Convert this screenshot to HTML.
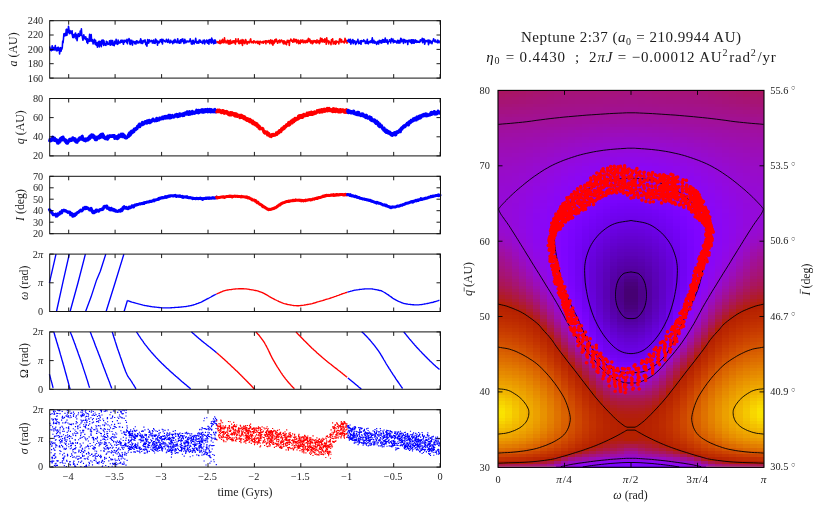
<!DOCTYPE html>
<html><head><meta charset="utf-8"><title>Neptune 2:37</title>
<style>
html,body{margin:0;padding:0;background:#fff;}
svg{display:block;}
text{font-family:"Liberation Serif",serif;fill:#1c1c1c;}

</style></head><body>
<svg width="830" height="508" viewBox="0 0 830 508">
<defs><filter id="idf" filterUnits="userSpaceOnUse" x="0" y="0" width="830" height="508" color-interpolation-filters="sRGB"><feOffset dx="0" dy="0"/></filter></defs>
<rect width="830" height="508" fill="#fff"/>
<g id="left">
<path d="M49.4 47.4 49.8 47.1 50.2 48.6 50.6 50.2 51 49.4 51.4 50.7 51.8 48.4 52.2 45.7 52.6 49.8 52.9 50.1 53.3 47.5 53.7 47.6 54.1 47.9 54.5 49.9 54.9 47.6 55.3 45.6 55.7 49.9 56.1 47.7 56.5 50.8 56.8 49.4 57.2 50.8 57.6 47.6 58 50.2 58.4 47.2 58.8 47.7 59.2 48.7 59.6 53.9 60 49.5 60.4 48.3 60.7 47.7 61.1 51.1 61.5 48.5 61.9 49.1 62.3 47.3 62.7 41 63.1 42.8 63.5 38.5 63.9 33.8 64.3 36 64.6 34.3 65 33.4 65.4 33.2 65.8 35.7 66.2 29.6 66.6 29.2 67 35.3 67.4 29.5 67.8 30.9 68.2 32.3 68.5 26.3 68.9 29.1 69.3 33.7 69.7 31.3 70.1 30.7 70.5 32.9 70.9 31.5 71.3 33.6 71.7 32.2 72.1 30.8 72.4 35.7 72.8 37.5 73.2 35.6 73.6 34.5 74 37.6 74.4 36.4 74.8 35.7 75.2 33.4 75.6 33 76 38.7 76.3 37.7 76.7 34.7 77.1 40.7 77.5 37.5 77.9 36.7 78.3 33.6 78.7 34.6 79.1 36.5 79.5 36.1 79.9 35.4 80.2 31.1 80.6 35.3 81 35.1 81.4 28.8 81.8 35.3 82.2 36 82.6 38.5 83 40.2 83.4 38 83.8 34.8 84.1 36.3 84.5 38.1 84.9 36.9 85.3 39.5 85.7 36.7 86.1 39.3 86.5 38.2 86.9 42.5 87.3 38.9 87.7 43.5 88 39.2 88.4 40.3 88.8 41.5 89.2 39.1 89.6 34.4 90 41.2 90.4 40.8 90.8 39.2 91.2 34.6 91.6 40.8 91.9 41.3 92.3 39.6 92.7 40.3 93.1 43.9 93.5 41.9 93.9 41.8 94.3 39.4 94.7 41.6 95.1 44.2 95.5 40.2 95.8 42 96.2 45.2 96.6 43.9 97 42.9 97.4 47.2 97.8 45.4 98.2 42.1 98.6 43.4 99 41.2 99.3 47 99.7 41.5 100.1 45.1 100.5 41.5 100.9 43 101.3 46.7 101.7 40.5 102.1 40.1 102.5 43.4 102.9 43.9 103.2 40.1 103.6 45.5 104 40.9 104.4 44.5 104.8 43.4 105.2 45.1 105.6 44.7 106 45.4 106.4 41.2 106.8 43.5 107.1 41.7 107.5 43.2 107.9 44.4 108.3 43.8 108.7 44.1 109.1 43.1 109.5 40.9 109.9 43.6 110.3 45.3 110.7 44.3 111 40.2 111.4 44 111.8 44.6 112.2 42.3 112.6 40.5 113 45.2 113.4 43.1 113.8 43.7 114.2 45.6 114.6 41.4 114.9 42.6 115.3 42.4 115.7 43.8 116.1 39.2 116.5 43.4 116.9 42.7 117.3 44.2 117.7 44.4 118.1 40.1 118.5 43.1 118.8 41.8 119.2 42.3 119.6 42.9 120 43 120.4 41.1 120.8 40.4 121.2 42.3 121.6 42 122 40.1 122.4 40.8 122.7 41.3 123.1 42.9 123.5 44.2 123.9 40.3 124.3 40.3 124.7 42.1 125.1 40.9 125.5 40.5 125.9 40.4 126.3 40.3 126.6 42.5 127 39.3 127.4 43.8 127.8 40.3 128.2 40.9 128.6 40.3 129 38.6 129.4 39.3 129.8 43.6 130.2 44.5 130.5 40.3 130.9 43.3 131.3 41.7 131.7 40.3 132.1 44.4 132.5 45.1 132.9 41.2 133.3 41.5 133.7 42 134.1 41.5 134.4 42.8 134.8 43.7 135.2 41.8 135.6 42.9 136 43.9 136.4 40.9 136.8 41.6 137.2 41 137.6 42.9 138 42.5 138.3 42.9 138.7 42.8 139.1 41.3 139.5 42.6 139.9 41 140.3 41 140.7 38.7 141.1 43.5 141.5 40.3 141.9 41.6 142.2 41.5 142.6 43.5 143 42.2 143.4 40.5 143.8 41.6 144.2 41.4 144.6 41.9 145 39.9 145.4 41.5 145.8 44.6 146.1 42.5 146.5 44.3 146.9 46.1 147.3 42.2 147.7 39.6 148.1 41.4 148.5 43.1 148.9 42.8 149.3 39.9 149.7 41.3 150 41.4 150.4 41.6 150.8 41.5 151.2 40.4 151.6 40.7 152 41.2 152.4 43 152.8 40.8 153.2 42.5 153.6 40 153.9 43.3 154.3 41.7 154.7 41.5 155.1 43.4 155.5 39.1 155.9 39.5 156.3 42.2 156.7 40.4 157.1 41 157.5 45.2 157.8 41.2 158.2 41.6 158.6 41.4 159 43 159.4 41.9 159.8 41.8 160.2 39.8 160.6 41 161 41.5 161.4 39.4 161.7 42.3 162.1 42.1 162.5 44 162.9 39.3 163.3 40.2 163.7 40.2 164.1 40.6 164.5 41.4 164.9 41.2 165.3 41.9 165.6 41.8 166 41.4 166.4 39.4 166.8 40.7 167.2 41.6 167.6 42.3 168 42.4 168.4 39.3 168.8 40.8 169.2 41.4 169.5 42 169.9 43.1 170.3 41.6 170.7 40.3 171.1 42.1 171.5 41.8 171.9 41.8 172.3 41.4 172.7 43.7 173.1 41.8 173.4 42.7 173.8 40.3 174.2 42.6 174.6 40.7 175 39.4 175.4 41.9 175.8 42.3 176.2 41.2 176.6 41.5 177 42.9 177.3 40.9 177.7 38.7 178.1 41.9 178.5 41.8 178.9 43 179.3 41.1 179.7 43.3 180.1 43.1 180.5 39.7 180.9 42.8 181.2 40 181.6 39.4 182 41.1 182.4 40.7 182.8 38.8 183.2 41.8 183.6 42.3 184 43.4 184.4 41.4 184.8 39.4 185.1 40.2 185.5 42.8 185.9 42.7 186.3 42.2 186.7 41.1 187.1 41.8 187.5 41.2 187.9 41.1 188.3 41.9 188.7 41.6 189 41.2 189.4 41.6 189.8 40.8 190.2 38.9 190.6 40.7 191 41.4 191.4 43.9 191.8 41 192.2 44.2 192.6 43.5 192.9 40.3 193.3 40.5 193.7 41.7 194.1 43.9 194.5 42 194.9 42.5 195.3 40.6 195.7 38.3 196.1 41.2 196.5 42.6 196.8 43.1 197.2 41.6 197.6 41.8 198 43.1 198.4 41.3 198.8 43.1 199.2 40 199.6 40 200 40 200.4 42.2 200.7 40.8 201.1 41.7 201.5 42.1 201.9 42 202.3 43.3 202.7 43.5 203.1 40.4 203.5 41.8 203.9 41.2 204.3 40.1 204.6 43.9 205 42.6 205.4 41.3 205.8 41 206.2 42 206.6 40.1 207 41.2 207.4 43.2 207.8 42.8 208.2 40.4 208.5 40.9 208.9 44.2 209.3 39.6 209.7 40.7 210.1 39.6 210.5 42 210.9 41.9 211.3 43.1 211.7 38 212.1 41.8 212.4 39.3 212.8 42.4 213.2 41.3 213.6 43.8 214 42 214.4 40.1 214.8 43.3 215.2 40 215.6 41 216 43 216.3 42.2 216.7 42.1" fill="none" stroke="#0000ff" stroke-width="1.6" stroke-linejoin="round" />
<path d="M216.7 42.1 217.1 41.6 217.5 42.3 217.9 42.7 218.3 41.9 218.7 42.9 219.1 43.3 219.5 41.6 219.9 40.3 220.2 43.6 220.6 41.5 221 42.4 221.4 42.9 221.8 40.3 222.2 42.2 222.6 39.4 223 42.6 223.4 41 223.8 41.8 224.1 42.6 224.5 37.8 224.9 41.7 225.3 40.7 225.7 41.6 226.1 43 226.5 41.7 226.9 41.4 227.3 40.2 227.6 42.8 228 41.6 228.4 43.9 228.8 40.6 229.2 43 229.6 44 230 41.6 230.4 40 230.8 43.6 231.2 43 231.5 42.5 231.9 43.1 232.3 41 232.7 42.6 233.1 42.5 233.5 40.7 233.9 42.6 234.3 40.9 234.7 42.9 235.1 43.2 235.4 44.1 235.8 38.9 236.2 42 236.6 41.2 237 41.6 237.4 41.3 237.8 41.4 238.2 38.8 238.6 43 239 43.7 239.3 42.9 239.7 43.4 240.1 40.5 240.5 40.4 240.9 42.9 241.3 43.5 241.7 42 242.1 39.6 242.5 45.5 242.9 40.8 243.2 43 243.6 40.1 244 43 244.4 41.9 244.8 43.6 245.2 42.9 245.6 39.6 246 40.4 246.4 42.1 246.8 42.7 247.1 44.2 247.5 42.1 247.9 41.6 248.3 41.6 248.7 41.6 249.1 43.1 249.5 41.6 249.9 41.6 250.3 39.7 250.7 38.9 251 41.7 251.4 42.6 251.8 41.6 252.2 42.4 252.6 42.5 253 41.6 253.4 43 253.8 40.7 254.2 41.7 254.6 41.2 254.9 41.8 255.3 42.5 255.7 42.8 256.1 41.8 256.5 42.3 256.9 41.2 257.3 41.5 257.7 43.4 258.1 41.4 258.5 43.4 258.8 42.4 259.2 41.9 259.6 44.4 260 41.4 260.4 41.3 260.8 41.7 261.2 42.1 261.6 42 262 42.9 262.4 41.9 262.7 42.3 263.1 41.4 263.5 43.2 263.9 41.2 264.3 41.3 264.7 41.7 265.1 42.1 265.5 40.7 265.9 43.8 266.3 40.9 266.6 41.2 267 41.1 267.4 41 267.8 42.4 268.2 41.9 268.6 40.6 269 40.9 269.4 41.2 269.8 43.6 270.2 40.8 270.5 39.9 270.9 40.1 271.3 41.2 271.7 43.7 272.1 40.2 272.5 41.7 272.9 45.1 273.3 41 273.7 43.6 274.1 43.3 274.4 42.4 274.8 39.7 275.2 42 275.6 41.1 276 39.1 276.4 39.3 276.8 41.7 277.2 41.8 277.6 43.3 278 42.5 278.3 40.9 278.7 41 279.1 41.4 279.5 40.1 279.9 42.6 280.3 41.6 280.7 40.5 281.1 40.7 281.5 40 281.9 41 282.2 41.9 282.6 41 283 42.9 283.4 43.8 283.8 40.7 284.2 41.6 284.6 41.1 285 43.9 285.4 42 285.8 42.3 286.1 42.7 286.5 44.7 286.9 42 287.3 40.3 287.7 41 288.1 42.3 288.5 41.5 288.9 40.4 289.3 45.4 289.7 41.7 290 40.7 290.4 40.6 290.8 39.1 291.2 39.9 291.6 41.1 292 41.1 292.4 40.4 292.8 42.3 293.2 41.6 293.6 40.2 293.9 38.8 294.3 41.7 294.7 41.6 295.1 41.2 295.5 39.6 295.9 41.5 296.3 39.5 296.7 42.9 297.1 41.8 297.5 41.8 297.8 40.4 298.2 40 298.6 43.6 299 42.8 299.4 41 299.8 42.4 300.2 43.6 300.6 40.1 301 40.8 301.4 40.8 301.7 42.2 302.1 40.1 302.5 41.8 302.9 40 303.3 42.8 303.7 42.7 304.1 41.2 304.5 42.5 304.9 40.6 305.3 41.1 305.6 42.8 306 41.4 306.4 42 306.8 40.2 307.2 42.4 307.6 42.1 308 39.8 308.4 38.4 308.8 38.7 309.2 41.4 309.5 41.2 309.9 39.4 310.3 41.7 310.7 42.9 311.1 41.3 311.5 40.9 311.9 42.7 312.3 43.8 312.7 43.5 313.1 40.6 313.4 42.6 313.8 41.7 314.2 41.2 314.6 40.6 315 42 315.4 40.8 315.8 42.8 316.2 42 316.6 42.9 317 39.9 317.3 41.5 317.7 42.5 318.1 42 318.5 41.8 318.9 40.5 319.3 43.7 319.7 43 320.1 42 320.5 38 320.9 40.2 321.2 41.7 321.6 40.5 322 38.6 322.4 41.8 322.8 42 323.2 39.8 323.6 40.8 324 40.6 324.4 42.2 324.8 38.8 325.1 39.1 325.5 40.7 325.9 40.6 326.3 44.3 326.7 37.7 327.1 41.8 327.5 40.9 327.9 40.6 328.3 42 328.7 43.9 329 41 329.4 42.5 329.8 42 330.2 42.4 330.6 42 331 44.7 331.4 39.8 331.8 41.2 332.2 40 332.6 38.7 332.9 41.5 333.3 44 333.7 42.8 334.1 43.2 334.5 42.2 334.9 41.4 335.3 44.3 335.7 41 336.1 43.6 336.5 41.1 336.8 41.7 337.2 41.9 337.6 41.6 338 42.3 338.4 42.4 338.8 43.9 339.2 41.5 339.6 38.9 340 38.7 340.4 39.7 340.7 40.5 341.1 42.5 341.5 39.5 341.9 41.6 342.3 41.6 342.7 41.9 343.1 41.4 343.5 42.1 343.9 41.6 344.3 43 344.6 42 345 38.3 345.4 39.5 345.8 41.8 346.2 40.8 346.6 40.5 347 43.1 347.4 41.8" fill="none" stroke="#ff0000" stroke-width="1.6" stroke-linejoin="round" />
<path d="M347.4 41.8 347.8 40.2 348.2 41.1 348.5 41.3 348.9 39.3 349.3 42.5 349.7 41.4 350.1 42.2 350.5 39.4 350.9 44.2 351.3 42.4 351.7 42.2 352.1 40.6 352.4 40.7 352.8 39.6 353.2 43.7 353.6 40.5 354 41.9 354.4 42.4 354.8 40.8 355.2 42.8 355.6 44.4 356 42 356.3 43.6 356.7 42.4 357.1 41 357.5 41.1 357.9 39.3 358.3 41.8 358.7 43.7 359.1 42.6 359.5 42.8 359.8 43.2 360.2 40.9 360.6 42.4 361 44.3 361.4 40.5 361.8 41.7 362.2 41 362.6 41.4 363 40.6 363.4 41.5 363.7 39.8 364.1 40.9 364.5 41 364.9 40.9 365.3 43.5 365.7 41.7 366.1 41.9 366.5 41.2 366.9 43.4 367.3 39.2 367.6 41.4 368 43.2 368.4 43.9 368.8 41.9 369.2 41.6 369.6 42.5 370 41.4 370.4 42.4 370.8 40.7 371.2 42.5 371.5 41.6 371.9 40.1 372.3 37.9 372.7 42.9 373.1 42.2 373.5 42.7 373.9 40.4 374.3 43.1 374.7 42.2 375.1 41.5 375.4 42.9 375.8 42.8 376.2 42.2 376.6 44.4 377 43.5 377.4 42.1 377.8 41.3 378.2 41.8 378.6 44 379 42.2 379.3 40.4 379.7 40.7 380.1 41.6 380.5 42.7 380.9 40.6 381.3 42.3 381.7 43.1 382.1 42.6 382.5 39.5 382.9 41.2 383.2 39.9 383.6 42.2 384 40.2 384.4 42.3 384.8 41.7 385.2 38 385.6 40.4 386 42.2 386.4 41.6 386.8 41.1 387.1 39.8 387.5 42.2 387.9 43.9 388.3 41.9 388.7 41.5 389.1 41.4 389.5 39.7 389.9 41.1 390.3 40.4 390.7 43 391 40.3 391.4 38.6 391.8 40.4 392.2 41.2 392.6 41.3 393 39 393.4 42.8 393.8 41.7 394.2 40.9 394.6 40.5 394.9 42.1 395.3 41.1 395.7 41.9 396.1 41.3 396.5 41.7 396.9 43.1 397.3 41.5 397.7 40.3 398.1 42.9 398.5 41.8 398.8 40.6 399.2 43 399.6 41.3 400 43 400.4 39.9 400.8 38.3 401.2 38.7 401.6 41.8 402 40.5 402.4 41.3 402.7 41.4 403.1 39.3 403.5 43.4 403.9 40 404.3 41.6 404.7 39.5 405.1 41.2 405.5 42.4 405.9 41.1 406.3 40.5 406.6 41.5 407 40.8 407.4 42.2 407.8 44.5 408.2 40.2 408.6 40.5 409 41.3 409.4 41.4 409.8 40.1 410.2 42.1 410.5 42.5 410.9 41.8 411.3 39.8 411.7 43.4 412.1 39.8 412.5 42.4 412.9 43 413.3 39.7 413.7 41.6 414.1 43.3 414.4 42 414.8 40.2 415.2 39.8 415.6 42.1 416 40.9 416.4 40.5 416.8 42.4 417.2 41 417.6 41.6 418 42.3 418.3 42.2 418.7 41.4 419.1 41.5 419.5 42.3 419.9 42.1 420.3 39.9 420.7 41.2 421.1 40.3 421.5 39.8 421.9 40.7 422.2 38.3 422.6 42.7 423 40.4 423.4 42 423.8 38.9 424.2 39.1 424.6 44.2 425 42.9 425.4 40.6 425.8 40.4 426.1 40.5 426.5 41.6 426.9 40.9 427.3 40.6 427.7 41.6 428.1 40.1 428.5 44.7 428.9 40.6 429.3 43 429.7 40.2 430 41.8 430.4 42.8 430.8 41 431.2 42.8 431.6 42.8 432 43.7 432.4 41.5 432.8 40.8 433.2 40.1 433.6 38.8 433.9 40 434.3 41.5 434.7 41.6 435.1 40.7 435.5 40 435.9 42 436.3 41.8 436.7 41.7 437.1 41.4 437.5 42.8 437.8 40.1 438.2 42.1 438.6 40.9 439 42.7 439.4 41 439.8 41" fill="none" stroke="#0000ff" stroke-width="1.6" stroke-linejoin="round" />
<path d="M68.7 78.1v-4M68.7 20.7v4M115.1 78.1v-4M115.1 20.7v4M161.6 78.1v-4M161.6 20.7v4M208.0 78.1v-4M208.0 20.7v4M254.4 78.1v-4M254.4 20.7v4M300.8 78.1v-4M300.8 20.7v4M347.2 78.1v-4M347.2 20.7v4M393.7 78.1v-4M393.7 20.7v4M440.1 78.1v-4M440.1 20.7v4M49.7 78.1h4M440.5 78.1h-4M49.7 63.7h4M440.5 63.7h-4M49.7 49.4h4M440.5 49.4h-4M49.7 35.0h4M440.5 35.0h-4M49.7 20.7h4M440.5 20.7h-4" stroke="#000" stroke-width="0.9" fill="none"/>
<rect x="49.7" y="20.7" width="390.8" height="57.4" fill="none" stroke="#111" stroke-width="1.0"/>
<path d="M49.4 141.8 49.8 140.2 50.1 139.2 50.4 141.1 50.7 139.5 51.1 139.3 51.4 140.6 51.7 139 52 139.5 52.4 139.7 52.7 137.1 53 140.1 53.3 139.4 53.7 138.6 54 139.3 54.3 140.5 54.6 138.1 55 140.5 55.3 140.3 55.6 139.2 55.9 139.4 56.3 139.4 56.6 141.4 56.9 140.8 57.2 141 57.6 143.1 57.9 140.6 58.2 143.3 58.5 141.4 58.9 142.2 59.2 142.3 59.5 142.3 59.8 139.6 60.2 141.5 60.5 138.5 60.8 140.5 61.1 139.8 61.5 139.9 61.8 137.5 62.1 140.1 62.4 137.4 62.8 138.9 63.1 137.1 63.4 138.1 63.7 139.7 64.1 138.9 64.4 140.3 64.7 139.8 65 141.2 65.4 139.7 65.7 140.5 66 141.7 66.3 142.9 66.7 140.4 67 143.3 67.3 142.5 67.6 143.3 68 142 68.3 141.5 68.6 141 68.9 141.4 69.3 141.3 69.6 139.3 69.9 140.6 70.2 140.3 70.6 139.8 70.9 140.4 71.2 138.9 71.5 140.6 71.9 139.6 72.2 139.3 72.5 139.7 72.8 137.8 73.2 139.4 73.5 139.4 73.8 139.4 74.1 138.5 74.5 140.4 74.8 138.8 75.1 138.8 75.4 141.2 75.8 141.8 76.1 140 76.4 141.6 76.7 141.9 77.1 142.4 77.4 140.8 77.7 140 78 139.7 78.4 140.2 78.7 140.4 79 138.4 79.3 139.1 79.7 137.7 80 138.3 80.3 138 80.6 137.6 81 139.3 81.3 138.8 81.6 139.1 81.9 136.5 82.3 136.2 82.6 138 82.9 139.4 83.2 139.8 83.6 138.9 83.9 139.1 84.2 139.9 84.5 140.5 84.9 139.1 85.2 138.8 85.5 140.9 85.8 140.4 86.2 140.4 86.5 139.7 86.8 139.6 87.1 140.1 87.5 138.6 87.8 139.9 88.1 139.9 88.4 138.1 88.8 137.5 89.1 136.9 89.4 139 89.7 138.7 90.1 137.5 90.4 135.7 90.7 136.5 91 136.1 91.4 136.8 91.7 134.7 92 137.2 92.3 135.7 92.7 135.3 93 135.1 93.3 135.3 93.6 136.9 94 137.8 94.3 136 94.6 137.6 94.9 138.6 95.3 139.7 95.6 138.1 95.9 138.2 96.2 139.3 96.6 139.7 96.9 138.5 97.2 137.1 97.5 138.1 97.9 137.3 98.2 136.8 98.5 137.1 98.8 137.7 99.2 138.2 99.5 136.2 99.8 135.6 100.1 135.2 100.5 137.5 100.8 137.3 101.1 135.2 101.4 134.3 101.8 136.6 102.1 135.1 102.4 136.2 102.7 134 103.1 136.1 103.4 137.4 103.7 135.5 104 137.5 104.4 137.2 104.7 138.3 105 137.7 105.3 138.8 105.7 138.6 106 137.8 106.3 138.6 106.6 137.5 107 136.8 107.3 137.6 107.6 139.2 107.9 136.1 108.3 138.2 108.6 137.8 108.9 136.9 109.2 136.4 109.6 136.9 109.9 136.2 110.2 135.7 110.5 136.1 110.9 136.5 111.2 136.1 111.5 136.1 111.8 136.4 112.2 135.5 112.5 135.9 112.8 136.5 113.1 135.6 113.5 135.6 113.8 136.3 114.1 137.3 114.4 135.6 114.8 138.6 115.1 136.7 115.4 138.1 115.7 138.2 116.1 137 116.4 137.6 116.7 136.5 117 136.5 117.4 138.8 117.7 137.3 118 136.1 118.3 138.2 118.7 136.5 119 134.9 119.3 136.7 119.6 136.9 120 136.5 120.3 136.1 120.6 136.2 120.9 135.7 121.3 134.1 121.6 135.3 121.9 135.1 122.2 136.7 122.6 136.8 122.9 134.1 123.2 136.2 123.5 134.5 123.9 136.5 124.2 135.6 124.5 135.5 124.8 137.5 125.2 137.8 125.5 137 125.8 138 126.1 137.5 126.5 138 126.8 137.8 127.1 137.4 127.4 136.6 127.8 136.3 128.1 135.6 128.4 134.9 128.7 136.6 129.1 133.4 129.4 134.8 129.7 132.8 130 135.3 130.4 134.8 130.7 134.4 131 131.6 131.3 132.7 131.7 131.1 132 131.3 132.3 132.9 132.6 131.9 133 131.8 133.3 131.1 133.6 130 133.9 131.8 134.3 128.9 134.6 130.1 134.9 130.1 135.2 128.8 135.6 129.8 135.9 128.2 136.2 128.8 136.5 128.3 136.9 128.8 137.2 128.5 137.5 126.2 137.8 126.8 138.2 126.9 138.5 125.5 138.8 124.8 139.1 126.8 139.5 124 139.8 126.8 140.1 124.7 140.4 125.6 140.8 125.4 141.1 124.4 141.4 123.9 141.7 124.3 142.1 123.2 142.4 122.4 142.7 124.7 143 124.3 143.4 123.1 143.7 123.6 144 123.8 144.3 123.2 144.7 122.4 145 121.6 145.3 121.5 145.6 121.6 146 123 146.3 121.2 146.6 121.6 146.9 123.2 147.3 120.7 147.6 122.8 147.9 121.4 148.2 121.3 148.6 120.6 148.9 121.1 149.2 120.2 149.5 122.8 149.9 122.7 150.2 122 150.5 120.7 150.8 121.1 151.2 121.9 151.5 121.4 151.8 120.3 152.1 120.6 152.5 119.5 152.8 120.4 153.1 119 153.4 119.3 153.8 120.1 154.1 120.4 154.4 120.9 154.7 120.6 155.1 120.4 155.4 120.3 155.7 120.7 156 119.8 156.4 120.8 156.7 118.3 157 119.2 157.3 120.5 157.7 119.7 158 119.8 158.3 120 158.6 118.9 159 119.8 159.3 119.9 159.6 118.1 159.9 119 160.3 118.1 160.6 118.6 160.9 118.5 161.2 119 161.5 118.5 161.9 118.3 162.2 118.6 162.5 117 162.8 118.7 163.2 118.8 163.5 118.4 163.8 116.9 164.1 116.7 164.5 117.5 164.8 117.9 165.1 117.1 165.4 116.4 165.8 118.1 166.1 116.7 166.4 116.4 166.7 117.3 167.1 117.9 167.4 116.4 167.7 117.7 168 117.1 168.4 116.6 168.7 115.3 169 117.9 169.3 118 169.7 116.5 170 115.3 170.3 117.9 170.6 115.9 171 117.8 171.3 116.1 171.6 117.3 171.9 115.5 172.3 116.4 172.6 115.4 172.9 116.7 173.2 117.2 173.6 116.9 173.9 116.6 174.2 116.9 174.5 116.7 174.9 115.7 175.2 116 175.5 114.7 175.8 115.7 176.2 115.5 176.5 114.9 176.8 114.3 177.1 115.2 177.5 116.8 177.8 115.3 178.1 116.5 178.4 114.8 178.8 116.4 179.1 114.8 179.4 115.9 179.7 113.7 180.1 116 180.4 114.1 180.7 114 181 115.2 181.4 114.2 181.7 114.9 182 115.1 182.3 115.1 182.7 115.8 183 113.7 183.3 115.6 183.6 115.1 184 115.5 184.3 113.2 184.6 113.9 184.9 114 185.3 113.5 185.6 112.8 185.9 113.4 186.2 113.7 186.6 114.2 186.9 113.4 187.2 111.8 187.5 113.1 187.9 113.3 188.2 112.1 188.5 114.6 188.8 114.3 189.2 112 189.5 111.5 189.8 114.2 190.1 114.2 190.5 114.1 190.8 112.3 191.1 113.6 191.4 112.3 191.8 111.9 192.1 113.8 192.4 111.2 192.7 113 193.1 112.1 193.4 112.7 193.7 112.7 194 112.4 194.4 113.4 194.7 112.1 195 112.6 195.3 112.3 195.7 112.8 196 112.3 196.3 111.1 196.6 110.1 197 112.5 197.3 110.5 197.6 111.2 197.9 112.7 198.3 112.9 198.6 110.3 198.9 112.2 199.2 112.6 199.6 111.1 199.9 110.8 200.2 110.2 200.5 111.4 200.9 111.8 201.2 111.7 201.5 111.9 201.8 110.6 202.2 109.6 202.5 112.2 202.8 111.3 203.1 111.4 203.5 112.3 203.8 110.8 204.1 109.7 204.4 111.9 204.8 110.5 205.1 109.9 205.4 111.7 205.7 109.6 206.1 110 206.4 110.3 206.7 111.6 207 111.4 207.4 111.8 207.7 109.2 208 109.5 208.3 111.8 208.7 110.4 209 111.5 209.3 109.9 209.6 110.5 210 109.3 210.3 110.1 210.6 112 210.9 111.2 211.3 110.5 211.6 109.6 211.9 111.2 212.2 111.7 212.6 111.5 212.9 111.5 213.2 111.8 213.5 111.2 213.9 111.5 214.2 110.7 214.5 109.6 214.8 109.4 215.2 111.9 215.5 110.6 215.8 110.4 216.1 111.9 216.5 110.9 216.8 111.9" fill="none" stroke="#0000ff" stroke-width="3.0" stroke-linejoin="round" />
<path d="M216.5 110.9 216.8 111.9 217.1 111.4 217.4 111.5 217.8 110 218.1 111.8 218.4 110.9 218.7 110.7 219.1 111.6 219.4 109.9 219.7 111.8 220 111.9 220.4 110.9 220.7 111.5 221 110.9 221.3 112.7 221.7 112.8 222 111 222.3 112 222.6 110.5 223 112.5 223.3 112.6 223.6 110.8 223.9 112.4 224.3 113.4 224.6 113.1 224.9 111.5 225.2 113.1 225.6 112.3 225.9 111.5 226.2 112.3 226.5 112 226.9 111.4 227.2 113.6 227.5 111.9 227.8 113 228.2 114.2 228.5 114.6 228.8 114.1 229.1 114.7 229.5 112.8 229.8 113.5 230.1 115.1 230.4 112.6 230.8 113.6 231.1 114 231.4 115 231.7 114 232.1 112.6 232.4 113.6 232.7 114.1 233 113.7 233.4 113.9 233.7 113.7 234 115.2 234.3 115.4 234.7 116 235 113.6 235.3 116.2 235.6 115.6 236 114.8 236.3 115.1 236.6 113.9 236.9 116 237.3 116.5 237.6 116.4 237.9 115.5 238.2 116.2 238.6 115.8 238.9 115.1 239.2 116.4 239.5 115.5 239.9 117.7 240.2 116.1 240.5 115.2 240.8 115.2 241.2 116.5 241.5 115.2 241.8 117.6 242.1 117.5 242.5 117.1 242.8 117 243.1 116.2 243.4 117.5 243.8 118.8 244.1 116.8 244.4 118.5 244.7 116.8 245.1 119 245.4 118.9 245.7 119.6 246 119.2 246.4 118.4 246.7 119.6 247 120.5 247.3 119 247.7 118.6 248 120.6 248.3 119.7 248.6 120.9 249 121.3 249.3 120.4 249.6 120.8 249.9 119.3 250.3 122.1 250.6 120.4 250.9 120.2 251.2 121.5 251.6 121.6 251.9 122.6 252.2 122.7 252.5 123.5 252.9 121.1 253.2 123.9 253.5 123.7 253.8 122.1 254.2 123.1 254.5 123.1 254.8 124.1 255.1 124.7 255.5 123 255.8 125.2 256.1 125 256.4 123.8 256.8 125.5 257.1 123.8 257.4 126.5 257.7 125.5 258.1 125.7 258.4 126.1 258.7 125.7 259 128.2 259.4 127 259.7 126.5 260 129 260.3 127.7 260.7 128.4 261 128.7 261.3 128.5 261.6 128.5 262 128.5 262.3 128.3 262.6 129.3 262.9 128.7 263.3 129.9 263.6 131.4 263.9 132.1 264.2 132.7 264.6 132.4 264.9 133.1 265.2 131.6 265.5 131.8 265.9 132.1 266.2 133.1 266.5 133 266.8 133.9 267.2 132 267.5 135 267.8 134.3 268.1 133.7 268.5 135.2 268.8 133.4 269.1 134.7 269.4 135.2 269.8 136.3 270.1 135.7 270.4 134.9 270.7 135.9 271.1 136.6 271.4 135.2 271.7 136.1 272 134.5 272.4 135 272.7 134.7 273 134.2 273.3 134.2 273.7 135.5 274 134.6 274.3 135.3 274.6 135.3 275 135.1 275.3 135.1 275.6 134.7 275.9 134.4 276.3 132.9 276.6 134.1 276.9 134.5 277.2 133.2 277.6 133.7 277.9 131.9 278.2 133.2 278.5 132 278.9 132.9 279.2 131.8 279.5 130.4 279.8 131.8 280.2 130.9 280.5 130.8 280.8 131.8 281.1 131.6 281.5 128.8 281.8 130 282.1 128.6 282.4 129.2 282.8 127.7 283.1 129.3 283.4 128.1 283.7 127.5 284.1 126.5 284.4 128.5 284.7 127.3 285 126.6 285.4 126 285.7 127 286 125.5 286.3 124.8 286.7 124.6 287 125.9 287.3 125 287.6 125.2 288 124.7 288.3 124.5 288.6 122.6 288.9 125.3 289.3 122.2 289.6 124.7 289.9 124.5 290.2 123.9 290.6 123.4 290.9 121.5 291.2 121.3 291.5 120.7 291.9 122.2 292.2 123 292.5 121.1 292.8 119.9 293.2 122.1 293.5 119.6 293.8 121.8 294.1 119.4 294.5 119.8 294.8 118.3 295.1 118.2 295.4 120.4 295.8 118.7 296.1 119.4 296.4 118.6 296.7 119.6 297.1 118.5 297.4 118.1 297.7 119.3 298 117.7 298.4 116.2 298.7 118.6 299 115.8 299.3 117 299.7 117.8 300 115.4 300.3 116.9 300.6 116.9 301 116.9 301.3 115.4 301.6 117.6 301.9 117.1 302.3 116.8 302.6 117.4 302.9 114.8 303.2 115.7 303.6 115.3 303.9 114.3 304.2 115.4 304.5 116 304.9 115.2 305.2 115.3 305.5 115.6 305.8 115.7 306.2 115.3 306.5 114 306.8 115.6 307.1 112.9 307.5 115.2 307.8 114.9 308.1 115.3 308.4 114.5 308.8 114.5 309.1 113.4 309.4 112.6 309.7 114.5 310.1 112.8 310.4 114.1 310.7 113.8 311 114.5 311.4 112.1 311.7 113.6 312 112.5 312.3 114.6 312.7 112.5 313 113.9 313.3 113.2 313.6 112.5 314 113.9 314.3 112.8 314.6 111.7 314.9 113.6 315.3 112.5 315.6 113.3 315.9 113.3 316.2 112 316.6 112.1 316.9 111.5 317.2 110.6 317.5 111 317.9 112.2 318.2 111.6 318.5 111 318.8 110.4 319.2 110.9 319.5 111.3 319.8 112.4 320.1 110.1 320.5 111.9 320.8 111.3 321.1 109.8 321.4 111.9 321.8 109.6 322.1 111.6 322.4 111.9 322.7 110.5 323.1 109.6 323.4 110.6 323.7 109.3 324 110.6 324.4 109.1 324.7 111.4 325 110.7 325.3 111.2 325.7 109.3 326 110.2 326.3 109.5 326.6 110.7 327 109.1 327.3 108.3 327.6 111 327.9 110.2 328.3 108.5 328.6 108.4 328.9 108.3 329.2 110.4 329.6 109.3 329.9 110.8 330.2 109.8 330.5 109.4 330.9 110.5 331.2 110 331.5 110.3 331.8 111.2 332.2 111.4 332.5 109.2 332.8 111.7 333.1 108.7 333.5 109 333.8 108.6 334.1 109.3 334.4 111.6 334.8 111.2 335.1 110.5 335.4 111 335.7 111.6 336.1 109 336.4 109.1 336.7 109.6 337 111.2 337.4 109.5 337.7 109.7 338 111.2 338.3 111.9 338.7 111.8 339 111 339.3 109.7 339.6 112.1 340 111 340.3 111.3 340.6 109.6 340.9 111.9 341.3 110.2 341.6 111.2 341.9 110.2 342.2 109.8 342.6 109.8 342.9 109.7 343.2 111.4 343.5 111.5 343.9 112 344.2 111.7 344.5 112.2 344.8 110.2 345.2 112.4 345.5 111.8 345.8 110 346.1 110.2 346.5 109.7 346.8 111.5 347.1 112.5 347.4 110.2" fill="none" stroke="#ff0000" stroke-width="3.0" stroke-linejoin="round" />
<path d="M347.4 110.2 347.8 111.8 348.1 110.3 348.4 112.8 348.7 112.8 349.1 111.1 349.4 110.8 349.7 111.1 350 111.3 350.4 111.2 350.7 112.6 351 112.9 351.3 112.2 351.7 111.6 352 112.7 352.3 113 352.6 112.4 353 112.5 353.3 112.9 353.6 111 353.9 111.1 354.3 113.8 354.6 112.5 354.9 113.3 355.2 113.2 355.6 114.2 355.9 114.2 356.2 114.5 356.5 114.4 356.9 112.9 357.2 114.7 357.5 112.3 357.8 112.7 358.2 114.4 358.5 113.2 358.8 112.4 359.1 115 359.5 113.8 359.8 114.2 360.1 114.8 360.4 115.1 360.8 115.7 361.1 114.2 361.4 115.6 361.7 115.1 362.1 113.7 362.4 115.6 362.7 115.8 363 114 363.4 115.2 363.7 115.3 364 116.4 364.3 115.3 364.7 116.3 365 115.9 365.3 116.5 365.6 117.6 366 115.3 366.3 116 366.6 115.3 366.9 117.4 367.3 117.6 367.6 118.2 367.9 117.8 368.2 117.8 368.6 118.3 368.9 118.3 369.2 118.3 369.5 116.7 369.9 118.2 370.2 117.3 370.5 119.8 370.8 119.7 371.2 117.5 371.5 120.5 371.8 120.6 372.1 119.3 372.5 120.2 372.8 120.8 373.1 119.7 373.4 119.8 373.8 121.3 374.1 120.4 374.4 120.9 374.7 119.9 375.1 122.6 375.4 122.4 375.7 121.6 376 123.5 376.4 121.2 376.7 121.1 377 123.3 377.3 122.1 377.7 124.1 378 122.3 378.3 124.8 378.6 125.8 379 125.9 379.3 125 379.6 126.7 379.9 124.1 380.3 125.5 380.6 125.9 380.9 126 381.2 126.9 381.6 125.7 381.9 126.6 382.2 127.8 382.5 128.5 382.9 129.2 383.2 129 383.5 129.1 383.8 130.3 384.2 128.1 384.5 130.4 384.8 129.8 385.1 131.6 385.5 130.4 385.8 130.4 386.1 132.4 386.4 129.9 386.8 132.6 387.1 132.6 387.4 131.3 387.7 132.7 388.1 131.1 388.4 133.3 388.7 133.3 389 132.3 389.4 132 389.7 132 390 134 390.3 133.4 390.7 134 391 133.5 391.3 135 391.6 133.3 392 133.7 392.3 135.5 392.6 135.2 392.9 135 393.3 133.2 393.6 134.6 393.9 133.9 394.2 132.7 394.6 134.3 394.9 132.5 395.2 134.4 395.5 135 395.9 134.7 396.2 132.6 396.5 133.4 396.8 131.8 397.2 132.6 397.5 131.9 397.8 132.7 398.1 131.7 398.5 131.2 398.8 132 399.1 131.6 399.4 130.2 399.8 129.8 400.1 131.2 400.4 131.8 400.7 129.1 401.1 130.1 401.4 128.1 401.7 128.4 402 129.2 402.4 127.3 402.7 127.9 403 127.1 403.3 126.4 403.7 127.1 404 125.7 404.3 127.1 404.6 126.8 405 125.9 405.3 126.4 405.6 125.1 405.9 125.5 406.3 124.5 406.6 124 406.9 124.5 407.2 123.2 407.6 123.3 407.9 122.7 408.2 125.1 408.5 125 408.9 122.8 409.2 123.4 409.5 121.5 409.8 122.8 410.2 121.4 410.5 122.7 410.8 121.4 411.1 120.3 411.5 120.2 411.8 121.5 412.1 120.9 412.4 120.5 412.8 120.9 413.1 120.3 413.4 118.7 413.7 118.8 414.1 120.4 414.4 119.1 414.7 118.2 415 119.9 415.4 118.2 415.7 118.2 416 117.8 416.3 120 416.7 117.2 417 116.9 417.3 118.9 417.6 117.5 418 119 418.3 117.2 418.6 116.8 418.9 116.5 419.3 116 419.6 117.7 419.9 118.1 420.2 115.8 420.6 118 420.9 117.3 421.2 117.2 421.5 115.4 421.9 116.2 422.2 115 422.5 115.3 422.8 114.7 423.2 114.7 423.5 114.4 423.8 116 424.1 115.7 424.5 114.7 424.8 114.8 425.1 114.1 425.4 113.9 425.8 115.4 426.1 115.9 426.4 114 426.7 114 427.1 115.1 427.4 115.7 427.7 115.7 428 114.9 428.4 114.7 428.7 114.8 429 115.2 429.3 114.7 429.7 114.1 430 115 430.3 114.5 430.6 113.8 431 112.4 431.3 112.3 431.6 113.6 431.9 114.4 432.3 113.8 432.6 112.6 432.9 113.2 433.2 112.7 433.6 112.1 433.9 112.3 434.2 111.5 434.5 114 434.9 113.3 435.2 114.1 435.5 112.5 435.8 112.3 436.2 113.3 436.5 114 436.8 112.6 437.1 113.6 437.5 113.3 437.8 112.8 438.1 111 438.4 112.8 438.8 111.6 439.1 112.5 439.4 112.3 439.7 113.2 440.1 112.9" fill="none" stroke="#0000ff" stroke-width="3.0" stroke-linejoin="round" />
<path d="M68.7 155.9v-4M68.7 98.5v4M115.1 155.9v-4M115.1 98.5v4M161.6 155.9v-4M161.6 98.5v4M208.0 155.9v-4M208.0 98.5v4M254.4 155.9v-4M254.4 98.5v4M300.8 155.9v-4M300.8 98.5v4M347.2 155.9v-4M347.2 98.5v4M393.7 155.9v-4M393.7 98.5v4M440.1 155.9v-4M440.1 98.5v4M49.7 155.9h4M440.5 155.9h-4M49.7 136.8h4M440.5 136.8h-4M49.7 117.6h4M440.5 117.6h-4M49.7 98.5h4M440.5 98.5h-4" stroke="#000" stroke-width="0.9" fill="none"/>
<rect x="49.7" y="98.5" width="390.8" height="57.4" fill="none" stroke="#111" stroke-width="1.0"/>
<path d="M49.4 209.6 50 210.4 50.5 211.8 51.1 211.1 51.7 212.8 52.2 213 52.8 214.1 53.3 214.8 53.9 214.4 54.4 214.4 55 214.6 55.6 214 56.1 216.2 56.7 215.4 57.2 215.9 57.8 213.9 58.3 214.9 58.9 214.4 59.5 214.2 60 212.4 60.6 212.7 61.1 211.8 61.7 213 62.2 210.6 62.8 210.8 63.4 210.5 63.9 210 64.5 210.9 65 211 65.6 210.6 66.1 211 66.7 211.6 67.3 211.7 67.8 212.4 68.4 211.9 68.9 212 69.5 212.9 70 212.2 70.6 214.8 71.2 214.4 71.7 213.6 72.3 215.3 72.8 216.3 73.4 214.4 73.9 214.9 74.5 215.7 75.1 214 75.6 214.7 76.2 214.3 76.7 213 77.3 212.7 77.8 212.7 78.4 211.9 79 212 79.5 211.1 80.1 210.8 80.6 210.1 81.2 210.6 81.7 210.9 82.3 210.6 82.9 209.6 83.4 208.1 84 208 84.5 208.6 85.1 207.3 85.6 208.6 86.2 207.3 86.8 208.3 87.3 207.8 87.9 208.1 88.4 208.9 89 208.8 89.5 210 90.1 209.8 90.7 209.6 91.2 208.3 91.8 211 92.3 211.7 92.9 212.6 93.4 211.2 94 212.8 94.6 212 95.1 211.1 95.7 211.8 96.2 209.9 96.8 210 97.3 210.9 97.9 210.8 98.5 211.2 99 211.1 99.6 209.8 100.1 209.5 100.7 209.5 101.2 209.4 101.8 209.7 102.4 208.7 102.9 209.4 103.5 208 104 206.6 104.6 206.3 105.1 207.2 105.7 207 106.3 205.9 106.8 205.9 107.4 208.4 107.9 208.1 108.5 208.2 109 208 109.6 209.8 110.2 209.1 110.7 209.8 111.3 208.2 111.8 209.5 112.4 210 112.9 210.2 113.5 209.3 114.1 209.6 114.6 210.8 115.2 210 115.7 211.1 116.3 210.8 116.8 211.3 117.4 211.4 118 211.1 118.5 211.3 119.1 210.4 119.6 210.2 120.2 210.8 120.7 211.1 121.3 209.4 121.9 210.6 122.4 209.9 123 207.6 123.5 207.2 124.1 206.7 124.6 207.5 125.2 208.2 125.8 207.9 126.3 207.4 126.9 208.4 127.4 208.3 128 208.7 128.5 208.4 129.1 207 129.7 207 130.2 207.8 130.8 207.5 131.3 206.9 131.9 205.9 132.4 206.8 133 205.9 133.6 207 134.1 205.7 134.7 205.2 135.2 204.9 135.8 205.3 136.3 205 136.9 204.5 137.5 204.7 138 204.6 138.6 204.2 139.1 204.1 139.7 203.8 140.2 203.7 140.8 203.9 141.4 203.7 141.9 203.5 142.5 203.7 143 203.5 143.6 202.9 144.1 203.4 144.7 202.6 145.3 202.6 145.8 202.6 146.4 202.3 146.9 202.2 147.5 201.9 148 202.1 148.6 202 149.2 201.8 149.7 201.2 150.3 201.3 150.8 201.6 151.4 201.3 151.9 201.2 152.5 200.9 153.1 200.7 153.6 200 154.2 200.8 154.7 200 155.3 199.9 155.8 200 156.4 199.7 157 199.6 157.5 199.3 158.1 198.9 158.6 199.3 159.2 198.4 159.7 198.7 160.3 198.1 160.9 198.2 161.4 197.8 162 197.9 162.5 197.6 163.1 197.7 163.6 197.8 164.2 197.3 164.8 197.1 165.3 196.6 165.9 197.5 166.4 196.9 167 196.5 167.5 196.9 168.1 196.5 168.7 195.9 169.2 195.9 169.8 196.4 170.3 195.7 170.9 195.7 171.4 195.7 172 195.8 172.6 195.8 173.1 196 173.7 195.9 174.2 195.6 174.8 195.8 175.3 195.4 175.9 196 176.5 196.5 177 196.1 177.6 196 178.1 196 178.7 196.1 179.2 196.4 179.8 195.9 180.4 196.5 180.9 196.3 181.5 196.6 182 196.9 182.6 196.3 183.1 197.4 183.7 197 184.3 196.8 184.8 197 185.4 196.8 185.9 197.1 186.5 197.3 187 196.7 187.6 197.4 188.2 197.5 188.7 197.8 189.3 197.8 189.8 197.5 190.4 197.7 190.9 197.9 191.5 198.1 192.1 197.9 192.6 198.6 193.2 198.3 193.7 198.4 194.3 198.6 194.8 198.4 195.4 198.7 196 198.7 196.5 198.2 197.1 198.4 197.6 198.4 198.2 198.7 198.7 198.4 199.3 198.5 199.9 198.4 200.4 198.1 201 198.7 201.5 198.6 202.1 198.6 202.6 199.4 203.2 198.9 203.8 198.5 204.3 198.4 204.9 198.6 205.4 198.2 206 198.1 206.5 198.5 207.1 198 207.7 197.9 208.2 198.2 208.8 198.5 209.3 197.9 209.9 198.3 210.4 198.3 211 198.1 211.5 198.3 212.1 197.8 212.7 197.9 213.2 197.7 213.8 197.9 214.3 198.2 214.9 198 215.4 197.7 216 197.9 216.6 197.1" fill="none" stroke="#0000ff" stroke-width="3.0" stroke-linejoin="round" stroke-linecap="round"/>
<path d="M216.6 197.1 217.1 197.8 217.7 197.9 218.2 197.4 218.8 197.4 219.3 197.5 219.9 197.5 220.5 197.2 221 197.1 221.6 197 222.1 197.2 222.7 196.9 223.2 196.7 223.8 196.7 224.4 197.5 224.9 196.9 225.5 196.9 226 196.7 226.6 196.6 227.1 196.4 227.7 196.4 228.3 196.6 228.8 196.5 229.4 196.1 229.9 196.6 230.5 196.4 231 196.1 231.6 196.3 232.2 196.9 232.7 196.3 233.3 196.5 233.8 196.4 234.4 196.1 234.9 196.3 235.5 196.4 236.1 196.2 236.6 196.3 237.2 196.4 237.7 196.3 238.3 196.4 238.8 196.5 239.4 196.6 240 196.5 240.5 196.8 241.1 196.9 241.6 196.3 242.2 196.7 242.7 196.7 243.3 196.8 243.9 196.8 244.4 196.9 245 196.9 245.5 197.2 246.1 196.9 246.6 197.4 247.2 197.1 247.8 198 248.3 197.9 248.9 197.6 249.4 198.1 250 198.5 250.5 198.5 251.1 199.1 251.7 199.1 252.2 199.9 252.8 199.7 253.3 200 253.9 200 254.4 200.2 255 200.9 255.6 200.6 256.1 201.5 256.7 202.2 257.2 202.7 257.8 202.1 258.3 202.9 258.9 203.5 259.5 203.9 260 204.4 260.6 204.3 261.1 205 261.7 205 262.2 205.8 262.8 206.7 263.4 206.3 263.9 206.9 264.5 207.3 265 207.2 265.6 208 266.1 208.1 266.7 208.7 267.3 209.2 267.8 209.1 268.4 209.6 268.9 209.3 269.5 209.3 270 209.5 270.6 209.3 271.2 209.1 271.7 209.2 272.3 208.7 272.8 208.7 273.4 208.3 273.9 208.4 274.5 208 275.1 207.7 275.6 207.7 276.2 207.3 276.7 207 277.3 206.3 277.8 206.2 278.4 205.6 279 204.9 279.5 204.8 280.1 204.9 280.6 204.1 281.2 203.5 281.7 203.6 282.3 203 282.9 202.9 283.4 202.7 284 202.6 284.5 202.5 285.1 202.2 285.6 202 286.2 201.7 286.8 201.5 287.3 201.6 287.9 201.3 288.4 201.1 289 201.5 289.5 201.2 290.1 201.1 290.7 200.8 291.2 200.8 291.8 200.7 292.3 200.7 292.9 200.3 293.4 200.3 294 200.7 294.6 200.2 295.1 200.5 295.7 199.8 296.2 200.3 296.8 200.3 297.3 200.2 297.9 200.3 298.5 200.3 299 200 299.6 200.4 300.1 200.3 300.7 200.3 301.2 200.9 301.8 200.3 302.4 200.6 302.9 200.5 303.5 200.9 304 200.5 304.6 200.5 305.1 200.7 305.7 200 306.3 200.3 306.8 200.4 307.4 200.2 307.9 200 308.5 199.8 309 199.8 309.6 199.6 310.2 199.4 310.7 200 311.3 199.7 311.8 199.7 312.4 199.3 312.9 198.9 313.5 198.9 314.1 199.2 314.6 198.9 315.2 198.4 315.7 198.6 316.3 198.4 316.8 198.1 317.4 198.5 318 197.7 318.5 197.7 319.1 197.5 319.6 197.7 320.2 197.5 320.7 197.3 321.3 197 321.9 196.8 322.4 196.7 323 196.1 323.5 196.1 324.1 196.4 324.6 196.3 325.2 195.5 325.8 195.9 326.3 195.4 326.9 195.2 327.4 195.6 328 195.5 328.5 195.3 329.1 195.5 329.7 195.5 330.2 195.3 330.8 194.9 331.3 195.2 331.9 195.1 332.4 195.1 333 195.3 333.6 194.6 334.1 195.5 334.7 195 335.2 194.7 335.8 195.2 336.3 194.7 336.9 194.5 337.5 195 338 194.7 338.6 195 339.1 194.6 339.7 194.7 340.2 194.7 340.8 194.4 341.4 194.6 341.9 194.4 342.5 194.5 343 195 343.6 194.6 344.1 194.5 344.7 195 345.3 194.3 345.8 194.6 346.4 194.6 346.9 194.9 347.5 194.6" fill="none" stroke="#ff0000" stroke-width="3.0" stroke-linejoin="round" stroke-linecap="round"/>
<path d="M347.5 194.6 348 194.6 348.6 194.8 349.2 194.8 349.7 195.4 350.3 194.7 350.8 195.4 351.4 195.9 351.9 195.7 352.5 195.9 353.1 195.7 353.6 196.3 354.2 196.2 354.7 196.6 355.3 196 355.8 196.6 356.4 196.4 357 197.3 357.5 197 358.1 197.6 358.6 197.4 359.2 197.5 359.7 198.2 360.3 198.2 360.9 198.4 361.4 198.6 362 198.6 362.5 198.8 363.1 199.1 363.6 198.9 364.2 198.9 364.8 199.5 365.3 199.5 365.9 199.5 366.4 199.7 367 200 367.5 199.8 368.1 200 368.7 200.2 369.2 200.5 369.8 200.2 370.3 200.4 370.9 201.1 371.4 201.2 372 201 372.6 201.6 373.1 201.5 373.7 201.8 374.2 202.1 374.8 202.2 375.3 202.6 375.9 202.6 376.5 203.1 377 202.2 377.6 202.6 378.1 202.8 378.7 203.2 379.2 203.2 379.8 203.3 380.4 203.5 380.9 203.7 381.5 204.3 382 204.2 382.6 204.6 383.1 204.9 383.7 205 384.3 204.8 384.8 204.9 385.4 205.6 385.9 205.1 386.5 205.4 387 206.1 387.6 206.3 388.2 206.4 388.7 206.4 389.3 206.9 389.8 207.3 390.4 207 390.9 207.7 391.5 207.2 392.1 207 392.6 207.2 393.2 207 393.7 207 394.3 206.9 394.8 206.9 395.4 207 395.9 206.7 396.5 206.6 397.1 206.1 397.6 205.9 398.2 206.1 398.7 206.2 399.3 206.1 399.8 205.8 400.4 205.3 401 205.3 401.5 205.3 402.1 205.3 402.6 204.7 403.2 204.6 403.7 204.5 404.3 204.3 404.9 203.7 405.4 203.9 406 203.3 406.5 203.2 407.1 203.3 407.6 202.9 408.2 202.9 408.8 202.9 409.3 202.5 409.9 202.5 410.4 202 411 201.9 411.5 201.6 412.1 201.4 412.7 202.2 413.2 201.2 413.8 201.5 414.3 200.9 414.9 201 415.4 200.7 416 200.2 416.6 200.8 417.1 200.2 417.7 200.1 418.2 200.4 418.8 199.7 419.3 199.7 419.9 199.7 420.5 199.6 421 198.5 421.6 199.3 422.1 199.5 422.7 199.2 423.2 198.9 423.8 198.8 424.4 198.6 424.9 198.7 425.5 198.1 426 198.2 426.6 198.3 427.1 198 427.7 197.8 428.3 197.3 428.8 197.3 429.4 197.3 429.9 197.1 430.5 196.9 431 196.3 431.6 196.7 432.2 196.3 432.7 196.1 433.3 196.4 433.8 196 434.4 195.9 434.9 196 435.5 195.7 436.1 195.5 436.6 195.4 437.2 195.6 437.7 195.5 438.3 194.9 438.8 195.7 439.4 195.3 440 195.1" fill="none" stroke="#0000ff" stroke-width="3.0" stroke-linejoin="round" stroke-linecap="round"/>
<path d="M68.7 233.7v-4M68.7 176.3v4M115.1 233.7v-4M115.1 176.3v4M161.6 233.7v-4M161.6 176.3v4M208.0 233.7v-4M208.0 176.3v4M254.4 233.7v-4M254.4 176.3v4M300.8 233.7v-4M300.8 176.3v4M347.2 233.7v-4M347.2 176.3v4M393.7 233.7v-4M393.7 176.3v4M440.1 233.7v-4M440.1 176.3v4M49.7 233.7h4M440.5 233.7h-4M49.7 222.2h4M440.5 222.2h-4M49.7 210.7h4M440.5 210.7h-4M49.7 199.2h4M440.5 199.2h-4M49.7 187.8h4M440.5 187.8h-4M49.7 176.3h4M440.5 176.3h-4" stroke="#000" stroke-width="0.9" fill="none"/>
<rect x="49.7" y="176.3" width="390.8" height="57.4" fill="none" stroke="#111" stroke-width="1.0"/>
<path d="M49.4 282.8 56 254.1" fill="none" stroke="#0000ff" stroke-width="1.35" stroke-linejoin="round" />
<path d="M56.5 311.5 63.1 281.3 69.3 254.1" fill="none" stroke="#0000ff" stroke-width="1.35" stroke-linejoin="round" />
<path d="M70.1 311.5 78 282.8 85.4 254.1" fill="none" stroke="#0000ff" stroke-width="1.35" stroke-linejoin="round" />
<path d="M85.6 311.5 91 297.1 96.6 279.9 100.3 271.3 105.8 254.1" fill="none" stroke="#0000ff" stroke-width="1.35" stroke-linejoin="round" />
<path d="M106.1 311.5 115.1 282.8 123.9 254.1" fill="none" stroke="#0000ff" stroke-width="1.35" stroke-linejoin="round" />
<path d="M124.1 311.5 127.4 300.5" fill="none" stroke="#0000ff" stroke-width="1.35" stroke-linejoin="round" />
<path d="M127.4 300.5 128.3 300.8 129.2 301.1 130.2 301.5 131.1 301.8 132 302.1 133 302.3 133.9 302.6 134.8 302.9 135.7 303.2 136.7 303.4 137.6 303.7 138.5 303.9 139.5 304.2 140.4 304.4 141.3 304.6 142.2 304.8 143.2 305.1 144.1 305.3 145 305.5 146 305.6 146.9 305.8 147.8 306 148.7 306.2 149.7 306.4 150.6 306.5 151.5 306.6 152.5 306.8 153.4 306.9 154.3 307 155.2 307.1 156.2 307.2 157.1 307.3 158 307.4 159 307.5 159.9 307.6 160.8 307.7 161.7 307.8 162.7 307.8 163.6 307.9 164.5 307.9 165.4 307.9 166.4 307.9 167.3 307.9 168.2 307.9 169.2 307.8 170.1 307.8 171 307.7 171.9 307.7 172.9 307.6 173.8 307.6 174.7 307.5 175.7 307.4 176.6 307.4 177.5 307.3 178.4 307.2 179.4 307.2 180.3 307.1 181.2 307 182.2 306.9 183.1 306.8 184 306.7 184.9 306.6 185.9 306.5 186.8 306.3 187.7 306.2 188.7 306 189.6 305.9 190.5 305.7 191.4 305.5 192.4 305.2 193.3 305 194.2 304.7 195.2 304.4 196.1 304 197 303.7 197.9 303.4 198.9 303 199.8 302.6 200.7 302.3 201.7 301.9 202.6 301.4 203.5 300.9 204.4 300.4 205.4 299.9 206.3 299.4 207.2 298.9 208.2 298.5 209.1 298 210 297.5 210.9 297 211.9 296.4 212.8 295.9 213.7 295.4 214.7 294.9 215.6 294.5 216.5 294" fill="none" stroke="#0000ff" stroke-width="1.35" stroke-linejoin="round" />
<path d="M216.5 294 217.4 293.6 218.4 293.2 219.3 292.8 220.2 292.4 221.2 292 222.1 291.6 223 291.2 223.9 290.9 224.9 290.6 225.8 290.4 226.7 290.2 227.7 290 228.6 289.9 229.5 289.7 230.4 289.6 231.4 289.5 232.3 289.3 233.2 289.2 234.2 289.1 235.1 289 236 288.9 236.9 288.8 237.9 288.8 238.8 288.7 239.7 288.7 240.7 288.7 241.6 288.7 242.5 288.7 243.4 288.7 244.4 288.8 245.3 288.8 246.2 288.9 247.2 289.1 248.1 289.2 249 289.3 249.9 289.5 250.9 289.6 251.8 289.8 252.7 289.9 253.7 290.1 254.6 290.3 255.5 290.5 256.4 290.7 257.4 290.9 258.3 291.2 259.2 291.5 260.2 291.8 261.1 292.1 262 292.5 262.9 292.8 263.9 293.3 264.8 293.8 265.7 294.3 266.7 294.9 267.6 295.4 268.5 296 269.4 296.6 270.4 297.1 271.3 297.7 272.2 298.2 273.2 298.6 274.1 299.1 275 299.6 275.9 300 276.9 300.5 277.8 300.9 278.7 301.4 279.7 301.8 280.6 302.2 281.5 302.6 282.4 302.9 283.4 303.3 284.3 303.6 285.2 303.8 286.2 304 287.1 304.3 288 304.5 288.9 304.6 289.9 304.8 290.8 305 291.7 305.2 292.7 305.3 293.6 305.5 294.5 305.6 295.4 305.6 296.4 305.7 297.3 305.7 298.2 305.7 299.2 305.7 300.1 305.6 301 305.5 301.9 305.4 302.9 305.3 303.8 305.2 304.7 305 305.7 304.9 306.6 304.7 307.5 304.5 308.4 304.3 309.4 304.1 310.3 304 311.2 303.8 312.2 303.6 313.1 303.3 314 303 314.9 302.8 315.9 302.5 316.8 302.2 317.7 301.9 318.7 301.7 319.6 301.4 320.5 301.1 321.4 300.8 322.4 300.6 323.3 300.3 324.2 300 325.2 299.7 326.1 299.4 327 299.1 327.9 298.9 328.9 298.6 329.8 298.3 330.7 298 331.7 297.7 332.6 297.4 333.5 297.1 334.4 296.7 335.4 296.4 336.3 296.1 337.2 295.7 338.2 295.4 339.1 295.1 340 294.7 340.9 294.4 341.9 294 342.8 293.7 343.7 293.4 344.7 293.1 345.6 292.7 346.5 292.5 347.4 292.2" fill="none" stroke="#ff0000" stroke-width="1.35" stroke-linejoin="round" />
<path d="M347.4 292.2 348.4 291.9 349.3 291.6 350.2 291.4 351.1 291.1 352.1 290.9 353 290.6 353.9 290.4 354.9 290.2 355.8 290.1 356.7 289.9 357.6 289.8 358.6 289.7 359.5 289.5 360.4 289.4 361.4 289.3 362.3 289.2 363.2 289.1 364.1 289 365.1 288.9 366 288.9 366.9 288.8 367.9 288.8 368.8 288.8 369.7 288.8 370.6 288.9 371.6 288.9 372.5 289 373.4 289.2 374.4 289.3 375.3 289.5 376.2 289.6 377.1 289.8 378.1 290 379 290.3 379.9 290.5 380.9 290.7 381.8 291 382.7 291.5 383.6 292 384.6 292.5 385.5 293.1 386.4 293.7 387.4 294.4 388.3 294.9 389.2 295.6 390.1 296.2 391.1 296.9 392 297.6 392.9 298.3 393.9 298.9 394.8 299.4 395.7 299.9 396.6 300.4 397.6 300.8 398.5 301.3 399.4 301.7 400.4 302.1 401.3 302.5 402.2 302.8 403.1 303.2 404.1 303.5 405 303.7 405.9 303.9 406.9 304 407.8 304.2 408.7 304.3 409.6 304.4 410.6 304.5 411.5 304.6 412.4 304.7 413.4 304.7 414.3 304.8 415.2 304.8 416.1 304.9 417.1 304.9 418 304.8 418.9 304.8 419.9 304.7 420.8 304.6 421.7 304.5 422.6 304.3 423.6 304.2 424.5 304 425.4 303.8 426.4 303.7 427.3 303.5 428.2 303.3 429.1 303.1 430.1 302.9 431 302.7 431.9 302.5 432.9 302.3 433.8 302 434.7 301.7 435.6 301.5 436.6 301.2 437.5 300.9 438.4 300.6 439.4 300.2" fill="none" stroke="#0000ff" stroke-width="1.35" stroke-linejoin="round" />
<path d="M68.7 311.5v-4M68.7 254.1v4M115.1 311.5v-4M115.1 254.1v4M161.6 311.5v-4M161.6 254.1v4M208.0 311.5v-4M208.0 254.1v4M254.4 311.5v-4M254.4 254.1v4M300.8 311.5v-4M300.8 254.1v4M347.2 311.5v-4M347.2 254.1v4M393.7 311.5v-4M393.7 254.1v4M440.1 311.5v-4M440.1 254.1v4M49.7 311.5h4M440.5 311.5h-4M49.7 282.8h4M440.5 282.8h-4M49.7 254.1h4M440.5 254.1h-4" stroke="#000" stroke-width="0.9" fill="none"/>
<rect x="49.7" y="254.1" width="390.8" height="57.4" fill="none" stroke="#111" stroke-width="1.0"/>
<path d="M49.4 374.3 50.2 377 50.9 379.7 51.7 382.4 52.4 385.1 53.1 387.8" fill="none" stroke="#0000ff" stroke-width="1.35" stroke-linejoin="round" />
<path d="M53.8 331.9 54.5 334.3 55.2 336.8 56 339.2 56.7 341.7 57.5 344.2 58.2 346.7 59 349.3 59.7 351.8 60.4 354.4 61.2 357 61.9 359.6 62.7 362.2 63.4 364.8 64.2 367.5 64.9 370.1 65.6 372.8 66.4 375.5 67.1 378.2 67.9 381 68.6 383.7 69.3 386.5 70.1 389.3" fill="none" stroke="#0000ff" stroke-width="1.35" stroke-linejoin="round" />
<path d="M70.3 331.9 71 333.8 71.8 335.7 72.5 337.6 73.2 339.6 74 341.6 74.7 343.6 75.5 345.6 76.2 347.7 77 349.7 77.7 351.8 78.4 353.9 79.2 356 79.9 358.1 80.7 360.3 81.4 362.5 82.2 364.6 82.9 366.9 83.6 369.1 84.4 371.4 85.1 373.6 85.9 375.9 86.6 378.3 87.4 380.6 88.1 383 88.8 385.4 89.6 387.8" fill="none" stroke="#0000ff" stroke-width="1.35" stroke-linejoin="round" />
<path d="M90.2 331.9 91 333.8 91.7 335.7 92.5 337.7 93.2 339.6 94 341.6 94.7 343.5 95.4 345.4 96.2 347.4 96.9 349.3 97.7 351.3 98.4 353.2 99.2 355.2 99.9 357.1 100.6 359.1 101.4 361 102.1 363 102.9 365 103.6 366.9 104.4 368.9 105.1 370.8 105.8 372.8 106.6 374.8 107.3 376.7 108.1 378.7 108.8 380.6 109.6 382.6 110.3 384.6 111 386.6 111.8 388.5" fill="none" stroke="#0000ff" stroke-width="1.35" stroke-linejoin="round" />
<path d="M112.2 331.9 113 334.3 113.7 336.7 114.5 339 115.2 341.4 116 343.7 116.7 346 117.4 348.2 118.2 350.4 118.9 352.6 119.7 354.8 120.4 356.9 121.2 359 121.9 361.2 122.6 363.3 123.4 365.5 124.1 367.6 124.9 369.6 125.6 371.5 126.4 373.2 127.1 374.7 127.8 376.1 128.6 377.3 129.3 378.3 130.1 379.4 130.8 380.5 131.6 381.7 132.3 382.8 133 384 133.8 385.2 134.5 386.4 135.3 387.6 136 388.8" fill="none" stroke="#0000ff" stroke-width="1.35" stroke-linejoin="round" />
<path d="M136.5 331.9 137.2 333 138 334.2 138.7 335.3 139.5 336.4 140.2 337.5 140.9 338.6 141.7 339.7 142.4 340.7 143.2 341.7 143.9 342.8 144.7 343.8 145.4 344.8 146.1 345.7 146.9 346.7 147.6 347.6 148.4 348.6 149.1 349.5 149.9 350.4 150.6 351.2 151.3 352.1 152.1 353 152.8 353.8 153.6 354.6 154.3 355.5 155.1 356.3 155.8 357.1 156.5 357.9 157.3 358.6 158 359.4 158.8 360.2 159.5 360.9 160.3 361.7 161 362.4 161.7 363.2 162.5 363.9 163.2 364.6 164 365.4 164.7 366.1 165.4 366.8 166.2 367.5 166.9 368.2 167.7 368.8 168.4 369.5 169.2 370.2 169.9 370.9 170.6 371.6 171.4 372.2 172.1 372.9 172.9 373.5 173.6 374.2 174.4 374.9 175.1 375.5 175.8 376.2 176.6 376.8 177.3 377.5 178.1 378.1 178.8 378.8 179.6 379.4 180.3 380.1 181 380.7 181.8 381.4 182.5 382 183.3 382.6 184 383.3 184.8 383.9 185.5 384.5 186.2 385.1 187 385.8 187.7 386.4 188.5 387 189.2 387.6 190 388.2 190.7 388.8" fill="none" stroke="#0000ff" stroke-width="1.35" stroke-linejoin="round" />
<path d="M191.4 331.9 192.2 332.5 192.9 333.2 193.7 333.8 194.4 334.5 195.2 335.2 195.9 335.8 196.6 336.5 197.4 337.1 198.1 337.7 198.9 338.4 199.6 339 200.4 339.6 201.1 340.3 201.8 340.9 202.6 341.5 203.3 342.1 204.1 342.7 204.8 343.3 205.6 343.8 206.3 344.4 207 345 207.8 345.6 208.5 346.2 209.3 346.8 210 347.3 210.8 347.9 211.5 348.5 212.2 349.1 213 349.7 213.7 350.3 214.5 350.9 215.2 351.5 216 352.2 216.7 352.8" fill="none" stroke="#0000ff" stroke-width="1.35" stroke-linejoin="round" />
<path d="M216.7 352.8 217.4 353.4 218.2 354.1 218.9 354.7 219.7 355.3 220.4 356 221.2 356.7 221.9 357.3 222.6 358 223.4 358.6 224.1 359.3 224.9 360 225.6 360.7 226.4 361.3 227.1 362 227.8 362.7 228.6 363.4 229.3 364.1 230.1 364.8 230.8 365.5 231.6 366.2 232.3 366.9 233 367.6 233.8 368.3 234.5 369 235.3 369.7 236 370.4 236.8 371.1 237.5 371.8 238.2 372.5 239 373.3 239.7 374 240.5 374.7 241.2 375.5 242 376.2 242.7 376.9 243.4 377.7 244.2 378.4 244.9 379.2 245.7 379.9 246.4 380.7 247.2 381.5 247.9 382.2 248.6 383 249.4 383.8 250.1 384.5 250.9 385.3 251.6 386.1 252.4 386.9 253.1 387.7 253.8 388.5 254.6 389.3" fill="none" stroke="#ff0000" stroke-width="1.35" stroke-linejoin="round" />
<path d="M255.8 331.9 256.5 332.6 257.3 333.4 258 334.2 258.8 335 259.5 335.9 260.2 336.8 261 337.8 261.7 338.8 262.5 339.9 263.2 340.9 264 342 264.7 343.2 265.4 344.5 266.2 345.9 266.9 347.3 267.7 348.8 268.4 350.3 269.2 351.9 269.9 353.4 270.6 354.9 271.4 356.5 272.1 357.9 272.9 359.3 273.6 360.7 274.4 361.9 275.1 363.2 275.8 364.4 276.6 365.6 277.3 366.8 278.1 368 278.8 369.2 279.6 370.4 280.3 371.5 281 372.6 281.8 373.7 282.5 374.8 283.3 375.8 284 376.9 284.8 377.8 285.5 378.8 286.2 379.7 287 380.7 287.7 381.6 288.5 382.4 289.2 383.3 290 384.1 290.7 384.9 291.4 385.7 292.2 386.5 292.9 387.3 293.7 388 294.4 388.7" fill="none" stroke="#ff0000" stroke-width="1.35" stroke-linejoin="round" />
<path d="M295.9 331.9 296.6 332.6 297.4 333.4 298.1 334.2 298.9 335 299.6 335.8 300.4 336.5 301.1 337.3 301.8 338.1 302.6 338.8 303.3 339.6 304.1 340.4 304.8 341.1 305.6 341.8 306.3 342.6 307 343.3 307.8 344.1 308.5 344.8 309.3 345.5 310 346.2 310.8 347 311.5 347.7 312.2 348.4 313 349.1 313.7 349.8 314.5 350.5 315.2 351.1 316 351.8 316.7 352.5 317.4 353.2 318.2 353.8 318.9 354.5 319.7 355.1 320.4 355.8 321.2 356.4 321.9 357.1 322.6 357.7 323.4 358.3 324.1 358.9 324.9 359.6 325.6 360.2 326.4 360.8 327.1 361.4 327.8 362 328.6 362.6 329.3 363.2 330.1 363.8 330.8 364.3 331.6 364.9 332.3 365.5 333 366.1 333.8 366.7 334.5 367.3 335.3 367.9 336 368.4 336.8 369 337.5 369.6 338.2 370.2 339 370.8 339.7 371.3 340.5 371.9 341.2 372.5 342 373.1 342.7 373.7 343.4 374.3 344.2 374.9 344.9 375.5 345.7 376.1 346.4 376.7 347.2 377.3" fill="none" stroke="#ff0000" stroke-width="1.35" stroke-linejoin="round" />
<path d="M347.9 377.9 348.6 378.5 349.4 379.2 350.1 379.8 350.9 380.4 351.6 381 352.4 381.6 353.1 382.2 353.8 382.8 354.6 383.5 355.3 384.1 356.1 384.7 356.8 385.3 357.6 385.9 358.3 386.6 359 387.2 359.8 387.8 360.5 388.4 361.3 389" fill="none" stroke="#0000ff" stroke-width="1.35" stroke-linejoin="round" />
<path d="M361.7 331.9 362.5 332.5 363.2 333.1 364 333.8 364.7 334.5 365.4 335.3 366.2 336 366.9 336.8 367.7 337.6 368.4 338.4 369.2 339.2 369.9 340 370.6 340.9 371.4 341.8 372.1 342.7 372.9 343.6 373.6 344.5 374.4 345.4 375.1 346.4 375.8 347.4 376.6 348.3 377.3 349.3 378.1 350.4 378.8 351.4 379.6 352.6 380.3 353.7 381 354.9 381.8 356.2 382.5 357.4 383.3 358.7 384 360 384.8 361.2 385.5 362.5 386.2 363.8 387 365 387.7 366.2 388.5 367.4 389.2 368.6 390 369.7 390.7 370.9 391.4 372 392.2 373.2 392.9 374.3 393.7 375.4 394.4 376.5 395.2 377.6 395.9 378.8 396.6 379.9 397.4 381 398.1 382 398.9 383.1 399.6 384.2 400.4 385.3 401.1 386.4 401.8 387.4 402.6 388.5" fill="none" stroke="#0000ff" stroke-width="1.35" stroke-linejoin="round" />
<path d="M403.8 331.9 404.5 332.8 405.3 333.7 406 334.6 406.8 335.6 407.5 336.5 408.3 337.4 409 338.3 409.7 339.2 410.5 340 411.2 340.9 412 341.8 412.7 342.7 413.5 343.5 414.2 344.4 414.9 345.2 415.7 346 416.4 346.9 417.2 347.7 417.9 348.5 418.7 349.3 419.4 350.1 420.1 350.9 420.9 351.6 421.6 352.4 422.4 353.2 423.1 354 423.9 354.7 424.6 355.5 425.3 356.2 426.1 357 426.8 357.7 427.6 358.5 428.3 359.2 429.1 359.9 429.8 360.7 430.5 361.4 431.3 362.1 432 362.8 432.8 363.5 433.5 364.2 434.3 364.9 435 365.5 435.7 366.2 436.5 366.9 437.2 367.5 438 368.2 438.7 368.8 439.5 369.5" fill="none" stroke="#0000ff" stroke-width="1.35" stroke-linejoin="round" />
<path d="M68.7 389.3v-4M68.7 331.9v4M115.1 389.3v-4M115.1 331.9v4M161.6 389.3v-4M161.6 331.9v4M208.0 389.3v-4M208.0 331.9v4M254.4 389.3v-4M254.4 331.9v4M300.8 389.3v-4M300.8 331.9v4M347.2 389.3v-4M347.2 331.9v4M393.7 389.3v-4M393.7 331.9v4M440.1 389.3v-4M440.1 331.9v4M49.7 389.3h4M440.5 389.3h-4M49.7 360.6h4M440.5 360.6h-4M49.7 331.9h4M440.5 331.9h-4" stroke="#000" stroke-width="0.9" fill="none"/>
<rect x="49.7" y="331.9" width="390.8" height="57.4" fill="none" stroke="#111" stroke-width="1.0"/>
<path d="M49.9 441.9h0M49.9 423.4h0M50.3 461.6h0M50.7 444.3h0M50.7 414.4h0M50.8 425.4h0M50.8 429.7h0M50.9 443.9h0M51.1 452.7h0M51.6 461.7h0M51.6 449.6h0M51.6 446.2h0M51.8 441.9h0M51.9 418.8h0M51.9 442.3h0M51.9 430h0M51.9 457.5h0M52 445.9h0M52.1 413.6h0M52.1 457h0M52.1 460.7h0M52.1 462.8h0M52.1 466.5h0M52.2 458.6h0M52.3 462h0M52.4 457.4h0M52.6 443.6h0M52.6 426.8h0M52.9 420.2h0M52.9 434.2h0M53.2 461.2h0M53.2 419.9h0M53.3 429h0M53.4 419.4h0M53.4 423.7h0M53.4 455.4h0M53.5 411.6h0M53.6 422.1h0M53.7 448.4h0M53.7 422.8h0M53.7 442.8h0M53.7 461.1h0M53.8 430.8h0M53.9 410.2h0M54 428.9h0M54.1 414.4h0M54.1 455.7h0M54.2 438.1h0M54.2 449.7h0M54.3 412.9h0M54.3 458.4h0M54.4 465.5h0M54.5 436.4h0M54.7 443.2h0M54.7 454.8h0M54.7 414h0M54.9 450.4h0M55 453.5h0M55.1 428.2h0M55.1 411.3h0M55.1 443h0M55.2 423.5h0M55.2 463.8h0M55.2 418.6h0M55.3 436.1h0M55.4 429.8h0M55.4 440.2h0M55.5 466.1h0M55.5 444.8h0M55.7 457.7h0M55.7 456.7h0M55.7 419.3h0M55.7 447.1h0M55.7 419.7h0M55.8 423.1h0M55.8 427.1h0M56 439.6h0M56.1 463.2h0M56.3 420.1h0M56.3 465.4h0M56.4 445.1h0M56.5 416.2h0M56.5 423.7h0M56.5 433.6h0M56.8 430.9h0M56.8 413.4h0M56.9 422.7h0M56.9 435.9h0M57 445.7h0M57 460.6h0M57.1 419.3h0M57.1 421.5h0M57.2 429.9h0M57.2 415.8h0M57.4 465.3h0M57.4 461.1h0M57.4 432.6h0M57.6 410.2h0M57.9 413.5h0M58 430.2h0M58.2 460.8h0M58.3 435.5h0M58.3 431.6h0M58.7 422.3h0M58.9 410.6h0M59.1 422.5h0M59.1 437.5h0M59.1 423.9h0M59.2 446.7h0M59.4 440.3h0M59.4 436.4h0M59.5 445.9h0M59.7 410.7h0M59.9 450.6h0M59.9 430h0M59.9 453.7h0M59.9 410.2h0M60 447.1h0M60 432.3h0M60 413.6h0M60.1 427.8h0M60.1 433.7h0M60.2 462.6h0M60.3 442.8h0M60.3 441.5h0M60.4 427.2h0M60.5 439.2h0M60.9 451.5h0M61.1 436.6h0M61.5 445.3h0M61.6 420.1h0M61.6 440.2h0M61.7 440.9h0M61.9 426.2h0M61.9 436.2h0M61.9 442.1h0M62.1 462.3h0M62.1 440.6h0M62.2 417.4h0M62.2 411.3h0M62.4 418.1h0M62.4 460.9h0M62.5 416.3h0M62.5 438.6h0M62.6 427.2h0M62.6 431.2h0M62.6 438.6h0M62.6 454.9h0M62.6 446.4h0M62.7 446.8h0M62.8 422.9h0M62.8 458.4h0M63 463.2h0M63 418.2h0M63.4 429.1h0M63.5 434.7h0M63.6 458.5h0M63.6 459.8h0M63.7 428.7h0M63.7 458.3h0M63.8 418h0M64 457.3h0M64.1 431.3h0M64.1 453.4h0M64.2 449.1h0M64.2 448.4h0M64.3 465.6h0M64.4 443h0M64.5 417.4h0M64.7 438.4h0M64.8 456.1h0M64.9 437.3h0M65 413.4h0M65 440.3h0M65.1 439.3h0M65.1 422.8h0M65.1 463.2h0M65.6 449h0M65.6 444.4h0M65.7 449.4h0M65.8 435.6h0M65.8 422.3h0M65.9 443.6h0M66 422h0M66 441.7h0M66.1 415.7h0M66.3 448.3h0M66.3 441.6h0M66.4 427.7h0M66.4 466.5h0M66.4 416.2h0M66.4 441.6h0M66.6 445.7h0M66.7 460.4h0M67 461.4h0M67 439.9h0M67 420.1h0M67.2 432.3h0M67.2 414.7h0M67.3 410.6h0M67.3 437.5h0M67.5 455.9h0M67.5 412.9h0M67.5 454.4h0M67.6 434.8h0M67.7 455.4h0M67.8 416.4h0M67.9 423h0M67.9 436.9h0M68.2 417.1h0M68.3 427.8h0M68.4 430.9h0M68.5 428.3h0M68.6 415.9h0M68.7 444.1h0M68.7 426.9h0M68.8 446.7h0M68.8 428.8h0M69.2 436.5h0M69.2 424h0M69.5 435.5h0M69.5 438.6h0M69.6 461.8h0M69.8 464.2h0M69.9 417.7h0M70 441.1h0M70 411h0M70.1 441.3h0M70.2 461.6h0M70.3 424.3h0M70.3 448.7h0M70.4 431.3h0M70.5 464.8h0M70.5 415.7h0M70.6 456.5h0M70.6 445.8h0M70.7 443.1h0M70.8 436.6h0M70.8 413.4h0M71.3 417.2h0M71.3 445.4h0M71.4 445.6h0M71.4 424.6h0M71.5 448h0M71.6 453.8h0M71.6 413.1h0M71.8 424h0M72.1 443.6h0M72.1 455.4h0M72.2 438.4h0M72.6 442.8h0M72.7 449.9h0M72.8 433.8h0M72.8 457.3h0M73.1 451.9h0M73.2 435.2h0M73.2 443.6h0M73.3 443.4h0M73.3 428.7h0M73.4 462.8h0M73.4 423.8h0M73.5 412.1h0M73.5 414.9h0M73.5 416.3h0M73.5 464.4h0M73.6 449.3h0M73.9 461.4h0M73.9 461h0M74.2 456.9h0M74.2 463.9h0M74.3 413.7h0M74.5 433h0M74.6 448.6h0M74.8 452.9h0M74.8 466.5h0M74.9 465.3h0M75 430h0M75.2 439.6h0M75.3 448.8h0M75.3 440.2h0M75.4 445.6h0M75.5 426.6h0M75.6 435.3h0M75.6 442.9h0M75.7 466.5h0M75.7 435.6h0M75.8 417.2h0M75.8 452.7h0M75.9 447.6h0M76 423.7h0M76 457.8h0M76 433.5h0M76 431.5h0M76.3 421.6h0M76.4 415.8h0M76.8 418.8h0M77 456.4h0M77.1 422.6h0M77.2 432.7h0M77.3 443.5h0M77.4 464.4h0M77.5 433.1h0M77.5 442.5h0M77.6 426.9h0M77.7 433.2h0M77.7 459h0M77.8 426.6h0M77.8 459.2h0M77.9 459.4h0M77.9 428.6h0M78 414.7h0M78 425.9h0M78.5 412.9h0M78.6 458.7h0M78.6 461.8h0M78.6 439.7h0M78.7 452h0M79 451.2h0M79 456.3h0M79 450.1h0M79.8 424.7h0M80.1 443.8h0M80.1 438.4h0M80.1 458.2h0M80.2 430.7h0M80.2 427.3h0M80.2 447.1h0M80.6 435.6h0M80.6 452.5h0M80.7 462.3h0M80.8 457.6h0M80.9 466.5h0M80.9 415.3h0M80.9 412.1h0M80.9 457.8h0M81 420h0M81 433.9h0M81 423.1h0M81.1 432.5h0M81.1 437.7h0M81.2 446h0M81.2 445.2h0M81.3 416.6h0M81.3 450.2h0M81.3 458h0M81.6 410.2h0M81.6 450.7h0M81.7 461.1h0M81.9 451.5h0M82 420.8h0M82 421.9h0M82.2 416h0M82.2 415.4h0M82.2 410.2h0M82.3 448.2h0M82.3 454h0M82.3 412.7h0M82.4 414.4h0M82.5 437.2h0M82.6 449.1h0M82.6 455.6h0M82.7 410.8h0M82.7 430.4h0M82.7 432h0M82.7 456.4h0M82.8 456.5h0M83.2 443h0M83.2 415.6h0M83.3 420.4h0M83.4 451.9h0M83.5 463.3h0M83.5 432h0M83.6 424.7h0M83.7 413.8h0M83.7 430.4h0M83.7 452.5h0M83.8 436.5h0M84 426.5h0M84.2 455.8h0M84.3 414.9h0M84.3 458.7h0M84.6 466.5h0M84.7 450.3h0M84.8 422.7h0M84.8 434.4h0M84.9 450.9h0M85 448h0M85 437.9h0M85.1 420.5h0M85.3 411.2h0M85.3 427.4h0M85.3 458.9h0M85.4 417h0M85.4 420.3h0M85.4 426.3h0M85.5 420.1h0M85.6 466.1h0M85.8 428h0M85.8 439h0M85.8 410.2h0M85.9 412.6h0M86 440h0M86 419h0M86.1 425.2h0M86.1 424.4h0M86.2 446.8h0M86.3 425.1h0M86.4 465.1h0M86.4 465.2h0M86.5 453.9h0M86.6 453.6h0M86.6 466.3h0M86.6 416.4h0M86.7 421.8h0M86.9 422.5h0M87 420.4h0M87 413.7h0M87.2 458.4h0M87.5 438.7h0M87.7 445.7h0M87.8 445.2h0M87.9 429h0M87.9 446.3h0M88 413.5h0M88 459.3h0M88.2 456.9h0M88.2 416.5h0M88.4 452.4h0M88.4 446.6h0M88.4 441h0M88.5 425.4h0M88.6 414.9h0M88.6 428.9h0M88.8 453.9h0M88.8 418.2h0M88.9 448.7h0M89 462.3h0M89 465.1h0M89 419.2h0M89.1 436.9h0M89.2 453.2h0M89.5 463.3h0M89.5 411.3h0M89.7 421.5h0M89.7 423.8h0M90.1 443.5h0M90.1 455.5h0M90.3 446.2h0M90.4 429.2h0M90.4 431.1h0M90.8 460.8h0M90.9 417.7h0M91 433.2h0M91 434.5h0M91.1 430.1h0M91.1 435.5h0M91.3 412.1h0M91.5 454.3h0M91.5 427.2h0M91.6 431.6h0M91.7 410.7h0M92 428.2h0M92 454.1h0M92.1 445.5h0M92.2 415.4h0M92.2 462h0M92.3 422.9h0M92.3 437.6h0M92.5 464.9h0M92.5 419.6h0M92.8 456.2h0M92.8 448.3h0M92.9 437.4h0M93.1 448.6h0M93.3 418.5h0M93.3 411.5h0M93.4 414h0M93.4 438.9h0M93.5 422.1h0M93.5 448.7h0M93.5 439.9h0M93.6 437.7h0M93.6 442.2h0M93.7 455.9h0M93.8 415.2h0M93.9 429.6h0M93.9 446.8h0M94 449.4h0M94.1 460.4h0M94.1 440h0M94.4 447.9h0M94.6 415.5h0M94.7 460.4h0M94.9 455.2h0M95 429.7h0M95 451h0M95.1 447.5h0M95.1 413h0M95.3 453.9h0M95.3 457.9h0M95.4 448h0M95.4 444.9h0M95.5 438.6h0M95.9 425.7h0M95.9 458.8h0M95.9 456.3h0M96 414.6h0M96.1 428h0M96.2 461.2h0M96.5 433.4h0M96.5 419.1h0M96.6 453.2h0M96.6 439h0M96.6 421.6h0M96.6 451.2h0M96.6 426.2h0M96.7 443.5h0M96.8 433.3h0M96.9 431.3h0M97 463h0M97.1 429.1h0M97.2 421.5h0M97.3 456.3h0M97.4 462.6h0M97.4 437h0M97.4 437.9h0M97.5 441.1h0M97.5 416.5h0M97.5 463.5h0M97.7 430.8h0M98.3 418.5h0M98.4 420.9h0M98.4 425.6h0M98.5 455.4h0M98.5 455h0M98.6 442.9h0M98.7 422.2h0M98.8 462.3h0M98.8 463.7h0M98.9 415.5h0M99.1 445.8h0M99.1 432.2h0M99.2 413.6h0M99.3 461.7h0M99.6 444.1h0M99.7 419h0M99.7 456.5h0M99.8 415.8h0M100 425.9h0M100 444.7h0M100.1 420.5h0M100.2 442.4h0M100.3 417.4h0M100.4 410.2h0M100.5 433.3h0M100.6 428.4h0M100.7 455.3h0M100.7 457.6h0M100.8 444h0M100.9 450.7h0M100.9 440.4h0M101 456.8h0M101.2 428.7h0M101.3 436h0M101.3 456.6h0M101.4 462.4h0M101.4 433.6h0M101.4 410.6h0M101.4 411.9h0M101.6 410.2h0M101.9 442.9h0M102 415h0M102.1 461.3h0M102.2 466.5h0M102.3 460.5h0M102.6 466h0M102.6 460.3h0M102.8 439.2h0M102.9 419h0M102.9 424.8h0M103 436.6h0M103.1 463.4h0M103.1 430h0M103.6 430.9h0M103.6 420.6h0M103.7 435.7h0M103.9 447.8h0M103.9 450.6h0M103.9 438.9h0M104.1 451.4h0M104.2 411.2h0M104.2 461.6h0M104.3 428.6h0M104.3 444.3h0M104.3 443.7h0M104.5 436.6h0M104.5 448.8h0M104.5 425.6h0M104.5 432h0M104.5 439.4h0M104.5 442h0M104.5 434.4h0M104.6 425.1h0M104.6 457.3h0M104.6 459.2h0M104.7 458h0M105 444.5h0M105.1 437.3h0M105.1 442.4h0M105.1 422.7h0M105.2 429.5h0M105.2 429.2h0M105.2 436.9h0M105.4 411.2h0M105.7 465.5h0M105.7 440h0M105.7 446.5h0M105.8 410.2h0M105.9 449.1h0M105.9 443.3h0M106.1 423.9h0M106.2 442.8h0M106.2 458.4h0M106.2 454.4h0M106.4 437.5h0M106.4 445.4h0M106.8 433.9h0M106.8 453.2h0M107 410.9h0M107.1 447.9h0M107.1 445.4h0M107.1 431.6h0M107.3 418.6h0M107.4 417.5h0M107.5 435.6h0M107.5 417.9h0M107.6 429.2h0M107.6 447.4h0M107.6 439.2h0M107.6 448.2h0M107.6 421.7h0M107.7 433.5h0M107.9 436.9h0M107.9 447.7h0M108 424.8h0M108 451.9h0M108.4 449.2h0M108.6 466.5h0M108.8 460.8h0M108.9 448.3h0M108.9 448.4h0M109.1 442.6h0M109.2 429.6h0M109.3 451.7h0M109.4 457.3h0M109.7 431.2h0M109.7 426h0M110 414.7h0M110.3 438.3h0M110.3 463.7h0M110.3 447.6h0M110.5 427.9h0M110.7 444.1h0M110.8 458.9h0M110.9 412.3h0M111 418.4h0M111 452.2h0M111.2 459.8h0M111.4 439.6h0M111.4 452.9h0M111.4 437.9h0M111.6 424.7h0M111.6 450.7h0M111.7 445.6h0M112 431.5h0M112.2 436.6h0M112.2 466.2h0M112.3 448.2h0M112.3 459.4h0M112.4 417.7h0M112.5 440.4h0M112.5 421.6h0M112.5 451.8h0M112.5 463.7h0M112.6 416h0M112.6 416.4h0M112.7 434.1h0M112.7 459.6h0M112.8 463.2h0M112.8 428.7h0M112.9 436.7h0M113 447.4h0M113 434.1h0M113.2 464h0M113.3 455.1h0M113.4 411h0M113.6 441.4h0M113.6 441.9h0M113.7 410.7h0M113.8 441.3h0M113.8 464.4h0M113.9 428.5h0M114 437.8h0M114 452.4h0M114.2 437.1h0M114.2 450.4h0M114.2 426.4h0M114.3 411h0M114.5 463.2h0M114.6 424.3h0M114.7 417.5h0M114.7 426.7h0M114.7 434.9h0M114.8 450.7h0M114.8 444.8h0M115 459.1h0M115.1 463.6h0M115.3 426.8h0M115.4 460.7h0M115.5 464.2h0M115.6 452.9h0M115.7 466.4h0M115.7 432.7h0M115.7 437h0M115.8 441.9h0M116 462.6h0M116.1 437.5h0M116.2 427.5h0M116.2 447.6h0M116.2 451.5h0M116.4 442.9h0M116.4 451h0M116.6 445.3h0M116.7 434h0M116.7 464.6h0M116.9 450.5h0M117 460.3h0M117.1 453.9h0M117.3 420.6h0M117.3 444.7h0M117.4 441.1h0M117.6 449.7h0M117.7 412.4h0M117.9 417.2h0M118 463.7h0M118.3 452.4h0M118.3 442.5h0M118.3 423.4h0M118.4 448.8h0M118.5 456.6h0M118.6 458.9h0M118.7 418.5h0M118.8 444.5h0M118.9 448h0M118.9 442.2h0M119.1 410.2h0M119.3 426.8h0M119.3 453.7h0M119.3 456h0M119.4 460.3h0M119.5 415h0M119.5 441.1h0M119.8 426.9h0M119.9 416.7h0M119.9 463.4h0M120 454.9h0M120.1 443.4h0M120.1 423.2h0M120.2 441.9h0M120.2 449.6h0M120.3 462.9h0M120.5 443h0M120.6 456.1h0M120.6 411.8h0M120.7 417h0M120.7 443.7h0M120.7 462.2h0M120.8 445.2h0M120.8 411.1h0M120.9 430.7h0M120.9 439h0M120.9 444.4h0M120.9 455.7h0M121.2 458.8h0M121.4 442.8h0M121.5 411.2h0M121.5 412.8h0M121.6 417.7h0M121.9 447.3h0M121.9 433.2h0M122 456.6h0M122.1 452.6h0M122.2 456.9h0M122.2 445.6h0M122.2 463.9h0M122.3 417.8h0M122.3 413.8h0M122.4 455.7h0M122.5 448.1h0M122.5 454.4h0M122.5 427.3h0M123 410.4h0M123 413.7h0M123 464.3h0M123.2 413.6h0M123.2 440.5h0M123.2 458.2h0M123.2 449.5h0M123.4 437.2h0M123.6 445.6h0M123.8 432.6h0M123.9 462.1h0M123.9 431.6h0M124 447.6h0M124.1 418.4h0M124.2 432.3h0M124.2 463.9h0M124.4 410.7h0M124.5 454.9h0M124.5 434.5h0M124.6 444.6h0M124.7 434.1h0M124.8 459.1h0M125 452.3h0M125 453.8h0M125.2 443.1h0M125.2 445.8h0M125.3 444.3h0M125.5 444.4h0M125.6 445.4h0M125.7 420.5h0M125.8 440.4h0M125.8 432.2h0M125.9 434.6h0M125.9 435.3h0M126 416h0M126 412.6h0M126 465.1h0M126.1 443.8h0M126.1 410.3h0M126.2 455.1h0M126.2 438.1h0M126.3 445.8h0M126.3 432.2h0M126.5 422.4h0M126.6 429.9h0M126.7 453.5h0M126.9 430.6h0M127 425.8h0M127.1 460.4h0M127.1 431.5h0M127.3 427.9h0M127.4 446.3h0M127.5 430.9h0M128.2 445.9h0M128.2 452.1h0M128.2 442.8h0M128.3 448.1h0M128.5 448.4h0M128.5 442.4h0M128.5 433.1h0M128.6 439.7h0M128.6 431.8h0M128.6 440.3h0M128.8 442.7h0M128.8 450.4h0M128.9 448h0M129 432.3h0M129.1 435.4h0M129.1 442.2h0M129.3 431.5h0M129.4 437h0M129.4 446.6h0M129.5 433.4h0M129.5 441.7h0M129.5 449.4h0M129.5 434.6h0M129.6 448.3h0M129.6 432.4h0M129.9 435.2h0M129.9 431.6h0M130.1 449.4h0M130.2 434.8h0M130.2 444.5h0M130.3 433.8h0M130.3 447.9h0M130.3 431.2h0M130.3 435.5h0M130.4 440.4h0M130.5 441h0M130.6 440.7h0M130.7 429.8h0M130.7 447.5h0M130.8 435.5h0M130.9 446.3h0M130.9 441.1h0M131 434.3h0M131.1 449.4h0M131.1 452.4h0M131.1 437.3h0M131.2 433.7h0M131.2 447.5h0M131.2 437h0M131.3 440.3h0M131.4 449h0M131.7 442.9h0M131.7 446.7h0M131.7 439.4h0M131.8 445.2h0M131.8 445h0M131.8 435.6h0M131.8 438.7h0M131.9 447h0M132 431.7h0M132.2 439.5h0M132.3 433.5h0M132.4 447.6h0M132.5 434.1h0M132.5 444.6h0M132.6 431.1h0M132.7 448.5h0M132.7 432h0M132.9 443.5h0M133 435.5h0M133 436.6h0M133.2 436.8h0M133.5 446.5h0M133.6 428.7h0M133.6 439.9h0M133.6 449h0M133.8 437.3h0M133.8 451.8h0M134 436.7h0M134.1 437.2h0M134.1 449.1h0M134.1 447.4h0M134.3 451.9h0M134.4 438.8h0M134.4 434.2h0M134.4 430.3h0M134.5 445.4h0M134.5 449.2h0M134.6 437.2h0M134.9 434.1h0M134.9 437.8h0M134.9 440.3h0M135 445.5h0M135 436h0M135 431.3h0M135.1 446.2h0M135.1 437.5h0M135.2 435h0M135.3 426.7h0M135.3 445.1h0M135.4 443.8h0M135.4 452.1h0M135.5 447.4h0M135.5 438.5h0M135.7 444.9h0M135.9 430.9h0M135.9 446.4h0M136 436.6h0M136 447h0M136 435.6h0M136 444.6h0M136.4 448.3h0M136.6 448h0M136.7 446.9h0M136.7 447.3h0M136.8 430.2h0M136.9 436.6h0M137.1 436.6h0M137.1 450.9h0M137.2 435.3h0M137.4 436.1h0M137.6 433.6h0M137.6 435.6h0M137.7 444.8h0M137.8 445.9h0M137.9 443.1h0M138 448.4h0M138.1 451.3h0M138.2 434.1h0M139.1 447h0M139.1 439.7h0M139.2 447.3h0M139.4 432.2h0M139.5 439.7h0M139.6 451.1h0M139.6 448.6h0M139.7 435.6h0M139.9 452.6h0M140.1 449.2h0M140.1 449.5h0M140.1 447.4h0M140.2 433.8h0M140.3 439.3h0M140.7 440.2h0M140.7 442.2h0M140.7 435.3h0M140.8 436.4h0M140.9 449.4h0M141.2 448.7h0M141.3 436.6h0M141.3 437.8h0M141.4 440.8h0M141.5 437.7h0M141.5 448.8h0M141.6 437.8h0M141.7 451.5h0M141.7 431.5h0M141.7 435h0M141.8 440.1h0M142.2 430.8h0M142.5 435.1h0M142.5 440.9h0M142.8 436.6h0M142.8 436.4h0M142.9 431.2h0M143 437.9h0M143 445.6h0M143.1 449.8h0M143.2 431.1h0M143.2 436.5h0M143.3 440.1h0M143.3 440.8h0M143.4 431.2h0M143.4 449.4h0M143.5 444.6h0M143.8 446.3h0M143.9 427.1h0M143.9 443.3h0M144.1 437.4h0M144.2 446.2h0M144.3 444.4h0M144.3 453.1h0M144.4 446.6h0M144.6 450.1h0M144.8 443.4h0M144.9 442.5h0M144.9 429.9h0M144.9 434.2h0M145 435.5h0M145 448.9h0M145.1 442h0M145.1 453.1h0M145.3 440h0M145.3 443.6h0M145.4 434.7h0M145.5 444.3h0M145.5 438.5h0M145.5 443.2h0M145.6 439.4h0M145.7 446.3h0M145.8 434.7h0M145.8 447.5h0M145.9 449.3h0M146.2 449h0M146.3 443.3h0M146.3 435.9h0M146.3 439.6h0M146.5 434.6h0M146.6 438h0M146.6 441.6h0M146.7 440.3h0M146.8 449.8h0M147.1 440.7h0M147.1 450.8h0M147.2 452.6h0M147.5 451.5h0M147.7 447.2h0M147.8 439.3h0M147.8 446.5h0M147.9 444.8h0M148.2 441.9h0M148.2 429.4h0M148.2 447.7h0M148.3 444.5h0M148.3 445.2h0M148.4 447.2h0M148.5 445.4h0M148.7 436.6h0M148.8 432.2h0M148.9 442.9h0M148.9 437.4h0M149.2 451.3h0M149.2 443.5h0M149.3 434.8h0M149.3 451.4h0M149.4 430.7h0M149.6 445.3h0M149.8 442.6h0M149.8 431.3h0M149.9 432.4h0M150.1 447.2h0M150.2 442.6h0M150.7 434.9h0M150.7 439.7h0M150.8 433.4h0M150.8 449.2h0M151.3 434h0M151.3 435.8h0M151.5 441.1h0M151.7 440.6h0M151.7 445.9h0M151.9 440.7h0M152.1 449.8h0M152.4 435.7h0M152.4 448h0M152.4 450.3h0M152.4 430.6h0M152.4 444.5h0M152.5 433.1h0M152.5 442.7h0M152.7 438.1h0M152.8 436.1h0M152.8 443.7h0M152.9 435h0M153 431.5h0M153.1 435.3h0M153.1 438.7h0M153.1 450.7h0M153.2 445.8h0M153.3 447.6h0M153.6 441.5h0M153.6 428.6h0M153.8 442.5h0M153.8 443.7h0M153.9 451.3h0M153.9 445.8h0M153.9 448.9h0M154 444.5h0M154.1 443.3h0M154.2 429.9h0M154.5 447.3h0M154.5 436.5h0M154.6 453h0M154.6 445.8h0M154.6 435.3h0M154.7 441.5h0M154.7 449.4h0M155 444.3h0M155.2 436h0M155.2 434.8h0M155.3 449.4h0M155.5 450.2h0M155.5 436.2h0M155.5 440h0M155.6 446.5h0M155.6 446.6h0M155.7 445.9h0M155.8 439.9h0M155.8 435.4h0M155.9 448h0M155.9 430.9h0M155.9 442.6h0M156 438.4h0M156 447.8h0M156 450.1h0M156.2 448.4h0M156.3 446.9h0M156.3 443.6h0M156.3 442.3h0M156.6 438.8h0M156.7 445.3h0M156.7 435.1h0M156.8 450.7h0M157.3 443h0M157.3 449.4h0M157.4 431.5h0M157.4 445.1h0M157.6 438.2h0M157.7 437.2h0M157.7 439.6h0M157.7 448.1h0M157.8 436.5h0M157.8 440.5h0M157.9 449h0M158 451.1h0M158.2 442.3h0M158.3 440h0M158.5 446.9h0M158.6 447.8h0M158.7 435.7h0M158.8 441.2h0M158.9 445.8h0M158.9 433.3h0M159 448h0M159.1 435.3h0M159.1 434.9h0M159.2 448.5h0M159.2 430.4h0M159.3 437.5h0M159.4 447.8h0M159.5 440.8h0M159.5 442.9h0M159.7 450.5h0M159.7 444.6h0M159.9 446.9h0M159.9 438.6h0M160.1 437.8h0M160.2 432.6h0M160.3 447.4h0M160.3 442.8h0M160.4 445.3h0M160.8 444.3h0M160.8 438.7h0M160.8 436.5h0M160.9 438.5h0M161.1 447.9h0M161.3 446h0M161.3 437.6h0M161.4 436.5h0M161.4 437.2h0M161.6 447.1h0M161.6 446.2h0M161.6 449h0M161.6 440.9h0M161.6 447h0M161.7 443.5h0M161.8 439.4h0M161.8 449h0M161.9 450.1h0M162 439.4h0M162.1 439.8h0M162.2 429.2h0M162.3 443.9h0M162.4 450.9h0M162.5 448.1h0M162.6 436.2h0M162.6 436h0M162.7 448.8h0M162.8 444h0M162.8 447.8h0M162.9 438.9h0M163 441.8h0M163.1 429.8h0M163.2 439.5h0M163.2 442.3h0M163.2 431.7h0M163.5 444h0M163.6 436.5h0M163.8 446.5h0M163.9 443.6h0M164 439.1h0M164 443.9h0M164.2 435.5h0M164.4 442.7h0M164.4 433.4h0M164.5 439.4h0M164.5 439.6h0M164.6 438.3h0M164.8 446.8h0M165 445.1h0M165 430.3h0M165 438h0M165 436.1h0M165.4 443h0M165.4 448.9h0M165.7 438.4h0M165.9 443.7h0M166 437.3h0M166.3 452.7h0M166.3 445.1h0M166.4 439.7h0M166.6 434.8h0M166.9 451.9h0M167.2 432.9h0M167.2 435.4h0M167.2 446.7h0M167.3 450.1h0M167.3 433.7h0M167.4 436.7h0M167.7 439.2h0M167.7 445h0M167.8 449.7h0M168 445.6h0M168 439.4h0M168 446.3h0M168.2 429.8h0M168.2 438.2h0M168.4 451.3h0M168.6 447.9h0M168.7 435.4h0M168.9 442.7h0M168.9 438.2h0M168.9 446.5h0M169 433.7h0M169.1 438.9h0M169.1 439.6h0M169.1 437.7h0M169.1 450h0M169.4 434.8h0M169.4 451.1h0M169.4 444h0M169.7 439.8h0M169.8 443.3h0M169.8 432.8h0M169.8 437.4h0M169.8 438.7h0M170.1 449.3h0M170.2 443.5h0M170.2 450.2h0M170.3 447.1h0M170.4 449h0M170.6 446.6h0M170.7 438.5h0M170.7 441.4h0M170.8 441.8h0M170.9 445h0M170.9 447h0M170.9 452h0M171 450.4h0M171 442.1h0M171 434.2h0M171.1 440.1h0M171.1 443.8h0M171.1 440h0M171.2 450.2h0M171.4 452.1h0M171.4 457.1h0M171.6 442.4h0M171.6 440.2h0M171.7 448.3h0M171.7 439.7h0M171.7 454.5h0M171.7 442.1h0M171.8 441.6h0M171.8 452.5h0M171.8 448.2h0M171.9 440.8h0M171.9 442.6h0M171.9 440h0M171.9 437.5h0M171.9 450.8h0M172.1 453.2h0M172.1 434.4h0M172.2 449.2h0M172.2 447.1h0M172.4 434.4h0M172.4 450.5h0M172.4 435.6h0M172.5 437.7h0M172.6 447.2h0M172.7 446.4h0M172.7 442.6h0M172.8 437.9h0M172.8 449.8h0M173.1 445.5h0M173.1 443.8h0M173.1 437.1h0M173.1 445.6h0M173.2 446h0M173.2 431.4h0M173.2 437.6h0M173.3 434.3h0M173.3 438.2h0M173.4 440.2h0M173.4 444.7h0M173.7 440.5h0M173.8 438.3h0M173.8 447.1h0M174 448h0M174 450h0M174.4 437.7h0M174.8 445.9h0M174.9 444.9h0M174.9 442.4h0M175 433.2h0M175 450.2h0M175 451.6h0M175.1 434.7h0M175.2 445h0M175.2 446.3h0M175.3 430.6h0M175.3 449.5h0M175.3 453.3h0M175.6 433.6h0M175.7 436.4h0M175.7 439.9h0M175.7 448.5h0M175.9 436.2h0M176.1 450.1h0M176.2 444.3h0M176.4 449.8h0M176.5 445.9h0M176.6 452.6h0M177 441.8h0M177 445h0M177.3 433.9h0M177.3 444.6h0M177.3 443.7h0M177.7 448.3h0M177.9 445.9h0M177.9 452.9h0M178 434.6h0M178 452.5h0M178.3 438.4h0M178.3 434.4h0M178.3 436.3h0M178.4 440.1h0M178.4 449.5h0M178.5 435.1h0M178.5 441.2h0M178.8 440.5h0M179.3 433.9h0M179.4 450.6h0M179.6 436.7h0M179.6 437.8h0M179.7 440.4h0M180 450.6h0M180.1 433h0M180.2 446.5h0M180.2 444.6h0M180.2 436.9h0M180.6 435.3h0M180.7 447.3h0M180.8 441h0M180.9 435.2h0M181 441.8h0M181.1 450.2h0M181.2 444.8h0M181.2 439.3h0M181.2 440.4h0M181.3 443.5h0M181.4 451.1h0M181.5 435.6h0M181.5 447.4h0M181.5 447.9h0M181.5 448.9h0M181.5 449.6h0M181.6 449.1h0M181.6 445.7h0M181.7 450h0M181.7 438.3h0M182.1 449.7h0M182.2 445.6h0M182.2 433.5h0M182.3 440.6h0M182.3 435.5h0M182.4 447.8h0M182.4 436.5h0M182.4 454.2h0M182.7 437.7h0M182.7 433.5h0M182.7 437.5h0M183.3 448.7h0M183.4 438.9h0M183.5 438.2h0M183.5 438.4h0M183.5 438.1h0M183.7 451.2h0M183.7 436.1h0M183.8 448.2h0M183.9 442.3h0M183.9 443.2h0M184.1 446.4h0M184.1 446.9h0M184.2 435.7h0M184.2 456.1h0M184.2 442.7h0M184.3 443.8h0M184.5 448.4h0M184.6 449.1h0M184.7 443.5h0M184.9 443.4h0M184.9 448.2h0M185 448.2h0M185.1 450.3h0M185.1 441h0M185.2 433.1h0M185.2 445h0M185.3 446.6h0M185.6 437.6h0M185.7 442.5h0M185.7 453.3h0M185.8 440.7h0M185.8 446.1h0M185.8 451.3h0M185.9 442.8h0M185.9 433.1h0M185.9 452.3h0M186.1 436.9h0M186.2 441h0M186.2 436.5h0M186.4 441.5h0M186.5 440.7h0M186.6 432.4h0M186.6 451.2h0M186.9 449.8h0M187 441.3h0M187 445.7h0M187 442.6h0M187.1 446h0M187.2 433.8h0M187.3 439.5h0M187.3 441.9h0M187.4 447.8h0M187.6 445.5h0M187.6 449.4h0M187.7 438.1h0M187.7 448.1h0M187.8 442.6h0M187.8 438.4h0M187.9 442.6h0M188 440.7h0M188 449.6h0M188 445h0M188.1 445.6h0M188.1 443.3h0M188.1 439.1h0M188.2 448.7h0M188.2 433.4h0M188.2 443.8h0M188.4 450.7h0M188.4 442.1h0M188.6 443.6h0M188.7 437.4h0M188.8 439.4h0M188.8 451.2h0M188.9 442.7h0M189.4 447.4h0M189.4 452.1h0M189.8 433.8h0M189.9 433.9h0M189.9 438.3h0M189.9 449.3h0M190 446h0M190 435.7h0M190 435.7h0M190.2 456.7h0M190.2 445.2h0M190.3 438h0M190.4 451.4h0M190.5 450h0M190.8 446.4h0M190.8 440.4h0M190.8 435.7h0M190.8 441.1h0M191.1 440.5h0M191.1 443.2h0M191.3 438.1h0M191.4 439.2h0M191.4 442.6h0M191.4 437.3h0M191.7 433.8h0M191.9 450.9h0M192.3 452.3h0M192.3 441.4h0M192.3 440.9h0M192.4 436.3h0M192.4 448.2h0M192.6 440.8h0M192.7 439.4h0M192.8 448.5h0M192.8 455.7h0M192.9 444.2h0M192.9 451.7h0M193 450.1h0M193.1 444.5h0M193.3 450.2h0M193.4 439.1h0M193.4 437.6h0M193.5 441.7h0M193.5 438.8h0M193.6 449.9h0M193.6 438.9h0M193.7 436.1h0M193.8 435.7h0M193.8 450.5h0M193.8 449.4h0M193.9 440h0M193.9 441.6h0M194 444.7h0M194.1 436.7h0M194.1 436.9h0M194.3 444.2h0M194.3 448.2h0M194.3 436.1h0M194.4 445.9h0M194.5 446.5h0M194.7 450.4h0M195 435.8h0M195 442.8h0M195.1 451.3h0M195.1 448h0M195.1 435.3h0M195.2 452.5h0M195.4 444.2h0M195.4 439.9h0M195.5 445.3h0M195.7 437.8h0M196 447.7h0M196.1 440.8h0M196.1 435.7h0M196.2 445.2h0M196.3 437h0M196.5 444h0M196.6 449.4h0M196.6 448.2h0M196.6 439.1h0M196.8 438.8h0M196.8 454.9h0M197 435.6h0M197.2 443.9h0M197.3 448.2h0M197.3 449.7h0M197.3 435.6h0M197.3 441.6h0M197.5 449.9h0M197.5 450.5h0M197.7 433.9h0M197.8 450.5h0M197.8 439.2h0M198.1 439.2h0M198.3 433h0M198.5 438.5h0M198.6 455.4h0M198.6 441.3h0M198.8 436.3h0M198.9 449h0M198.9 447.1h0M198.9 455.6h0M198.9 435.3h0M199 432.7h0M199 443.6h0M199 447.4h0M199 446.5h0M199.1 445.9h0M199.3 448.9h0M199.3 445.9h0M199.4 438.9h0M199.4 450.8h0M199.4 433.9h0M199.5 442.1h0M199.6 441.9h0M199.7 429.6h0M199.7 452.2h0M199.7 443.3h0M199.8 445.4h0M199.8 441.1h0M199.9 429.4h0M199.9 452.3h0M200 447.7h0M200.1 446.1h0M200.2 437.5h0M200.6 434.2h0M200.6 436.8h0M200.6 444.1h0M200.9 451.3h0M201 441.9h0M201 445.5h0M201 446.4h0M201 433h0M201 436.5h0M201.1 437.9h0M201.1 450.2h0M201.1 440.1h0M201.1 447.4h0M201.2 441h0M201.3 450.8h0M201.3 440.2h0M201.4 438.8h0M201.4 433.3h0M201.4 444.5h0M201.5 438.9h0M201.6 450.9h0M201.6 442h0M201.6 447.1h0M201.7 429.7h0M201.8 434.5h0M201.9 448.6h0M202 442.7h0M202 455.1h0M202.1 435.4h0M202.1 427.6h0M202.2 452.7h0M202.2 432.7h0M202.3 438.9h0M202.3 428.2h0M202.4 441.5h0M202.4 435.1h0M202.7 440.6h0M202.7 437.2h0M202.8 432.3h0M202.8 442.1h0M202.9 447.8h0M203 439.1h0M203 436.5h0M203.7 454.7h0M203.7 434.4h0M203.8 446.2h0M203.8 449.9h0M203.8 454.4h0M203.8 451.5h0M203.9 420.7h0M203.9 428.5h0M204 443.8h0M204 440.2h0M204.1 461h0M204.1 435.1h0M204.5 418.2h0M204.6 440.7h0M204.7 453.8h0M204.9 428.6h0M205.1 452.9h0M205.2 439h0M205.2 435.3h0M205.3 451.7h0M205.5 432.4h0M205.6 440.5h0M205.6 428.8h0M205.7 450.1h0M205.8 449.9h0M205.9 442.1h0M206 465h0M206.1 438.9h0M206.3 454.5h0M206.3 447.4h0M206.3 452.2h0M206.4 436.3h0M206.5 448.8h0M206.6 429.3h0M206.8 445.8h0M206.8 417.7h0M206.8 438h0M206.9 444.5h0M206.9 453.2h0M207 429.2h0M207.1 440.1h0M207.1 447.3h0M207.1 447.7h0M207.2 454.8h0M207.2 452.8h0M207.4 437.4h0M207.4 453.3h0M207.4 435.5h0M207.6 441.9h0M207.7 435h0M207.9 438.6h0M208 448.9h0M208 434.4h0M208 426.3h0M208 432.2h0M208.2 426.3h0M208.3 428.3h0M208.4 436.3h0M208.6 434.7h0M208.7 455.6h0M208.7 448.8h0M208.8 429.2h0M209 429.8h0M209.1 452.7h0M209.1 447h0M209.2 445.7h0M209.3 451.1h0M209.3 427.2h0M209.4 432.9h0M209.4 450.4h0M209.6 436.6h0M209.6 456h0M209.8 455.4h0M209.9 463.1h0M209.9 456.5h0M209.9 457.1h0M210.2 428.4h0M210.2 445.1h0M210.2 428.9h0M210.3 457.2h0M210.3 452.2h0M210.8 434.5h0M210.8 457.6h0M211 451.7h0M211 423.5h0M211.1 461.2h0M211.2 440.9h0M211.2 437.3h0M211.4 421.9h0M211.4 421.8h0M211.5 429.3h0M211.5 423.7h0M211.5 426.6h0M211.6 435h0M211.6 425.9h0M211.7 445.6h0M211.7 430.1h0M211.8 429.3h0M211.9 438.9h0M212.1 438.1h0M212.2 449h0M212.3 423.5h0M212.5 425h0M212.8 454.5h0M212.8 421.2h0M212.9 445.6h0M213 442.2h0M213.3 424.3h0M213.5 418.8h0M213.6 432.3h0M213.7 459.7h0M213.8 438.2h0M213.9 421.4h0M213.9 422.7h0M213.9 422.5h0M214 434h0M214 445.5h0M214.2 461.7h0M214.3 455.4h0M214.7 416.9h0M214.8 434.3h0M214.9 421.6h0M214.9 420.1h0M214.9 423.2h0M215 439.4h0M215.1 438h0M215.1 435.7h0M215.4 438.8h0M215.5 432.6h0M215.6 418.3h0M215.8 432.1h0M216 428.5h0M216 423.6h0M216.1 432.8h0M216.3 464.6h0M216.4 420.9h0M216.5 439.3h0M216.5 425.1h0M216.5 423.8h0M216.6 419.5h0M347.5 426.9h0M347.5 437.1h0M347.7 432.1h0M347.8 425.5h0M347.9 433.2h0M348 435.4h0M348.2 435.7h0M348.2 425.6h0M348.4 430.2h0M348.4 427.6h0M348.5 437.9h0M348.6 427.9h0M348.6 425.8h0M348.7 435h0M348.8 437.3h0M348.8 430.4h0M348.9 426.7h0M348.9 431.4h0M349.2 431.1h0M349.2 427.6h0M349.3 428.1h0M349.3 439.7h0M349.4 427.9h0M349.4 440.2h0M349.5 436.7h0M349.5 432.6h0M349.5 438.1h0M349.5 432.6h0M349.6 428.1h0M349.6 428.1h0M349.6 427.6h0M349.7 431.1h0M350.1 433.6h0M350.1 425h0M350.2 437.1h0M350.2 438.8h0M350.2 430.2h0M350.3 433.7h0M350.3 436.1h0M350.5 428.4h0M350.6 434.1h0M350.6 438.4h0M350.6 434.6h0M350.8 439.3h0M350.9 429.9h0M351 435.7h0M351.1 434.4h0M351.2 430.8h0M351.3 429.6h0M351.4 438.6h0M351.4 431.7h0M351.6 434.9h0M351.6 438.6h0M351.6 437.7h0M351.7 431.8h0M351.7 431.6h0M351.9 431.1h0M351.9 428.6h0M351.9 434.6h0M351.9 439.3h0M352 429h0M352.2 438.3h0M352.2 440.1h0M352.4 438.1h0M352.5 438.7h0M352.6 435.3h0M352.6 435.9h0M352.6 429.6h0M352.7 429.1h0M352.7 430h0M352.7 429.1h0M352.8 438h0M352.9 437.3h0M353 427.8h0M353 428.6h0M353.1 440.3h0M353.1 435.3h0M353.1 438.3h0M353.3 433.5h0M353.6 436.5h0M353.6 434.4h0M353.7 432.7h0M353.9 433.2h0M354 432.5h0M354 435.8h0M354 437.1h0M354.1 429.6h0M354.1 439.9h0M354.2 431.4h0M354.2 443.1h0M354.3 437.2h0M354.3 426.8h0M354.5 435.2h0M354.5 442.9h0M354.5 440.7h0M354.5 428.4h0M354.6 433.9h0M354.6 435.7h0M354.7 428.6h0M354.7 428.5h0M354.9 439.1h0M355 440.8h0M355 428.9h0M355.1 437.4h0M355.4 435.9h0M355.4 439.6h0M355.4 436h0M355.4 426.9h0M355.6 427.6h0M355.6 439.8h0M355.7 436h0M355.9 442.6h0M356 435.8h0M356.1 431.4h0M356.2 440.7h0M356.2 434.4h0M356.5 439.7h0M356.5 439.5h0M356.6 433.4h0M356.6 437.9h0M356.7 440.6h0M356.8 439.3h0M357.2 431.7h0M357.3 436.3h0M357.4 435.4h0M357.4 442h0M357.6 435h0M357.8 441.8h0M358.1 444.6h0M358.3 438.7h0M358.3 432.2h0M358.4 440.5h0M358.6 438.1h0M358.7 427.5h0M358.7 439.8h0M358.7 440.6h0M359 442h0M359 434.4h0M359.1 432.3h0M359.1 443.4h0M359.1 434.7h0M359.1 443.5h0M359.2 427.8h0M359.5 436.4h0M359.5 433.2h0M359.6 440.8h0M359.6 435h0M359.6 429.5h0M359.7 442.5h0M359.7 441.6h0M359.7 438.7h0M359.7 432.2h0M359.7 429.8h0M359.9 431.1h0M359.9 439h0M360.1 436.8h0M360.2 431.9h0M360.2 438.4h0M360.4 439.7h0M360.5 427.9h0M360.8 437.3h0M360.9 432.5h0M361.1 442.5h0M361.1 428.1h0M361.2 439.7h0M361.2 429h0M361.5 431.7h0M361.5 432.1h0M361.6 434.8h0M361.8 443.2h0M362 437.3h0M362.1 428.3h0M362.2 442.9h0M362.3 435.2h0M362.3 438.7h0M362.7 437h0M362.9 439.4h0M363 439.5h0M363 443.1h0M363.1 440.4h0M363.1 445.1h0M363.4 430.9h0M363.5 431.1h0M363.5 441.2h0M363.6 443.6h0M363.6 437.7h0M363.9 442.6h0M364 437.1h0M364.1 441.8h0M364.2 434.1h0M364.2 433.8h0M364.3 430.1h0M364.4 433.2h0M364.4 430.4h0M364.5 429.4h0M364.5 440.4h0M364.9 443.7h0M365 442.2h0M365 435.5h0M365 434.5h0M365.1 431.8h0M365.3 440.3h0M365.4 437.4h0M365.6 443h0M365.6 435.5h0M365.6 432.3h0M365.7 439h0M365.8 432.9h0M365.8 433.5h0M365.9 435h0M366 437.8h0M366.1 436.4h0M366.2 444.2h0M366.5 439.4h0M366.5 445.2h0M366.6 428.9h0M366.6 443.5h0M366.6 441.1h0M366.7 432.9h0M366.9 438.4h0M367 437h0M367 433.4h0M367.1 438.2h0M367.2 437h0M367.3 434.3h0M367.3 440.2h0M367.4 442.9h0M367.8 432.8h0M367.9 435.6h0M368 428.4h0M368.1 435.8h0M368.1 430.5h0M368.2 445.9h0M368.3 442.7h0M368.3 440.3h0M368.4 433.4h0M368.4 438.2h0M368.6 436.8h0M368.6 438.8h0M368.7 438.7h0M368.7 438.1h0M369 440.8h0M369 445.2h0M369.1 435.1h0M369.1 441.9h0M369.2 432h0M369.4 433.2h0M369.5 443.7h0M369.5 441.2h0M369.6 441.4h0M369.6 433.2h0M369.6 440.1h0M369.8 437.7h0M369.8 439.9h0M369.9 437.6h0M369.9 432.8h0M370.1 437.4h0M370.2 440.1h0M370.4 445.1h0M370.4 440.8h0M370.7 443.1h0M370.7 434.3h0M370.7 434.2h0M370.8 439.2h0M370.9 433.2h0M371.1 437.3h0M371.2 437h0M371.2 443.2h0M371.2 436.3h0M371.3 444.8h0M371.3 436.6h0M371.4 443.9h0M371.4 435.4h0M371.6 434h0M371.7 439.4h0M372.6 435.4h0M372.7 434h0M372.7 437.8h0M372.9 442.1h0M373.1 444.2h0M373.1 430.8h0M373.1 441.9h0M373.3 439.5h0M373.6 434.9h0M373.7 444.9h0M373.8 443.2h0M373.8 439.9h0M374.3 444.7h0M374.4 441.7h0M374.5 431.5h0M374.6 443h0M374.6 432.1h0M374.7 444.7h0M374.7 442.9h0M374.8 437.2h0M374.8 442.8h0M374.8 435.8h0M374.8 436.7h0M374.9 434.4h0M374.9 432.8h0M375 443.7h0M375 429.6h0M375.1 441.8h0M375.2 435.6h0M375.3 436.6h0M375.5 435h0M375.7 438.9h0M375.8 433.5h0M376.3 440.9h0M376.3 440.1h0M376.4 439.7h0M376.4 433.5h0M376.4 439.7h0M376.5 432.6h0M376.6 440.8h0M376.7 428.6h0M376.7 430.7h0M376.7 443h0M376.8 437.1h0M376.9 431.4h0M377.2 444.7h0M377.3 434.6h0M377.3 437.8h0M377.4 438.7h0M377.9 443.1h0M378.1 435.3h0M378.1 442.3h0M378.1 442h0M378.2 442.5h0M378.6 431.9h0M378.7 440.3h0M378.7 445.8h0M378.8 440h0M378.9 434.3h0M378.9 436.4h0M379 434.1h0M379.1 431.7h0M379.2 440.1h0M379.2 440h0M379.3 431.7h0M379.5 441h0M379.7 439.2h0M380 432h0M380 435.3h0M380.3 428.6h0M380.3 445.9h0M380.4 437.7h0M380.4 437.5h0M380.5 440.1h0M380.7 442.5h0M380.8 438.1h0M380.8 430.5h0M380.8 438h0M380.8 443.3h0M380.8 434.8h0M380.9 433.3h0M381.1 441.5h0M381.2 442.6h0M381.4 433.9h0M381.5 433.4h0M381.6 436h0M381.7 445.6h0M381.7 444.2h0M381.7 433.5h0M381.7 433.8h0M382.2 444.9h0M382.3 446.8h0M382.3 439.1h0M382.5 443.1h0M382.6 442.9h0M382.6 436.8h0M382.7 443h0M382.9 431h0M383 442.2h0M383.2 432.1h0M383.3 440.7h0M383.4 440.8h0M383.5 433.1h0M383.5 438.5h0M383.5 444.4h0M383.5 433.6h0M383.6 437h0M383.6 437.7h0M383.7 440.7h0M383.8 435.4h0M383.8 433.7h0M383.9 446.6h0M384.1 430h0M384.1 436.1h0M384.2 440.3h0M384.3 445h0M384.3 444.6h0M384.3 443.7h0M384.3 441.2h0M384.4 436.7h0M384.4 440.3h0M384.5 435.3h0M384.7 437.2h0M384.8 437.1h0M384.9 437.4h0M384.9 443.8h0M384.9 437.3h0M385 442h0M385.1 440.7h0M385.4 441.5h0M385.5 435h0M385.6 443.4h0M385.7 431.8h0M385.7 439.6h0M385.9 432.1h0M386 442.9h0M386 437h0M386 441.4h0M386.1 439.2h0M386.2 443.8h0M386.3 442.1h0M386.5 442.2h0M386.5 434.1h0M386.6 432.6h0M386.6 432.3h0M386.7 430.2h0M386.8 439.2h0M386.8 434.4h0M386.8 431.3h0M386.8 437.8h0M386.8 436.1h0M386.9 433.2h0M387 446.2h0M387 435.2h0M387.1 436.6h0M387.2 432.8h0M387.2 441.5h0M387.3 437.3h0M387.3 437.1h0M387.4 435.2h0M387.5 438.4h0M387.8 434.5h0M387.9 430.5h0M387.9 441.6h0M388.3 441h0M388.3 433.4h0M388.5 440.2h0M388.7 437.6h0M388.7 442.7h0M389 431h0M389 433.6h0M389.2 435.2h0M389.2 445.8h0M389.2 439.9h0M389.3 436.3h0M389.4 443.2h0M389.6 435.6h0M389.8 432.8h0M389.8 434.3h0M389.9 435.3h0M390.1 442.1h0M390.2 446h0M390.3 430.9h0M390.4 441.6h0M390.5 431.3h0M390.6 436.9h0M390.7 433.9h0M391.1 446.3h0M391.1 435.8h0M391.2 435.9h0M391.4 438.1h0M391.5 443h0M391.6 442.3h0M391.7 431.6h0M391.7 441h0M391.8 437.3h0M391.8 431.9h0M391.8 443.6h0M391.8 445.8h0M391.9 446.9h0M392 440.8h0M392.1 432.7h0M392.2 436.3h0M392.3 437.6h0M392.5 444.9h0M392.7 444.1h0M392.7 446h0M392.7 444.7h0M392.8 445.3h0M393.3 446h0M393.3 437.1h0M393.4 441.8h0M393.4 440.6h0M393.4 443.5h0M393.5 435.4h0M393.5 442h0M393.6 445.5h0M393.8 440.8h0M394 443.7h0M394.1 441.9h0M394.1 442.7h0M394.4 444.2h0M394.4 438.8h0M394.5 445.4h0M394.5 435.6h0M394.6 433.4h0M394.7 436.8h0M394.7 438.5h0M394.8 441.2h0M394.9 442.8h0M394.9 431.7h0M395 441.3h0M395.1 432.6h0M395.1 436.1h0M395.3 436.4h0M395.3 437.8h0M395.7 443.3h0M395.7 449.8h0M395.8 433.9h0M395.8 437.6h0M395.9 447.8h0M396 435.7h0M396 445.1h0M396.1 432h0M396.3 443.2h0M396.8 449.1h0M396.9 434.2h0M397 434.3h0M397.1 438.1h0M397.1 434.5h0M397.2 443.7h0M397.4 445.2h0M397.5 433.6h0M397.6 433h0M397.6 437.6h0M397.6 438.9h0M397.7 436.2h0M397.7 448.3h0M397.9 441.9h0M397.9 432.1h0M398 445.5h0M398 448.1h0M398.5 438.1h0M398.6 436.3h0M398.6 443.5h0M398.7 435.1h0M398.7 431.9h0M398.8 448.5h0M398.8 439.8h0M399 435h0M399.4 439h0M399.4 436.2h0M399.7 438.3h0M399.7 436h0M399.8 433.2h0M399.8 439.7h0M399.8 434.1h0M399.8 440.6h0M399.8 442.2h0M399.9 438.4h0M399.9 436.5h0M400.1 438h0M400.2 445.6h0M400.4 445.6h0M400.5 440.4h0M400.5 438.4h0M400.5 431.2h0M400.5 433.4h0M400.7 440.1h0M400.9 433.4h0M401 442.6h0M401.1 442.8h0M401.1 434.9h0M401.1 444.5h0M401.3 441.2h0M401.4 437.3h0M401.5 439.6h0M401.6 433.1h0M401.6 440h0M401.7 441.8h0M401.7 445.2h0M401.9 436.6h0M401.9 437.8h0M402.1 439.8h0M402.1 436.4h0M402.1 445.3h0M402.2 438.2h0M402.3 440.2h0M402.4 436h0M402.4 446h0M402.5 442.3h0M402.6 444.7h0M402.7 435.6h0M402.7 441.1h0M403 433.4h0M403 440.8h0M403.2 434.5h0M403.3 434.7h0M403.5 434.5h0M403.5 443.8h0M403.6 435.2h0M403.7 444.6h0M403.7 435.2h0M403.9 437.9h0M404 442.9h0M404.2 447.2h0M404.2 447.8h0M404.2 447.8h0M404.2 440.4h0M404.3 443.6h0M404.4 443.9h0M404.5 446.3h0M404.5 448.6h0M404.7 437.4h0M404.7 438.8h0M404.7 432.5h0M404.8 441h0M404.8 435.6h0M404.8 445.5h0M404.9 447.7h0M404.9 438.7h0M405 442h0M405 441.6h0M405.1 446.2h0M405.3 438.8h0M405.4 432.2h0M405.5 436.8h0M405.6 447h0M405.6 445h0M405.6 447.6h0M405.7 434.3h0M405.8 445h0M405.9 446.2h0M406 436.1h0M406 445.2h0M406 449.5h0M406.1 443.7h0M406.1 449.3h0M406.2 440.1h0M406.2 444.3h0M406.3 446.3h0M406.4 438.2h0M406.8 436h0M406.9 446h0M407 442.6h0M407.1 436.7h0M407.1 440.6h0M407.3 448.1h0M407.3 433.9h0M407.4 447.1h0M407.4 443.2h0M407.4 446.9h0M407.6 433.6h0M407.7 439.7h0M407.7 434.3h0M407.7 443.6h0M407.7 435.1h0M407.7 437.9h0M407.8 448h0M408 444.9h0M408 436.2h0M408 445.8h0M408.1 445.1h0M408.3 448.1h0M408.4 445.4h0M408.4 439.6h0M408.4 449.2h0M408.5 448.6h0M408.7 438.5h0M408.7 444.4h0M408.7 436.7h0M408.9 436h0M408.9 439.2h0M409 437.4h0M409 442.7h0M409.3 440.7h0M409.3 446.5h0M409.3 437h0M409.4 436.1h0M409.4 448.2h0M409.5 450.3h0M409.6 439.3h0M409.7 443.2h0M409.7 440.6h0M409.9 438.5h0M410 443.2h0M410 445.9h0M410 441.8h0M410.2 443.8h0M410.3 441h0M410.3 449.7h0M410.4 434.7h0M410.4 447.1h0M410.5 431.2h0M410.5 438.2h0M410.5 441.6h0M410.6 439h0M410.7 446.6h0M410.8 446.9h0M410.8 445.4h0M410.9 448.1h0M411 446.6h0M411.1 448.6h0M411.1 439.5h0M411.2 439.7h0M411.3 434.7h0M411.5 444h0M411.6 436.6h0M411.8 442h0M411.9 448.7h0M412.1 444.1h0M412.1 435.1h0M412.2 437.3h0M412.2 440.3h0M412.2 440.2h0M412.3 435h0M412.5 441.6h0M412.5 447.6h0M412.5 450.9h0M412.6 438.1h0M412.6 446h0M412.8 434.7h0M412.8 434h0M412.8 444.8h0M412.8 438.7h0M412.9 449.4h0M413.1 436.2h0M413.1 445h0M413.1 436.4h0M413.2 444h0M413.5 437.5h0M413.6 445.7h0M413.6 432.9h0M413.6 441.2h0M413.7 445.6h0M413.8 443.2h0M413.9 447h0M414.1 440.7h0M414.4 436.9h0M414.4 445.5h0M414.5 446.3h0M414.5 443h0M414.6 442.7h0M414.8 442.3h0M414.8 440h0M415 438.3h0M415 439.1h0M415 448.7h0M415.1 435.3h0M415.2 445.3h0M415.5 444h0M415.5 440.6h0M415.7 433.4h0M415.7 447.6h0M415.7 439.3h0M415.7 437.8h0M415.8 443.5h0M415.8 444.4h0M416.1 440.9h0M416.2 441.3h0M416.2 445.1h0M416.3 436.7h0M416.3 438.7h0M416.4 441.4h0M416.5 437.3h0M416.5 449.8h0M416.6 435.8h0M416.6 442.2h0M416.7 449.4h0M416.7 437.1h0M416.9 447.1h0M416.9 441.5h0M417 444.5h0M417 434.3h0M417 439.4h0M417.2 441.1h0M417.2 444.2h0M417.2 439.2h0M417.3 446.9h0M417.5 444.9h0M417.5 445.7h0M417.6 445.4h0M417.6 443.9h0M417.6 448.8h0M417.8 445.5h0M417.8 447h0M417.9 440h0M417.9 442.9h0M418.1 450h0M418.1 436.3h0M418.2 436.7h0M418.3 438.7h0M418.3 441.4h0M418.3 438.9h0M418.4 445.3h0M418.5 441.7h0M418.5 446.2h0M418.5 446.4h0M418.6 444.8h0M418.6 439.2h0M418.6 445.7h0M418.6 436.4h0M418.7 432.5h0M418.8 435.6h0M418.9 446.7h0M418.9 440.1h0M418.9 441.1h0M418.9 450.1h0M419.1 440.4h0M419.1 436h0M419.2 447.2h0M419.4 444.8h0M419.4 440.1h0M419.5 434.8h0M419.6 443.8h0M419.6 434h0M419.6 451.5h0M419.8 442.2h0M419.8 446.8h0M419.9 434.3h0M419.9 448.4h0M419.9 452h0M420 444.8h0M420.1 439.9h0M420.1 440.3h0M420.2 446.2h0M420.3 441.3h0M420.4 451.7h0M420.5 440.7h0M420.6 437.1h0M420.8 449.9h0M420.8 446.2h0M420.9 443.2h0M420.9 450.4h0M420.9 443.2h0M420.9 443.9h0M421.1 442.8h0M421.2 450.1h0M421.3 439.9h0M421.3 445.8h0M421.4 450.3h0M421.4 440.5h0M421.9 448.4h0M422 448.9h0M422 439.6h0M422.1 453.5h0M422.1 432.5h0M422.1 448h0M422.2 441.9h0M422.3 449h0M422.5 434.2h0M422.5 435.3h0M422.6 441.8h0M422.6 449.7h0M422.7 445.8h0M422.7 443.2h0M422.7 447.8h0M422.9 441.9h0M423 436.3h0M423.1 447h0M423.2 447.3h0M423.2 438.5h0M423.3 436.5h0M423.3 449.5h0M423.4 452.5h0M423.5 440h0M423.6 437.6h0M424 436.5h0M424.1 449.2h0M424.1 443.2h0M424.2 442.3h0M424.3 435.9h0M424.4 443.7h0M424.4 451h0M424.5 446.6h0M424.7 445.2h0M424.8 450h0M424.8 443.9h0M424.9 440.9h0M425 441.7h0M425.3 444.4h0M425.3 449.6h0M425.6 442.4h0M425.7 447.1h0M425.7 444.7h0M425.7 447.6h0M425.8 445.7h0M425.8 437.5h0M425.9 439.3h0M426 437.2h0M426 440.5h0M426.1 443h0M426.2 437.5h0M426.3 451.5h0M426.4 452h0M426.4 439.6h0M426.8 440.4h0M427.1 445.8h0M427.2 446.5h0M427.2 435h0M427.4 449.8h0M427.4 447.2h0M427.6 434.5h0M427.7 440h0M427.7 440.1h0M427.8 432.8h0M427.8 435.5h0M427.8 444.6h0M427.9 444.1h0M427.9 444.2h0M428 445.4h0M428 449.7h0M428.1 441.9h0M428.1 436.9h0M428.3 444.5h0M428.3 448h0M428.4 449.4h0M428.4 438.9h0M428.5 439.2h0M428.6 449.1h0M428.6 439.2h0M428.6 451.3h0M428.7 453.4h0M428.7 448.3h0M428.8 441.6h0M428.9 443.5h0M429 444.5h0M429 439.2h0M429.1 435.7h0M429.1 441.9h0M429.2 447.7h0M429.2 441.8h0M429.4 454.5h0M429.4 451.1h0M429.5 444.7h0M429.5 448.8h0M429.5 446.5h0M429.5 449.9h0M429.9 437.7h0M430 443.7h0M430 451h0M430 441.3h0M430 445.1h0M430 443h0M430.1 437.8h0M430.1 446.3h0M430.1 453.5h0M430.2 449.8h0M430.3 445.1h0M430.3 449.2h0M430.4 443h0M430.4 443.2h0M430.5 442.8h0M430.5 449.6h0M430.5 449.4h0M430.5 455.3h0M430.7 438.5h0M430.7 448.7h0M430.8 441.2h0M430.9 446h0M431 440.6h0M431.2 437.8h0M431.4 441h0M431.5 448.2h0M431.5 441.6h0M431.5 450.2h0M431.6 439.9h0M431.7 441.6h0M431.8 451.3h0M431.9 450.3h0M431.9 449h0M431.9 445h0M431.9 436.7h0M432 439.2h0M432 444.6h0M432.1 447.2h0M432.1 451.9h0M432.2 448.5h0M432.3 439.1h0M432.4 445.8h0M432.6 449.7h0M432.8 436.8h0M433.3 450.3h0M433.4 436.2h0M433.4 444.7h0M433.5 446.5h0M433.5 449.6h0M433.5 450.5h0M433.6 447.5h0M433.7 448.6h0M433.7 444.8h0M433.7 448.2h0M433.8 455.2h0M433.8 446.3h0M433.8 439.7h0M433.8 442.7h0M433.9 452.3h0M434 448.4h0M434 443.3h0M434.3 441.7h0M434.4 449.6h0M434.7 447.5h0M434.7 444.5h0M434.9 442.8h0M435.1 441.9h0M435.4 444.9h0M435.4 440.3h0M435.4 438.7h0M435.7 452.4h0M435.7 437.2h0M436.1 450.9h0M436.2 452.5h0M436.4 440.8h0M436.4 438.6h0M436.4 451.7h0M436.5 444h0M436.6 453.9h0M436.8 438.9h0M436.9 442.1h0M437.4 444.1h0M437.5 437.1h0M437.6 450.2h0M437.8 443.1h0M437.8 449.9h0M437.9 449.5h0M438 440.4h0M438.2 441.3h0M438.3 449.3h0M438.4 454.1h0M438.4 451.4h0M438.6 445.3h0M438.7 451.9h0M438.9 451.4h0M438.9 449.9h0M439 438.9h0M439.1 445.4h0M439.1 452.6h0M439.1 445.9h0M439.2 442.2h0M439.2 444h0M439.2 442.8h0M439.2 443.8h0M439.4 453.6h0M439.6 443.7h0M439.8 443.8h0" stroke="#0000ff" stroke-width="1.15" stroke-linecap="square" fill="none"/>
<path d="M216.9 420.7h0M217 439.9h0M217.1 424.9h0M217.3 425.7h0M217.5 428.8h0M217.6 429.2h0M217.8 426.9h0M218 425.7h0M218.1 430.9h0M218.3 426.4h0M218.3 428.4h0M218.6 435.9h0M218.7 430.5h0M218.8 423.7h0M218.9 435h0M219.1 430.3h0M219.1 429.7h0M219.3 437.4h0M219.3 434.4h0M219.4 432.3h0M219.5 426.4h0M219.6 438h0M219.8 426h0M219.9 426.9h0M220 423.8h0M220.2 435.2h0M220.3 431.3h0M220.4 426.8h0M220.4 429.5h0M220.5 427.4h0M220.6 433.3h0M220.6 423.7h0M220.6 428.4h0M220.7 425.3h0M220.8 420.1h0M220.8 426.5h0M220.8 430.6h0M220.9 438h0M221.1 429.9h0M221.2 422h0M221.2 420.7h0M221.2 436.3h0M221.3 427.5h0M221.5 437.2h0M221.5 439.5h0M221.6 432.4h0M221.6 437h0M221.7 428.4h0M222.1 428h0M222.6 432.3h0M222.6 422.7h0M222.7 432.1h0M222.7 435.8h0M222.8 431.6h0M222.8 437.6h0M222.9 427.2h0M222.9 428.8h0M223 434.4h0M223.1 425.9h0M223.1 434.5h0M223.2 435.8h0M223.3 440.1h0M223.4 435.9h0M223.4 432.3h0M223.6 436.9h0M223.7 433.1h0M223.8 440.6h0M223.9 441.7h0M223.9 428.7h0M224 431.3h0M224 428.3h0M224.2 428.8h0M224.4 434.1h0M224.4 427.1h0M225 428h0M225 437.4h0M225.1 427h0M225.1 432.4h0M225.4 433.5h0M225.5 432.4h0M225.5 427.1h0M225.6 427.6h0M225.6 425.7h0M225.9 441.7h0M226 437.1h0M226.5 435.5h0M226.6 438.8h0M226.8 434.5h0M226.9 432.2h0M227 431.2h0M227 435.3h0M227 437.5h0M227.2 432.3h0M227.2 440h0M227.3 438.9h0M227.4 427.9h0M227.5 436.8h0M227.7 435.5h0M227.7 436.7h0M227.8 430.1h0M227.8 434.9h0M227.8 428.2h0M227.8 428.8h0M228 433.4h0M228.5 421.5h0M228.5 427.7h0M228.6 438.6h0M228.8 435.5h0M228.9 435.8h0M229 426h0M229.2 437.1h0M229.3 431.4h0M229.3 438h0M229.5 425.5h0M229.5 426.8h0M229.6 428.2h0M229.6 428.4h0M229.8 431.5h0M229.9 437.8h0M229.9 437.8h0M230.1 430.1h0M230.1 421.7h0M230.2 439.5h0M230.3 437.5h0M230.4 434.2h0M230.4 439.3h0M230.5 431.4h0M230.9 430.4h0M231.3 439.4h0M231.5 434h0M231.5 434.7h0M231.5 440h0M231.5 427.1h0M231.6 424.1h0M231.7 433.1h0M231.8 434.7h0M231.9 438.6h0M231.9 427.1h0M231.9 428.2h0M232.2 428h0M232.2 440.8h0M232.2 437.7h0M232.3 435h0M232.4 433.6h0M232.4 427.9h0M232.5 439.4h0M232.8 434.1h0M232.8 440.1h0M232.9 427.5h0M233 428h0M233 427.2h0M233.1 433.9h0M233.1 429.3h0M233.2 426.4h0M233.3 439.9h0M233.4 432.1h0M233.5 428.4h0M233.6 432.3h0M233.7 429.6h0M233.7 425.9h0M233.7 440.7h0M233.7 422.4h0M233.8 425.9h0M233.9 438h0M233.9 425.6h0M234.1 432h0M234.1 433.8h0M234.1 430.1h0M234.2 426.4h0M234.4 434.9h0M234.4 438h0M234.5 424.6h0M234.6 434.4h0M234.9 432.2h0M234.9 433.3h0M235.1 426h0M235.3 430.6h0M235.3 426.3h0M235.4 427h0M235.6 440.5h0M235.6 429.4h0M235.8 432.1h0M236 441.2h0M236 437h0M236 439.5h0M236.1 433.8h0M236.1 426.6h0M236.3 437.4h0M236.4 426.7h0M236.4 439.2h0M236.4 434.2h0M236.6 435.5h0M236.7 425h0M236.7 437.8h0M236.9 430.9h0M237 430.5h0M237.2 439.1h0M237.2 434.2h0M237.4 434.8h0M237.8 431.6h0M237.8 432.7h0M237.9 431.3h0M238.3 429.1h0M238.4 428.9h0M238.6 430.4h0M238.6 427.7h0M238.6 432.9h0M238.9 438.9h0M239.1 430.8h0M239.1 435.1h0M239.2 437.7h0M239.3 430.9h0M239.3 432.9h0M239.4 431.3h0M239.5 438.9h0M239.6 435.1h0M239.6 441.5h0M239.7 428.4h0M239.8 429.1h0M240.2 436.7h0M240.2 441.2h0M240.2 436.1h0M240.3 425.3h0M240.3 428.3h0M240.5 439.1h0M240.6 426.1h0M240.8 439.6h0M240.9 440.9h0M240.9 438.5h0M241 442.6h0M241.2 435.8h0M241.3 430.8h0M241.5 433.9h0M241.6 428.1h0M241.7 435h0M241.9 432.1h0M241.9 438.9h0M242 432.3h0M242.1 427.3h0M242.2 428h0M242.2 429.4h0M242.4 433.4h0M242.4 435h0M242.5 432.8h0M242.9 434.5h0M242.9 431.2h0M243 429.5h0M243.4 431.1h0M243.6 428.4h0M243.6 426.1h0M243.7 439.4h0M243.8 442h0M243.9 435.9h0M244 427.1h0M244 427.6h0M244.2 432.5h0M244.3 428.4h0M244.4 432.7h0M244.8 440.8h0M245 433.2h0M245.1 428.8h0M245.1 430.1h0M245.1 441.8h0M245.1 426.3h0M245.2 433.2h0M245.3 438h0M245.5 435.3h0M245.5 427.8h0M245.7 425.5h0M245.7 436h0M245.9 432.1h0M245.9 440.3h0M245.9 429.2h0M245.9 443.2h0M246 430.7h0M246.1 434.2h0M246.1 438.7h0M246.2 437.8h0M246.2 427.3h0M246.3 440.8h0M246.4 435.5h0M246.5 437.4h0M246.6 435.7h0M246.6 430h0M246.7 436.3h0M246.7 430.9h0M246.7 436.6h0M246.7 439.4h0M246.8 428.8h0M246.8 437h0M246.8 431.3h0M247 427.8h0M247 430.5h0M247.1 435.7h0M247.1 433.8h0M247.3 430.3h0M247.4 440.4h0M247.5 425.5h0M247.6 437.5h0M247.6 440.1h0M247.7 431.9h0M247.8 432.9h0M247.9 438.5h0M247.9 435.6h0M248 436.3h0M248 430.5h0M248.4 430.6h0M248.4 433.3h0M248.4 439h0M248.5 428.9h0M248.5 436.5h0M248.6 431h0M248.6 432.2h0M248.6 434.7h0M248.8 437.8h0M248.8 432.9h0M248.8 428.5h0M248.9 436.6h0M249.1 439.9h0M249.1 437.7h0M249.2 442.4h0M249.3 430.1h0M249.3 430.1h0M249.3 438.6h0M249.6 425.3h0M249.6 437.3h0M249.6 425.8h0M249.7 441.7h0M249.8 435.5h0M249.8 427.8h0M249.8 428.4h0M249.9 430.7h0M250 431.7h0M250.1 435.6h0M250.6 426.6h0M250.6 434.3h0M250.6 424.1h0M250.7 438.5h0M250.8 427.7h0M250.8 431.6h0M251 432.7h0M251 440.2h0M251.1 436.5h0M251.3 443.3h0M251.4 436.1h0M251.7 435.3h0M251.7 439.1h0M251.8 440.6h0M251.8 437.4h0M251.9 429.5h0M251.9 434.7h0M252.1 428.6h0M252.2 435.7h0M252.2 434.2h0M252.4 440h0M252.4 441.1h0M252.4 429.4h0M252.5 435.2h0M252.5 431.5h0M252.7 428.7h0M252.9 431.9h0M252.9 435.9h0M253.1 438.8h0M253.2 441.8h0M253.4 432.8h0M253.4 432.2h0M253.4 428.1h0M253.5 429h0M253.6 431.3h0M253.8 433.3h0M253.8 439.4h0M253.9 430.9h0M254.1 441.5h0M254.1 427.9h0M254.1 442.2h0M254.2 438.8h0M254.4 441.3h0M254.5 438.6h0M254.5 431.8h0M254.5 440.8h0M254.5 439.2h0M254.5 444.6h0M254.6 429.8h0M254.7 430.2h0M254.8 437.5h0M254.8 428.9h0M254.8 443.1h0M254.9 440h0M255.3 432.3h0M255.3 440.4h0M255.3 428.7h0M255.3 428.7h0M255.3 442.2h0M255.4 436.1h0M256 438.5h0M256.1 427.7h0M256.1 430.1h0M256.1 441.7h0M256.5 430.5h0M256.5 432h0M256.5 434.2h0M256.5 438.9h0M256.8 428.7h0M256.9 441.9h0M256.9 435.2h0M257 442.6h0M257.2 437.5h0M257.2 431.1h0M257.3 428.2h0M257.4 444.2h0M257.8 438.4h0M257.9 432.2h0M258.2 441.6h0M258.2 443.1h0M258.4 428.4h0M258.4 441.9h0M258.5 426.8h0M258.5 435.1h0M258.5 440.3h0M258.6 439.7h0M258.6 437.7h0M258.7 430.1h0M258.7 432.5h0M258.8 437.8h0M258.9 434.1h0M259 441.5h0M259.1 427.8h0M259.1 442.2h0M259.2 435.8h0M259.3 442h0M259.3 439h0M259.4 432.6h0M259.6 433.6h0M259.6 428h0M259.6 440.3h0M259.8 433.2h0M260 446.8h0M260 434h0M260.1 443.1h0M260.2 427.9h0M260.3 435.8h0M260.4 434h0M260.4 440.2h0M260.4 437.9h0M260.4 429.1h0M260.5 432h0M260.5 438.4h0M260.6 430.6h0M260.6 435.4h0M260.6 445.9h0M260.6 437.8h0M260.7 436.8h0M260.7 438.2h0M260.8 440.1h0M260.8 432.7h0M261.1 438.3h0M261.2 435h0M261.2 434.2h0M261.4 435.2h0M261.7 429.5h0M261.9 431.8h0M261.9 434.5h0M261.9 432.3h0M262 436.9h0M262.1 426.8h0M262.7 432.1h0M262.8 442.8h0M263.3 442h0M263.4 437.5h0M263.4 431.1h0M263.4 440.8h0M263.5 440.7h0M264 427.8h0M264.3 435h0M264.4 437.9h0M264.4 442.2h0M264.6 445.5h0M264.7 439.5h0M264.7 440.7h0M264.9 429h0M265 434.2h0M265.2 435.4h0M265.4 436.1h0M265.4 436h0M265.6 441.7h0M265.6 432.3h0M265.9 434.7h0M266.2 428.4h0M266.2 436.4h0M266.3 443.1h0M266.3 431.7h0M266.4 444.1h0M266.5 443.1h0M266.6 433.3h0M266.6 432.4h0M266.7 430.9h0M266.8 434.5h0M266.8 438.2h0M266.8 446.2h0M266.9 433.6h0M266.9 434.2h0M266.9 443.2h0M267 433.8h0M267.1 426.7h0M267.2 443.2h0M267.4 434.9h0M267.5 439.1h0M267.6 435.5h0M267.6 446.6h0M267.7 429.6h0M267.7 440.7h0M267.7 436.4h0M267.8 438.8h0M267.9 442.6h0M267.9 430.9h0M268 442.2h0M268.1 428.5h0M268.3 431.6h0M268.4 436.8h0M268.5 438.3h0M268.5 446h0M268.6 432.5h0M268.6 434.5h0M268.7 439h0M268.7 433.7h0M269 437.5h0M269.1 435.1h0M269.2 434.8h0M269.3 440.8h0M269.4 434.6h0M269.4 443.5h0M269.4 444.1h0M269.4 441.5h0M269.5 433.1h0M269.5 431.2h0M269.6 432.1h0M269.7 436.8h0M269.7 432.9h0M269.8 446.1h0M269.8 438.6h0M269.8 432.6h0M269.8 438.5h0M269.9 442.3h0M270.1 438.8h0M270.2 432.9h0M270.2 430.9h0M270.3 444.9h0M270.3 433h0M270.4 433.2h0M270.4 431.4h0M270.6 432.5h0M270.6 435.4h0M270.6 430.7h0M270.7 441h0M270.7 435.7h0M270.7 440.1h0M270.8 440.3h0M270.9 439.1h0M270.9 433.1h0M271 442h0M271 433.9h0M271 434.6h0M271.1 442h0M271.1 442.4h0M271.2 431.8h0M271.3 436.9h0M271.5 430.5h0M271.5 440.2h0M271.6 430.8h0M271.6 440.9h0M271.6 431.1h0M271.7 440h0M271.8 438h0M271.9 442.8h0M272 434.8h0M272.1 443.2h0M272.1 432.2h0M272.2 438.8h0M272.3 432.7h0M272.3 436.2h0M272.4 433.5h0M272.5 437.5h0M272.5 441.2h0M272.6 428.5h0M272.6 431.6h0M272.7 433.1h0M272.8 436.7h0M272.9 440.7h0M272.9 444.3h0M272.9 434.5h0M273.1 435.3h0M273.1 438h0M273.2 440.9h0M273.3 431.6h0M273.4 442.6h0M273.4 444.2h0M273.6 444.5h0M273.8 431h0M273.8 442.8h0M273.9 430.4h0M274 444.2h0M274.2 436h0M274.2 439.5h0M274.3 439.4h0M274.4 447.4h0M274.6 436.1h0M274.7 438h0M274.8 430.9h0M275.3 433.1h0M275.4 433.8h0M275.4 443.3h0M275.6 433.2h0M275.8 438.6h0M275.8 431.7h0M275.9 431.1h0M276 446.5h0M276.1 436.3h0M276.1 437.6h0M276.1 438.9h0M276.2 432.1h0M276.3 444.4h0M276.3 436.7h0M276.4 437.5h0M276.6 440.7h0M276.7 434.4h0M276.7 432.2h0M276.8 443.6h0M276.8 445.8h0M276.9 436.6h0M277 432.7h0M277 432.2h0M277 435.2h0M277 441.6h0M277.2 432.9h0M277.2 439.4h0M277.3 443.7h0M277.3 435.3h0M277.5 444.9h0M277.6 430.3h0M277.9 437.5h0M278 436.2h0M278 434.4h0M278.1 434.3h0M278.2 435.2h0M278.2 434.6h0M278.5 439.5h0M278.6 445.8h0M278.6 441.3h0M278.7 437.7h0M278.7 443.1h0M278.9 433.6h0M278.9 444.5h0M279.1 436.5h0M279.1 444.7h0M279.2 440h0M279.3 434.4h0M279.4 429.7h0M279.6 447.3h0M279.9 434.9h0M280 432.8h0M280.3 447.9h0M280.4 432.4h0M280.4 446.3h0M280.4 434.7h0M280.5 433.5h0M280.6 442.8h0M280.7 432.2h0M280.7 446.6h0M280.8 438h0M280.8 441.9h0M280.8 437.6h0M280.9 437.3h0M280.9 443.3h0M281 441.3h0M281.1 446.1h0M281.1 444.1h0M281.2 446.8h0M281.2 447.2h0M281.4 434.7h0M281.5 437.2h0M281.5 448.3h0M281.5 436.2h0M281.5 436.2h0M281.6 440.7h0M281.6 442.5h0M281.7 442h0M282.1 437.2h0M282.1 447.8h0M282.3 438.5h0M282.4 439.9h0M282.6 439.4h0M282.8 433.5h0M282.8 444.5h0M282.8 441.5h0M282.9 441.8h0M282.9 442.4h0M283.1 437.7h0M283.1 446.7h0M283.3 435.4h0M283.3 432.7h0M283.4 444.8h0M283.5 440.9h0M283.6 444h0M283.7 443.5h0M283.7 443.3h0M283.9 441.1h0M283.9 433.6h0M284 446.4h0M284.2 435.2h0M284.3 435.2h0M284.5 436.2h0M284.6 434.7h0M284.9 439.6h0M284.9 437.6h0M285 431.8h0M285.2 434.9h0M285.2 439.6h0M285.3 443.9h0M285.5 438.2h0M285.6 436.8h0M285.6 435.1h0M285.7 444.9h0M285.8 435.2h0M285.8 443.5h0M285.9 446h0M285.9 433.7h0M286 434h0M286 440.3h0M286.1 439.2h0M286.1 449.8h0M286.2 433.5h0M286.2 442.6h0M286.4 438.1h0M286.4 445.8h0M286.6 446h0M286.6 437.5h0M286.7 439.3h0M286.7 429.9h0M286.8 438.2h0M286.9 440.2h0M286.9 437.7h0M287 442.2h0M287 440.5h0M287.1 436.4h0M287.2 445.3h0M287.3 443.4h0M287.4 445h0M287.7 447.6h0M287.8 442.1h0M287.9 440.1h0M288 437h0M288 442.1h0M288.3 447.5h0M288.4 435.9h0M288.4 450.1h0M288.4 448.9h0M288.5 448.7h0M288.6 436.3h0M288.8 444.2h0M288.8 436.8h0M288.9 442.6h0M289 439.6h0M289 440.9h0M289 434.2h0M289 433.3h0M289.4 444.5h0M289.4 440.2h0M289.4 447.4h0M289.6 440.1h0M289.7 439.6h0M289.7 441.9h0M289.9 436.4h0M289.9 442.9h0M290 437h0M290 447.9h0M290 439.3h0M290 434.5h0M290 436.8h0M290.1 432.5h0M290.2 435.1h0M290.2 435.9h0M290.3 434.1h0M290.3 436.5h0M290.4 442.3h0M290.6 437.1h0M290.9 437.2h0M291 435.5h0M291 448.5h0M291.1 448.6h0M291.7 440.5h0M291.8 436h0M291.8 443.3h0M291.9 445.2h0M292.4 448.1h0M292.5 439.7h0M292.6 433.9h0M292.8 440.7h0M292.9 444.9h0M293.1 440.8h0M293.2 441.8h0M293.3 441h0M293.3 449.6h0M293.4 442.1h0M293.5 449.8h0M293.7 437.2h0M293.7 448.7h0M293.8 437.3h0M293.8 443.1h0M294 439.9h0M294 442.6h0M294.1 446.9h0M294.4 445.5h0M294.5 441.2h0M294.5 434.4h0M294.6 448h0M294.6 447.2h0M294.6 435.7h0M294.7 438.2h0M294.7 434.2h0M294.9 441.7h0M295 437.1h0M295 439.7h0M295.2 437.3h0M295.6 442.3h0M295.8 441.6h0M295.8 447h0M295.8 444.9h0M295.9 447.1h0M295.9 443.1h0M296 436.7h0M296.1 445.3h0M296.1 442.5h0M296.1 439.4h0M296.4 445h0M296.5 442.6h0M296.6 443h0M296.7 438.3h0M296.9 438.8h0M297 449.9h0M297.1 441.3h0M297.5 448h0M297.6 446.7h0M297.8 443.4h0M297.8 445.9h0M297.9 443.5h0M298 445.5h0M298 441.8h0M298.2 446h0M298.3 446.7h0M298.3 444.8h0M298.3 440.3h0M298.5 440.5h0M298.6 447.8h0M298.6 436.3h0M298.7 448.5h0M298.7 435.4h0M298.7 445.3h0M298.9 446.7h0M299 437.7h0M299 440h0M299 446.3h0M299 442.1h0M299 434.3h0M299 438.3h0M299.1 446.6h0M299.2 447h0M299.3 442.9h0M299.3 447.3h0M299.3 445.8h0M299.5 438.9h0M299.6 437.8h0M299.9 450.6h0M299.9 440.7h0M299.9 442.9h0M299.9 436.7h0M300.1 444.8h0M300.1 448.2h0M300.2 440.2h0M300.3 446.3h0M300.3 442.1h0M300.6 444h0M300.6 440.7h0M300.7 446.5h0M300.9 439h0M301 445.6h0M301 439.8h0M301.1 437.9h0M301.1 445.2h0M301.1 441.7h0M301.5 449.8h0M301.6 441.1h0M301.8 442.8h0M301.8 437.4h0M301.9 444.5h0M302.1 446.5h0M302.1 444.8h0M302.2 436.9h0M302.2 451.8h0M302.5 449.6h0M302.5 437.2h0M302.5 441.9h0M302.5 441.1h0M302.6 443.5h0M302.7 446.8h0M302.7 442h0M302.8 449.6h0M302.9 444.1h0M303.1 446.8h0M303.1 436.7h0M303.1 446.1h0M303.1 439h0M303.2 448.4h0M303.2 440.4h0M303.2 447.6h0M303.2 448.3h0M303.2 444.3h0M303.3 450.8h0M303.4 442.1h0M303.4 441.5h0M303.5 437.2h0M303.5 449.9h0M303.8 444.9h0M303.8 438.3h0M303.8 445.7h0M303.9 451.9h0M303.9 438.7h0M303.9 452.9h0M303.9 438h0M304.1 440.2h0M304.1 437.1h0M304.2 444.5h0M304.2 441.2h0M304.3 445.8h0M304.6 435.3h0M304.7 449h0M304.8 436.7h0M304.8 439.8h0M304.9 443.1h0M304.9 446h0M305 449.9h0M305 440.3h0M305 447.5h0M305.1 439h0M305.3 436.1h0M305.4 448.1h0M305.6 446.6h0M305.6 440.1h0M305.9 439.4h0M305.9 452.8h0M306.1 437.1h0M306.3 439h0M306.3 442.9h0M306.4 439.5h0M306.4 437.8h0M306.4 449.3h0M306.7 437.3h0M306.7 439.8h0M306.7 442.6h0M307 449.8h0M307 438.1h0M307.1 437.2h0M307.2 446.3h0M307.2 446.4h0M307.3 437.2h0M307.4 448.5h0M307.4 438.4h0M307.5 443.1h0M307.5 441.4h0M307.5 440.6h0M307.5 449.5h0M307.6 451.1h0M307.6 449.9h0M307.6 446h0M307.6 449.3h0M307.7 440.2h0M307.7 440.6h0M307.7 444.6h0M307.7 449.8h0M307.8 447.9h0M307.8 443.2h0M307.8 439h0M307.8 436h0M307.8 437.8h0M308 450.1h0M308 442.9h0M308.1 443.5h0M308.3 443h0M308.4 441.5h0M308.5 447.3h0M308.8 449.5h0M308.9 446.1h0M308.9 450.5h0M309.4 440.5h0M309.5 448.2h0M309.6 453.1h0M309.7 443.3h0M309.7 437.8h0M309.8 445.3h0M309.8 446.6h0M309.8 439.4h0M309.8 440.7h0M310 441.7h0M310.1 447.4h0M310.1 439.5h0M310.2 444.5h0M310.3 442.2h0M310.4 447.1h0M310.4 442.2h0M310.5 442h0M310.5 452h0M310.6 454.4h0M310.6 449.7h0M310.6 441.3h0M310.7 443.7h0M310.8 446h0M310.8 437.9h0M310.8 438h0M310.9 446.8h0M311 446.2h0M311.1 446.1h0M311.1 443h0M311.1 441.8h0M311.1 439.2h0M311.2 450.3h0M311.2 440.2h0M311.2 451h0M311.3 448h0M311.4 449.3h0M311.6 453.1h0M311.7 449.2h0M311.8 451h0M311.9 442.1h0M311.9 441.7h0M312 450h0M312.1 447.3h0M312.4 447.2h0M312.5 442.4h0M312.5 447.7h0M312.6 448.5h0M312.7 439.4h0M312.7 443.2h0M312.9 440.2h0M313 451.1h0M313 455.5h0M313 435.8h0M313.1 435.9h0M313.1 451.9h0M313.1 445.4h0M313.1 448.4h0M313.3 449.4h0M313.4 452.1h0M313.6 448.8h0M313.7 440h0M313.7 446.9h0M313.9 451.9h0M314 452h0M314.3 442.8h0M314.4 440.6h0M314.5 448.3h0M314.6 441h0M314.6 453h0M314.7 450.2h0M314.8 445.9h0M314.9 452.6h0M315.1 449.4h0M315.2 446.5h0M315.2 454.4h0M315.3 439.9h0M315.4 443.2h0M315.4 442.7h0M315.6 444.1h0M315.6 450h0M315.6 442.5h0M315.7 446.5h0M315.7 446.7h0M315.7 444.8h0M315.8 447.9h0M315.9 441.8h0M315.9 447.7h0M315.9 451h0M316 444.6h0M316 439.8h0M316.3 441.3h0M316.4 454h0M316.7 449.6h0M316.8 442.6h0M316.9 437.8h0M316.9 447.8h0M317.1 446.5h0M317.1 454.7h0M317.1 454.9h0M317.2 440.7h0M317.5 450.2h0M317.6 445.3h0M317.6 445.9h0M317.8 444.9h0M317.9 441.8h0M318 442.8h0M318.1 450.6h0M318.1 444.3h0M318.1 440.6h0M318.2 454.4h0M318.5 440h0M318.6 445.4h0M318.7 441.5h0M318.7 441.6h0M318.8 451.9h0M318.9 455.1h0M319.1 441.5h0M319.1 449.1h0M319.2 439.4h0M319.3 438.8h0M319.3 443.1h0M319.5 445.1h0M319.5 447.9h0M319.6 439.3h0M319.6 444.8h0M319.7 452.1h0M319.7 446.2h0M319.7 448.4h0M319.8 453.7h0M319.8 449.1h0M319.9 441.8h0M320.1 442.1h0M320.3 449.2h0M320.5 440.8h0M320.6 447.4h0M320.7 449.4h0M320.7 451.7h0M320.7 442.3h0M320.7 451.8h0M320.8 446.8h0M320.9 452h0M321.1 445.1h0M321.1 454.3h0M321.3 448.8h0M321.3 444.1h0M321.4 439.2h0M321.4 440.9h0M321.4 452.6h0M321.6 448.4h0M321.6 447.8h0M321.6 442.3h0M321.7 454.2h0M321.7 443.2h0M322 450.9h0M322.1 441.4h0M322.2 454h0M322.3 449.2h0M322.3 450.6h0M322.3 444.1h0M322.5 450.4h0M322.5 444.7h0M322.5 440h0M322.7 438.2h0M322.8 454.2h0M322.8 454.1h0M322.8 441.1h0M322.9 450.3h0M323 446.9h0M323.1 440h0M323.2 446.2h0M323.2 448h0M323.3 451.2h0M323.4 454.7h0M323.5 454.6h0M323.6 454.3h0M323.6 447.3h0M323.7 439.1h0M323.7 452.2h0M323.8 445.3h0M323.9 446.2h0M324 439.3h0M324.1 439.4h0M324.3 443.5h0M324.4 446.4h0M324.4 444h0M324.6 445.5h0M324.8 442.6h0M324.9 443.9h0M324.9 452h0M325.2 446.1h0M325.2 451.3h0M325.2 453.7h0M325.5 446.7h0M325.5 446h0M325.5 447h0M325.5 450.4h0M325.6 445.4h0M325.6 447.1h0M325.8 457.5h0M325.8 443.6h0M325.8 438.1h0M325.9 450.8h0M325.9 446.5h0M326 451.2h0M326 445h0M326.1 444.1h0M326.1 446.8h0M326.1 445.9h0M326.2 449.1h0M326.3 450.9h0M326.4 436.4h0M326.4 439h0M326.4 448.5h0M326.5 446.6h0M326.5 443.1h0M326.7 440.7h0M326.8 448.3h0M326.9 441.8h0M327 449.3h0M327.1 436.4h0M327.2 452.3h0M327.3 436.5h0M327.4 445.3h0M327.4 435.7h0M327.5 449.6h0M327.5 451.4h0M327.6 453.4h0M327.6 445.8h0M327.7 447.9h0M328 447h0M328.2 445.7h0M328.2 437.4h0M328.3 446.5h0M328.5 454.4h0M328.5 452.8h0M328.6 446.6h0M328.6 441.9h0M328.6 455.7h0M328.8 445.2h0M328.8 451.2h0M329 445.5h0M329 452h0M329.2 444.8h0M329.2 441.5h0M329.2 453.9h0M329.2 447.6h0M329.3 452.3h0M329.4 446.7h0M329.4 440.7h0M329.4 441.5h0M329.7 436.8h0M329.9 434.4h0M329.9 444.4h0M329.9 444.5h0M330 451.4h0M330 446.6h0M330.1 442.2h0M330.2 440.4h0M330.2 436.1h0M330.3 441.3h0M330.4 458.2h0M330.4 439.3h0M330.4 435.6h0M330.6 433.9h0M330.7 452.2h0M330.7 448.3h0M330.7 444.4h0M330.7 437.5h0M330.8 433.9h0M331 454.2h0M331 434.6h0M331 443.6h0M331 430h0M331 435.9h0M331.1 445.8h0M331.2 429.9h0M332 438.4h0M332 445.1h0M332 447h0M332.1 434.7h0M332.1 432.2h0M332.5 446.7h0M332.6 427h0M332.6 441.2h0M332.6 422.8h0M332.7 436.4h0M332.7 426.9h0M333 441.9h0M333 438.3h0M333.1 442.1h0M333.1 433.8h0M333.3 427.8h0M333.4 428.3h0M333.5 433.9h0M333.5 438.7h0M333.5 441.5h0M333.7 432.5h0M334 426.5h0M334 428.5h0M334.2 442.4h0M334.3 431.6h0M334.3 430h0M334.4 427.1h0M334.5 428.2h0M334.6 432.2h0M334.7 430.6h0M334.7 436.7h0M334.8 429.7h0M334.9 438.2h0M334.9 441.3h0M335.1 425.3h0M335.2 424.5h0M335.3 441.4h0M335.3 425.1h0M335.4 427.8h0M335.6 436.9h0M335.6 434.8h0M335.9 440.9h0M336.1 431.7h0M336.1 438.2h0M336.4 428.2h0M336.6 422.8h0M336.6 434.6h0M336.6 433.1h0M336.7 431.4h0M336.9 437.6h0M336.9 435.9h0M337 435.6h0M337.2 424.2h0M337.2 430.3h0M337.3 426.5h0M337.3 423.4h0M337.5 432.9h0M337.9 433.5h0M338 434.7h0M338 426.4h0M338.1 430.2h0M338.2 424.7h0M338.3 428.2h0M338.3 437.9h0M338.3 427.4h0M338.6 430.5h0M338.7 432.2h0M339 436.2h0M339 425.5h0M339.5 426.7h0M339.5 431h0M339.5 434.1h0M339.7 433.5h0M339.9 430.7h0M340.1 425.7h0M340.4 434.3h0M340.5 426.8h0M340.5 432.9h0M340.6 425.7h0M340.6 425h0M340.7 429.8h0M340.8 429.2h0M340.9 436.9h0M340.9 433.3h0M341 427.2h0M341 438h0M341.1 433.6h0M341.1 428.2h0M341.2 422.9h0M341.3 421.5h0M341.3 424h0M341.3 429.6h0M341.3 433.8h0M341.4 428.7h0M341.5 436h0M341.6 430h0M341.6 428.5h0M341.8 426.5h0M341.9 422.7h0M341.9 432.4h0M341.9 432.8h0M341.9 424.5h0M342 433.8h0M342 435.1h0M342.1 423.3h0M342.2 432.4h0M342.4 423.8h0M342.5 432.5h0M342.6 424.9h0M342.6 424.1h0M342.7 433h0M342.8 433.8h0M342.8 427.8h0M342.9 431.1h0M343 429.8h0M343 426.7h0M343.1 429.7h0M343.1 432.7h0M343.3 424.2h0M343.3 423h0M343.3 426.5h0M343.4 433.3h0M343.5 425h0M343.6 429.8h0M343.6 431.2h0M343.8 435.6h0M343.8 423.9h0M343.8 427.8h0M344 421.5h0M344.1 436.2h0M344.2 437.3h0M344.3 421.6h0M344.4 433.6h0M344.4 431.6h0M344.4 435.3h0M344.4 428.8h0M344.4 434.1h0M344.5 438.2h0M344.6 422.6h0M344.6 434.7h0M344.8 431.3h0M344.9 434.7h0M344.9 422.4h0M345.1 426.7h0M345.1 423.4h0M345.3 430h0M345.3 427.1h0M345.7 427h0M345.8 424h0M346 434.2h0M346 430h0M346 430h0M346.1 433.4h0M346.1 425.4h0M346.3 427.2h0M346.4 423.8h0M346.5 425.8h0M346.6 429.7h0M346.6 433.6h0M346.7 437.3h0M347.1 428.9h0M347.1 424h0M347.2 434h0" stroke="#ff0000" stroke-width="1.15" stroke-linecap="square" fill="none"/>
<path d="M68.7 467.1v-4M68.7 409.7v4M115.1 467.1v-4M115.1 409.7v4M161.6 467.1v-4M161.6 409.7v4M208.0 467.1v-4M208.0 409.7v4M254.4 467.1v-4M254.4 409.7v4M300.8 467.1v-4M300.8 409.7v4M347.2 467.1v-4M347.2 409.7v4M393.7 467.1v-4M393.7 409.7v4M440.1 467.1v-4M440.1 409.7v4M49.7 467.1h4M440.5 467.1h-4M49.7 438.4h4M440.5 438.4h-4M49.7 409.7h4M440.5 409.7h-4" stroke="#000" stroke-width="0.9" fill="none"/>
<rect x="49.7" y="409.7" width="390.8" height="57.4" fill="none" stroke="#111" stroke-width="1.0"/>
</g>
<g id="heat" shape-rendering="crispEdges">
<g id="hh">
<path d="M498 90.4h7.6v3.9h-7.6z" fill="#a91562"/>
<path d="M498 93.7h7.6v3.9h-7.6z" fill="#a81567"/>
<path d="M498 97h7.6v3.9h-7.6z" fill="#a7146d"/>
<path d="M498 100.3h7.6v3.9h-7.6z" fill="#a61473"/>
<path d="M498 103.6h7.6v3.9h-7.6z" fill="#a61378"/>
<path d="M498 106.9h7.6v3.9h-7.6z" fill="#a5137e"/>
<path d="M498 110.2h7.6v3.9h-7.6z" fill="#a41283"/>
<path d="M498 113.5h7.6v3.9h-7.6z" fill="#a31289"/>
<path d="M498 116.8h7.6v3.9h-7.6z" fill="#a3118e"/>
<path d="M498 120.2h7.6v3.9h-7.6z" fill="#a21193"/>
<path d="M498 123.5h7.6v3.9h-7.6z" fill="#a11097"/>
<path d="M498 126.8h7.6v3.9h-7.6z" fill="#a0109c"/>
<path d="M498 130.1h7.6v3.9h-7.6z" fill="#a00fa0"/>
<path d="M498 133.4h7.6v3.9h-7.6z" fill="#9f0fa4"/>
<path d="M498 136.7h7.6v3.9h-7.6z" fill="#9e0fa8"/>
<path d="M498 140h7.6v3.9h-7.6z" fill="#9e0eac"/>
<path d="M498 143.3h7.6v3.9h-7.6z" fill="#9d0eb0"/>
<path d="M498 146.6h7.6v3.9h-7.6z" fill="#9c0eb3"/>
<path d="M498 149.9h7.6v3.9h-7.6z" fill="#9c0db7"/>
<path d="M498 153.2h7.6v3.9h-7.6z" fill="#9b0dba"/>
<path d="M498 156.5h7.6v3.9h-7.6z" fill="#9b0dbd"/>
<path d="M498 159.8h7.6v3.9h-7.6z" fill="#9a0cc0"/>
<path d="M498 163.1h7.6v3.9h-7.6z" fill="#990cc3"/>
<path d="M498 166.4h7.6v3.9h-7.6z" fill="#990cc5"/>
<path d="M498 169.7h7.6v3.9h-7.6z" fill="#980cc8"/>
<path d="M498 173.1h7.6v3.9h-7.6z" fill="#980bca"/>
<path d="M498 176.4h7.6v3.9h-7.6z" fill="#970bcc"/>
<path d="M498 179.7h7.6v3.9h-7.6z" fill="#970bce"/>
<path d="M498 183h7.6v3.9h-7.6z" fill="#960bd0"/>
<path d="M498 186.3h7.6v3.9h-7.6z" fill="#960bd2"/>
<path d="M498 189.6h7.6v3.9h-7.6z" fill="#960ad3"/>
<path d="M498 192.9h7.6v3.9h-7.6z" fill="#950ad5"/>
<path d="M498 196.2h7.6v3.9h-7.6z" fill="#950ad6"/>
<path d="M498 199.5h7.6v7.2h-7.6z" fill="#950ad7"/>
<path d="M498 206.1h7.6v7.2h-7.6z" fill="#950ad8"/>
<path d="M498 212.7h7.6v7.2h-7.6z" fill="#950ad7"/>
<path d="M498 219.3h7.6v3.9h-7.6z" fill="#950ad6"/>
<path d="M498 222.6h7.6v3.9h-7.6z" fill="#950ad4"/>
<path d="M498 226h7.6v3.9h-7.6z" fill="#960bd2"/>
<path d="M498 229.3h7.6v3.9h-7.6z" fill="#970bcf"/>
<path d="M498 232.6h7.6v3.9h-7.6z" fill="#980bcb"/>
<path d="M498 235.9h7.6v3.9h-7.6z" fill="#990cc6"/>
<path d="M498 239.2h7.6v3.9h-7.6z" fill="#9a0cc0"/>
<path d="M498 242.5h7.6v3.9h-7.6z" fill="#9b0db8"/>
<path d="M498 245.8h7.6v3.9h-7.6z" fill="#9d0eb0"/>
<path d="M498 249.1h7.6v3.9h-7.6z" fill="#9f0fa7"/>
<path d="M498 252.4h7.6v3.9h-7.6z" fill="#a0109e"/>
<path d="M498 255.7h7.6v3.9h-7.6z" fill="#a11095"/>
<path d="M498 259h7.6v3.9h-7.6z" fill="#a2118e"/>
<path d="M498 262.3h7.6v3.9h-7.6z" fill="#a31288"/>
<path d="M498 265.6h7.6v3.9h-7.6z" fill="#a41281"/>
<path d="M498 268.9h7.6v3.9h-7.6z" fill="#a5137a"/>
<path d="M498 272.2h7.6v3.9h-7.6z" fill="#a61473"/>
<path d="M498 275.5h7.6v3.9h-7.6z" fill="#a7146b"/>
<path d="M498 278.9h7.6v3.9h-7.6z" fill="#a91561"/>
<path d="M498 282.2h7.6v3.9h-7.6z" fill="#aa1657"/>
<path d="M498 285.5h7.6v3.9h-7.6z" fill="#ab174c"/>
<path d="M498 288.8h7.6v3.9h-7.6z" fill="#ad1940"/>
<path d="M498 292.1h7.6v3.9h-7.6z" fill="#ae1a33"/>
<path d="M498 295.4h7.6v3.9h-7.6z" fill="#b01c25"/>
<path d="M498 298.7h7.6v3.9h-7.6z" fill="#b21d15"/>
<path d="M498 302h7.6v3.9h-7.6z" fill="#b41f06"/>
<path d="M498 305.3h7.6v3.9h-7.6z" fill="#b62100"/>
<path d="M498 308.6h7.6v3.9h-7.6z" fill="#b82400"/>
<path d="M498 311.9h7.6v3.9h-7.6z" fill="#ba2600"/>
<path d="M498 315.2h7.6v3.9h-7.6z" fill="#bc2900"/>
<path d="M498 318.5h7.6v3.9h-7.6z" fill="#bf2d00"/>
<path d="M498 321.8h7.6v3.9h-7.6z" fill="#c23100"/>
<path d="M498 325.1h7.6v3.9h-7.6z" fill="#c43500"/>
<path d="M498 328.4h7.6v3.9h-7.6z" fill="#c73a00"/>
<path d="M498 331.7h7.6v3.9h-7.6z" fill="#ca3f00"/>
<path d="M498 335.1h7.6v3.9h-7.6z" fill="#cd4400"/>
<path d="M498 338.4h7.6v3.9h-7.6z" fill="#cf4a00"/>
<path d="M498 341.7h7.6v3.9h-7.6z" fill="#d25000"/>
<path d="M498 345h7.6v3.9h-7.6z" fill="#d55600"/>
<path d="M498 348.3h7.6v3.9h-7.6z" fill="#d75c00"/>
<path d="M498 351.6h7.6v3.9h-7.6z" fill="#d96200"/>
<path d="M498 354.9h7.6v3.9h-7.6z" fill="#dc6800"/>
<path d="M498 358.2h7.6v3.9h-7.6z" fill="#de6e00"/>
<path d="M498 361.5h7.6v3.9h-7.6z" fill="#e07500"/>
<path d="M498 364.8h7.6v3.9h-7.6z" fill="#e27c00"/>
<path d="M498 368.1h7.6v3.9h-7.6z" fill="#e48300"/>
<path d="M498 371.4h7.6v3.9h-7.6z" fill="#e68a00"/>
<path d="M498 374.7h7.6v3.9h-7.6z" fill="#e89100"/>
<path d="M498 378h7.6v3.9h-7.6z" fill="#ea9800"/>
<path d="M498 381.3h7.6v3.9h-7.6z" fill="#ec9f00"/>
<path d="M498 384.6h7.6v3.9h-7.6z" fill="#eea700"/>
<path d="M498 388h7.6v3.9h-7.6z" fill="#efaf00"/>
<path d="M498 391.3h7.6v3.9h-7.6z" fill="#f1b700"/>
<path d="M498 394.6h7.6v3.9h-7.6z" fill="#f3c100"/>
<path d="M498 397.9h7.6v3.9h-7.6z" fill="#f5ca00"/>
<path d="M498 401.2h7.6v3.9h-7.6z" fill="#f7d300"/>
<path d="M498 404.5h7.6v3.9h-7.6z" fill="#f9db00"/>
<path d="M498 407.8h7.6v3.9h-7.6z" fill="#fae100"/>
<path d="M498 411.1h7.6v3.9h-7.6z" fill="#fae300"/>
<path d="M498 414.4h7.6v3.9h-7.6z" fill="#fae100"/>
<path d="M498 417.7h7.6v3.9h-7.6z" fill="#f9db00"/>
<path d="M498 421h7.6v3.9h-7.6z" fill="#f7d200"/>
<path d="M498 424.3h7.6v3.9h-7.6z" fill="#f5c700"/>
<path d="M498 427.6h7.6v3.9h-7.6z" fill="#f2bc00"/>
<path d="M498 430.9h7.6v3.9h-7.6z" fill="#f0b100"/>
<path d="M498 434.2h7.6v3.9h-7.6z" fill="#eea700"/>
<path d="M498 437.5h7.6v3.9h-7.6z" fill="#eb9c00"/>
<path d="M498 440.9h7.6v3.9h-7.6z" fill="#e88f00"/>
<path d="M498 444.2h7.6v3.9h-7.6z" fill="#e38000"/>
<path d="M498 447.5h7.6v3.9h-7.6z" fill="#de6f00"/>
<path d="M498 450.8h7.6v3.9h-7.6z" fill="#d75b00"/>
<path d="M498 454.1h7.6v3.9h-7.6z" fill="#cd4500"/>
<path d="M498 457.4h7.6v3.9h-7.6z" fill="#c23200"/>
<path d="M498 460.7h7.6v3.9h-7.6z" fill="#b72300"/>
<path d="M498 464h7.6v3.9h-7.6z" fill="#ac1845"/>
<path d="M505 90.4h7.6v3.9h-7.6z" fill="#a81563"/>
<path d="M505 93.7h7.6v3.9h-7.6z" fill="#a81569"/>
<path d="M505 97h7.6v3.9h-7.6z" fill="#a7146e"/>
<path d="M505 100.3h7.6v3.9h-7.6z" fill="#a61474"/>
<path d="M505 103.6h7.6v3.9h-7.6z" fill="#a51379"/>
<path d="M505 106.9h7.6v3.9h-7.6z" fill="#a5137f"/>
<path d="M505 110.2h7.6v3.9h-7.6z" fill="#a41284"/>
<path d="M505 113.5h7.6v3.9h-7.6z" fill="#a31189"/>
<path d="M505 116.8h7.6v3.9h-7.6z" fill="#a2118f"/>
<path d="M505 120.2h7.6v3.9h-7.6z" fill="#a21194"/>
<path d="M505 123.5h7.6v3.9h-7.6z" fill="#a11098"/>
<path d="M505 126.8h7.6v3.9h-7.6z" fill="#a0109d"/>
<path d="M505 130.1h7.6v3.9h-7.6z" fill="#a00fa1"/>
<path d="M505 133.4h7.6v3.9h-7.6z" fill="#9f0fa5"/>
<path d="M505 136.7h7.6v3.9h-7.6z" fill="#9e0fa9"/>
<path d="M505 140h7.6v3.9h-7.6z" fill="#9e0ead"/>
<path d="M505 143.3h7.6v3.9h-7.6z" fill="#9d0eb0"/>
<path d="M505 146.6h7.6v3.9h-7.6z" fill="#9c0db4"/>
<path d="M505 149.9h7.6v3.9h-7.6z" fill="#9c0db7"/>
<path d="M505 153.2h7.6v3.9h-7.6z" fill="#9b0dba"/>
<path d="M505 156.5h7.6v3.9h-7.6z" fill="#9a0dbe"/>
<path d="M505 159.8h7.6v3.9h-7.6z" fill="#9a0cc1"/>
<path d="M505 163.1h7.6v3.9h-7.6z" fill="#990cc3"/>
<path d="M505 166.4h7.6v3.9h-7.6z" fill="#990cc6"/>
<path d="M505 169.7h7.6v3.9h-7.6z" fill="#980cc9"/>
<path d="M505 173.1h7.6v3.9h-7.6z" fill="#980bcb"/>
<path d="M505 176.4h7.6v3.9h-7.6z" fill="#970bcd"/>
<path d="M505 179.7h7.6v3.9h-7.6z" fill="#970bcf"/>
<path d="M505 183h7.6v3.9h-7.6z" fill="#960bd1"/>
<path d="M505 186.3h7.6v3.9h-7.6z" fill="#960ad3"/>
<path d="M505 189.6h7.6v3.9h-7.6z" fill="#950ad5"/>
<path d="M505 192.9h7.6v3.9h-7.6z" fill="#950ad6"/>
<path d="M505 196.2h7.6v3.9h-7.6z" fill="#950ad7"/>
<path d="M505 199.5h7.6v3.9h-7.6z" fill="#940ad8"/>
<path d="M505 202.8h7.6v3.9h-7.6z" fill="#940ad9"/>
<path d="M505 206.1h7.6v13.8h-7.6z" fill="#940ada"/>
<path d="M505 219.3h7.6v3.9h-7.6z" fill="#940ad9"/>
<path d="M505 222.6h7.6v3.9h-7.6z" fill="#950ad8"/>
<path d="M505 226h7.6v3.9h-7.6z" fill="#950ad6"/>
<path d="M505 229.3h7.6v3.9h-7.6z" fill="#960ad3"/>
<path d="M505 232.6h7.6v3.9h-7.6z" fill="#960bd0"/>
<path d="M505 235.9h7.6v3.9h-7.6z" fill="#970bcc"/>
<path d="M505 239.2h7.6v3.9h-7.6z" fill="#980cc7"/>
<path d="M505 242.5h7.6v3.9h-7.6z" fill="#9a0cc1"/>
<path d="M505 245.8h7.6v3.9h-7.6z" fill="#9b0dba"/>
<path d="M505 249.1h7.6v3.9h-7.6z" fill="#9d0eb2"/>
<path d="M505 252.4h7.6v3.9h-7.6z" fill="#9e0eaa"/>
<path d="M505 255.7h7.6v3.9h-7.6z" fill="#9f0fa3"/>
<path d="M505 259h7.6v3.9h-7.6z" fill="#a0109b"/>
<path d="M505 262.3h7.6v3.9h-7.6z" fill="#a21094"/>
<path d="M505 265.6h7.6v3.9h-7.6z" fill="#a3118d"/>
<path d="M505 268.9h7.6v3.9h-7.6z" fill="#a41285"/>
<path d="M505 272.2h7.6v3.9h-7.6z" fill="#a5137d"/>
<path d="M505 275.5h7.6v3.9h-7.6z" fill="#a61375"/>
<path d="M505 278.9h7.6v3.9h-7.6z" fill="#a7146b"/>
<path d="M505 282.2h7.6v3.9h-7.6z" fill="#a91561"/>
<path d="M505 285.5h7.6v3.9h-7.6z" fill="#aa1656"/>
<path d="M505 288.8h7.6v3.9h-7.6z" fill="#ac184a"/>
<path d="M505 292.1h7.6v3.9h-7.6z" fill="#ad193d"/>
<path d="M505 295.4h7.6v3.9h-7.6z" fill="#af1a30"/>
<path d="M505 298.7h7.6v3.9h-7.6z" fill="#b11c21"/>
<path d="M505 302h7.6v3.9h-7.6z" fill="#b21e11"/>
<path d="M505 305.3h7.6v3.9h-7.6z" fill="#b42000"/>
<path d="M505 308.6h7.6v3.9h-7.6z" fill="#b72200"/>
<path d="M505 311.9h7.6v3.9h-7.6z" fill="#b92500"/>
<path d="M505 315.2h7.6v3.9h-7.6z" fill="#bb2800"/>
<path d="M505 318.5h7.6v3.9h-7.6z" fill="#be2b00"/>
<path d="M505 321.8h7.6v3.9h-7.6z" fill="#c12f00"/>
<path d="M505 325.1h7.6v3.9h-7.6z" fill="#c33300"/>
<path d="M505 328.4h7.6v3.9h-7.6z" fill="#c63800"/>
<path d="M505 331.7h7.6v3.9h-7.6z" fill="#c93d00"/>
<path d="M505 335.1h7.6v3.9h-7.6z" fill="#cc4200"/>
<path d="M505 338.4h7.6v3.9h-7.6z" fill="#ce4800"/>
<path d="M505 341.7h7.6v3.9h-7.6z" fill="#d14d00"/>
<path d="M505 345h7.6v3.9h-7.6z" fill="#d35300"/>
<path d="M505 348.3h7.6v3.9h-7.6z" fill="#d65900"/>
<path d="M505 351.6h7.6v3.9h-7.6z" fill="#d85f00"/>
<path d="M505 354.9h7.6v3.9h-7.6z" fill="#db6500"/>
<path d="M505 358.2h7.6v3.9h-7.6z" fill="#dd6c00"/>
<path d="M505 361.5h7.6v3.9h-7.6z" fill="#df7300"/>
<path d="M505 364.8h7.6v3.9h-7.6z" fill="#e17900"/>
<path d="M505 368.1h7.6v3.9h-7.6z" fill="#e38000"/>
<path d="M505 371.4h7.6v3.9h-7.6z" fill="#e58700"/>
<path d="M505 374.7h7.6v3.9h-7.6z" fill="#e78e00"/>
<path d="M505 378h7.6v3.9h-7.6z" fill="#e99500"/>
<path d="M505 381.3h7.6v3.9h-7.6z" fill="#eb9d00"/>
<path d="M505 384.6h7.6v3.9h-7.6z" fill="#eda400"/>
<path d="M505 388h7.6v3.9h-7.6z" fill="#efac00"/>
<path d="M505 391.3h7.6v3.9h-7.6z" fill="#f0b300"/>
<path d="M505 394.6h7.6v3.9h-7.6z" fill="#f2bb00"/>
<path d="M505 397.9h7.6v3.9h-7.6z" fill="#f4c300"/>
<path d="M505 401.2h7.6v3.9h-7.6z" fill="#f5ca00"/>
<path d="M505 404.5h7.6v3.9h-7.6z" fill="#f7d100"/>
<path d="M505 407.8h7.6v3.9h-7.6z" fill="#f8d500"/>
<path d="M505 411.1h7.6v3.9h-7.6z" fill="#f8d700"/>
<path d="M505 414.4h7.6v3.9h-7.6z" fill="#f8d500"/>
<path d="M505 417.7h7.6v3.9h-7.6z" fill="#f7d000"/>
<path d="M505 421h7.6v3.9h-7.6z" fill="#f5c900"/>
<path d="M505 424.3h7.6v3.9h-7.6z" fill="#f3c000"/>
<path d="M505 427.6h7.6v3.9h-7.6z" fill="#f1b700"/>
<path d="M505 430.9h7.6v3.9h-7.6z" fill="#efae00"/>
<path d="M505 434.2h7.6v3.9h-7.6z" fill="#eda400"/>
<path d="M505 437.5h7.6v3.9h-7.6z" fill="#ea9900"/>
<path d="M505 440.9h7.6v3.9h-7.6z" fill="#e78c00"/>
<path d="M505 444.2h7.6v3.9h-7.6z" fill="#e27d00"/>
<path d="M505 447.5h7.6v3.9h-7.6z" fill="#dd6b00"/>
<path d="M505 450.8h7.6v3.9h-7.6z" fill="#d55700"/>
<path d="M505 454.1h7.6v3.9h-7.6z" fill="#cc4300"/>
<path d="M505 457.4h7.6v3.9h-7.6z" fill="#c13000"/>
<path d="M505 460.7h7.6v3.9h-7.6z" fill="#b62200"/>
<path d="M505 464h7.6v3.9h-7.6z" fill="#ab1751"/>
<path d="M512 90.4h7.6v3.9h-7.6z" fill="#a81565"/>
<path d="M512 93.7h7.6v3.9h-7.6z" fill="#a8146a"/>
<path d="M512 97h7.6v3.9h-7.6z" fill="#a71470"/>
<path d="M512 100.3h7.6v3.9h-7.6z" fill="#a61375"/>
<path d="M512 103.6h7.6v3.9h-7.6z" fill="#a5137b"/>
<path d="M512 106.9h7.6v3.9h-7.6z" fill="#a51280"/>
<path d="M512 110.2h7.6v3.9h-7.6z" fill="#a41285"/>
<path d="M512 113.5h7.6v3.9h-7.6z" fill="#a3118b"/>
<path d="M512 116.8h7.6v3.9h-7.6z" fill="#a21190"/>
<path d="M512 120.2h7.6v3.9h-7.6z" fill="#a21094"/>
<path d="M512 123.5h7.6v3.9h-7.6z" fill="#a11099"/>
<path d="M512 126.8h7.6v3.9h-7.6z" fill="#a0109d"/>
<path d="M512 130.1h7.6v3.9h-7.6z" fill="#9f0fa2"/>
<path d="M512 133.4h7.6v3.9h-7.6z" fill="#9f0fa6"/>
<path d="M512 136.7h7.6v3.9h-7.6z" fill="#9e0eaa"/>
<path d="M512 140h7.6v3.9h-7.6z" fill="#9d0eae"/>
<path d="M512 143.3h7.6v3.9h-7.6z" fill="#9d0eb1"/>
<path d="M512 146.6h7.6v3.9h-7.6z" fill="#9c0db5"/>
<path d="M512 149.9h7.6v3.9h-7.6z" fill="#9b0db8"/>
<path d="M512 153.2h7.6v3.9h-7.6z" fill="#9b0dbc"/>
<path d="M512 156.5h7.6v3.9h-7.6z" fill="#9a0cbf"/>
<path d="M512 159.8h7.6v3.9h-7.6z" fill="#9a0cc2"/>
<path d="M512 163.1h7.6v3.9h-7.6z" fill="#990cc5"/>
<path d="M512 166.4h7.6v3.9h-7.6z" fill="#980cc8"/>
<path d="M512 169.7h7.6v3.9h-7.6z" fill="#980bca"/>
<path d="M512 173.1h7.6v3.9h-7.6z" fill="#970bcd"/>
<path d="M512 176.4h7.6v3.9h-7.6z" fill="#970bcf"/>
<path d="M512 179.7h7.6v3.9h-7.6z" fill="#960bd1"/>
<path d="M512 183h7.6v3.9h-7.6z" fill="#960ad3"/>
<path d="M512 186.3h7.6v3.9h-7.6z" fill="#950ad5"/>
<path d="M512 189.6h7.6v3.9h-7.6z" fill="#950ad7"/>
<path d="M512 192.9h7.6v3.9h-7.6z" fill="#940ad9"/>
<path d="M512 196.2h7.6v3.9h-7.6z" fill="#940ada"/>
<path d="M512 199.5h7.6v3.9h-7.6z" fill="#940adb"/>
<path d="M512 202.8h7.6v3.9h-7.6z" fill="#9309dc"/>
<path d="M512 206.1h7.6v3.9h-7.6z" fill="#9309dd"/>
<path d="M512 209.4h7.6v13.8h-7.6z" fill="#9309de"/>
<path d="M512 222.6h7.6v3.9h-7.6z" fill="#9309dd"/>
<path d="M512 226h7.6v3.9h-7.6z" fill="#930adc"/>
<path d="M512 229.3h7.6v3.9h-7.6z" fill="#940adb"/>
<path d="M512 232.6h7.6v3.9h-7.6z" fill="#940ad9"/>
<path d="M512 235.9h7.6v3.9h-7.6z" fill="#950ad6"/>
<path d="M512 239.2h7.6v3.9h-7.6z" fill="#960bd2"/>
<path d="M512 242.5h7.6v3.9h-7.6z" fill="#970bce"/>
<path d="M512 245.8h7.6v3.9h-7.6z" fill="#980cc8"/>
<path d="M512 249.1h7.6v3.9h-7.6z" fill="#990cc3"/>
<path d="M512 252.4h7.6v3.9h-7.6z" fill="#9b0dbc"/>
<path d="M512 255.7h7.6v3.9h-7.6z" fill="#9c0db5"/>
<path d="M512 259h7.6v3.9h-7.6z" fill="#9d0eae"/>
<path d="M512 262.3h7.6v3.9h-7.6z" fill="#9e0fa7"/>
<path d="M512 265.6h7.6v3.9h-7.6z" fill="#a00fa0"/>
<path d="M512 268.9h7.6v3.9h-7.6z" fill="#a11098"/>
<path d="M512 272.2h7.6v3.9h-7.6z" fill="#a21190"/>
<path d="M512 275.5h7.6v3.9h-7.6z" fill="#a41287"/>
<path d="M512 278.9h7.6v3.9h-7.6z" fill="#a5137d"/>
<path d="M512 282.2h7.6v3.9h-7.6z" fill="#a61473"/>
<path d="M512 285.5h7.6v3.9h-7.6z" fill="#a81568"/>
<path d="M512 288.8h7.6v3.9h-7.6z" fill="#a9165c"/>
<path d="M512 292.1h7.6v3.9h-7.6z" fill="#ab174f"/>
<path d="M512 295.4h7.6v3.9h-7.6z" fill="#ad1941"/>
<path d="M512 298.7h7.6v3.9h-7.6z" fill="#af1a32"/>
<path d="M512 302h7.6v3.9h-7.6z" fill="#b01c22"/>
<path d="M512 305.3h7.6v3.9h-7.6z" fill="#b21e11"/>
<path d="M512 308.6h7.6v3.9h-7.6z" fill="#b52000"/>
<path d="M512 311.9h7.6v3.9h-7.6z" fill="#b72300"/>
<path d="M512 315.2h7.6v3.9h-7.6z" fill="#ba2600"/>
<path d="M512 318.5h7.6v3.9h-7.6z" fill="#bc2900"/>
<path d="M512 321.8h7.6v3.9h-7.6z" fill="#bf2d00"/>
<path d="M512 325.1h7.6v3.9h-7.6z" fill="#c13100"/>
<path d="M512 328.4h7.6v3.9h-7.6z" fill="#c43500"/>
<path d="M512 331.7h7.6v3.9h-7.6z" fill="#c73a00"/>
<path d="M512 335.1h7.6v3.9h-7.6z" fill="#ca3e00"/>
<path d="M512 338.4h7.6v3.9h-7.6z" fill="#cc4400"/>
<path d="M512 341.7h7.6v3.9h-7.6z" fill="#cf4900"/>
<path d="M512 345h7.6v3.9h-7.6z" fill="#d24f00"/>
<path d="M512 348.3h7.6v3.9h-7.6z" fill="#d45500"/>
<path d="M512 351.6h7.6v3.9h-7.6z" fill="#d75a00"/>
<path d="M512 354.9h7.6v3.9h-7.6z" fill="#d96100"/>
<path d="M512 358.2h7.6v3.9h-7.6z" fill="#db6700"/>
<path d="M512 361.5h7.6v3.9h-7.6z" fill="#de6e00"/>
<path d="M512 364.8h7.6v3.9h-7.6z" fill="#e07500"/>
<path d="M512 368.1h7.6v3.9h-7.6z" fill="#e27c00"/>
<path d="M512 371.4h7.6v3.9h-7.6z" fill="#e48200"/>
<path d="M512 374.7h7.6v3.9h-7.6z" fill="#e68900"/>
<path d="M512 378h7.6v3.9h-7.6z" fill="#e89000"/>
<path d="M512 381.3h7.6v3.9h-7.6z" fill="#ea9700"/>
<path d="M512 384.6h7.6v3.9h-7.6z" fill="#eb9e00"/>
<path d="M512 388h7.6v3.9h-7.6z" fill="#eda400"/>
<path d="M512 391.3h7.6v3.9h-7.6z" fill="#eeaa00"/>
<path d="M512 394.6h7.6v3.9h-7.6z" fill="#f0b100"/>
<path d="M512 397.9h7.6v3.9h-7.6z" fill="#f1b800"/>
<path d="M512 401.2h7.6v3.9h-7.6z" fill="#f3be00"/>
<path d="M512 404.5h7.6v3.9h-7.6z" fill="#f4c200"/>
<path d="M512 407.8h7.6v3.9h-7.6z" fill="#f4c600"/>
<path d="M512 411.1h7.6v3.9h-7.6z" fill="#f5c700"/>
<path d="M512 414.4h7.6v3.9h-7.6z" fill="#f4c600"/>
<path d="M512 417.7h7.6v3.9h-7.6z" fill="#f4c200"/>
<path d="M512 421h7.6v3.9h-7.6z" fill="#f3bd00"/>
<path d="M512 424.3h7.6v3.9h-7.6z" fill="#f1b700"/>
<path d="M512 427.6h7.6v3.9h-7.6z" fill="#efaf00"/>
<path d="M512 430.9h7.6v3.9h-7.6z" fill="#eea700"/>
<path d="M512 434.2h7.6v3.9h-7.6z" fill="#ec9e00"/>
<path d="M512 437.5h7.6v3.9h-7.6z" fill="#e99400"/>
<path d="M512 440.9h7.6v3.9h-7.6z" fill="#e58700"/>
<path d="M512 444.2h7.6v3.9h-7.6z" fill="#e17900"/>
<path d="M512 447.5h7.6v3.9h-7.6z" fill="#db6800"/>
<path d="M512 450.8h7.6v3.9h-7.6z" fill="#d45400"/>
<path d="M512 454.1h7.6v3.9h-7.6z" fill="#cb4000"/>
<path d="M512 457.4h7.6v3.9h-7.6z" fill="#c02f00"/>
<path d="M512 460.7h7.6v3.9h-7.6z" fill="#b52100"/>
<path d="M512 464h7.6v3.9h-7.6z" fill="#aa1658"/>
<path d="M519 90.4h7.6v3.9h-7.6z" fill="#a81567"/>
<path d="M519 93.7h7.6v3.9h-7.6z" fill="#a7146d"/>
<path d="M519 97h7.6v3.9h-7.6z" fill="#a61472"/>
<path d="M519 100.3h7.6v3.9h-7.6z" fill="#a61377"/>
<path d="M519 103.6h7.6v3.9h-7.6z" fill="#a5137c"/>
<path d="M519 106.9h7.6v3.9h-7.6z" fill="#a41282"/>
<path d="M519 110.2h7.6v3.9h-7.6z" fill="#a41287"/>
<path d="M519 113.5h7.6v3.9h-7.6z" fill="#a3118c"/>
<path d="M519 116.8h7.6v3.9h-7.6z" fill="#a21191"/>
<path d="M519 120.2h7.6v3.9h-7.6z" fill="#a11095"/>
<path d="M519 123.5h7.6v3.9h-7.6z" fill="#a1109a"/>
<path d="M519 126.8h7.6v3.9h-7.6z" fill="#a0109e"/>
<path d="M519 130.1h7.6v3.9h-7.6z" fill="#9f0fa3"/>
<path d="M519 133.4h7.6v3.9h-7.6z" fill="#9e0fa7"/>
<path d="M519 136.7h7.6v3.9h-7.6z" fill="#9e0eab"/>
<path d="M519 140h7.6v3.9h-7.6z" fill="#9d0eaf"/>
<path d="M519 143.3h7.6v3.9h-7.6z" fill="#9c0eb3"/>
<path d="M519 146.6h7.6v3.9h-7.6z" fill="#9c0db7"/>
<path d="M519 149.9h7.6v3.9h-7.6z" fill="#9b0dba"/>
<path d="M519 153.2h7.6v3.9h-7.6z" fill="#9a0dbe"/>
<path d="M519 156.5h7.6v3.9h-7.6z" fill="#9a0cc1"/>
<path d="M519 159.8h7.6v3.9h-7.6z" fill="#990cc4"/>
<path d="M519 163.1h7.6v3.9h-7.6z" fill="#980cc7"/>
<path d="M519 166.4h7.6v3.9h-7.6z" fill="#980bca"/>
<path d="M519 169.7h7.6v3.9h-7.6z" fill="#970bcd"/>
<path d="M519 173.1h7.6v3.9h-7.6z" fill="#970bd0"/>
<path d="M519 176.4h7.6v3.9h-7.6z" fill="#960bd2"/>
<path d="M519 179.7h7.6v3.9h-7.6z" fill="#950ad4"/>
<path d="M519 183h7.6v3.9h-7.6z" fill="#950ad7"/>
<path d="M519 186.3h7.6v3.9h-7.6z" fill="#940ad9"/>
<path d="M519 189.6h7.6v3.9h-7.6z" fill="#940adb"/>
<path d="M519 192.9h7.6v3.9h-7.6z" fill="#9309dd"/>
<path d="M519 196.2h7.6v3.9h-7.6z" fill="#9309de"/>
<path d="M519 199.5h7.6v3.9h-7.6z" fill="#9209e0"/>
<path d="M519 202.8h7.6v3.9h-7.6z" fill="#9209e1"/>
<path d="M519 206.1h7.6v3.9h-7.6z" fill="#9209e2"/>
<path d="M519 209.4h7.6v7.2h-7.6z" fill="#9109e3"/>
<path d="M519 216h7.6v10.5h-7.6z" fill="#9109e4"/>
<path d="M519 226h7.6v3.9h-7.6z" fill="#9109e3"/>
<path d="M519 229.3h7.6v3.9h-7.6z" fill="#9209e3"/>
<path d="M519 232.6h7.6v3.9h-7.6z" fill="#9209e1"/>
<path d="M519 235.9h7.6v3.9h-7.6z" fill="#9209e0"/>
<path d="M519 239.2h7.6v3.9h-7.6z" fill="#9309dd"/>
<path d="M519 242.5h7.6v3.9h-7.6z" fill="#940adb"/>
<path d="M519 245.8h7.6v3.9h-7.6z" fill="#950ad7"/>
<path d="M519 249.1h7.6v3.9h-7.6z" fill="#960ad3"/>
<path d="M519 252.4h7.6v3.9h-7.6z" fill="#970bce"/>
<path d="M519 255.7h7.6v3.9h-7.6z" fill="#980cc8"/>
<path d="M519 259h7.6v3.9h-7.6z" fill="#990cc2"/>
<path d="M519 262.3h7.6v3.9h-7.6z" fill="#9b0dbc"/>
<path d="M519 265.6h7.6v3.9h-7.6z" fill="#9c0db5"/>
<path d="M519 268.9h7.6v3.9h-7.6z" fill="#9d0ead"/>
<path d="M519 272.2h7.6v3.9h-7.6z" fill="#9f0fa5"/>
<path d="M519 275.5h7.6v3.9h-7.6z" fill="#a0109d"/>
<path d="M519 278.9h7.6v3.9h-7.6z" fill="#a21193"/>
<path d="M519 282.2h7.6v3.9h-7.6z" fill="#a31289"/>
<path d="M519 285.5h7.6v3.9h-7.6z" fill="#a5137e"/>
<path d="M519 288.8h7.6v3.9h-7.6z" fill="#a61472"/>
<path d="M519 292.1h7.6v3.9h-7.6z" fill="#a81565"/>
<path d="M519 295.4h7.6v3.9h-7.6z" fill="#aa1657"/>
<path d="M519 298.7h7.6v3.9h-7.6z" fill="#ac1848"/>
<path d="M519 302h7.6v3.9h-7.6z" fill="#ae1a37"/>
<path d="M519 305.3h7.6v3.9h-7.6z" fill="#b01c25"/>
<path d="M519 308.6h7.6v3.9h-7.6z" fill="#b21e11"/>
<path d="M519 311.9h7.6v3.9h-7.6z" fill="#b52000"/>
<path d="M519 315.2h7.6v3.9h-7.6z" fill="#b72300"/>
<path d="M519 318.5h7.6v3.9h-7.6z" fill="#ba2600"/>
<path d="M519 321.8h7.6v3.9h-7.6z" fill="#bc2900"/>
<path d="M519 325.1h7.6v3.9h-7.6z" fill="#bf2d00"/>
<path d="M519 328.4h7.6v3.9h-7.6z" fill="#c23100"/>
<path d="M519 331.7h7.6v3.9h-7.6z" fill="#c43500"/>
<path d="M519 335.1h7.6v3.9h-7.6z" fill="#c73a00"/>
<path d="M519 338.4h7.6v3.9h-7.6z" fill="#ca3e00"/>
<path d="M519 341.7h7.6v3.9h-7.6z" fill="#cc4300"/>
<path d="M519 345h7.6v3.9h-7.6z" fill="#cf4900"/>
<path d="M519 348.3h7.6v3.9h-7.6z" fill="#d24e00"/>
<path d="M519 351.6h7.6v3.9h-7.6z" fill="#d45400"/>
<path d="M519 354.9h7.6v3.9h-7.6z" fill="#d75b00"/>
<path d="M519 358.2h7.6v3.9h-7.6z" fill="#d96100"/>
<path d="M519 361.5h7.6v3.9h-7.6z" fill="#db6800"/>
<path d="M519 364.8h7.6v3.9h-7.6z" fill="#de6e00"/>
<path d="M519 368.1h7.6v3.9h-7.6z" fill="#e07500"/>
<path d="M519 371.4h7.6v3.9h-7.6z" fill="#e27c00"/>
<path d="M519 374.7h7.6v3.9h-7.6z" fill="#e48300"/>
<path d="M519 378h7.6v3.9h-7.6z" fill="#e68900"/>
<path d="M519 381.3h7.6v3.9h-7.6z" fill="#e89000"/>
<path d="M519 384.6h7.6v3.9h-7.6z" fill="#e99600"/>
<path d="M519 388h7.6v3.9h-7.6z" fill="#eb9c00"/>
<path d="M519 391.3h7.6v3.9h-7.6z" fill="#eca200"/>
<path d="M519 394.6h7.6v3.9h-7.6z" fill="#eea800"/>
<path d="M519 397.9h7.6v3.9h-7.6z" fill="#efac00"/>
<path d="M519 401.2h7.6v3.9h-7.6z" fill="#f0b100"/>
<path d="M519 404.5h7.6v3.9h-7.6z" fill="#f1b500"/>
<path d="M519 407.8h7.6v3.9h-7.6z" fill="#f1b700"/>
<path d="M519 411.1h7.6v3.9h-7.6z" fill="#f2b800"/>
<path d="M519 414.4h7.6v3.9h-7.6z" fill="#f1b700"/>
<path d="M519 417.7h7.6v3.9h-7.6z" fill="#f1b500"/>
<path d="M519 421h7.6v3.9h-7.6z" fill="#f0b100"/>
<path d="M519 424.3h7.6v3.9h-7.6z" fill="#efad00"/>
<path d="M519 427.6h7.6v3.9h-7.6z" fill="#eea700"/>
<path d="M519 430.9h7.6v3.9h-7.6z" fill="#eca000"/>
<path d="M519 434.2h7.6v3.9h-7.6z" fill="#ea9800"/>
<path d="M519 437.5h7.6v3.9h-7.6z" fill="#e78d00"/>
<path d="M519 440.9h7.6v3.9h-7.6z" fill="#e48100"/>
<path d="M519 444.2h7.6v3.9h-7.6z" fill="#df7200"/>
<path d="M519 447.5h7.6v3.9h-7.6z" fill="#d96100"/>
<path d="M519 450.8h7.6v3.9h-7.6z" fill="#d24f00"/>
<path d="M519 454.1h7.6v3.9h-7.6z" fill="#c93d00"/>
<path d="M519 457.4h7.6v3.9h-7.6z" fill="#bf2d00"/>
<path d="M519 460.7h7.6v3.9h-7.6z" fill="#b42003"/>
<path d="M519 464h7.6v3.9h-7.6z" fill="#a9165c"/>
<path d="M526 90.4h7.6v3.9h-7.6z" fill="#a8156a"/>
<path d="M526 93.7h7.6v3.9h-7.6z" fill="#a7146f"/>
<path d="M526 97h7.6v3.9h-7.6z" fill="#a61474"/>
<path d="M526 100.3h7.6v3.9h-7.6z" fill="#a51379"/>
<path d="M526 103.6h7.6v3.9h-7.6z" fill="#a5137e"/>
<path d="M526 106.9h7.6v3.9h-7.6z" fill="#a41283"/>
<path d="M526 110.2h7.6v3.9h-7.6z" fill="#a31288"/>
<path d="M526 113.5h7.6v3.9h-7.6z" fill="#a3118d"/>
<path d="M526 116.8h7.6v3.9h-7.6z" fill="#a21192"/>
<path d="M526 120.2h7.6v3.9h-7.6z" fill="#a11097"/>
<path d="M526 123.5h7.6v3.9h-7.6z" fill="#a0109b"/>
<path d="M526 126.8h7.6v3.9h-7.6z" fill="#a00fa0"/>
<path d="M526 130.1h7.6v3.9h-7.6z" fill="#9f0fa4"/>
<path d="M526 133.4h7.6v3.9h-7.6z" fill="#9e0fa8"/>
<path d="M526 136.7h7.6v3.9h-7.6z" fill="#9e0ead"/>
<path d="M526 140h7.6v3.9h-7.6z" fill="#9d0eb1"/>
<path d="M526 143.3h7.6v3.9h-7.6z" fill="#9c0db5"/>
<path d="M526 146.6h7.6v3.9h-7.6z" fill="#9b0db9"/>
<path d="M526 149.9h7.6v3.9h-7.6z" fill="#9b0dbc"/>
<path d="M526 153.2h7.6v3.9h-7.6z" fill="#9a0cc0"/>
<path d="M526 156.5h7.6v3.9h-7.6z" fill="#990cc4"/>
<path d="M526 159.8h7.6v3.9h-7.6z" fill="#980cc7"/>
<path d="M526 163.1h7.6v3.9h-7.6z" fill="#980bca"/>
<path d="M526 166.4h7.6v3.9h-7.6z" fill="#970bcd"/>
<path d="M526 169.7h7.6v3.9h-7.6z" fill="#960bd0"/>
<path d="M526 173.1h7.6v3.9h-7.6z" fill="#960ad3"/>
<path d="M526 176.4h7.6v3.9h-7.6z" fill="#950ad6"/>
<path d="M526 179.7h7.6v3.9h-7.6z" fill="#940ad8"/>
<path d="M526 183h7.6v3.9h-7.6z" fill="#940adb"/>
<path d="M526 186.3h7.6v3.9h-7.6z" fill="#9309dd"/>
<path d="M526 189.6h7.6v3.9h-7.6z" fill="#9309df"/>
<path d="M526 192.9h7.6v3.9h-7.6z" fill="#9209e1"/>
<path d="M526 196.2h7.6v3.9h-7.6z" fill="#9109e3"/>
<path d="M526 199.5h7.6v3.9h-7.6z" fill="#9109e4"/>
<path d="M526 202.8h7.6v3.9h-7.6z" fill="#9108e6"/>
<path d="M526 206.1h7.6v3.9h-7.6z" fill="#9008e7"/>
<path d="M526 209.4h7.6v3.9h-7.6z" fill="#9008e8"/>
<path d="M526 212.7h7.6v3.9h-7.6z" fill="#8f08e9"/>
<path d="M526 216h7.6v17.1h-7.6z" fill="#8f08ea"/>
<path d="M526 232.6h7.6v3.9h-7.6z" fill="#8f08e9"/>
<path d="M526 235.9h7.6v3.9h-7.6z" fill="#9008e8"/>
<path d="M526 239.2h7.6v3.9h-7.6z" fill="#9008e7"/>
<path d="M526 242.5h7.6v3.9h-7.6z" fill="#9109e5"/>
<path d="M526 245.8h7.6v3.9h-7.6z" fill="#9109e3"/>
<path d="M526 249.1h7.6v3.9h-7.6z" fill="#9209e0"/>
<path d="M526 252.4h7.6v3.9h-7.6z" fill="#9309dd"/>
<path d="M526 255.7h7.6v3.9h-7.6z" fill="#940ad9"/>
<path d="M526 259h7.6v3.9h-7.6z" fill="#950ad4"/>
<path d="M526 262.3h7.6v3.9h-7.6z" fill="#970bcf"/>
<path d="M526 265.6h7.6v3.9h-7.6z" fill="#980bc9"/>
<path d="M526 268.9h7.6v3.9h-7.6z" fill="#990cc3"/>
<path d="M526 272.2h7.6v3.9h-7.6z" fill="#9b0dbc"/>
<path d="M526 275.5h7.6v3.9h-7.6z" fill="#9c0db4"/>
<path d="M526 278.9h7.6v3.9h-7.6z" fill="#9e0eab"/>
<path d="M526 282.2h7.6v3.9h-7.6z" fill="#9f0fa2"/>
<path d="M526 285.5h7.6v3.9h-7.6z" fill="#a11097"/>
<path d="M526 288.8h7.6v3.9h-7.6z" fill="#a3118c"/>
<path d="M526 292.1h7.6v3.9h-7.6z" fill="#a5127f"/>
<path d="M526 295.4h7.6v3.9h-7.6z" fill="#a71471"/>
<path d="M526 298.7h7.6v3.9h-7.6z" fill="#a91562"/>
<path d="M526 302h7.6v3.9h-7.6z" fill="#ab1752"/>
<path d="M526 305.3h7.6v3.9h-7.6z" fill="#ad1941"/>
<path d="M526 308.6h7.6v3.9h-7.6z" fill="#af1b2e"/>
<path d="M526 311.9h7.6v3.9h-7.6z" fill="#b11d1b"/>
<path d="M526 315.2h7.6v3.9h-7.6z" fill="#b41f06"/>
<path d="M526 318.5h7.6v3.9h-7.6z" fill="#b62200"/>
<path d="M526 321.8h7.6v3.9h-7.6z" fill="#b92500"/>
<path d="M526 325.1h7.6v3.9h-7.6z" fill="#bb2800"/>
<path d="M526 328.4h7.6v3.9h-7.6z" fill="#be2c00"/>
<path d="M526 331.7h7.6v3.9h-7.6z" fill="#c13000"/>
<path d="M526 335.1h7.6v3.9h-7.6z" fill="#c33400"/>
<path d="M526 338.4h7.6v3.9h-7.6z" fill="#c63800"/>
<path d="M526 341.7h7.6v3.9h-7.6z" fill="#c93d00"/>
<path d="M526 345h7.6v3.9h-7.6z" fill="#cb4200"/>
<path d="M526 348.3h7.6v3.9h-7.6z" fill="#ce4700"/>
<path d="M526 351.6h7.6v3.9h-7.6z" fill="#d14d00"/>
<path d="M526 354.9h7.6v3.9h-7.6z" fill="#d35300"/>
<path d="M526 358.2h7.6v3.9h-7.6z" fill="#d65900"/>
<path d="M526 361.5h7.6v3.9h-7.6z" fill="#d85f00"/>
<path d="M526 364.8h7.6v3.9h-7.6z" fill="#db6600"/>
<path d="M526 368.1h7.6v3.9h-7.6z" fill="#dd6d00"/>
<path d="M526 371.4h7.6v3.9h-7.6z" fill="#df7300"/>
<path d="M526 374.7h7.6v3.9h-7.6z" fill="#e17a00"/>
<path d="M526 378h7.6v3.9h-7.6z" fill="#e38000"/>
<path d="M526 381.3h7.6v3.9h-7.6z" fill="#e58600"/>
<path d="M526 384.6h7.6v3.9h-7.6z" fill="#e78d00"/>
<path d="M526 388h7.6v3.9h-7.6z" fill="#e89200"/>
<path d="M526 391.3h7.6v3.9h-7.6z" fill="#ea9800"/>
<path d="M526 394.6h7.6v3.9h-7.6z" fill="#eb9d00"/>
<path d="M526 397.9h7.6v3.9h-7.6z" fill="#eca200"/>
<path d="M526 401.2h7.6v3.9h-7.6z" fill="#eda600"/>
<path d="M526 404.5h7.6v3.9h-7.6z" fill="#eea900"/>
<path d="M526 407.8h7.6v3.9h-7.6z" fill="#efab00"/>
<path d="M526 411.1h7.6v3.9h-7.6z" fill="#efad00"/>
<path d="M526 414.4h7.6v3.9h-7.6z" fill="#efac00"/>
<path d="M526 417.7h7.6v3.9h-7.6z" fill="#eeaa00"/>
<path d="M526 421h7.6v3.9h-7.6z" fill="#eea800"/>
<path d="M526 424.3h7.6v3.9h-7.6z" fill="#eda400"/>
<path d="M526 427.6h7.6v3.9h-7.6z" fill="#ec9e00"/>
<path d="M526 430.9h7.6v3.9h-7.6z" fill="#ea9800"/>
<path d="M526 434.2h7.6v3.9h-7.6z" fill="#e88f00"/>
<path d="M526 437.5h7.6v3.9h-7.6z" fill="#e58500"/>
<path d="M526 440.9h7.6v3.9h-7.6z" fill="#e17900"/>
<path d="M526 444.2h7.6v3.9h-7.6z" fill="#dc6b00"/>
<path d="M526 447.5h7.6v3.9h-7.6z" fill="#d65a00"/>
<path d="M526 450.8h7.6v3.9h-7.6z" fill="#cf4900"/>
<path d="M526 454.1h7.6v3.9h-7.6z" fill="#c63900"/>
<path d="M526 457.4h7.6v3.9h-7.6z" fill="#bd2a00"/>
<path d="M526 460.7h7.6v3.9h-7.6z" fill="#b31f0b"/>
<path d="M526 464h7.6v3.9h-7.6z" fill="#a91560"/>
<path d="M533 90.4h7.6v3.9h-7.6z" fill="#a7146d"/>
<path d="M533 93.7h7.6v3.9h-7.6z" fill="#a71472"/>
<path d="M533 97h7.6v3.9h-7.6z" fill="#a61377"/>
<path d="M533 100.3h7.6v3.9h-7.6z" fill="#a5137b"/>
<path d="M533 103.6h7.6v3.9h-7.6z" fill="#a41280"/>
<path d="M533 106.9h7.6v3.9h-7.6z" fill="#a41285"/>
<path d="M533 110.2h7.6v3.9h-7.6z" fill="#a3118a"/>
<path d="M533 113.5h7.6v3.9h-7.6z" fill="#a2118f"/>
<path d="M533 116.8h7.6v3.9h-7.6z" fill="#a21193"/>
<path d="M533 120.2h7.6v3.9h-7.6z" fill="#a11098"/>
<path d="M533 123.5h7.6v3.9h-7.6z" fill="#a0109d"/>
<path d="M533 126.8h7.6v3.9h-7.6z" fill="#9f0fa1"/>
<path d="M533 130.1h7.6v3.9h-7.6z" fill="#9f0fa6"/>
<path d="M533 133.4h7.6v3.9h-7.6z" fill="#9e0eaa"/>
<path d="M533 136.7h7.6v3.9h-7.6z" fill="#9d0eae"/>
<path d="M533 140h7.6v3.9h-7.6z" fill="#9c0eb3"/>
<path d="M533 143.3h7.6v3.9h-7.6z" fill="#9c0db7"/>
<path d="M533 146.6h7.6v3.9h-7.6z" fill="#9b0dbb"/>
<path d="M533 149.9h7.6v3.9h-7.6z" fill="#9a0cbf"/>
<path d="M533 153.2h7.6v3.9h-7.6z" fill="#990cc3"/>
<path d="M533 156.5h7.6v3.9h-7.6z" fill="#990cc7"/>
<path d="M533 159.8h7.6v3.9h-7.6z" fill="#980bca"/>
<path d="M533 163.1h7.6v3.9h-7.6z" fill="#970bce"/>
<path d="M533 166.4h7.6v3.9h-7.6z" fill="#960bd1"/>
<path d="M533 169.7h7.6v3.9h-7.6z" fill="#960ad4"/>
<path d="M533 173.1h7.6v3.9h-7.6z" fill="#950ad7"/>
<path d="M533 176.4h7.6v3.9h-7.6z" fill="#940ada"/>
<path d="M533 179.7h7.6v3.9h-7.6z" fill="#9309dd"/>
<path d="M533 183h7.6v3.9h-7.6z" fill="#9309df"/>
<path d="M533 186.3h7.6v3.9h-7.6z" fill="#9209e2"/>
<path d="M533 189.6h7.6v3.9h-7.6z" fill="#9109e4"/>
<path d="M533 192.9h7.6v3.9h-7.6z" fill="#9108e6"/>
<path d="M533 196.2h7.6v3.9h-7.6z" fill="#9008e8"/>
<path d="M533 199.5h7.6v3.9h-7.6z" fill="#8f08ea"/>
<path d="M533 202.8h7.6v3.9h-7.6z" fill="#8f08eb"/>
<path d="M533 206.1h7.6v3.9h-7.6z" fill="#8e08ec"/>
<path d="M533 209.4h7.6v3.9h-7.6z" fill="#8e08ee"/>
<path d="M533 212.7h7.6v7.2h-7.6z" fill="#8d07ef"/>
<path d="M533 219.3h7.6v7.2h-7.6z" fill="#8d07f0"/>
<path d="M533 226h7.6v7.2h-7.6z" fill="#8d07f1"/>
<path d="M533 232.6h7.6v7.2h-7.6z" fill="#8d07f0"/>
<path d="M533 239.2h7.6v3.9h-7.6z" fill="#8d07ef"/>
<path d="M533 242.5h7.6v3.9h-7.6z" fill="#8e07ee"/>
<path d="M533 245.8h7.6v3.9h-7.6z" fill="#8e08ed"/>
<path d="M533 249.1h7.6v3.9h-7.6z" fill="#8f08eb"/>
<path d="M533 252.4h7.6v3.9h-7.6z" fill="#9008e8"/>
<path d="M533 255.7h7.6v3.9h-7.6z" fill="#9108e6"/>
<path d="M533 259h7.6v3.9h-7.6z" fill="#9209e3"/>
<path d="M533 262.3h7.6v3.9h-7.6z" fill="#9309df"/>
<path d="M533 265.6h7.6v3.9h-7.6z" fill="#940adb"/>
<path d="M533 268.9h7.6v3.9h-7.6z" fill="#950ad6"/>
<path d="M533 272.2h7.6v3.9h-7.6z" fill="#960bd1"/>
<path d="M533 275.5h7.6v3.9h-7.6z" fill="#980bca"/>
<path d="M533 278.9h7.6v3.9h-7.6z" fill="#990cc3"/>
<path d="M533 282.2h7.6v3.9h-7.6z" fill="#9b0dbb"/>
<path d="M533 285.5h7.6v3.9h-7.6z" fill="#9d0eb1"/>
<path d="M533 288.8h7.6v3.9h-7.6z" fill="#9e0fa7"/>
<path d="M533 292.1h7.6v3.9h-7.6z" fill="#a0109c"/>
<path d="M533 295.4h7.6v3.9h-7.6z" fill="#a2118f"/>
<path d="M533 298.7h7.6v3.9h-7.6z" fill="#a41281"/>
<path d="M533 302h7.6v3.9h-7.6z" fill="#a61472"/>
<path d="M533 305.3h7.6v3.9h-7.6z" fill="#a91562"/>
<path d="M533 308.6h7.6v3.9h-7.6z" fill="#ab1750"/>
<path d="M533 311.9h7.6v3.9h-7.6z" fill="#ad193d"/>
<path d="M533 315.2h7.6v3.9h-7.6z" fill="#b01b28"/>
<path d="M533 318.5h7.6v3.9h-7.6z" fill="#b21e12"/>
<path d="M533 321.8h7.6v3.9h-7.6z" fill="#b52000"/>
<path d="M533 325.1h7.6v3.9h-7.6z" fill="#b72300"/>
<path d="M533 328.4h7.6v3.9h-7.6z" fill="#ba2600"/>
<path d="M533 331.7h7.6v3.9h-7.6z" fill="#bc2900"/>
<path d="M533 335.1h7.6v3.9h-7.6z" fill="#bf2d00"/>
<path d="M533 338.4h7.6v3.9h-7.6z" fill="#c23100"/>
<path d="M533 341.7h7.6v3.9h-7.6z" fill="#c43500"/>
<path d="M533 345h7.6v3.9h-7.6z" fill="#c73a00"/>
<path d="M533 348.3h7.6v3.9h-7.6z" fill="#ca3f00"/>
<path d="M533 351.6h7.6v3.9h-7.6z" fill="#cc4400"/>
<path d="M533 354.9h7.6v3.9h-7.6z" fill="#cf4900"/>
<path d="M533 358.2h7.6v3.9h-7.6z" fill="#d24f00"/>
<path d="M533 361.5h7.6v3.9h-7.6z" fill="#d55600"/>
<path d="M533 364.8h7.6v3.9h-7.6z" fill="#d75d00"/>
<path d="M533 368.1h7.6v3.9h-7.6z" fill="#da6300"/>
<path d="M533 371.4h7.6v3.9h-7.6z" fill="#dc6900"/>
<path d="M533 374.7h7.6v3.9h-7.6z" fill="#de6f00"/>
<path d="M533 378h7.6v3.9h-7.6z" fill="#e07500"/>
<path d="M533 381.3h7.6v3.9h-7.6z" fill="#e27b00"/>
<path d="M533 384.6h7.6v3.9h-7.6z" fill="#e48100"/>
<path d="M533 388h7.6v3.9h-7.6z" fill="#e58700"/>
<path d="M533 391.3h7.6v3.9h-7.6z" fill="#e78c00"/>
<path d="M533 394.6h7.6v3.9h-7.6z" fill="#e89100"/>
<path d="M533 397.9h7.6v3.9h-7.6z" fill="#e99600"/>
<path d="M533 401.2h7.6v3.9h-7.6z" fill="#ea9a00"/>
<path d="M533 404.5h7.6v3.9h-7.6z" fill="#eb9d00"/>
<path d="M533 407.8h7.6v3.9h-7.6z" fill="#ec9f00"/>
<path d="M533 411.1h7.6v7.2h-7.6z" fill="#eca000"/>
<path d="M533 417.7h7.6v3.9h-7.6z" fill="#ec9f00"/>
<path d="M533 421h7.6v3.9h-7.6z" fill="#eb9c00"/>
<path d="M533 424.3h7.6v3.9h-7.6z" fill="#ea9800"/>
<path d="M533 427.6h7.6v3.9h-7.6z" fill="#e99300"/>
<path d="M533 430.9h7.6v3.9h-7.6z" fill="#e78d00"/>
<path d="M533 434.2h7.6v3.9h-7.6z" fill="#e58500"/>
<path d="M533 437.5h7.6v3.9h-7.6z" fill="#e27b00"/>
<path d="M533 440.9h7.6v3.9h-7.6z" fill="#de7000"/>
<path d="M533 444.2h7.6v3.9h-7.6z" fill="#da6300"/>
<path d="M533 447.5h7.6v3.9h-7.6z" fill="#d45400"/>
<path d="M533 450.8h7.6v3.9h-7.6z" fill="#cc4400"/>
<path d="M533 454.1h7.6v3.9h-7.6z" fill="#c43400"/>
<path d="M533 457.4h7.6v3.9h-7.6z" fill="#ba2700"/>
<path d="M533 460.7h7.6v3.9h-7.6z" fill="#b11c1f"/>
<path d="M533 464h7.6v3.9h-7.6z" fill="#a7146b"/>
<path d="M540 90.4h7.6v3.9h-7.6z" fill="#a7146f"/>
<path d="M540 93.7h7.6v3.9h-7.6z" fill="#a61474"/>
<path d="M540 97h7.6v3.9h-7.6z" fill="#a61379"/>
<path d="M540 100.3h7.6v3.9h-7.6z" fill="#a5137e"/>
<path d="M540 103.6h7.6v3.9h-7.6z" fill="#a41282"/>
<path d="M540 106.9h7.6v3.9h-7.6z" fill="#a41287"/>
<path d="M540 110.2h7.6v3.9h-7.6z" fill="#a3118b"/>
<path d="M540 113.5h7.6v3.9h-7.6z" fill="#a21190"/>
<path d="M540 116.8h7.6v3.9h-7.6z" fill="#a11095"/>
<path d="M540 120.2h7.6v3.9h-7.6z" fill="#a11099"/>
<path d="M540 123.5h7.6v3.9h-7.6z" fill="#a0109e"/>
<path d="M540 126.8h7.6v3.9h-7.6z" fill="#9f0fa3"/>
<path d="M540 130.1h7.6v3.9h-7.6z" fill="#9e0fa7"/>
<path d="M540 133.4h7.6v3.9h-7.6z" fill="#9e0eac"/>
<path d="M540 136.7h7.6v3.9h-7.6z" fill="#9d0eb0"/>
<path d="M540 140h7.6v3.9h-7.6z" fill="#9c0db5"/>
<path d="M540 143.3h7.6v3.9h-7.6z" fill="#9b0db9"/>
<path d="M540 146.6h7.6v3.9h-7.6z" fill="#9a0dbe"/>
<path d="M540 149.9h7.6v3.9h-7.6z" fill="#9a0cc2"/>
<path d="M540 153.2h7.6v3.9h-7.6z" fill="#990cc6"/>
<path d="M540 156.5h7.6v3.9h-7.6z" fill="#980bca"/>
<path d="M540 159.8h7.6v3.9h-7.6z" fill="#970bce"/>
<path d="M540 163.1h7.6v3.9h-7.6z" fill="#960bd1"/>
<path d="M540 166.4h7.6v3.9h-7.6z" fill="#950ad5"/>
<path d="M540 169.7h7.6v3.9h-7.6z" fill="#940ad8"/>
<path d="M540 173.1h7.6v3.9h-7.6z" fill="#940adb"/>
<path d="M540 176.4h7.6v3.9h-7.6z" fill="#9309de"/>
<path d="M540 179.7h7.6v3.9h-7.6z" fill="#9209e1"/>
<path d="M540 183h7.6v3.9h-7.6z" fill="#9109e4"/>
<path d="M540 186.3h7.6v3.9h-7.6z" fill="#9008e6"/>
<path d="M540 189.6h7.6v3.9h-7.6z" fill="#9008e9"/>
<path d="M540 192.9h7.6v3.9h-7.6z" fill="#8f08eb"/>
<path d="M540 196.2h7.6v3.9h-7.6z" fill="#8e08ed"/>
<path d="M540 199.5h7.6v3.9h-7.6z" fill="#8d07ee"/>
<path d="M540 202.8h7.6v3.9h-7.6z" fill="#8d07f0"/>
<path d="M540 206.1h7.6v3.9h-7.6z" fill="#8c07f1"/>
<path d="M540 209.4h7.6v3.9h-7.6z" fill="#8c07f3"/>
<path d="M540 212.7h7.6v7.2h-7.6z" fill="#8b07f4"/>
<path d="M540 219.3h7.6v3.9h-7.6z" fill="#8a07f5"/>
<path d="M540 222.6h7.6v20.4h-7.6z" fill="#8a06f6"/>
<path d="M540 242.5h7.6v3.9h-7.6z" fill="#8a07f5"/>
<path d="M540 245.8h7.6v3.9h-7.6z" fill="#8b07f4"/>
<path d="M540 249.1h7.6v3.9h-7.6z" fill="#8b07f3"/>
<path d="M540 252.4h7.6v3.9h-7.6z" fill="#8c07f2"/>
<path d="M540 255.7h7.6v3.9h-7.6z" fill="#8d07f0"/>
<path d="M540 259h7.6v3.9h-7.6z" fill="#8e07ee"/>
<path d="M540 262.3h7.6v3.9h-7.6z" fill="#8e08ec"/>
<path d="M540 265.6h7.6v3.9h-7.6z" fill="#8f08e9"/>
<path d="M540 268.9h7.6v3.9h-7.6z" fill="#9008e6"/>
<path d="M540 272.2h7.6v3.9h-7.6z" fill="#9209e2"/>
<path d="M540 275.5h7.6v3.9h-7.6z" fill="#9309de"/>
<path d="M540 278.9h7.6v3.9h-7.6z" fill="#940ad8"/>
<path d="M540 282.2h7.6v3.9h-7.6z" fill="#960bd2"/>
<path d="M540 285.5h7.6v3.9h-7.6z" fill="#980bcb"/>
<path d="M540 288.8h7.6v3.9h-7.6z" fill="#990cc2"/>
<path d="M540 292.1h7.6v3.9h-7.6z" fill="#9b0db9"/>
<path d="M540 295.4h7.6v3.9h-7.6z" fill="#9d0eae"/>
<path d="M540 298.7h7.6v3.9h-7.6z" fill="#9f0fa2"/>
<path d="M540 302h7.6v3.9h-7.6z" fill="#a11095"/>
<path d="M540 305.3h7.6v3.9h-7.6z" fill="#a41287"/>
<path d="M540 308.6h7.6v3.9h-7.6z" fill="#a61377"/>
<path d="M540 311.9h7.6v3.9h-7.6z" fill="#a81566"/>
<path d="M540 315.2h7.6v3.9h-7.6z" fill="#aa1753"/>
<path d="M540 318.5h7.6v3.9h-7.6z" fill="#ad1940"/>
<path d="M540 321.8h7.6v3.9h-7.6z" fill="#af1b2c"/>
<path d="M540 325.1h7.6v3.9h-7.6z" fill="#b21d18"/>
<path d="M540 328.4h7.6v3.9h-7.6z" fill="#b42002"/>
<path d="M540 331.7h7.6v3.9h-7.6z" fill="#b72200"/>
<path d="M540 335.1h7.6v3.9h-7.6z" fill="#b92600"/>
<path d="M540 338.4h7.6v3.9h-7.6z" fill="#bc2900"/>
<path d="M540 341.7h7.6v3.9h-7.6z" fill="#bf2d00"/>
<path d="M540 345h7.6v3.9h-7.6z" fill="#c13100"/>
<path d="M540 348.3h7.6v3.9h-7.6z" fill="#c43500"/>
<path d="M540 351.6h7.6v3.9h-7.6z" fill="#c73a00"/>
<path d="M540 354.9h7.6v3.9h-7.6z" fill="#ca3f00"/>
<path d="M540 358.2h7.6v3.9h-7.6z" fill="#cd4400"/>
<path d="M540 361.5h7.6v3.9h-7.6z" fill="#d04a00"/>
<path d="M540 364.8h7.6v3.9h-7.6z" fill="#d25000"/>
<path d="M540 368.1h7.6v3.9h-7.6z" fill="#d55600"/>
<path d="M540 371.4h7.6v3.9h-7.6z" fill="#d75c00"/>
<path d="M540 374.7h7.6v3.9h-7.6z" fill="#d96200"/>
<path d="M540 378h7.6v3.9h-7.6z" fill="#dc6800"/>
<path d="M540 381.3h7.6v3.9h-7.6z" fill="#de6e00"/>
<path d="M540 384.6h7.6v3.9h-7.6z" fill="#e07400"/>
<path d="M540 388h7.6v3.9h-7.6z" fill="#e17a00"/>
<path d="M540 391.3h7.6v3.9h-7.6z" fill="#e37f00"/>
<path d="M540 394.6h7.6v3.9h-7.6z" fill="#e48400"/>
<path d="M540 397.9h7.6v3.9h-7.6z" fill="#e68800"/>
<path d="M540 401.2h7.6v3.9h-7.6z" fill="#e78c00"/>
<path d="M540 404.5h7.6v3.9h-7.6z" fill="#e78f00"/>
<path d="M540 407.8h7.6v3.9h-7.6z" fill="#e89100"/>
<path d="M540 411.1h7.6v7.2h-7.6z" fill="#e89200"/>
<path d="M540 417.7h7.6v3.9h-7.6z" fill="#e89100"/>
<path d="M540 421h7.6v3.9h-7.6z" fill="#e78e00"/>
<path d="M540 424.3h7.6v3.9h-7.6z" fill="#e68b00"/>
<path d="M540 427.6h7.6v3.9h-7.6z" fill="#e58600"/>
<path d="M540 430.9h7.6v3.9h-7.6z" fill="#e38000"/>
<path d="M540 434.2h7.6v3.9h-7.6z" fill="#e17800"/>
<path d="M540 437.5h7.6v3.9h-7.6z" fill="#de6e00"/>
<path d="M540 440.9h7.6v3.9h-7.6z" fill="#da6300"/>
<path d="M540 444.2h7.6v3.9h-7.6z" fill="#d55700"/>
<path d="M540 447.5h7.6v3.9h-7.6z" fill="#d04a00"/>
<path d="M540 450.8h7.6v3.9h-7.6z" fill="#c93d00"/>
<path d="M540 454.1h7.6v3.9h-7.6z" fill="#c13000"/>
<path d="M540 457.4h7.6v3.9h-7.6z" fill="#b82400"/>
<path d="M540 460.7h7.6v3.9h-7.6z" fill="#af1a31"/>
<path d="M540 464h7.6v3.9h-7.6z" fill="#a5137a"/>
<path d="M547 90.4h7.6v3.9h-7.6z" fill="#a61472"/>
<path d="M547 93.7h7.6v3.9h-7.6z" fill="#a61377"/>
<path d="M547 97h7.6v3.9h-7.6z" fill="#a5137b"/>
<path d="M547 100.3h7.6v3.9h-7.6z" fill="#a5127f"/>
<path d="M547 103.6h7.6v3.9h-7.6z" fill="#a41284"/>
<path d="M547 106.9h7.6v3.9h-7.6z" fill="#a31288"/>
<path d="M547 110.2h7.6v3.9h-7.6z" fill="#a3118d"/>
<path d="M547 113.5h7.6v3.9h-7.6z" fill="#a21191"/>
<path d="M547 116.8h7.6v3.9h-7.6z" fill="#a11096"/>
<path d="M547 120.2h7.6v3.9h-7.6z" fill="#a1109a"/>
<path d="M547 123.5h7.6v3.9h-7.6z" fill="#a00f9f"/>
<path d="M547 126.8h7.6v3.9h-7.6z" fill="#9f0fa4"/>
<path d="M547 130.1h7.6v3.9h-7.6z" fill="#9e0fa9"/>
<path d="M547 133.4h7.6v3.9h-7.6z" fill="#9d0eae"/>
<path d="M547 136.7h7.6v3.9h-7.6z" fill="#9c0eb3"/>
<path d="M547 140h7.6v3.9h-7.6z" fill="#9c0db7"/>
<path d="M547 143.3h7.6v3.9h-7.6z" fill="#9b0dbc"/>
<path d="M547 146.6h7.6v3.9h-7.6z" fill="#9a0cc1"/>
<path d="M547 149.9h7.6v3.9h-7.6z" fill="#990cc5"/>
<path d="M547 153.2h7.6v3.9h-7.6z" fill="#980bc9"/>
<path d="M547 156.5h7.6v3.9h-7.6z" fill="#970bce"/>
<path d="M547 159.8h7.6v3.9h-7.6z" fill="#960bd2"/>
<path d="M547 163.1h7.6v3.9h-7.6z" fill="#950ad6"/>
<path d="M547 166.4h7.6v3.9h-7.6z" fill="#940ad9"/>
<path d="M547 169.7h7.6v3.9h-7.6z" fill="#9309dd"/>
<path d="M547 173.1h7.6v3.9h-7.6z" fill="#9209e0"/>
<path d="M547 176.4h7.6v3.9h-7.6z" fill="#9109e3"/>
<path d="M547 179.7h7.6v3.9h-7.6z" fill="#9108e6"/>
<path d="M547 183h7.6v3.9h-7.6z" fill="#9008e9"/>
<path d="M547 186.3h7.6v3.9h-7.6z" fill="#8f08eb"/>
<path d="M547 189.6h7.6v3.9h-7.6z" fill="#8e08ed"/>
<path d="M547 192.9h7.6v3.9h-7.6z" fill="#8d07f0"/>
<path d="M547 196.2h7.6v3.9h-7.6z" fill="#8c07f1"/>
<path d="M547 199.5h7.6v3.9h-7.6z" fill="#8b07f3"/>
<path d="M547 202.8h7.6v3.9h-7.6z" fill="#8b07f5"/>
<path d="M547 206.1h7.6v3.9h-7.6z" fill="#8a06f6"/>
<path d="M547 209.4h7.6v3.9h-7.6z" fill="#8906f7"/>
<path d="M547 212.7h7.6v3.9h-7.6z" fill="#8906f8"/>
<path d="M547 216h7.6v7.2h-7.6z" fill="#8806f9"/>
<path d="M547 222.6h7.6v7.2h-7.6z" fill="#8706fa"/>
<path d="M547 229.3h7.6v17.1h-7.6z" fill="#8706fb"/>
<path d="M547 245.8h7.6v3.9h-7.6z" fill="#8706fa"/>
<path d="M547 249.1h7.6v3.9h-7.6z" fill="#8806fa"/>
<path d="M547 252.4h7.6v3.9h-7.6z" fill="#8806f9"/>
<path d="M547 255.7h7.6v3.9h-7.6z" fill="#8906f8"/>
<path d="M547 259h7.6v3.9h-7.6z" fill="#8906f7"/>
<path d="M547 262.3h7.6v3.9h-7.6z" fill="#8a06f6"/>
<path d="M547 265.6h7.6v3.9h-7.6z" fill="#8b07f4"/>
<path d="M547 268.9h7.6v3.9h-7.6z" fill="#8c07f3"/>
<path d="M547 272.2h7.6v3.9h-7.6z" fill="#8d07f0"/>
<path d="M547 275.5h7.6v3.9h-7.6z" fill="#8e07ee"/>
<path d="M547 278.9h7.6v3.9h-7.6z" fill="#8f08eb"/>
<path d="M547 282.2h7.6v3.9h-7.6z" fill="#9008e7"/>
<path d="M547 285.5h7.6v3.9h-7.6z" fill="#9209e2"/>
<path d="M547 288.8h7.6v3.9h-7.6z" fill="#940adc"/>
<path d="M547 292.1h7.6v3.9h-7.6z" fill="#950ad5"/>
<path d="M547 295.4h7.6v3.9h-7.6z" fill="#970bcc"/>
<path d="M547 298.7h7.6v3.9h-7.6z" fill="#990cc3"/>
<path d="M547 302h7.6v3.9h-7.6z" fill="#9b0db9"/>
<path d="M547 305.3h7.6v3.9h-7.6z" fill="#9e0ead"/>
<path d="M547 308.6h7.6v3.9h-7.6z" fill="#a00fa0"/>
<path d="M547 311.9h7.6v3.9h-7.6z" fill="#a21192"/>
<path d="M547 315.2h7.6v3.9h-7.6z" fill="#a41283"/>
<path d="M547 318.5h7.6v3.9h-7.6z" fill="#a61472"/>
<path d="M547 321.8h7.6v3.9h-7.6z" fill="#a91561"/>
<path d="M547 325.1h7.6v3.9h-7.6z" fill="#ab174d"/>
<path d="M547 328.4h7.6v3.9h-7.6z" fill="#ae1939"/>
<path d="M547 331.7h7.6v3.9h-7.6z" fill="#b01c23"/>
<path d="M547 335.1h7.6v3.9h-7.6z" fill="#b31f0c"/>
<path d="M547 338.4h7.6v3.9h-7.6z" fill="#b62100"/>
<path d="M547 341.7h7.6v3.9h-7.6z" fill="#b82400"/>
<path d="M547 345h7.6v3.9h-7.6z" fill="#bb2700"/>
<path d="M547 348.3h7.6v3.9h-7.6z" fill="#bd2b00"/>
<path d="M547 351.6h7.6v3.9h-7.6z" fill="#c02f00"/>
<path d="M547 354.9h7.6v3.9h-7.6z" fill="#c33300"/>
<path d="M547 358.2h7.6v3.9h-7.6z" fill="#c63800"/>
<path d="M547 361.5h7.6v3.9h-7.6z" fill="#c93d00"/>
<path d="M547 364.8h7.6v3.9h-7.6z" fill="#cc4200"/>
<path d="M547 368.1h7.6v3.9h-7.6z" fill="#ce4800"/>
<path d="M547 371.4h7.6v3.9h-7.6z" fill="#d14e00"/>
<path d="M547 374.7h7.6v3.9h-7.6z" fill="#d45400"/>
<path d="M547 378h7.6v3.9h-7.6z" fill="#d65a00"/>
<path d="M547 381.3h7.6v3.9h-7.6z" fill="#d96000"/>
<path d="M547 384.6h7.6v3.9h-7.6z" fill="#db6600"/>
<path d="M547 388h7.6v3.9h-7.6z" fill="#dd6b00"/>
<path d="M547 391.3h7.6v3.9h-7.6z" fill="#de7000"/>
<path d="M547 394.6h7.6v3.9h-7.6z" fill="#e07400"/>
<path d="M547 397.9h7.6v3.9h-7.6z" fill="#e17900"/>
<path d="M547 401.2h7.6v3.9h-7.6z" fill="#e27c00"/>
<path d="M547 404.5h7.6v3.9h-7.6z" fill="#e37f00"/>
<path d="M547 407.8h7.6v3.9h-7.6z" fill="#e48100"/>
<path d="M547 411.1h7.6v7.2h-7.6z" fill="#e48200"/>
<path d="M547 417.7h7.6v3.9h-7.6z" fill="#e48100"/>
<path d="M547 421h7.6v3.9h-7.6z" fill="#e38000"/>
<path d="M547 424.3h7.6v3.9h-7.6z" fill="#e27c00"/>
<path d="M547 427.6h7.6v3.9h-7.6z" fill="#e17800"/>
<path d="M547 430.9h7.6v3.9h-7.6z" fill="#df7200"/>
<path d="M547 434.2h7.6v3.9h-7.6z" fill="#dd6b00"/>
<path d="M547 437.5h7.6v3.9h-7.6z" fill="#da6300"/>
<path d="M547 440.9h7.6v3.9h-7.6z" fill="#d65900"/>
<path d="M547 444.2h7.6v3.9h-7.6z" fill="#d24e00"/>
<path d="M547 447.5h7.6v3.9h-7.6z" fill="#cc4300"/>
<path d="M547 450.8h7.6v3.9h-7.6z" fill="#c63700"/>
<path d="M547 454.1h7.6v3.9h-7.6z" fill="#be2c00"/>
<path d="M547 457.4h7.6v3.9h-7.6z" fill="#b62100"/>
<path d="M547 460.7h7.6v3.9h-7.6z" fill="#ac1848"/>
<path d="M547 464h7.6v3.9h-7.6z" fill="#a21193"/>
<path d="M554 90.4h7.6v3.9h-7.6z" fill="#a61474"/>
<path d="M554 93.7h7.6v3.9h-7.6z" fill="#a61379"/>
<path d="M554 97h7.6v3.9h-7.6z" fill="#a5137d"/>
<path d="M554 100.3h7.6v3.9h-7.6z" fill="#a41281"/>
<path d="M554 103.6h7.6v3.9h-7.6z" fill="#a41285"/>
<path d="M554 106.9h7.6v3.9h-7.6z" fill="#a3118a"/>
<path d="M554 110.2h7.6v3.9h-7.6z" fill="#a3118e"/>
<path d="M554 113.5h7.6v3.9h-7.6z" fill="#a21192"/>
<path d="M554 116.8h7.6v3.9h-7.6z" fill="#a11097"/>
<path d="M554 120.2h7.6v3.9h-7.6z" fill="#a0109c"/>
<path d="M554 123.5h7.6v3.9h-7.6z" fill="#a00fa0"/>
<path d="M554 126.8h7.6v3.9h-7.6z" fill="#9f0fa5"/>
<path d="M554 130.1h7.6v3.9h-7.6z" fill="#9e0eab"/>
<path d="M554 133.4h7.6v3.9h-7.6z" fill="#9d0eb0"/>
<path d="M554 136.7h7.6v3.9h-7.6z" fill="#9c0db5"/>
<path d="M554 140h7.6v3.9h-7.6z" fill="#9b0dba"/>
<path d="M554 143.3h7.6v3.9h-7.6z" fill="#9a0cbf"/>
<path d="M554 146.6h7.6v3.9h-7.6z" fill="#990cc3"/>
<path d="M554 149.9h7.6v3.9h-7.6z" fill="#980cc8"/>
<path d="M554 153.2h7.6v3.9h-7.6z" fill="#970bcd"/>
<path d="M554 156.5h7.6v3.9h-7.6z" fill="#960bd1"/>
<path d="M554 159.8h7.6v3.9h-7.6z" fill="#950ad5"/>
<path d="M554 163.1h7.6v3.9h-7.6z" fill="#940ad9"/>
<path d="M554 166.4h7.6v3.9h-7.6z" fill="#9309dd"/>
<path d="M554 169.7h7.6v3.9h-7.6z" fill="#9209e1"/>
<path d="M554 173.1h7.6v3.9h-7.6z" fill="#9109e4"/>
<path d="M554 176.4h7.6v3.9h-7.6z" fill="#9008e7"/>
<path d="M554 179.7h7.6v3.9h-7.6z" fill="#8f08ea"/>
<path d="M554 183h7.6v3.9h-7.6z" fill="#8e08ed"/>
<path d="M554 186.3h7.6v3.9h-7.6z" fill="#8d07f0"/>
<path d="M554 189.6h7.6v3.9h-7.6z" fill="#8c07f2"/>
<path d="M554 192.9h7.6v3.9h-7.6z" fill="#8b07f4"/>
<path d="M554 196.2h7.6v3.9h-7.6z" fill="#8a06f6"/>
<path d="M554 199.5h7.6v3.9h-7.6z" fill="#8906f7"/>
<path d="M554 202.8h7.6v3.9h-7.6z" fill="#8806f8"/>
<path d="M554 206.1h7.6v3.9h-7.6z" fill="#8806fa"/>
<path d="M554 209.4h7.6v3.9h-7.6z" fill="#8706fb"/>
<path d="M554 212.7h7.6v3.9h-7.6z" fill="#8605fb"/>
<path d="M554 216h7.6v3.9h-7.6z" fill="#8605fc"/>
<path d="M554 219.3h7.6v3.9h-7.6z" fill="#8505fc"/>
<path d="M554 222.6h7.6v7.2h-7.6z" fill="#8405fd"/>
<path d="M554 229.3h7.6v3.9h-7.6z" fill="#8405fe"/>
<path d="M554 232.6h7.6v20.4h-7.6z" fill="#8305fe"/>
<path d="M554 252.4h7.6v3.9h-7.6z" fill="#8405fe"/>
<path d="M554 255.7h7.6v7.2h-7.6z" fill="#8405fd"/>
<path d="M554 262.3h7.6v3.9h-7.6z" fill="#8505fd"/>
<path d="M554 265.6h7.6v3.9h-7.6z" fill="#8605fc"/>
<path d="M554 268.9h7.6v3.9h-7.6z" fill="#8605fb"/>
<path d="M554 272.2h7.6v3.9h-7.6z" fill="#8706fb"/>
<path d="M554 275.5h7.6v3.9h-7.6z" fill="#8806fa"/>
<path d="M554 278.9h7.6v3.9h-7.6z" fill="#8906f8"/>
<path d="M554 282.2h7.6v3.9h-7.6z" fill="#8a06f7"/>
<path d="M554 285.5h7.6v3.9h-7.6z" fill="#8b07f4"/>
<path d="M554 288.8h7.6v3.9h-7.6z" fill="#8d07f0"/>
<path d="M554 292.1h7.6v3.9h-7.6z" fill="#8e08ec"/>
<path d="M554 295.4h7.6v3.9h-7.6z" fill="#9008e7"/>
<path d="M554 298.7h7.6v3.9h-7.6z" fill="#9209e1"/>
<path d="M554 302h7.6v3.9h-7.6z" fill="#940ad9"/>
<path d="M554 305.3h7.6v3.9h-7.6z" fill="#960bd0"/>
<path d="M554 308.6h7.6v3.9h-7.6z" fill="#990cc7"/>
<path d="M554 311.9h7.6v3.9h-7.6z" fill="#9b0dbc"/>
<path d="M554 315.2h7.6v3.9h-7.6z" fill="#9d0eb1"/>
<path d="M554 318.5h7.6v3.9h-7.6z" fill="#9f0fa4"/>
<path d="M554 321.8h7.6v3.9h-7.6z" fill="#a11095"/>
<path d="M554 325.1h7.6v3.9h-7.6z" fill="#a41284"/>
<path d="M554 328.4h7.6v3.9h-7.6z" fill="#a61472"/>
<path d="M554 331.7h7.6v3.9h-7.6z" fill="#a9165f"/>
<path d="M554 335.1h7.6v3.9h-7.6z" fill="#ac184a"/>
<path d="M554 338.4h7.6v3.9h-7.6z" fill="#ae1a35"/>
<path d="M554 341.7h7.6v3.9h-7.6z" fill="#b11c20"/>
<path d="M554 345h7.6v3.9h-7.6z" fill="#b31f0a"/>
<path d="M554 348.3h7.6v3.9h-7.6z" fill="#b62200"/>
<path d="M554 351.6h7.6v3.9h-7.6z" fill="#b92500"/>
<path d="M554 354.9h7.6v3.9h-7.6z" fill="#bb2800"/>
<path d="M554 358.2h7.6v3.9h-7.6z" fill="#be2c00"/>
<path d="M554 361.5h7.6v3.9h-7.6z" fill="#c13000"/>
<path d="M554 364.8h7.6v3.9h-7.6z" fill="#c43500"/>
<path d="M554 368.1h7.6v3.9h-7.6z" fill="#c73a00"/>
<path d="M554 371.4h7.6v3.9h-7.6z" fill="#ca3f00"/>
<path d="M554 374.7h7.6v3.9h-7.6z" fill="#cd4500"/>
<path d="M554 378h7.6v3.9h-7.6z" fill="#d04a00"/>
<path d="M554 381.3h7.6v3.9h-7.6z" fill="#d25000"/>
<path d="M554 384.6h7.6v3.9h-7.6z" fill="#d45500"/>
<path d="M554 388h7.6v3.9h-7.6z" fill="#d65a00"/>
<path d="M554 391.3h7.6v3.9h-7.6z" fill="#d85f00"/>
<path d="M554 394.6h7.6v3.9h-7.6z" fill="#da6400"/>
<path d="M554 397.9h7.6v3.9h-7.6z" fill="#dc6800"/>
<path d="M554 401.2h7.6v3.9h-7.6z" fill="#dd6c00"/>
<path d="M554 404.5h7.6v3.9h-7.6z" fill="#de6e00"/>
<path d="M554 407.8h7.6v3.9h-7.6z" fill="#de7000"/>
<path d="M554 411.1h7.6v10.5h-7.6z" fill="#df7200"/>
<path d="M554 421h7.6v3.9h-7.6z" fill="#de7000"/>
<path d="M554 424.3h7.6v3.9h-7.6z" fill="#de6e00"/>
<path d="M554 427.6h7.6v3.9h-7.6z" fill="#dc6a00"/>
<path d="M554 430.9h7.6v3.9h-7.6z" fill="#da6500"/>
<path d="M554 434.2h7.6v3.9h-7.6z" fill="#d85f00"/>
<path d="M554 437.5h7.6v3.9h-7.6z" fill="#d55800"/>
<path d="M554 440.9h7.6v3.9h-7.6z" fill="#d25000"/>
<path d="M554 444.2h7.6v3.9h-7.6z" fill="#ce4600"/>
<path d="M554 447.5h7.6v3.9h-7.6z" fill="#c83c00"/>
<path d="M554 450.8h7.6v3.9h-7.6z" fill="#c23100"/>
<path d="M554 454.1h7.6v3.9h-7.6z" fill="#ba2700"/>
<path d="M554 457.4h7.6v3.9h-7.6z" fill="#b11c20"/>
<path d="M554 460.7h7.6v3.9h-7.6z" fill="#a61375"/>
<path d="M554 464h7.6v3.9h-7.6z" fill="#9b0db9"/>
<path d="M561 90.4h7.6v3.9h-7.6z" fill="#a61376"/>
<path d="M561 93.7h7.6v3.9h-7.6z" fill="#a5137b"/>
<path d="M561 97h7.6v3.9h-7.6z" fill="#a5137f"/>
<path d="M561 100.3h7.6v3.9h-7.6z" fill="#a41282"/>
<path d="M561 103.6h7.6v3.9h-7.6z" fill="#a41286"/>
<path d="M561 106.9h7.6v3.9h-7.6z" fill="#a3118b"/>
<path d="M561 110.2h7.6v3.9h-7.6z" fill="#a2118f"/>
<path d="M561 113.5h7.6v3.9h-7.6z" fill="#a21193"/>
<path d="M561 116.8h7.6v3.9h-7.6z" fill="#a11098"/>
<path d="M561 120.2h7.6v3.9h-7.6z" fill="#a0109d"/>
<path d="M561 123.5h7.6v3.9h-7.6z" fill="#9f0fa2"/>
<path d="M561 126.8h7.6v3.9h-7.6z" fill="#9f0fa7"/>
<path d="M561 130.1h7.6v3.9h-7.6z" fill="#9e0eac"/>
<path d="M561 133.4h7.6v3.9h-7.6z" fill="#9d0eb1"/>
<path d="M561 136.7h7.6v3.9h-7.6z" fill="#9c0db7"/>
<path d="M561 140h7.6v3.9h-7.6z" fill="#9b0dbc"/>
<path d="M561 143.3h7.6v3.9h-7.6z" fill="#9a0cc1"/>
<path d="M561 146.6h7.6v3.9h-7.6z" fill="#990cc6"/>
<path d="M561 149.9h7.6v3.9h-7.6z" fill="#980bcb"/>
<path d="M561 153.2h7.6v3.9h-7.6z" fill="#960bd0"/>
<path d="M561 156.5h7.6v3.9h-7.6z" fill="#950ad5"/>
<path d="M561 159.8h7.6v3.9h-7.6z" fill="#940ad9"/>
<path d="M561 163.1h7.6v3.9h-7.6z" fill="#9309dd"/>
<path d="M561 166.4h7.6v3.9h-7.6z" fill="#9209e1"/>
<path d="M561 169.7h7.6v3.9h-7.6z" fill="#9109e5"/>
<path d="M561 173.1h7.6v3.9h-7.6z" fill="#9008e8"/>
<path d="M561 176.4h7.6v3.9h-7.6z" fill="#8f08ec"/>
<path d="M561 179.7h7.6v3.9h-7.6z" fill="#8d07ef"/>
<path d="M561 183h7.6v3.9h-7.6z" fill="#8c07f1"/>
<path d="M561 186.3h7.6v3.9h-7.6z" fill="#8b07f4"/>
<path d="M561 189.6h7.6v3.9h-7.6z" fill="#8a06f6"/>
<path d="M561 192.9h7.6v3.9h-7.6z" fill="#8906f7"/>
<path d="M561 196.2h7.6v3.9h-7.6z" fill="#8806f9"/>
<path d="M561 199.5h7.6v3.9h-7.6z" fill="#8706fa"/>
<path d="M561 202.8h7.6v3.9h-7.6z" fill="#8605fb"/>
<path d="M561 206.1h7.6v3.9h-7.6z" fill="#8505fc"/>
<path d="M561 209.4h7.6v3.9h-7.6z" fill="#8405fd"/>
<path d="M561 212.7h7.6v7.2h-7.6z" fill="#8305fe"/>
<path d="M561 219.3h7.6v3.9h-7.6z" fill="#8204ff"/>
<path d="M561 222.6h7.6v7.2h-7.6z" fill="#8104ff"/>
<path d="M561 229.3h7.6v7.2h-7.6z" fill="#8004ff"/>
<path d="M561 235.9h7.6v10.5h-7.6z" fill="#7f04ff"/>
<path d="M561 245.8h7.6v10.5h-7.6z" fill="#7e04ff"/>
<path d="M561 255.7h7.6v13.8h-7.6z" fill="#7f04ff"/>
<path d="M561 268.9h7.6v7.2h-7.6z" fill="#8004ff"/>
<path d="M561 275.5h7.6v7.2h-7.6z" fill="#8104ff"/>
<path d="M561 282.2h7.6v3.9h-7.6z" fill="#8205fe"/>
<path d="M561 285.5h7.6v3.9h-7.6z" fill="#8405fe"/>
<path d="M561 288.8h7.6v3.9h-7.6z" fill="#8505fd"/>
<path d="M561 292.1h7.6v3.9h-7.6z" fill="#8605fb"/>
<path d="M561 295.4h7.6v3.9h-7.6z" fill="#8806f9"/>
<path d="M561 298.7h7.6v3.9h-7.6z" fill="#8a06f6"/>
<path d="M561 302h7.6v3.9h-7.6z" fill="#8c07f2"/>
<path d="M561 305.3h7.6v3.9h-7.6z" fill="#8e08ed"/>
<path d="M561 308.6h7.6v3.9h-7.6z" fill="#9008e7"/>
<path d="M561 311.9h7.6v3.9h-7.6z" fill="#9209e0"/>
<path d="M561 315.2h7.6v3.9h-7.6z" fill="#950ad8"/>
<path d="M561 318.5h7.6v3.9h-7.6z" fill="#970bcf"/>
<path d="M561 321.8h7.6v3.9h-7.6z" fill="#990cc4"/>
<path d="M561 325.1h7.6v3.9h-7.6z" fill="#9c0db7"/>
<path d="M561 328.4h7.6v3.9h-7.6z" fill="#9e0fa8"/>
<path d="M561 331.7h7.6v3.9h-7.6z" fill="#a11097"/>
<path d="M561 335.1h7.6v3.9h-7.6z" fill="#a41286"/>
<path d="M561 338.4h7.6v3.9h-7.6z" fill="#a61473"/>
<path d="M561 341.7h7.6v3.9h-7.6z" fill="#a9165f"/>
<path d="M561 345h7.6v3.9h-7.6z" fill="#ac184a"/>
<path d="M561 348.3h7.6v3.9h-7.6z" fill="#ae1a34"/>
<path d="M561 351.6h7.6v3.9h-7.6z" fill="#b11d1d"/>
<path d="M561 354.9h7.6v3.9h-7.6z" fill="#b41f05"/>
<path d="M561 358.2h7.6v3.9h-7.6z" fill="#b72200"/>
<path d="M561 361.5h7.6v3.9h-7.6z" fill="#b92600"/>
<path d="M561 364.8h7.6v3.9h-7.6z" fill="#bc2900"/>
<path d="M561 368.1h7.6v3.9h-7.6z" fill="#bf2d00"/>
<path d="M561 371.4h7.6v3.9h-7.6z" fill="#c23200"/>
<path d="M561 374.7h7.6v3.9h-7.6z" fill="#c53600"/>
<path d="M561 378h7.6v3.9h-7.6z" fill="#c83b00"/>
<path d="M561 381.3h7.6v3.9h-7.6z" fill="#ca4000"/>
<path d="M561 384.6h7.6v3.9h-7.6z" fill="#cd4500"/>
<path d="M561 388h7.6v3.9h-7.6z" fill="#cf4a00"/>
<path d="M561 391.3h7.6v3.9h-7.6z" fill="#d24f00"/>
<path d="M561 394.6h7.6v3.9h-7.6z" fill="#d45400"/>
<path d="M561 397.9h7.6v3.9h-7.6z" fill="#d65800"/>
<path d="M561 401.2h7.6v3.9h-7.6z" fill="#d75b00"/>
<path d="M561 404.5h7.6v3.9h-7.6z" fill="#d85d00"/>
<path d="M561 407.8h7.6v3.9h-7.6z" fill="#d96000"/>
<path d="M561 411.1h7.6v3.9h-7.6z" fill="#d96200"/>
<path d="M561 414.4h7.6v3.9h-7.6z" fill="#da6300"/>
<path d="M561 417.7h7.6v3.9h-7.6z" fill="#da6200"/>
<path d="M561 421h7.6v3.9h-7.6z" fill="#d96100"/>
<path d="M561 424.3h7.6v3.9h-7.6z" fill="#d85f00"/>
<path d="M561 427.6h7.6v3.9h-7.6z" fill="#d75d00"/>
<path d="M561 430.9h7.6v3.9h-7.6z" fill="#d65900"/>
<path d="M561 434.2h7.6v3.9h-7.6z" fill="#d45400"/>
<path d="M561 437.5h7.6v3.9h-7.6z" fill="#d14d00"/>
<path d="M561 440.9h7.6v3.9h-7.6z" fill="#cd4600"/>
<path d="M561 444.2h7.6v3.9h-7.6z" fill="#c93d00"/>
<path d="M561 447.5h7.6v3.9h-7.6z" fill="#c43400"/>
<path d="M561 450.8h7.6v3.9h-7.6z" fill="#bd2a00"/>
<path d="M561 454.1h7.6v3.9h-7.6z" fill="#b52000"/>
<path d="M561 457.4h7.6v3.9h-7.6z" fill="#aa1756"/>
<path d="M561 460.7h7.6v3.9h-7.6z" fill="#9f0fa4"/>
<path d="M561 464h7.6v3.9h-7.6z" fill="#950ad5"/>
<path d="M568 90.4h7.6v3.9h-7.6z" fill="#a61377"/>
<path d="M568 93.7h7.6v3.9h-7.6z" fill="#a5137b"/>
<path d="M568 97h7.6v3.9h-7.6z" fill="#a5127f"/>
<path d="M568 100.3h7.6v3.9h-7.6z" fill="#a41283"/>
<path d="M568 103.6h7.6v3.9h-7.6z" fill="#a31287"/>
<path d="M568 106.9h7.6v3.9h-7.6z" fill="#a3118b"/>
<path d="M568 110.2h7.6v3.9h-7.6z" fill="#a21190"/>
<path d="M568 113.5h7.6v3.9h-7.6z" fill="#a21094"/>
<path d="M568 116.8h7.6v3.9h-7.6z" fill="#a11099"/>
<path d="M568 120.2h7.6v3.9h-7.6z" fill="#a0109e"/>
<path d="M568 123.5h7.6v3.9h-7.6z" fill="#9f0fa3"/>
<path d="M568 126.8h7.6v3.9h-7.6z" fill="#9e0fa8"/>
<path d="M568 130.1h7.6v3.9h-7.6z" fill="#9d0eae"/>
<path d="M568 133.4h7.6v3.9h-7.6z" fill="#9c0eb3"/>
<path d="M568 136.7h7.6v3.9h-7.6z" fill="#9b0db9"/>
<path d="M568 140h7.6v3.9h-7.6z" fill="#9a0cbe"/>
<path d="M568 143.3h7.6v3.9h-7.6z" fill="#990cc4"/>
<path d="M568 146.6h7.6v3.9h-7.6z" fill="#980bc9"/>
<path d="M568 149.9h7.6v3.9h-7.6z" fill="#970bce"/>
<path d="M568 153.2h7.6v3.9h-7.6z" fill="#960ad3"/>
<path d="M568 156.5h7.6v3.9h-7.6z" fill="#950ad8"/>
<path d="M568 159.8h7.6v3.9h-7.6z" fill="#9309dd"/>
<path d="M568 163.1h7.6v3.9h-7.6z" fill="#9209e1"/>
<path d="M568 166.4h7.6v3.9h-7.6z" fill="#9109e5"/>
<path d="M568 169.7h7.6v3.9h-7.6z" fill="#9008e9"/>
<path d="M568 173.1h7.6v3.9h-7.6z" fill="#8e08ec"/>
<path d="M568 176.4h7.6v3.9h-7.6z" fill="#8d07ef"/>
<path d="M568 179.7h7.6v3.9h-7.6z" fill="#8c07f2"/>
<path d="M568 183h7.6v3.9h-7.6z" fill="#8b07f5"/>
<path d="M568 186.3h7.6v3.9h-7.6z" fill="#8906f7"/>
<path d="M568 189.6h7.6v3.9h-7.6z" fill="#8806f9"/>
<path d="M568 192.9h7.6v3.9h-7.6z" fill="#8706fb"/>
<path d="M568 196.2h7.6v3.9h-7.6z" fill="#8605fc"/>
<path d="M568 199.5h7.6v3.9h-7.6z" fill="#8505fd"/>
<path d="M568 202.8h7.6v3.9h-7.6z" fill="#8405fe"/>
<path d="M568 206.1h7.6v3.9h-7.6z" fill="#8305fe"/>
<path d="M568 209.4h7.6v3.9h-7.6z" fill="#8204ff"/>
<path d="M568 212.7h7.6v3.9h-7.6z" fill="#8104ff"/>
<path d="M568 216h7.6v3.9h-7.6z" fill="#8004ff"/>
<path d="M568 219.3h7.6v3.9h-7.6z" fill="#7f04ff"/>
<path d="M568 222.6h7.6v3.9h-7.6z" fill="#7e04ff"/>
<path d="M568 226h7.6v3.9h-7.6z" fill="#7d04ff"/>
<path d="M568 229.3h7.6v3.9h-7.6z" fill="#7c03fe"/>
<path d="M568 232.6h7.6v3.9h-7.6z" fill="#7b03fe"/>
<path d="M568 235.9h7.6v3.9h-7.6z" fill="#7b03fd"/>
<path d="M568 239.2h7.6v7.2h-7.6z" fill="#7a03fd"/>
<path d="M568 245.8h7.6v30.4h-7.6z" fill="#7903fc"/>
<path d="M568 275.5h7.6v7.2h-7.6z" fill="#7a03fd"/>
<path d="M568 282.2h7.6v3.9h-7.6z" fill="#7b03fd"/>
<path d="M568 285.5h7.6v3.9h-7.6z" fill="#7c03fe"/>
<path d="M568 288.8h7.6v3.9h-7.6z" fill="#7d04fe"/>
<path d="M568 292.1h7.6v3.9h-7.6z" fill="#7e04ff"/>
<path d="M568 295.4h7.6v3.9h-7.6z" fill="#7f04ff"/>
<path d="M568 298.7h7.6v3.9h-7.6z" fill="#8104ff"/>
<path d="M568 302h7.6v3.9h-7.6z" fill="#8305fe"/>
<path d="M568 305.3h7.6v3.9h-7.6z" fill="#8505fc"/>
<path d="M568 308.6h7.6v3.9h-7.6z" fill="#8706fa"/>
<path d="M568 311.9h7.6v3.9h-7.6z" fill="#8906f7"/>
<path d="M568 315.2h7.6v3.9h-7.6z" fill="#8c07f2"/>
<path d="M568 318.5h7.6v3.9h-7.6z" fill="#8e08ed"/>
<path d="M568 321.8h7.6v3.9h-7.6z" fill="#9008e7"/>
<path d="M568 325.1h7.6v3.9h-7.6z" fill="#9309de"/>
<path d="M568 328.4h7.6v3.9h-7.6z" fill="#960ad4"/>
<path d="M568 331.7h7.6v3.9h-7.6z" fill="#980cc7"/>
<path d="M568 335.1h7.6v3.9h-7.6z" fill="#9b0db9"/>
<path d="M568 338.4h7.6v3.9h-7.6z" fill="#9e0fa9"/>
<path d="M568 341.7h7.6v3.9h-7.6z" fill="#a11097"/>
<path d="M568 345h7.6v3.9h-7.6z" fill="#a41283"/>
<path d="M568 348.3h7.6v3.9h-7.6z" fill="#a7146e"/>
<path d="M568 351.6h7.6v3.9h-7.6z" fill="#aa1658"/>
<path d="M568 354.9h7.6v3.9h-7.6z" fill="#ad1942"/>
<path d="M568 358.2h7.6v3.9h-7.6z" fill="#af1b2c"/>
<path d="M568 361.5h7.6v3.9h-7.6z" fill="#b21d15"/>
<path d="M568 364.8h7.6v3.9h-7.6z" fill="#b52000"/>
<path d="M568 368.1h7.6v3.9h-7.6z" fill="#b72300"/>
<path d="M568 371.4h7.6v3.9h-7.6z" fill="#ba2600"/>
<path d="M568 374.7h7.6v3.9h-7.6z" fill="#bd2a00"/>
<path d="M568 378h7.6v3.9h-7.6z" fill="#c02e00"/>
<path d="M568 381.3h7.6v3.9h-7.6z" fill="#c23200"/>
<path d="M568 384.6h7.6v3.9h-7.6z" fill="#c53600"/>
<path d="M568 388h7.6v3.9h-7.6z" fill="#c83b00"/>
<path d="M568 391.3h7.6v3.9h-7.6z" fill="#ca3f00"/>
<path d="M568 394.6h7.6v3.9h-7.6z" fill="#cc4400"/>
<path d="M568 397.9h7.6v3.9h-7.6z" fill="#ce4700"/>
<path d="M568 401.2h7.6v3.9h-7.6z" fill="#d04b00"/>
<path d="M568 404.5h7.6v3.9h-7.6z" fill="#d14e00"/>
<path d="M568 407.8h7.6v3.9h-7.6z" fill="#d25100"/>
<path d="M568 411.1h7.6v3.9h-7.6z" fill="#d35300"/>
<path d="M568 414.4h7.6v10.5h-7.6z" fill="#d45400"/>
<path d="M568 424.3h7.6v3.9h-7.6z" fill="#d35200"/>
<path d="M568 427.6h7.6v3.9h-7.6z" fill="#d25000"/>
<path d="M568 430.9h7.6v3.9h-7.6z" fill="#d14d00"/>
<path d="M568 434.2h7.6v3.9h-7.6z" fill="#cf4800"/>
<path d="M568 437.5h7.6v3.9h-7.6z" fill="#cc4300"/>
<path d="M568 440.9h7.6v3.9h-7.6z" fill="#c83c00"/>
<path d="M568 444.2h7.6v3.9h-7.6z" fill="#c43500"/>
<path d="M568 447.5h7.6v3.9h-7.6z" fill="#be2c00"/>
<path d="M568 450.8h7.6v3.9h-7.6z" fill="#b82400"/>
<path d="M568 454.1h7.6v3.9h-7.6z" fill="#af1b2f"/>
<path d="M568 457.4h7.6v3.9h-7.6z" fill="#a41281"/>
<path d="M568 460.7h7.6v3.9h-7.6z" fill="#9a0cc0"/>
<path d="M568 464h7.6v3.9h-7.6z" fill="#9309de"/>
<path d="M575 90.4h7.6v3.9h-7.6z" fill="#a61377"/>
<path d="M575 93.7h7.6v3.9h-7.6z" fill="#a5137c"/>
<path d="M575 97h7.6v3.9h-7.6z" fill="#a51280"/>
<path d="M575 100.3h7.6v3.9h-7.6z" fill="#a41284"/>
<path d="M575 103.6h7.6v3.9h-7.6z" fill="#a31288"/>
<path d="M575 106.9h7.6v3.9h-7.6z" fill="#a3118c"/>
<path d="M575 110.2h7.6v3.9h-7.6z" fill="#a21190"/>
<path d="M575 113.5h7.6v3.9h-7.6z" fill="#a11095"/>
<path d="M575 116.8h7.6v3.9h-7.6z" fill="#a1109a"/>
<path d="M575 120.2h7.6v3.9h-7.6z" fill="#a00f9f"/>
<path d="M575 123.5h7.6v3.9h-7.6z" fill="#9f0fa4"/>
<path d="M575 126.8h7.6v3.9h-7.6z" fill="#9e0eaa"/>
<path d="M575 130.1h7.6v3.9h-7.6z" fill="#9d0eb0"/>
<path d="M575 133.4h7.6v3.9h-7.6z" fill="#9c0db5"/>
<path d="M575 136.7h7.6v3.9h-7.6z" fill="#9b0dbb"/>
<path d="M575 140h7.6v3.9h-7.6z" fill="#9a0cc1"/>
<path d="M575 143.3h7.6v3.9h-7.6z" fill="#990cc6"/>
<path d="M575 146.6h7.6v3.9h-7.6z" fill="#970bcc"/>
<path d="M575 149.9h7.6v3.9h-7.6z" fill="#960bd1"/>
<path d="M575 153.2h7.6v3.9h-7.6z" fill="#950ad6"/>
<path d="M575 156.5h7.6v3.9h-7.6z" fill="#940adb"/>
<path d="M575 159.8h7.6v3.9h-7.6z" fill="#9209e0"/>
<path d="M575 163.1h7.6v3.9h-7.6z" fill="#9109e4"/>
<path d="M575 166.4h7.6v3.9h-7.6z" fill="#9008e8"/>
<path d="M575 169.7h7.6v3.9h-7.6z" fill="#8e08ec"/>
<path d="M575 173.1h7.6v3.9h-7.6z" fill="#8d07f0"/>
<path d="M575 176.4h7.6v3.9h-7.6z" fill="#8c07f3"/>
<path d="M575 179.7h7.6v3.9h-7.6z" fill="#8a06f5"/>
<path d="M575 183h7.6v3.9h-7.6z" fill="#8906f8"/>
<path d="M575 186.3h7.6v3.9h-7.6z" fill="#8806fa"/>
<path d="M575 189.6h7.6v3.9h-7.6z" fill="#8605fb"/>
<path d="M575 192.9h7.6v3.9h-7.6z" fill="#8505fd"/>
<path d="M575 196.2h7.6v3.9h-7.6z" fill="#8405fe"/>
<path d="M575 199.5h7.6v3.9h-7.6z" fill="#8205fe"/>
<path d="M575 202.8h7.6v3.9h-7.6z" fill="#8104ff"/>
<path d="M575 206.1h7.6v3.9h-7.6z" fill="#8004ff"/>
<path d="M575 209.4h7.6v3.9h-7.6z" fill="#7f04ff"/>
<path d="M575 212.7h7.6v3.9h-7.6z" fill="#7e04ff"/>
<path d="M575 216h7.6v3.9h-7.6z" fill="#7c03fe"/>
<path d="M575 219.3h7.6v3.9h-7.6z" fill="#7b03fe"/>
<path d="M575 222.6h7.6v3.9h-7.6z" fill="#7a03fd"/>
<path d="M575 226h7.6v3.9h-7.6z" fill="#7903fc"/>
<path d="M575 229.3h7.6v3.9h-7.6z" fill="#7803fb"/>
<path d="M575 232.6h7.6v3.9h-7.6z" fill="#7703fa"/>
<path d="M575 235.9h7.6v3.9h-7.6z" fill="#7603f9"/>
<path d="M575 239.2h7.6v3.9h-7.6z" fill="#7602f8"/>
<path d="M575 242.5h7.6v3.9h-7.6z" fill="#7502f7"/>
<path d="M575 245.8h7.6v3.9h-7.6z" fill="#7402f6"/>
<path d="M575 249.1h7.6v3.9h-7.6z" fill="#7402f5"/>
<path d="M575 252.4h7.6v7.2h-7.6z" fill="#7302f4"/>
<path d="M575 259h7.6v7.2h-7.6z" fill="#7202f3"/>
<path d="M575 265.6h7.6v3.9h-7.6z" fill="#7202f2"/>
<path d="M575 268.9h7.6v7.2h-7.6z" fill="#7202f3"/>
<path d="M575 275.5h7.6v7.2h-7.6z" fill="#7302f4"/>
<path d="M575 282.2h7.6v3.9h-7.6z" fill="#7302f5"/>
<path d="M575 285.5h7.6v3.9h-7.6z" fill="#7402f6"/>
<path d="M575 288.8h7.6v3.9h-7.6z" fill="#7502f7"/>
<path d="M575 292.1h7.6v3.9h-7.6z" fill="#7603f9"/>
<path d="M575 295.4h7.6v3.9h-7.6z" fill="#7703fa"/>
<path d="M575 298.7h7.6v3.9h-7.6z" fill="#7903fb"/>
<path d="M575 302h7.6v3.9h-7.6z" fill="#7a03fd"/>
<path d="M575 305.3h7.6v3.9h-7.6z" fill="#7c03fe"/>
<path d="M575 308.6h7.6v3.9h-7.6z" fill="#7e04ff"/>
<path d="M575 311.9h7.6v3.9h-7.6z" fill="#8004ff"/>
<path d="M575 315.2h7.6v3.9h-7.6z" fill="#8205fe"/>
<path d="M575 318.5h7.6v3.9h-7.6z" fill="#8505fd"/>
<path d="M575 321.8h7.6v3.9h-7.6z" fill="#8706fb"/>
<path d="M575 325.1h7.6v3.9h-7.6z" fill="#8906f7"/>
<path d="M575 328.4h7.6v3.9h-7.6z" fill="#8c07f2"/>
<path d="M575 331.7h7.6v3.9h-7.6z" fill="#8e08ec"/>
<path d="M575 335.1h7.6v3.9h-7.6z" fill="#9109e3"/>
<path d="M575 338.4h7.6v3.9h-7.6z" fill="#950ad8"/>
<path d="M575 341.7h7.6v3.9h-7.6z" fill="#980bc9"/>
<path d="M575 345h7.6v3.9h-7.6z" fill="#9c0db7"/>
<path d="M575 348.3h7.6v3.9h-7.6z" fill="#9f0fa3"/>
<path d="M575 351.6h7.6v3.9h-7.6z" fill="#a3118d"/>
<path d="M575 354.9h7.6v3.9h-7.6z" fill="#a61376"/>
<path d="M575 358.2h7.6v3.9h-7.6z" fill="#a91560"/>
<path d="M575 361.5h7.6v3.9h-7.6z" fill="#ab184b"/>
<path d="M575 364.8h7.6v3.9h-7.6z" fill="#ae1a37"/>
<path d="M575 368.1h7.6v3.9h-7.6z" fill="#b01c23"/>
<path d="M575 371.4h7.6v3.9h-7.6z" fill="#b31e0e"/>
<path d="M575 374.7h7.6v3.9h-7.6z" fill="#b52100"/>
<path d="M575 378h7.6v3.9h-7.6z" fill="#b82400"/>
<path d="M575 381.3h7.6v3.9h-7.6z" fill="#ba2700"/>
<path d="M575 384.6h7.6v3.9h-7.6z" fill="#bd2a00"/>
<path d="M575 388h7.6v3.9h-7.6z" fill="#c02e00"/>
<path d="M575 391.3h7.6v3.9h-7.6z" fill="#c23200"/>
<path d="M575 394.6h7.6v3.9h-7.6z" fill="#c53500"/>
<path d="M575 397.9h7.6v3.9h-7.6z" fill="#c73900"/>
<path d="M575 401.2h7.6v3.9h-7.6z" fill="#c93c00"/>
<path d="M575 404.5h7.6v3.9h-7.6z" fill="#ca3f00"/>
<path d="M575 407.8h7.6v3.9h-7.6z" fill="#cc4200"/>
<path d="M575 411.1h7.6v3.9h-7.6z" fill="#cd4400"/>
<path d="M575 414.4h7.6v3.9h-7.6z" fill="#cd4600"/>
<path d="M575 417.7h7.6v7.2h-7.6z" fill="#ce4700"/>
<path d="M575 424.3h7.6v3.9h-7.6z" fill="#cd4600"/>
<path d="M575 427.6h7.6v3.9h-7.6z" fill="#cc4400"/>
<path d="M575 430.9h7.6v3.9h-7.6z" fill="#cb4100"/>
<path d="M575 434.2h7.6v3.9h-7.6z" fill="#c93d00"/>
<path d="M575 437.5h7.6v3.9h-7.6z" fill="#c63800"/>
<path d="M575 440.9h7.6v3.9h-7.6z" fill="#c33300"/>
<path d="M575 444.2h7.6v3.9h-7.6z" fill="#be2c00"/>
<path d="M575 447.5h7.6v3.9h-7.6z" fill="#b92500"/>
<path d="M575 450.8h7.6v3.9h-7.6z" fill="#b31e10"/>
<path d="M575 454.1h7.6v3.9h-7.6z" fill="#ab1751"/>
<path d="M575 457.4h7.6v3.9h-7.6z" fill="#a21193"/>
<path d="M575 460.7h7.6v3.9h-7.6z" fill="#980bca"/>
<path d="M575 464h7.6v3.9h-7.6z" fill="#8d07ef"/>
<path d="M582 90.4h7.6v3.9h-7.6z" fill="#a61378"/>
<path d="M582 93.7h7.6v3.9h-7.6z" fill="#a5137c"/>
<path d="M582 97h7.6v3.9h-7.6z" fill="#a51280"/>
<path d="M582 100.3h7.6v3.9h-7.6z" fill="#a41284"/>
<path d="M582 103.6h7.6v3.9h-7.6z" fill="#a31288"/>
<path d="M582 106.9h7.6v3.9h-7.6z" fill="#a3118c"/>
<path d="M582 110.2h7.6v3.9h-7.6z" fill="#a21191"/>
<path d="M582 113.5h7.6v3.9h-7.6z" fill="#a11096"/>
<path d="M582 116.8h7.6v3.9h-7.6z" fill="#a1109b"/>
<path d="M582 120.2h7.6v3.9h-7.6z" fill="#a00fa0"/>
<path d="M582 123.5h7.6v3.9h-7.6z" fill="#9f0fa6"/>
<path d="M582 126.8h7.6v3.9h-7.6z" fill="#9e0eab"/>
<path d="M582 130.1h7.6v3.9h-7.6z" fill="#9d0eb1"/>
<path d="M582 133.4h7.6v3.9h-7.6z" fill="#9c0db7"/>
<path d="M582 136.7h7.6v3.9h-7.6z" fill="#9b0dbd"/>
<path d="M582 140h7.6v3.9h-7.6z" fill="#990cc3"/>
<path d="M582 143.3h7.6v3.9h-7.6z" fill="#980bc9"/>
<path d="M582 146.6h7.6v3.9h-7.6z" fill="#970bce"/>
<path d="M582 149.9h7.6v3.9h-7.6z" fill="#960ad4"/>
<path d="M582 153.2h7.6v3.9h-7.6z" fill="#940ad9"/>
<path d="M582 156.5h7.6v3.9h-7.6z" fill="#9309de"/>
<path d="M582 159.8h7.6v3.9h-7.6z" fill="#9109e3"/>
<path d="M582 163.1h7.6v3.9h-7.6z" fill="#9008e7"/>
<path d="M582 166.4h7.6v3.9h-7.6z" fill="#8f08ec"/>
<path d="M582 169.7h7.6v3.9h-7.6z" fill="#8d07ef"/>
<path d="M582 173.1h7.6v3.9h-7.6z" fill="#8c07f3"/>
<path d="M582 176.4h7.6v3.9h-7.6z" fill="#8a06f6"/>
<path d="M582 179.7h7.6v3.9h-7.6z" fill="#8906f8"/>
<path d="M582 183h7.6v3.9h-7.6z" fill="#8706fa"/>
<path d="M582 186.3h7.6v3.9h-7.6z" fill="#8605fc"/>
<path d="M582 189.6h7.6v3.9h-7.6z" fill="#8405fd"/>
<path d="M582 192.9h7.6v3.9h-7.6z" fill="#8305fe"/>
<path d="M582 196.2h7.6v3.9h-7.6z" fill="#8204ff"/>
<path d="M582 199.5h7.6v3.9h-7.6z" fill="#8004ff"/>
<path d="M582 202.8h7.6v3.9h-7.6z" fill="#7f04ff"/>
<path d="M582 206.1h7.6v3.9h-7.6z" fill="#7d04ff"/>
<path d="M582 209.4h7.6v3.9h-7.6z" fill="#7c03fe"/>
<path d="M582 212.7h7.6v3.9h-7.6z" fill="#7b03fd"/>
<path d="M582 216h7.6v3.9h-7.6z" fill="#7903fc"/>
<path d="M582 219.3h7.6v3.9h-7.6z" fill="#7803fb"/>
<path d="M582 222.6h7.6v3.9h-7.6z" fill="#7703f9"/>
<path d="M582 226h7.6v3.9h-7.6z" fill="#7502f8"/>
<path d="M582 229.3h7.6v3.9h-7.6z" fill="#7402f6"/>
<path d="M582 232.6h7.6v3.9h-7.6z" fill="#7302f4"/>
<path d="M582 235.9h7.6v3.9h-7.6z" fill="#7202f3"/>
<path d="M582 239.2h7.6v3.9h-7.6z" fill="#7102f1"/>
<path d="M582 242.5h7.6v3.9h-7.6z" fill="#7002ef"/>
<path d="M582 245.8h7.6v3.9h-7.6z" fill="#6f02ed"/>
<path d="M582 249.1h7.6v3.9h-7.6z" fill="#6e02eb"/>
<path d="M582 252.4h7.6v3.9h-7.6z" fill="#6d02ea"/>
<path d="M582 255.7h7.6v3.9h-7.6z" fill="#6d02e8"/>
<path d="M582 259h7.6v3.9h-7.6z" fill="#6d02e7"/>
<path d="M582 262.3h7.6v3.9h-7.6z" fill="#6c01e6"/>
<path d="M582 265.6h7.6v7.2h-7.6z" fill="#6c01e5"/>
<path d="M582 272.2h7.6v10.5h-7.6z" fill="#6c01e6"/>
<path d="M582 282.2h7.6v3.9h-7.6z" fill="#6c01e7"/>
<path d="M582 285.5h7.6v3.9h-7.6z" fill="#6d02e8"/>
<path d="M582 288.8h7.6v3.9h-7.6z" fill="#6d02e9"/>
<path d="M582 292.1h7.6v3.9h-7.6z" fill="#6e02eb"/>
<path d="M582 295.4h7.6v3.9h-7.6z" fill="#6f02ed"/>
<path d="M582 298.7h7.6v3.9h-7.6z" fill="#7002ef"/>
<path d="M582 302h7.6v3.9h-7.6z" fill="#7102f1"/>
<path d="M582 305.3h7.6v3.9h-7.6z" fill="#7202f3"/>
<path d="M582 308.6h7.6v3.9h-7.6z" fill="#7402f6"/>
<path d="M582 311.9h7.6v3.9h-7.6z" fill="#7603f9"/>
<path d="M582 315.2h7.6v3.9h-7.6z" fill="#7803fb"/>
<path d="M582 318.5h7.6v3.9h-7.6z" fill="#7a03fd"/>
<path d="M582 321.8h7.6v3.9h-7.6z" fill="#7c03fe"/>
<path d="M582 325.1h7.6v3.9h-7.6z" fill="#7e04ff"/>
<path d="M582 328.4h7.6v3.9h-7.6z" fill="#8004ff"/>
<path d="M582 331.7h7.6v3.9h-7.6z" fill="#8305fe"/>
<path d="M582 335.1h7.6v3.9h-7.6z" fill="#8505fc"/>
<path d="M582 338.4h7.6v3.9h-7.6z" fill="#8906f8"/>
<path d="M582 341.7h7.6v3.9h-7.6z" fill="#8d07f0"/>
<path d="M582 345h7.6v3.9h-7.6z" fill="#9109e4"/>
<path d="M582 348.3h7.6v3.9h-7.6z" fill="#960ad4"/>
<path d="M582 351.6h7.6v3.9h-7.6z" fill="#9a0cc0"/>
<path d="M582 354.9h7.6v3.9h-7.6z" fill="#9e0fa9"/>
<path d="M582 358.2h7.6v3.9h-7.6z" fill="#a21192"/>
<path d="M582 361.5h7.6v3.9h-7.6z" fill="#a5137c"/>
<path d="M582 364.8h7.6v3.9h-7.6z" fill="#a81568"/>
<path d="M582 368.1h7.6v3.9h-7.6z" fill="#aa1755"/>
<path d="M582 371.4h7.6v3.9h-7.6z" fill="#ad1942"/>
<path d="M582 374.7h7.6v3.9h-7.6z" fill="#af1a30"/>
<path d="M582 378h7.6v3.9h-7.6z" fill="#b11d1d"/>
<path d="M582 381.3h7.6v3.9h-7.6z" fill="#b31f08"/>
<path d="M582 384.6h7.6v3.9h-7.6z" fill="#b62200"/>
<path d="M582 388h7.6v3.9h-7.6z" fill="#b82400"/>
<path d="M582 391.3h7.6v3.9h-7.6z" fill="#bb2700"/>
<path d="M582 394.6h7.6v3.9h-7.6z" fill="#bd2a00"/>
<path d="M582 397.9h7.6v3.9h-7.6z" fill="#bf2d00"/>
<path d="M582 401.2h7.6v3.9h-7.6z" fill="#c13000"/>
<path d="M582 404.5h7.6v3.9h-7.6z" fill="#c33300"/>
<path d="M582 407.8h7.6v3.9h-7.6z" fill="#c53600"/>
<path d="M582 411.1h7.6v3.9h-7.6z" fill="#c63800"/>
<path d="M582 414.4h7.6v3.9h-7.6z" fill="#c73900"/>
<path d="M582 417.7h7.6v3.9h-7.6z" fill="#c73a00"/>
<path d="M582 421h7.6v3.9h-7.6z" fill="#c83b00"/>
<path d="M582 424.3h7.6v3.9h-7.6z" fill="#c73a00"/>
<path d="M582 427.6h7.6v3.9h-7.6z" fill="#c73900"/>
<path d="M582 430.9h7.6v3.9h-7.6z" fill="#c53700"/>
<path d="M582 434.2h7.6v3.9h-7.6z" fill="#c33400"/>
<path d="M582 437.5h7.6v3.9h-7.6z" fill="#c13000"/>
<path d="M582 440.9h7.6v3.9h-7.6z" fill="#be2b00"/>
<path d="M582 444.2h7.6v3.9h-7.6z" fill="#b92600"/>
<path d="M582 447.5h7.6v3.9h-7.6z" fill="#b52000"/>
<path d="M582 450.8h7.6v3.9h-7.6z" fill="#af1a31"/>
<path d="M582 454.1h7.6v3.9h-7.6z" fill="#a8156a"/>
<path d="M582 457.4h7.6v3.9h-7.6z" fill="#9f0fa4"/>
<path d="M582 460.7h7.6v3.9h-7.6z" fill="#940ad8"/>
<path d="M582 464h7.6v3.9h-7.6z" fill="#8806f9"/>
<path d="M589 90.4h7.6v3.9h-7.6z" fill="#a61378"/>
<path d="M589 93.7h7.6v3.9h-7.6z" fill="#a5137c"/>
<path d="M589 97h7.6v3.9h-7.6z" fill="#a41280"/>
<path d="M589 100.3h7.6v3.9h-7.6z" fill="#a41284"/>
<path d="M589 103.6h7.6v3.9h-7.6z" fill="#a31289"/>
<path d="M589 106.9h7.6v3.9h-7.6z" fill="#a3118d"/>
<path d="M589 110.2h7.6v3.9h-7.6z" fill="#a21192"/>
<path d="M589 113.5h7.6v3.9h-7.6z" fill="#a11096"/>
<path d="M589 116.8h7.6v3.9h-7.6z" fill="#a0109c"/>
<path d="M589 120.2h7.6v3.9h-7.6z" fill="#9f0fa1"/>
<path d="M589 123.5h7.6v3.9h-7.6z" fill="#9f0fa7"/>
<path d="M589 126.8h7.6v3.9h-7.6z" fill="#9e0ead"/>
<path d="M589 130.1h7.6v3.9h-7.6z" fill="#9c0eb3"/>
<path d="M589 133.4h7.6v3.9h-7.6z" fill="#9b0db9"/>
<path d="M589 136.7h7.6v3.9h-7.6z" fill="#9a0cbf"/>
<path d="M589 140h7.6v3.9h-7.6z" fill="#990cc5"/>
<path d="M589 143.3h7.6v3.9h-7.6z" fill="#980bcb"/>
<path d="M589 146.6h7.6v3.9h-7.6z" fill="#960bd0"/>
<path d="M589 149.9h7.6v3.9h-7.6z" fill="#950ad6"/>
<path d="M589 153.2h7.6v3.9h-7.6z" fill="#940adb"/>
<path d="M589 156.5h7.6v3.9h-7.6z" fill="#9209e1"/>
<path d="M589 159.8h7.6v3.9h-7.6z" fill="#9108e6"/>
<path d="M589 163.1h7.6v3.9h-7.6z" fill="#8f08ea"/>
<path d="M589 166.4h7.6v3.9h-7.6z" fill="#8e07ee"/>
<path d="M589 169.7h7.6v3.9h-7.6z" fill="#8c07f2"/>
<path d="M589 173.1h7.6v3.9h-7.6z" fill="#8a07f5"/>
<path d="M589 176.4h7.6v3.9h-7.6z" fill="#8906f8"/>
<path d="M589 179.7h7.6v3.9h-7.6z" fill="#8706fa"/>
<path d="M589 183h7.6v3.9h-7.6z" fill="#8605fc"/>
<path d="M589 186.3h7.6v3.9h-7.6z" fill="#8405fd"/>
<path d="M589 189.6h7.6v3.9h-7.6z" fill="#8305fe"/>
<path d="M589 192.9h7.6v3.9h-7.6z" fill="#8104ff"/>
<path d="M589 196.2h7.6v3.9h-7.6z" fill="#7f04ff"/>
<path d="M589 199.5h7.6v3.9h-7.6z" fill="#7e04ff"/>
<path d="M589 202.8h7.6v3.9h-7.6z" fill="#7c03fe"/>
<path d="M589 206.1h7.6v3.9h-7.6z" fill="#7b03fd"/>
<path d="M589 209.4h7.6v3.9h-7.6z" fill="#7903fc"/>
<path d="M589 212.7h7.6v3.9h-7.6z" fill="#7803fb"/>
<path d="M589 216h7.6v3.9h-7.6z" fill="#7603f9"/>
<path d="M589 219.3h7.6v3.9h-7.6z" fill="#7502f7"/>
<path d="M589 222.6h7.6v3.9h-7.6z" fill="#7302f5"/>
<path d="M589 226h7.6v3.9h-7.6z" fill="#7202f3"/>
<path d="M589 229.3h7.6v3.9h-7.6z" fill="#7102f0"/>
<path d="M589 232.6h7.6v3.9h-7.6z" fill="#6f02ee"/>
<path d="M589 235.9h7.6v3.9h-7.6z" fill="#6e02eb"/>
<path d="M589 239.2h7.6v3.9h-7.6z" fill="#6d02e8"/>
<path d="M589 242.5h7.6v3.9h-7.6z" fill="#6c01e6"/>
<path d="M589 245.8h7.6v3.9h-7.6z" fill="#6b01e4"/>
<path d="M589 249.1h7.6v3.9h-7.6z" fill="#6a01e1"/>
<path d="M589 252.4h7.6v3.9h-7.6z" fill="#6901df"/>
<path d="M589 255.7h7.6v3.9h-7.6z" fill="#6801dc"/>
<path d="M589 259h7.6v3.9h-7.6z" fill="#6701db"/>
<path d="M589 262.3h7.6v3.9h-7.6z" fill="#6701d9"/>
<path d="M589 265.6h7.6v3.9h-7.6z" fill="#6601d8"/>
<path d="M589 268.9h7.6v3.9h-7.6z" fill="#6601d7"/>
<path d="M589 272.2h7.6v13.8h-7.6z" fill="#6601d6"/>
<path d="M589 285.5h7.6v3.9h-7.6z" fill="#6601d7"/>
<path d="M589 288.8h7.6v3.9h-7.6z" fill="#6601d8"/>
<path d="M589 292.1h7.6v3.9h-7.6z" fill="#6701d9"/>
<path d="M589 295.4h7.6v3.9h-7.6z" fill="#6701db"/>
<path d="M589 298.7h7.6v3.9h-7.6z" fill="#6801dc"/>
<path d="M589 302h7.6v3.9h-7.6z" fill="#6901de"/>
<path d="M589 305.3h7.6v3.9h-7.6z" fill="#6a01e1"/>
<path d="M589 308.6h7.6v3.9h-7.6z" fill="#6b01e4"/>
<path d="M589 311.9h7.6v3.9h-7.6z" fill="#6d02e8"/>
<path d="M589 315.2h7.6v3.9h-7.6z" fill="#6e02eb"/>
<path d="M589 318.5h7.6v3.9h-7.6z" fill="#7002ee"/>
<path d="M589 321.8h7.6v3.9h-7.6z" fill="#7202f2"/>
<path d="M589 325.1h7.6v3.9h-7.6z" fill="#7402f5"/>
<path d="M589 328.4h7.6v3.9h-7.6z" fill="#7602f8"/>
<path d="M589 331.7h7.6v3.9h-7.6z" fill="#7803fb"/>
<path d="M589 335.1h7.6v3.9h-7.6z" fill="#7a03fd"/>
<path d="M589 338.4h7.6v3.9h-7.6z" fill="#7d03fe"/>
<path d="M589 341.7h7.6v3.9h-7.6z" fill="#8004ff"/>
<path d="M589 345h7.6v3.9h-7.6z" fill="#8305fe"/>
<path d="M589 348.3h7.6v3.9h-7.6z" fill="#8706fa"/>
<path d="M589 351.6h7.6v3.9h-7.6z" fill="#8c07f1"/>
<path d="M589 354.9h7.6v3.9h-7.6z" fill="#9209e1"/>
<path d="M589 358.2h7.6v3.9h-7.6z" fill="#980bcb"/>
<path d="M589 361.5h7.6v3.9h-7.6z" fill="#9c0eb3"/>
<path d="M589 364.8h7.6v3.9h-7.6z" fill="#a0109c"/>
<path d="M589 368.1h7.6v3.9h-7.6z" fill="#a41287"/>
<path d="M589 371.4h7.6v3.9h-7.6z" fill="#a61474"/>
<path d="M589 374.7h7.6v3.9h-7.6z" fill="#a91562"/>
<path d="M589 378h7.6v3.9h-7.6z" fill="#ab1750"/>
<path d="M589 381.3h7.6v3.9h-7.6z" fill="#ad193d"/>
<path d="M589 384.6h7.6v3.9h-7.6z" fill="#b01b2a"/>
<path d="M589 388h7.6v3.9h-7.6z" fill="#b21d16"/>
<path d="M589 391.3h7.6v3.9h-7.6z" fill="#b42002"/>
<path d="M589 394.6h7.6v3.9h-7.6z" fill="#b62200"/>
<path d="M589 397.9h7.6v3.9h-7.6z" fill="#b82400"/>
<path d="M589 401.2h7.6v3.9h-7.6z" fill="#ba2700"/>
<path d="M589 404.5h7.6v3.9h-7.6z" fill="#bc2900"/>
<path d="M589 407.8h7.6v3.9h-7.6z" fill="#be2c00"/>
<path d="M589 411.1h7.6v3.9h-7.6z" fill="#bf2e00"/>
<path d="M589 414.4h7.6v3.9h-7.6z" fill="#c12f00"/>
<path d="M589 417.7h7.6v3.9h-7.6z" fill="#c13000"/>
<path d="M589 421h7.6v7.2h-7.6z" fill="#c23100"/>
<path d="M589 427.6h7.6v3.9h-7.6z" fill="#c13000"/>
<path d="M589 430.9h7.6v3.9h-7.6z" fill="#c02e00"/>
<path d="M589 434.2h7.6v3.9h-7.6z" fill="#be2c00"/>
<path d="M589 437.5h7.6v3.9h-7.6z" fill="#bc2900"/>
<path d="M589 440.9h7.6v3.9h-7.6z" fill="#b92500"/>
<path d="M589 444.2h7.6v3.9h-7.6z" fill="#b62100"/>
<path d="M589 447.5h7.6v3.9h-7.6z" fill="#b11d1c"/>
<path d="M589 450.8h7.6v3.9h-7.6z" fill="#ac1849"/>
<path d="M589 454.1h7.6v3.9h-7.6z" fill="#a5137d"/>
<path d="M589 457.4h7.6v3.9h-7.6z" fill="#9c0eb3"/>
<path d="M589 460.7h7.6v3.9h-7.6z" fill="#9109e3"/>
<path d="M589 464h7.6v3.9h-7.6z" fill="#8405fd"/>
<path d="M596 90.4h7.6v3.9h-7.6z" fill="#a61379"/>
<path d="M596 93.7h7.6v3.9h-7.6z" fill="#a5137d"/>
<path d="M596 97h7.6v3.9h-7.6z" fill="#a41281"/>
<path d="M596 100.3h7.6v3.9h-7.6z" fill="#a41285"/>
<path d="M596 103.6h7.6v3.9h-7.6z" fill="#a31289"/>
<path d="M596 106.9h7.6v3.9h-7.6z" fill="#a3118e"/>
<path d="M596 110.2h7.6v3.9h-7.6z" fill="#a21192"/>
<path d="M596 113.5h7.6v3.9h-7.6z" fill="#a11097"/>
<path d="M596 116.8h7.6v3.9h-7.6z" fill="#a0109d"/>
<path d="M596 120.2h7.6v3.9h-7.6z" fill="#9f0fa2"/>
<path d="M596 123.5h7.6v3.9h-7.6z" fill="#9e0fa8"/>
<path d="M596 126.8h7.6v3.9h-7.6z" fill="#9d0eae"/>
<path d="M596 130.1h7.6v3.9h-7.6z" fill="#9c0db4"/>
<path d="M596 133.4h7.6v3.9h-7.6z" fill="#9b0dba"/>
<path d="M596 136.7h7.6v3.9h-7.6z" fill="#9a0cc0"/>
<path d="M596 140h7.6v3.9h-7.6z" fill="#990cc6"/>
<path d="M596 143.3h7.6v3.9h-7.6z" fill="#970bcd"/>
<path d="M596 146.6h7.6v3.9h-7.6z" fill="#960bd3"/>
<path d="M596 149.9h7.6v3.9h-7.6z" fill="#940ad8"/>
<path d="M596 153.2h7.6v3.9h-7.6z" fill="#9309de"/>
<path d="M596 156.5h7.6v3.9h-7.6z" fill="#9109e3"/>
<path d="M596 159.8h7.6v3.9h-7.6z" fill="#9008e8"/>
<path d="M596 163.1h7.6v3.9h-7.6z" fill="#8e08ec"/>
<path d="M596 166.4h7.6v3.9h-7.6z" fill="#8d07f0"/>
<path d="M596 169.7h7.6v3.9h-7.6z" fill="#8b07f4"/>
<path d="M596 173.1h7.6v3.9h-7.6z" fill="#8906f7"/>
<path d="M596 176.4h7.6v3.9h-7.6z" fill="#8806fa"/>
<path d="M596 179.7h7.6v3.9h-7.6z" fill="#8605fc"/>
<path d="M596 183h7.6v3.9h-7.6z" fill="#8405fd"/>
<path d="M596 186.3h7.6v3.9h-7.6z" fill="#8305fe"/>
<path d="M596 189.6h7.6v3.9h-7.6z" fill="#8104ff"/>
<path d="M596 192.9h7.6v3.9h-7.6z" fill="#7f04ff"/>
<path d="M596 196.2h7.6v3.9h-7.6z" fill="#7e04ff"/>
<path d="M596 199.5h7.6v3.9h-7.6z" fill="#7c03fe"/>
<path d="M596 202.8h7.6v3.9h-7.6z" fill="#7a03fd"/>
<path d="M596 206.1h7.6v3.9h-7.6z" fill="#7903fb"/>
<path d="M596 209.4h7.6v3.9h-7.6z" fill="#7703fa"/>
<path d="M596 212.7h7.6v3.9h-7.6z" fill="#7502f8"/>
<path d="M596 216h7.6v3.9h-7.6z" fill="#7402f5"/>
<path d="M596 219.3h7.6v3.9h-7.6z" fill="#7202f3"/>
<path d="M596 222.6h7.6v3.9h-7.6z" fill="#7102f0"/>
<path d="M596 226h7.6v3.9h-7.6z" fill="#6f02ed"/>
<path d="M596 229.3h7.6v3.9h-7.6z" fill="#6d02ea"/>
<path d="M596 232.6h7.6v3.9h-7.6z" fill="#6c01e7"/>
<path d="M596 235.9h7.6v3.9h-7.6z" fill="#6b01e4"/>
<path d="M596 239.2h7.6v3.9h-7.6z" fill="#6a01e1"/>
<path d="M596 242.5h7.6v3.9h-7.6z" fill="#6801dd"/>
<path d="M596 245.8h7.6v3.9h-7.6z" fill="#6701da"/>
<path d="M596 249.1h7.6v3.9h-7.6z" fill="#6601d7"/>
<path d="M596 252.4h7.6v3.9h-7.6z" fill="#6501d4"/>
<path d="M596 255.7h7.6v3.9h-7.6z" fill="#6401d1"/>
<path d="M596 259h7.6v3.9h-7.6z" fill="#6301ce"/>
<path d="M596 262.3h7.6v3.9h-7.6z" fill="#6201cc"/>
<path d="M596 265.6h7.6v3.9h-7.6z" fill="#6101ca"/>
<path d="M596 268.9h7.6v3.9h-7.6z" fill="#6101c8"/>
<path d="M596 272.2h7.6v3.9h-7.6z" fill="#6001c7"/>
<path d="M596 275.5h7.6v7.2h-7.6z" fill="#6001c6"/>
<path d="M596 282.2h7.6v7.2h-7.6z" fill="#6001c5"/>
<path d="M596 288.8h7.6v7.2h-7.6z" fill="#6001c6"/>
<path d="M596 295.4h7.6v3.9h-7.6z" fill="#6001c7"/>
<path d="M596 298.7h7.6v3.9h-7.6z" fill="#6101c9"/>
<path d="M596 302h7.6v3.9h-7.6z" fill="#6101ca"/>
<path d="M596 305.3h7.6v3.9h-7.6z" fill="#6201cd"/>
<path d="M596 308.6h7.6v3.9h-7.6z" fill="#6301d0"/>
<path d="M596 311.9h7.6v3.9h-7.6z" fill="#6401d3"/>
<path d="M596 315.2h7.6v3.9h-7.6z" fill="#6601d7"/>
<path d="M596 318.5h7.6v3.9h-7.6z" fill="#6701db"/>
<path d="M596 321.8h7.6v3.9h-7.6z" fill="#6901e0"/>
<path d="M596 325.1h7.6v3.9h-7.6z" fill="#6c01e5"/>
<path d="M596 328.4h7.6v3.9h-7.6z" fill="#6e02ea"/>
<path d="M596 331.7h7.6v3.9h-7.6z" fill="#6f02ee"/>
<path d="M596 335.1h7.6v3.9h-7.6z" fill="#7102f1"/>
<path d="M596 338.4h7.6v3.9h-7.6z" fill="#7302f4"/>
<path d="M596 341.7h7.6v3.9h-7.6z" fill="#7502f7"/>
<path d="M596 345h7.6v3.9h-7.6z" fill="#7703fa"/>
<path d="M596 348.3h7.6v3.9h-7.6z" fill="#7903fc"/>
<path d="M596 351.6h7.6v3.9h-7.6z" fill="#7c03fe"/>
<path d="M596 354.9h7.6v3.9h-7.6z" fill="#8104ff"/>
<path d="M596 358.2h7.6v3.9h-7.6z" fill="#8806f9"/>
<path d="M596 361.5h7.6v3.9h-7.6z" fill="#9008e8"/>
<path d="M596 364.8h7.6v3.9h-7.6z" fill="#960bd2"/>
<path d="M596 368.1h7.6v3.9h-7.6z" fill="#9b0dbc"/>
<path d="M596 371.4h7.6v3.9h-7.6z" fill="#9e0fa8"/>
<path d="M596 374.7h7.6v3.9h-7.6z" fill="#a11094"/>
<path d="M596 378h7.6v3.9h-7.6z" fill="#a41280"/>
<path d="M596 381.3h7.6v3.9h-7.6z" fill="#a7146c"/>
<path d="M596 384.6h7.6v3.9h-7.6z" fill="#aa1658"/>
<path d="M596 388h7.6v3.9h-7.6z" fill="#ac1845"/>
<path d="M596 391.3h7.6v3.9h-7.6z" fill="#af1a32"/>
<path d="M596 394.6h7.6v3.9h-7.6z" fill="#b11c1f"/>
<path d="M596 397.9h7.6v3.9h-7.6z" fill="#b31e0d"/>
<path d="M596 401.2h7.6v3.9h-7.6z" fill="#b52100"/>
<path d="M596 404.5h7.6v3.9h-7.6z" fill="#b72300"/>
<path d="M596 407.8h7.6v3.9h-7.6z" fill="#b92500"/>
<path d="M596 411.1h7.6v3.9h-7.6z" fill="#ba2600"/>
<path d="M596 414.4h7.6v3.9h-7.6z" fill="#bb2800"/>
<path d="M596 417.7h7.6v3.9h-7.6z" fill="#bc2900"/>
<path d="M596 421h7.6v3.9h-7.6z" fill="#bc2a00"/>
<path d="M596 424.3h7.6v3.9h-7.6z" fill="#bd2a00"/>
<path d="M596 427.6h7.6v3.9h-7.6z" fill="#bc2900"/>
<path d="M596 430.9h7.6v3.9h-7.6z" fill="#bb2800"/>
<path d="M596 434.2h7.6v3.9h-7.6z" fill="#ba2600"/>
<path d="M596 437.5h7.6v3.9h-7.6z" fill="#b82400"/>
<path d="M596 440.9h7.6v3.9h-7.6z" fill="#b62100"/>
<path d="M596 444.2h7.6v3.9h-7.6z" fill="#b21e11"/>
<path d="M596 447.5h7.6v3.9h-7.6z" fill="#ae1a33"/>
<path d="M596 450.8h7.6v3.9h-7.6z" fill="#a9165d"/>
<path d="M596 454.1h7.6v3.9h-7.6z" fill="#a3118d"/>
<path d="M596 457.4h7.6v3.9h-7.6z" fill="#9a0cc1"/>
<path d="M596 460.7h7.6v3.9h-7.6z" fill="#8e08ed"/>
<path d="M596 464h7.6v3.9h-7.6z" fill="#8004ff"/>
<path d="M603 90.4h7.6v3.9h-7.6z" fill="#a51379"/>
<path d="M603 93.7h7.6v3.9h-7.6z" fill="#a5137e"/>
<path d="M603 97h7.6v3.9h-7.6z" fill="#a41282"/>
<path d="M603 100.3h7.6v3.9h-7.6z" fill="#a41286"/>
<path d="M603 103.6h7.6v3.9h-7.6z" fill="#a3118a"/>
<path d="M603 106.9h7.6v3.9h-7.6z" fill="#a2118e"/>
<path d="M603 110.2h7.6v3.9h-7.6z" fill="#a21193"/>
<path d="M603 113.5h7.6v3.9h-7.6z" fill="#a11098"/>
<path d="M603 116.8h7.6v3.9h-7.6z" fill="#a0109d"/>
<path d="M603 120.2h7.6v3.9h-7.6z" fill="#9f0fa3"/>
<path d="M603 123.5h7.6v3.9h-7.6z" fill="#9e0fa9"/>
<path d="M603 126.8h7.6v3.9h-7.6z" fill="#9d0eaf"/>
<path d="M603 130.1h7.6v3.9h-7.6z" fill="#9c0db5"/>
<path d="M603 133.4h7.6v3.9h-7.6z" fill="#9b0dbb"/>
<path d="M603 136.7h7.6v3.9h-7.6z" fill="#9a0cc2"/>
<path d="M603 140h7.6v3.9h-7.6z" fill="#980cc8"/>
<path d="M603 143.3h7.6v3.9h-7.6z" fill="#970bce"/>
<path d="M603 146.6h7.6v3.9h-7.6z" fill="#950ad4"/>
<path d="M603 149.9h7.6v3.9h-7.6z" fill="#940ada"/>
<path d="M603 153.2h7.6v3.9h-7.6z" fill="#9209e0"/>
<path d="M603 156.5h7.6v3.9h-7.6z" fill="#9109e5"/>
<path d="M603 159.8h7.6v3.9h-7.6z" fill="#8f08ea"/>
<path d="M603 163.1h7.6v3.9h-7.6z" fill="#8d07ee"/>
<path d="M603 166.4h7.6v3.9h-7.6z" fill="#8c07f2"/>
<path d="M603 169.7h7.6v3.9h-7.6z" fill="#8a06f6"/>
<path d="M603 173.1h7.6v3.9h-7.6z" fill="#8806f9"/>
<path d="M603 176.4h7.6v3.9h-7.6z" fill="#8605fb"/>
<path d="M603 179.7h7.6v3.9h-7.6z" fill="#8505fd"/>
<path d="M603 183h7.6v3.9h-7.6z" fill="#8305fe"/>
<path d="M603 186.3h7.6v3.9h-7.6z" fill="#8104ff"/>
<path d="M603 189.6h7.6v3.9h-7.6z" fill="#8004ff"/>
<path d="M603 192.9h7.6v3.9h-7.6z" fill="#7e04ff"/>
<path d="M603 196.2h7.6v3.9h-7.6z" fill="#7c03fe"/>
<path d="M603 199.5h7.6v3.9h-7.6z" fill="#7a03fd"/>
<path d="M603 202.8h7.6v3.9h-7.6z" fill="#7803fb"/>
<path d="M603 206.1h7.6v3.9h-7.6z" fill="#7703f9"/>
<path d="M603 209.4h7.6v3.9h-7.6z" fill="#7502f7"/>
<path d="M603 212.7h7.6v3.9h-7.6z" fill="#7302f4"/>
<path d="M603 216h7.6v3.9h-7.6z" fill="#7102f1"/>
<path d="M603 219.3h7.6v3.9h-7.6z" fill="#7002ee"/>
<path d="M603 222.6h7.6v3.9h-7.6z" fill="#6e02eb"/>
<path d="M603 226h7.6v3.9h-7.6z" fill="#6d02e8"/>
<path d="M603 229.3h7.6v3.9h-7.6z" fill="#6b01e4"/>
<path d="M603 232.6h7.6v3.9h-7.6z" fill="#6a01e1"/>
<path d="M603 235.9h7.6v3.9h-7.6z" fill="#6801dd"/>
<path d="M603 239.2h7.6v3.9h-7.6z" fill="#6701d9"/>
<path d="M603 242.5h7.6v3.9h-7.6z" fill="#6501d5"/>
<path d="M603 245.8h7.6v3.9h-7.6z" fill="#6401d1"/>
<path d="M603 249.1h7.6v3.9h-7.6z" fill="#6301ce"/>
<path d="M603 252.4h7.6v3.9h-7.6z" fill="#6101ca"/>
<path d="M603 255.7h7.6v3.9h-7.6z" fill="#6001c6"/>
<path d="M603 259h7.6v3.9h-7.6z" fill="#5f01c3"/>
<path d="M603 262.3h7.6v3.9h-7.6z" fill="#5e01c0"/>
<path d="M603 265.6h7.6v3.9h-7.6z" fill="#5d01bd"/>
<path d="M603 268.9h7.6v3.9h-7.6z" fill="#5c01bb"/>
<path d="M603 272.2h7.6v3.9h-7.6z" fill="#5b01b8"/>
<path d="M603 275.5h7.6v3.9h-7.6z" fill="#5b01b7"/>
<path d="M603 278.9h7.6v3.9h-7.6z" fill="#5b01b5"/>
<path d="M603 282.2h7.6v3.9h-7.6z" fill="#5a01b5"/>
<path d="M603 285.5h7.6v13.8h-7.6z" fill="#5a00b4"/>
<path d="M603 298.7h7.6v3.9h-7.6z" fill="#5b01b5"/>
<path d="M603 302h7.6v3.9h-7.6z" fill="#5b01b7"/>
<path d="M603 305.3h7.6v3.9h-7.6z" fill="#5c01b9"/>
<path d="M603 308.6h7.6v3.9h-7.6z" fill="#5d01bc"/>
<path d="M603 311.9h7.6v3.9h-7.6z" fill="#5e01c0"/>
<path d="M603 315.2h7.6v3.9h-7.6z" fill="#5f01c4"/>
<path d="M603 318.5h7.6v3.9h-7.6z" fill="#6101c9"/>
<path d="M603 321.8h7.6v3.9h-7.6z" fill="#6301cf"/>
<path d="M603 325.1h7.6v3.9h-7.6z" fill="#6501d5"/>
<path d="M603 328.4h7.6v3.9h-7.6z" fill="#6701da"/>
<path d="M603 331.7h7.6v3.9h-7.6z" fill="#6901df"/>
<path d="M603 335.1h7.6v3.9h-7.6z" fill="#6b01e4"/>
<path d="M603 338.4h7.6v3.9h-7.6z" fill="#6d02e8"/>
<path d="M603 341.7h7.6v3.9h-7.6z" fill="#6f02ec"/>
<path d="M603 345h7.6v3.9h-7.6z" fill="#7002ef"/>
<path d="M603 348.3h7.6v3.9h-7.6z" fill="#7202f2"/>
<path d="M603 351.6h7.6v3.9h-7.6z" fill="#7402f6"/>
<path d="M603 354.9h7.6v3.9h-7.6z" fill="#7803fb"/>
<path d="M603 358.2h7.6v3.9h-7.6z" fill="#7d04ff"/>
<path d="M603 361.5h7.6v3.9h-7.6z" fill="#8405fe"/>
<path d="M603 364.8h7.6v3.9h-7.6z" fill="#8a06f6"/>
<path d="M603 368.1h7.6v3.9h-7.6z" fill="#8f08e9"/>
<path d="M603 371.4h7.6v3.9h-7.6z" fill="#940ad8"/>
<path d="M603 374.7h7.6v3.9h-7.6z" fill="#990cc2"/>
<path d="M603 378h7.6v3.9h-7.6z" fill="#9e0eab"/>
<path d="M603 381.3h7.6v3.9h-7.6z" fill="#a21094"/>
<path d="M603 384.6h7.6v3.9h-7.6z" fill="#a5137f"/>
<path d="M603 388h7.6v3.9h-7.6z" fill="#a8156a"/>
<path d="M603 391.3h7.6v3.9h-7.6z" fill="#aa1755"/>
<path d="M603 394.6h7.6v3.9h-7.6z" fill="#ad1941"/>
<path d="M603 397.9h7.6v3.9h-7.6z" fill="#af1b2f"/>
<path d="M603 401.2h7.6v3.9h-7.6z" fill="#b11d1d"/>
<path d="M603 404.5h7.6v3.9h-7.6z" fill="#b31e0d"/>
<path d="M603 407.8h7.6v3.9h-7.6z" fill="#b42000"/>
<path d="M603 411.1h7.6v3.9h-7.6z" fill="#b62100"/>
<path d="M603 414.4h7.6v3.9h-7.6z" fill="#b72300"/>
<path d="M603 417.7h7.6v7.2h-7.6z" fill="#b82400"/>
<path d="M603 424.3h7.6v3.9h-7.6z" fill="#b92500"/>
<path d="M603 427.6h7.6v3.9h-7.6z" fill="#b82500"/>
<path d="M603 430.9h7.6v3.9h-7.6z" fill="#b82400"/>
<path d="M603 434.2h7.6v3.9h-7.6z" fill="#b72300"/>
<path d="M603 437.5h7.6v3.9h-7.6z" fill="#b52100"/>
<path d="M603 440.9h7.6v3.9h-7.6z" fill="#b31f0a"/>
<path d="M603 444.2h7.6v3.9h-7.6z" fill="#b01c23"/>
<path d="M603 447.5h7.6v3.9h-7.6z" fill="#ad1843"/>
<path d="M603 450.8h7.6v3.9h-7.6z" fill="#a7146b"/>
<path d="M603 454.1h7.6v3.9h-7.6z" fill="#a1109a"/>
<path d="M603 457.4h7.6v3.9h-7.6z" fill="#970bcc"/>
<path d="M603 460.7h7.6v3.9h-7.6z" fill="#8b07f4"/>
<path d="M603 464h7.6v3.9h-7.6z" fill="#7d04ff"/>
<path d="M610 90.4h7.6v3.9h-7.6z" fill="#a5137b"/>
<path d="M610 93.7h7.6v3.9h-7.6z" fill="#a5137f"/>
<path d="M610 97h7.6v3.9h-7.6z" fill="#a41283"/>
<path d="M610 100.3h7.6v3.9h-7.6z" fill="#a41287"/>
<path d="M610 103.6h7.6v3.9h-7.6z" fill="#a3118b"/>
<path d="M610 106.9h7.6v3.9h-7.6z" fill="#a2118f"/>
<path d="M610 110.2h7.6v3.9h-7.6z" fill="#a21193"/>
<path d="M610 113.5h7.6v3.9h-7.6z" fill="#a11098"/>
<path d="M610 116.8h7.6v3.9h-7.6z" fill="#a0109e"/>
<path d="M610 120.2h7.6v3.9h-7.6z" fill="#9f0fa3"/>
<path d="M610 123.5h7.6v3.9h-7.6z" fill="#9e0ea9"/>
<path d="M610 126.8h7.6v3.9h-7.6z" fill="#9d0eb0"/>
<path d="M610 130.1h7.6v3.9h-7.6z" fill="#9c0db6"/>
<path d="M610 133.4h7.6v3.9h-7.6z" fill="#9b0dbc"/>
<path d="M610 136.7h7.6v3.9h-7.6z" fill="#990cc3"/>
<path d="M610 140h7.6v3.9h-7.6z" fill="#980bc9"/>
<path d="M610 143.3h7.6v3.9h-7.6z" fill="#970bcf"/>
<path d="M610 146.6h7.6v3.9h-7.6z" fill="#950ad5"/>
<path d="M610 149.9h7.6v3.9h-7.6z" fill="#940adb"/>
<path d="M610 153.2h7.6v3.9h-7.6z" fill="#9209e1"/>
<path d="M610 156.5h7.6v3.9h-7.6z" fill="#9008e6"/>
<path d="M610 159.8h7.6v3.9h-7.6z" fill="#8f08eb"/>
<path d="M610 163.1h7.6v3.9h-7.6z" fill="#8d07f0"/>
<path d="M610 166.4h7.6v3.9h-7.6z" fill="#8b07f4"/>
<path d="M610 169.7h7.6v3.9h-7.6z" fill="#8906f7"/>
<path d="M610 173.1h7.6v3.9h-7.6z" fill="#8706fa"/>
<path d="M610 176.4h7.6v3.9h-7.6z" fill="#8505fc"/>
<path d="M610 179.7h7.6v3.9h-7.6z" fill="#8405fe"/>
<path d="M610 183h7.6v3.9h-7.6z" fill="#8204ff"/>
<path d="M610 186.3h7.6v3.9h-7.6z" fill="#8004ff"/>
<path d="M610 189.6h7.6v3.9h-7.6z" fill="#7e04ff"/>
<path d="M610 192.9h7.6v3.9h-7.6z" fill="#7c03fe"/>
<path d="M610 196.2h7.6v3.9h-7.6z" fill="#7b03fd"/>
<path d="M610 199.5h7.6v3.9h-7.6z" fill="#7903fc"/>
<path d="M610 202.8h7.6v3.9h-7.6z" fill="#7703fa"/>
<path d="M610 206.1h7.6v3.9h-7.6z" fill="#7502f7"/>
<path d="M610 209.4h7.6v3.9h-7.6z" fill="#7302f5"/>
<path d="M610 212.7h7.6v3.9h-7.6z" fill="#7102f1"/>
<path d="M610 216h7.6v3.9h-7.6z" fill="#7002ee"/>
<path d="M610 219.3h7.6v3.9h-7.6z" fill="#6e02ea"/>
<path d="M610 222.6h7.6v3.9h-7.6z" fill="#6c01e7"/>
<path d="M610 226h7.6v3.9h-7.6z" fill="#6b01e3"/>
<path d="M610 229.3h7.6v3.9h-7.6z" fill="#6901e0"/>
<path d="M610 232.6h7.6v3.9h-7.6z" fill="#6801dc"/>
<path d="M610 235.9h7.6v3.9h-7.6z" fill="#6601d7"/>
<path d="M610 239.2h7.6v3.9h-7.6z" fill="#6401d3"/>
<path d="M610 242.5h7.6v3.9h-7.6z" fill="#6301cf"/>
<path d="M610 245.8h7.6v3.9h-7.6z" fill="#6101ca"/>
<path d="M610 249.1h7.6v3.9h-7.6z" fill="#6001c6"/>
<path d="M610 252.4h7.6v3.9h-7.6z" fill="#5e01c2"/>
<path d="M610 255.7h7.6v3.9h-7.6z" fill="#5d01bd"/>
<path d="M610 259h7.6v3.9h-7.6z" fill="#5c01b9"/>
<path d="M610 262.3h7.6v3.9h-7.6z" fill="#5a01b5"/>
<path d="M610 265.6h7.6v3.9h-7.6z" fill="#5900b1"/>
<path d="M610 268.9h7.6v3.9h-7.6z" fill="#5800ae"/>
<path d="M610 272.2h7.6v3.9h-7.6z" fill="#5700ab"/>
<path d="M610 275.5h7.6v3.9h-7.6z" fill="#5600a8"/>
<path d="M610 278.9h7.6v3.9h-7.6z" fill="#5500a5"/>
<path d="M610 282.2h7.6v3.9h-7.6z" fill="#5500a3"/>
<path d="M610 285.5h7.6v3.9h-7.6z" fill="#5500a2"/>
<path d="M610 288.8h7.6v3.9h-7.6z" fill="#5400a1"/>
<path d="M610 292.1h7.6v3.9h-7.6z" fill="#5400a0"/>
<path d="M610 295.4h7.6v3.9h-7.6z" fill="#5400a1"/>
<path d="M610 298.7h7.6v3.9h-7.6z" fill="#5400a2"/>
<path d="M610 302h7.6v3.9h-7.6z" fill="#5500a3"/>
<path d="M610 305.3h7.6v3.9h-7.6z" fill="#5600a6"/>
<path d="M610 308.6h7.6v3.9h-7.6z" fill="#5700a9"/>
<path d="M610 311.9h7.6v3.9h-7.6z" fill="#5800ad"/>
<path d="M610 315.2h7.6v3.9h-7.6z" fill="#5900b2"/>
<path d="M610 318.5h7.6v3.9h-7.6z" fill="#5b01b8"/>
<path d="M610 321.8h7.6v3.9h-7.6z" fill="#5d01be"/>
<path d="M610 325.1h7.6v3.9h-7.6z" fill="#6001c5"/>
<path d="M610 328.4h7.6v3.9h-7.6z" fill="#6201cc"/>
<path d="M610 331.7h7.6v3.9h-7.6z" fill="#6401d3"/>
<path d="M610 335.1h7.6v3.9h-7.6z" fill="#6701d9"/>
<path d="M610 338.4h7.6v3.9h-7.6z" fill="#6901df"/>
<path d="M610 341.7h7.6v3.9h-7.6z" fill="#6b01e4"/>
<path d="M610 345h7.6v3.9h-7.6z" fill="#6d02e8"/>
<path d="M610 348.3h7.6v3.9h-7.6z" fill="#6e02eb"/>
<path d="M610 351.6h7.6v3.9h-7.6z" fill="#7002ef"/>
<path d="M610 354.9h7.6v3.9h-7.6z" fill="#7302f4"/>
<path d="M610 358.2h7.6v3.9h-7.6z" fill="#7703fa"/>
<path d="M610 361.5h7.6v3.9h-7.6z" fill="#7b03fe"/>
<path d="M610 364.8h7.6v3.9h-7.6z" fill="#8004ff"/>
<path d="M610 368.1h7.6v3.9h-7.6z" fill="#8505fd"/>
<path d="M610 371.4h7.6v3.9h-7.6z" fill="#8c07f2"/>
<path d="M610 374.7h7.6v3.9h-7.6z" fill="#9309de"/>
<path d="M610 378h7.6v3.9h-7.6z" fill="#980cc8"/>
<path d="M610 381.3h7.6v3.9h-7.6z" fill="#9c0eb3"/>
<path d="M610 384.6h7.6v3.9h-7.6z" fill="#a0109d"/>
<path d="M610 388h7.6v3.9h-7.6z" fill="#a41286"/>
<path d="M610 391.3h7.6v3.9h-7.6z" fill="#a7146f"/>
<path d="M610 394.6h7.6v3.9h-7.6z" fill="#aa1659"/>
<path d="M610 397.9h7.6v3.9h-7.6z" fill="#ac1845"/>
<path d="M610 401.2h7.6v3.9h-7.6z" fill="#ae1a33"/>
<path d="M610 404.5h7.6v3.9h-7.6z" fill="#b01c23"/>
<path d="M610 407.8h7.6v3.9h-7.6z" fill="#b21d16"/>
<path d="M610 411.1h7.6v3.9h-7.6z" fill="#b31f0b"/>
<path d="M610 414.4h7.6v3.9h-7.6z" fill="#b42002"/>
<path d="M610 417.7h7.6v3.9h-7.6z" fill="#b52100"/>
<path d="M610 421h7.6v3.9h-7.6z" fill="#b62100"/>
<path d="M610 424.3h7.6v7.2h-7.6z" fill="#b62200"/>
<path d="M610 430.9h7.6v3.9h-7.6z" fill="#b62100"/>
<path d="M610 434.2h7.6v3.9h-7.6z" fill="#b52000"/>
<path d="M610 437.5h7.6v3.9h-7.6z" fill="#b41f07"/>
<path d="M610 440.9h7.6v3.9h-7.6z" fill="#b21d18"/>
<path d="M610 444.2h7.6v3.9h-7.6z" fill="#af1a30"/>
<path d="M610 447.5h7.6v3.9h-7.6z" fill="#ab174f"/>
<path d="M610 450.8h7.6v3.9h-7.6z" fill="#a61377"/>
<path d="M610 454.1h7.6v3.9h-7.6z" fill="#9f0fa4"/>
<path d="M610 457.4h7.6v3.9h-7.6z" fill="#950ad5"/>
<path d="M610 460.7h7.6v3.9h-7.6z" fill="#8806f8"/>
<path d="M610 464h7.6v3.9h-7.6z" fill="#7b03fd"/>
<path d="M617 90.4h7.6v3.9h-7.6z" fill="#a5137c"/>
<path d="M617 93.7h7.6v3.9h-7.6z" fill="#a51280"/>
<path d="M617 97h7.6v3.9h-7.6z" fill="#a41284"/>
<path d="M617 100.3h7.6v3.9h-7.6z" fill="#a31287"/>
<path d="M617 103.6h7.6v3.9h-7.6z" fill="#a3118b"/>
<path d="M617 106.9h7.6v3.9h-7.6z" fill="#a2118f"/>
<path d="M617 110.2h7.6v3.9h-7.6z" fill="#a21194"/>
<path d="M617 113.5h7.6v3.9h-7.6z" fill="#a11099"/>
<path d="M617 116.8h7.6v3.9h-7.6z" fill="#a0109e"/>
<path d="M617 120.2h7.6v3.9h-7.6z" fill="#9f0fa4"/>
<path d="M617 123.5h7.6v3.9h-7.6z" fill="#9e0eaa"/>
<path d="M617 126.8h7.6v3.9h-7.6z" fill="#9d0eb0"/>
<path d="M617 130.1h7.6v3.9h-7.6z" fill="#9c0db6"/>
<path d="M617 133.4h7.6v3.9h-7.6z" fill="#9b0dbd"/>
<path d="M617 136.7h7.6v3.9h-7.6z" fill="#990cc3"/>
<path d="M617 140h7.6v3.9h-7.6z" fill="#980bca"/>
<path d="M617 143.3h7.6v3.9h-7.6z" fill="#960bd0"/>
<path d="M617 146.6h7.6v3.9h-7.6z" fill="#950ad6"/>
<path d="M617 149.9h7.6v3.9h-7.6z" fill="#9309dc"/>
<path d="M617 153.2h7.6v3.9h-7.6z" fill="#9209e2"/>
<path d="M617 156.5h7.6v3.9h-7.6z" fill="#9008e8"/>
<path d="M617 159.8h7.6v3.9h-7.6z" fill="#8e08ec"/>
<path d="M617 163.1h7.6v3.9h-7.6z" fill="#8c07f1"/>
<path d="M617 166.4h7.6v3.9h-7.6z" fill="#8b07f5"/>
<path d="M617 169.7h7.6v3.9h-7.6z" fill="#8906f8"/>
<path d="M617 173.1h7.6v3.9h-7.6z" fill="#8706fa"/>
<path d="M617 176.4h7.6v3.9h-7.6z" fill="#8505fc"/>
<path d="M617 179.7h7.6v3.9h-7.6z" fill="#8305fe"/>
<path d="M617 183h7.6v3.9h-7.6z" fill="#8104ff"/>
<path d="M617 186.3h7.6v3.9h-7.6z" fill="#7f04ff"/>
<path d="M617 189.6h7.6v3.9h-7.6z" fill="#7e04ff"/>
<path d="M617 192.9h7.6v3.9h-7.6z" fill="#7c03fe"/>
<path d="M617 196.2h7.6v3.9h-7.6z" fill="#7a03fd"/>
<path d="M617 199.5h7.6v3.9h-7.6z" fill="#7803fb"/>
<path d="M617 202.8h7.6v3.9h-7.6z" fill="#7602f8"/>
<path d="M617 206.1h7.6v3.9h-7.6z" fill="#7402f6"/>
<path d="M617 209.4h7.6v3.9h-7.6z" fill="#7202f3"/>
<path d="M617 212.7h7.6v3.9h-7.6z" fill="#7002f0"/>
<path d="M617 216h7.6v3.9h-7.6z" fill="#6f02ec"/>
<path d="M617 219.3h7.6v3.9h-7.6z" fill="#6d02e9"/>
<path d="M617 222.6h7.6v3.9h-7.6z" fill="#6b01e5"/>
<path d="M617 226h7.6v3.9h-7.6z" fill="#6a01e0"/>
<path d="M617 229.3h7.6v3.9h-7.6z" fill="#6801dc"/>
<path d="M617 232.6h7.6v3.9h-7.6z" fill="#6601d8"/>
<path d="M617 235.9h7.6v3.9h-7.6z" fill="#6501d3"/>
<path d="M617 239.2h7.6v3.9h-7.6z" fill="#6301cf"/>
<path d="M617 242.5h7.6v3.9h-7.6z" fill="#6101ca"/>
<path d="M617 245.8h7.6v3.9h-7.6z" fill="#6001c5"/>
<path d="M617 249.1h7.6v3.9h-7.6z" fill="#5e01c0"/>
<path d="M617 252.4h7.6v3.9h-7.6z" fill="#5d01bc"/>
<path d="M617 255.7h7.6v3.9h-7.6z" fill="#5b01b7"/>
<path d="M617 259h7.6v3.9h-7.6z" fill="#5900b2"/>
<path d="M617 262.3h7.6v3.9h-7.6z" fill="#5800ad"/>
<path d="M617 265.6h7.6v3.9h-7.6z" fill="#5600a8"/>
<path d="M617 268.9h7.6v3.9h-7.6z" fill="#5500a3"/>
<path d="M617 272.2h7.6v3.9h-7.6z" fill="#53009e"/>
<path d="M617 275.5h7.6v3.9h-7.6z" fill="#52009a"/>
<path d="M617 278.9h7.6v3.9h-7.6z" fill="#500095"/>
<path d="M617 282.2h7.6v3.9h-7.6z" fill="#4f0090"/>
<path d="M617 285.5h7.6v3.9h-7.6z" fill="#4e008c"/>
<path d="M617 288.8h7.6v3.9h-7.6z" fill="#4d008a"/>
<path d="M617 292.1h7.6v7.2h-7.6z" fill="#4d0089"/>
<path d="M617 298.7h7.6v3.9h-7.6z" fill="#4d008a"/>
<path d="M617 302h7.6v3.9h-7.6z" fill="#4e008d"/>
<path d="M617 305.3h7.6v3.9h-7.6z" fill="#4f0091"/>
<path d="M617 308.6h7.6v3.9h-7.6z" fill="#510096"/>
<path d="M617 311.9h7.6v3.9h-7.6z" fill="#52009c"/>
<path d="M617 315.2h7.6v3.9h-7.6z" fill="#5400a2"/>
<path d="M617 318.5h7.6v3.9h-7.6z" fill="#5600a8"/>
<path d="M617 321.8h7.6v3.9h-7.6z" fill="#5900b0"/>
<path d="M617 325.1h7.6v3.9h-7.6z" fill="#5b01b8"/>
<path d="M617 328.4h7.6v3.9h-7.6z" fill="#5e01c0"/>
<path d="M617 331.7h7.6v3.9h-7.6z" fill="#6101c8"/>
<path d="M617 335.1h7.6v3.9h-7.6z" fill="#6301cf"/>
<path d="M617 338.4h7.6v3.9h-7.6z" fill="#6601d6"/>
<path d="M617 341.7h7.6v3.9h-7.6z" fill="#6801dc"/>
<path d="M617 345h7.6v3.9h-7.6z" fill="#6a01e1"/>
<path d="M617 348.3h7.6v3.9h-7.6z" fill="#6c01e5"/>
<path d="M617 351.6h7.6v3.9h-7.6z" fill="#6e02ea"/>
<path d="M617 354.9h7.6v3.9h-7.6z" fill="#7102f0"/>
<path d="M617 358.2h7.6v3.9h-7.6z" fill="#7402f6"/>
<path d="M617 361.5h7.6v3.9h-7.6z" fill="#7803fb"/>
<path d="M617 364.8h7.6v3.9h-7.6z" fill="#7d03fe"/>
<path d="M617 368.1h7.6v3.9h-7.6z" fill="#8205fe"/>
<path d="M617 371.4h7.6v3.9h-7.6z" fill="#8806f9"/>
<path d="M617 374.7h7.6v3.9h-7.6z" fill="#8d07ee"/>
<path d="M617 378h7.6v3.9h-7.6z" fill="#9209e0"/>
<path d="M617 381.3h7.6v3.9h-7.6z" fill="#970bcd"/>
<path d="M617 384.6h7.6v3.9h-7.6z" fill="#9c0db4"/>
<path d="M617 388h7.6v3.9h-7.6z" fill="#a11098"/>
<path d="M617 391.3h7.6v3.9h-7.6z" fill="#a5137d"/>
<path d="M617 394.6h7.6v3.9h-7.6z" fill="#a81564"/>
<path d="M617 397.9h7.6v3.9h-7.6z" fill="#ab174e"/>
<path d="M617 401.2h7.6v3.9h-7.6z" fill="#ad193c"/>
<path d="M617 404.5h7.6v3.9h-7.6z" fill="#af1b2c"/>
<path d="M617 407.8h7.6v3.9h-7.6z" fill="#b11c1f"/>
<path d="M617 411.1h7.6v3.9h-7.6z" fill="#b21e14"/>
<path d="M617 414.4h7.6v3.9h-7.6z" fill="#b31f0c"/>
<path d="M617 417.7h7.6v3.9h-7.6z" fill="#b41f05"/>
<path d="M617 421h7.6v3.9h-7.6z" fill="#b42000"/>
<path d="M617 424.3h7.6v7.2h-7.6z" fill="#b52000"/>
<path d="M617 430.9h7.6v3.9h-7.6z" fill="#b42000"/>
<path d="M617 434.2h7.6v3.9h-7.6z" fill="#b42003"/>
<path d="M617 437.5h7.6v3.9h-7.6z" fill="#b31e0c"/>
<path d="M617 440.9h7.6v3.9h-7.6z" fill="#b11c20"/>
<path d="M617 444.2h7.6v3.9h-7.6z" fill="#ad193c"/>
<path d="M617 447.5h7.6v3.9h-7.6z" fill="#a9165f"/>
<path d="M617 450.8h7.6v3.9h-7.6z" fill="#a41286"/>
<path d="M617 454.1h7.6v3.9h-7.6z" fill="#9d0eb0"/>
<path d="M617 457.4h7.6v3.9h-7.6z" fill="#930adc"/>
<path d="M617 460.7h7.6v3.9h-7.6z" fill="#8706fa"/>
<path d="M617 464h7.6v3.9h-7.6z" fill="#7b03fd"/>
<path d="M624 90.4h7.6v3.9h-7.6z" fill="#a5137d"/>
<path d="M624 93.7h7.6v3.9h-7.6z" fill="#a41281"/>
<path d="M624 97h7.6v3.9h-7.6z" fill="#a41284"/>
<path d="M624 100.3h7.6v3.9h-7.6z" fill="#a31288"/>
<path d="M624 103.6h7.6v3.9h-7.6z" fill="#a3118c"/>
<path d="M624 106.9h7.6v3.9h-7.6z" fill="#a21190"/>
<path d="M624 110.2h7.6v3.9h-7.6z" fill="#a21094"/>
<path d="M624 113.5h7.6v3.9h-7.6z" fill="#a11099"/>
<path d="M624 116.8h7.6v3.9h-7.6z" fill="#a00f9f"/>
<path d="M624 120.2h7.6v3.9h-7.6z" fill="#9f0fa4"/>
<path d="M624 123.5h7.6v3.9h-7.6z" fill="#9e0eaa"/>
<path d="M624 126.8h7.6v3.9h-7.6z" fill="#9d0eb1"/>
<path d="M624 130.1h7.6v3.9h-7.6z" fill="#9c0db7"/>
<path d="M624 133.4h7.6v3.9h-7.6z" fill="#9a0dbd"/>
<path d="M624 136.7h7.6v3.9h-7.6z" fill="#990cc4"/>
<path d="M624 140h7.6v3.9h-7.6z" fill="#980bcb"/>
<path d="M624 143.3h7.6v3.9h-7.6z" fill="#960bd1"/>
<path d="M624 146.6h7.6v3.9h-7.6z" fill="#950ad7"/>
<path d="M624 149.9h7.6v3.9h-7.6z" fill="#9309dd"/>
<path d="M624 153.2h7.6v3.9h-7.6z" fill="#9109e3"/>
<path d="M624 156.5h7.6v3.9h-7.6z" fill="#9008e8"/>
<path d="M624 159.8h7.6v3.9h-7.6z" fill="#8e08ed"/>
<path d="M624 163.1h7.6v3.9h-7.6z" fill="#8c07f1"/>
<path d="M624 166.4h7.6v3.9h-7.6z" fill="#8a06f5"/>
<path d="M624 169.7h7.6v3.9h-7.6z" fill="#8806f8"/>
<path d="M624 173.1h7.6v3.9h-7.6z" fill="#8705fb"/>
<path d="M624 176.4h7.6v3.9h-7.6z" fill="#8505fd"/>
<path d="M624 179.7h7.6v3.9h-7.6z" fill="#8305fe"/>
<path d="M624 183h7.6v3.9h-7.6z" fill="#8104ff"/>
<path d="M624 186.3h7.6v3.9h-7.6z" fill="#7f04ff"/>
<path d="M624 189.6h7.6v3.9h-7.6z" fill="#7d04ff"/>
<path d="M624 192.9h7.6v3.9h-7.6z" fill="#7b03fe"/>
<path d="M624 196.2h7.6v3.9h-7.6z" fill="#7903fc"/>
<path d="M624 199.5h7.6v3.9h-7.6z" fill="#7703fa"/>
<path d="M624 202.8h7.6v3.9h-7.6z" fill="#7502f8"/>
<path d="M624 206.1h7.6v3.9h-7.6z" fill="#7302f5"/>
<path d="M624 209.4h7.6v3.9h-7.6z" fill="#7202f2"/>
<path d="M624 212.7h7.6v3.9h-7.6z" fill="#7002ee"/>
<path d="M624 216h7.6v3.9h-7.6z" fill="#6e02eb"/>
<path d="M624 219.3h7.6v3.9h-7.6z" fill="#6c01e7"/>
<path d="M624 222.6h7.6v3.9h-7.6z" fill="#6b01e3"/>
<path d="M624 226h7.6v3.9h-7.6z" fill="#6901df"/>
<path d="M624 229.3h7.6v3.9h-7.6z" fill="#6701db"/>
<path d="M624 232.6h7.6v3.9h-7.6z" fill="#6601d6"/>
<path d="M624 235.9h7.6v3.9h-7.6z" fill="#6401d1"/>
<path d="M624 239.2h7.6v3.9h-7.6z" fill="#6201cd"/>
<path d="M624 242.5h7.6v3.9h-7.6z" fill="#6001c8"/>
<path d="M624 245.8h7.6v3.9h-7.6z" fill="#5f01c3"/>
<path d="M624 249.1h7.6v3.9h-7.6z" fill="#5d01be"/>
<path d="M624 252.4h7.6v3.9h-7.6z" fill="#5c01b9"/>
<path d="M624 255.7h7.6v3.9h-7.6z" fill="#5a00b3"/>
<path d="M624 259h7.6v3.9h-7.6z" fill="#5800ae"/>
<path d="M624 262.3h7.6v3.9h-7.6z" fill="#5700a9"/>
<path d="M624 265.6h7.6v3.9h-7.6z" fill="#5500a3"/>
<path d="M624 268.9h7.6v3.9h-7.6z" fill="#53009e"/>
<path d="M624 272.2h7.6v3.9h-7.6z" fill="#510097"/>
<path d="M624 275.5h7.6v3.9h-7.6z" fill="#4e008e"/>
<path d="M624 278.9h7.6v3.9h-7.6z" fill="#4b0085"/>
<path d="M624 282.2h7.6v3.9h-7.6z" fill="#49007c"/>
<path d="M624 285.5h7.6v3.9h-7.6z" fill="#470077"/>
<path d="M624 288.8h7.6v3.9h-7.6z" fill="#460074"/>
<path d="M624 292.1h7.6v7.2h-7.6z" fill="#460073"/>
<path d="M624 298.7h7.6v3.9h-7.6z" fill="#460075"/>
<path d="M624 302h7.6v3.9h-7.6z" fill="#470078"/>
<path d="M624 305.3h7.6v3.9h-7.6z" fill="#49007d"/>
<path d="M624 308.6h7.6v3.9h-7.6z" fill="#4b0085"/>
<path d="M624 311.9h7.6v3.9h-7.6z" fill="#4e008e"/>
<path d="M624 315.2h7.6v3.9h-7.6z" fill="#510096"/>
<path d="M624 318.5h7.6v3.9h-7.6z" fill="#53009f"/>
<path d="M624 321.8h7.6v3.9h-7.6z" fill="#5600a8"/>
<path d="M624 325.1h7.6v3.9h-7.6z" fill="#5900b1"/>
<path d="M624 328.4h7.6v3.9h-7.6z" fill="#5c01b9"/>
<path d="M624 331.7h7.6v3.9h-7.6z" fill="#5e01c2"/>
<path d="M624 335.1h7.6v3.9h-7.6z" fill="#6101c9"/>
<path d="M624 338.4h7.6v3.9h-7.6z" fill="#6401d0"/>
<path d="M624 341.7h7.6v3.9h-7.6z" fill="#6601d7"/>
<path d="M624 345h7.6v3.9h-7.6z" fill="#6801dd"/>
<path d="M624 348.3h7.6v3.9h-7.6z" fill="#6a01e2"/>
<path d="M624 351.6h7.6v3.9h-7.6z" fill="#6c02e7"/>
<path d="M624 354.9h7.6v3.9h-7.6z" fill="#6f02ed"/>
<path d="M624 358.2h7.6v3.9h-7.6z" fill="#7302f4"/>
<path d="M624 361.5h7.6v3.9h-7.6z" fill="#7703fa"/>
<path d="M624 364.8h7.6v3.9h-7.6z" fill="#7c03fe"/>
<path d="M624 368.1h7.6v3.9h-7.6z" fill="#8104ff"/>
<path d="M624 371.4h7.6v3.9h-7.6z" fill="#8605fc"/>
<path d="M624 374.7h7.6v3.9h-7.6z" fill="#8b07f4"/>
<path d="M624 378h7.6v3.9h-7.6z" fill="#9008e7"/>
<path d="M624 381.3h7.6v3.9h-7.6z" fill="#950ad5"/>
<path d="M624 384.6h7.6v3.9h-7.6z" fill="#9b0dbb"/>
<path d="M624 388h7.6v3.9h-7.6z" fill="#a0109d"/>
<path d="M624 391.3h7.6v3.9h-7.6z" fill="#a5137e"/>
<path d="M624 394.6h7.6v3.9h-7.6z" fill="#a81564"/>
<path d="M624 397.9h7.6v3.9h-7.6z" fill="#ab174f"/>
<path d="M624 401.2h7.6v3.9h-7.6z" fill="#ad193e"/>
<path d="M624 404.5h7.6v3.9h-7.6z" fill="#af1b2e"/>
<path d="M624 407.8h7.6v3.9h-7.6z" fill="#b11c21"/>
<path d="M624 411.1h7.6v3.9h-7.6z" fill="#b21d16"/>
<path d="M624 414.4h7.6v3.9h-7.6z" fill="#b31e0e"/>
<path d="M624 417.7h7.6v3.9h-7.6z" fill="#b31f07"/>
<path d="M624 421h7.6v3.9h-7.6z" fill="#b42003"/>
<path d="M624 424.3h7.6v3.9h-7.6z" fill="#b42001"/>
<path d="M624 427.6h7.6v3.9h-7.6z" fill="#b42000"/>
<path d="M624 430.9h7.6v3.9h-7.6z" fill="#b52000"/>
<path d="M624 434.2h7.6v3.9h-7.6z" fill="#b52100"/>
<path d="M624 437.5h7.6v3.9h-7.6z" fill="#b42002"/>
<path d="M624 440.9h7.6v3.9h-7.6z" fill="#b11c1e"/>
<path d="M624 444.2h7.6v3.9h-7.6z" fill="#ac1848"/>
<path d="M624 447.5h7.6v3.9h-7.6z" fill="#a61376"/>
<path d="M624 450.8h7.6v3.9h-7.6z" fill="#a00f9f"/>
<path d="M624 454.1h7.6v3.9h-7.6z" fill="#9a0cbf"/>
<path d="M624 457.4h7.6v3.9h-7.6z" fill="#9209e0"/>
<path d="M624 460.7h7.6v3.9h-7.6z" fill="#8605fb"/>
<path d="M624 464h7.6v3.9h-7.6z" fill="#7d03fe"/>
</g>
<use href="#hh" transform="translate(1262,0) scale(-1,1)"/>
</g>
<path d="M498.5 466.4H556M706 466.4H763.5" stroke="#d868a8" stroke-width="0.8" fill="none"/>
<g id="cont" fill="none" stroke="#000" stroke-width="0.9" stroke-linejoin="round">
<path d="M498.3 124.4 502.3 124 506.2 123.7 510.2 123.4 514.2 123 518.3 122.6 522.5 122.2 526.9 121.7 531.5 121.1 536.1 120.4 540.8 119.8 545.5 119.2 550.1 118.6 554.7 118.1 559.3 117.6 563.9 117.1 568.4 116.7 573 116.3 577.6 115.9 582.2 115.5 586.9 115.1 591.5 114.8 596.1 114.5 600.7 114.2 605.2 113.9 609.6 113.6 613.9 113.4 618.2 113.2 622.5 113 626.7 112.8 631 112.8 635.3 112.8 639.5 113 643.8 113.2 648.1 113.4 652.4 113.6 656.8 113.9 661.3 114.2 665.9 114.5 670.5 114.8 675.1 115.1 679.8 115.5 684.4 115.9 689 116.3 693.6 116.7 698.1 117.2 702.7 117.6 707.3 118.1 711.9 118.6 716.5 119.2 721.2 119.8 725.9 120.4 730.5 121.1 735.1 121.7 739.5 122.2 743.7 122.6 747.8 123 751.8 123.4 755.8 123.7 759.7 124 763.7 124.4M498.4 209 499.1 208.2 499.8 207.4 500.4 206.6 501.2 205.7 502 204.8 502.9 203.8 504 202.7 505.2 201.4 506.5 200.1 507.8 198.7 509.2 197.3 510.7 195.9 512.2 194.5 513.7 193.1 515.3 191.7 516.9 190.2 518.7 188.7 520.6 187.1 522.7 185.4 524.8 183.6 527.1 181.8 529.5 179.9 531.9 178.1 534.4 176.3 536.9 174.6 539.5 172.8 542.1 171.1 544.8 169.4 547.5 167.9 550.1 166.4 552.7 165.1 555.3 163.8 557.9 162.7 560.5 161.6 563.2 160.5 565.9 159.5 568.7 158.5 571.6 157.5 574.5 156.6 577.5 155.6 580.5 154.8 583.6 154 586.8 153.3 590 152.6 593.3 151.9 596.7 151.3 600 150.8 603.3 150.3 606.7 149.9 610.3 149.5 613.9 149.2 617.3 148.9 620.4 148.7 623 148.5 625 148.4 626.5 148.3 627.7 148.2 628.8 148.2 629.8 148.2 631 148.2 632.2 148.2 633.2 148.2 634.3 148.2 635.5 148.3 637 148.4 639 148.5 641.6 148.7 644.7 148.9 648.1 149.2 651.7 149.5 655.3 149.9 658.7 150.3 662 150.8 665.3 151.3 668.7 151.9 672 152.6 675.2 153.3 678.4 154 681.5 154.8 684.5 155.6 687.5 156.6 690.4 157.5 693.3 158.5 696.1 159.5 698.8 160.5 701.5 161.6 704.1 162.7 706.7 163.8 709.3 165.1 711.9 166.4 714.5 167.9 717.2 169.4 719.9 171.1 722.5 172.8 725.1 174.6 727.6 176.3 730.1 178.1 732.5 179.9 734.9 181.8 737.2 183.6 739.3 185.4 741.4 187.1 743.3 188.7 745.1 190.2 746.7 191.7 748.3 193.1 749.8 194.5 751.3 195.9 752.8 197.3 754.2 198.7 755.5 200.1 756.8 201.4 758 202.7 759.1 203.8 760 204.8 760.8 205.7 761.6 206.6 762.2 207.4 762.9 208.2 763.6 209M498.4 209 498.8 209.8 499.1 210.6 499.4 211.4 499.8 212.2 500.3 213.2 500.9 214.2 501.7 215.4 502.6 216.7 503.6 218 504.6 219.5 505.7 221 506.8 222.5 507.9 224.1 509 225.7 510.1 227.4 511.2 229.1 512.4 231 513.7 233 515 235.1 516.3 237.2 517.7 239.4 519.1 241.7 520.7 244.3 522.5 247.2 524.5 250.4 526.7 254 529.1 257.8 531.5 261.8 533.9 265.7 536.3 269.5 538.7 273.3 541.1 277.2 543.5 281.1 545.8 284.9 548.1 288.5 550.1 291.8 551.9 294.8 553.5 297.5 555 300 556.4 302.4 557.8 304.8 559.3 307.4 560.7 310 562.1 312.6 563.5 315.2 564.9 317.9 566.4 320.6 568 323.5 569.8 326.5 571.7 329.7 573.7 332.9 575.7 336.1 577.9 339.3 580 342.4 582.2 345.4 584.5 348.4 586.8 351.3 589.1 354.1 591.5 356.9 593.8 359.6 596.1 362.3 598.4 364.9 600.6 367.5 602.9 369.9 605.2 372.1 607.5 374.1 609.8 375.8 612.2 377.4 614.6 378.7 617 379.9 619.2 380.9 621.3 381.7 623.2 382.3 624.8 382.7 626.4 382.9 627.9 383 629.4 383 631 383 632.6 383 634.1 383 635.6 382.9 637.2 382.7 638.8 382.3 640.7 381.7 642.8 380.9 645 379.9 647.4 378.7 649.8 377.4 652.2 375.8 654.5 374.1 656.8 372.1 659.1 369.9 661.4 367.5 663.6 364.9 665.9 362.3 668.2 359.6 670.5 356.9 672.9 354.1 675.2 351.3 677.5 348.4 679.8 345.4 682 342.4 684.1 339.3 686.3 336.1 688.3 332.9 690.3 329.7 692.2 326.5 694 323.5 695.6 320.6 697.1 317.9 698.5 315.2 699.9 312.6 701.3 310 702.7 307.4 704.2 304.8 705.6 302.4 707 300 708.5 297.5 710.1 294.8 711.9 291.8 713.9 288.5 716.2 284.9 718.5 281.1 720.9 277.2 723.3 273.3 725.7 269.5 728.1 265.7 730.5 261.8 732.9 257.8 735.3 254 737.5 250.4 739.5 247.2 741.3 244.3 742.9 241.7 744.3 239.4 745.7 237.2 747 235.1 748.3 233 749.6 231 750.8 229.1 751.9 227.4 753 225.7 754.1 224.1 755.2 222.5 756.3 221 757.4 219.5 758.4 218 759.4 216.7 760.3 215.4 761.1 214.2 761.7 213.2 762.2 212.2 762.6 211.4 762.9 210.6 763.2 209.8 763.6 209M631 178 627.8 178.3 624.7 178.5 621.6 178.7 618.4 179 615.2 179.4 612 180 608.7 180.8 605.3 181.8 601.9 182.9 598.5 184.2 595.2 185.5 592 187 588.9 188.6 585.9 190.3 583 192.1 580.2 194 577.5 195.9 575 198 572.7 200.1 570.4 202.4 568.4 204.7 566.4 207.1 564.7 209.5 563 212 561.5 214.5 560.1 217.2 558.8 219.8 557.7 222.5 556.8 225.1 556 227.5 555.4 229.7 555 231.8 554.7 233.8 554.6 235.8 554.5 237.8 554.5 240 554.6 242.2 554.7 244.3 555 246.6 555.3 249 555.7 251.7 556.3 255 557 259 557.9 263.7 558.9 268.8 560 273.8 561 278.6 562 282.6 562.9 285.9 563.9 288.8 564.8 291.3 565.8 293.6 566.7 295.8 567.7 298 568.7 300.2 569.7 302.4 570.7 304.5 571.7 306.4 572.6 308.3 573.5 310 574.2 311.4 574.8 312.5 575.3 313.5 575.9 314.6 576.6 316 577.5 318 578.7 320.6 580 323.7 581.5 327.1 583.1 330.7 584.8 334.3 586.5 337.7 588.2 341 590 344.4 591.8 347.8 593.7 351 595.8 354.2 598 357 600.4 359.7 603.1 362.2 605.9 364.5 608.7 366.7 611.6 368.5 614.4 370 617.2 371.1 619.9 371.9 622.7 372.3 625.5 372.6 628.2 372.7 631 372.7 633.8 372.7 636.5 372.6 639.3 372.3 642.1 371.9 644.8 371.1 647.6 370 650.4 368.5 653.3 366.7 656.1 364.5 658.9 362.2 661.6 359.7 664 357 666.2 354.2 668.3 351 670.2 347.8 672 344.4 673.8 341 675.5 337.7 677.2 334.3 678.9 330.7 680.5 327.1 682 323.7 683.3 320.6 684.5 318 685.4 316 686.1 314.6 686.7 313.5 687.2 312.5 687.8 311.4 688.5 310 689.4 308.3 690.3 306.4 691.3 304.5 692.3 302.4 693.3 300.2 694.3 298 695.3 295.8 696.2 293.6 697.2 291.3 698.1 288.8 699.1 285.9 700 282.6 701 278.6 702 273.8 703.1 268.8 704.1 263.7 705 259 705.7 255 706.3 251.7 706.7 249 707.1 246.6 707.3 244.3 707.4 242.2 707.5 240 707.5 237.8 707.4 235.8 707.3 233.8 707 231.8 706.6 229.7 706 227.5 705.2 225.1 704.3 222.5 703.2 219.8 701.9 217.2 700.5 214.5 699 212 697.3 209.5 695.6 207.1 693.6 204.7 691.6 202.4 689.3 200.1 687 198 684.5 195.9 681.8 194 679 192.1 676.1 190.3 673.1 188.6 670 187 666.8 185.5 663.5 184.2 660.1 182.9 656.7 181.8 653.3 180.8 650 180 646.8 179.4 643.6 179 640.4 178.7 637.3 178.5 634.2 178.3 631 178ZM631 220.5 628.2 221 625.4 221.4 622.6 221.8 619.8 222.3 617.1 222.9 614.6 223.7 612.2 224.7 610 225.8 607.9 227.1 605.8 228.5 603.9 230 602 231.5 600.2 233.1 598.5 234.9 596.8 236.8 595.3 238.7 593.8 240.6 592.5 242.6 591.3 244.6 590.2 246.7 589.2 248.8 588.4 250.9 587.6 253.1 586.9 255.2 586.3 257.2 585.8 259.2 585.4 261.2 585.1 263.3 584.8 265.4 584.7 267.8 584.6 270.4 584.7 273.2 584.8 276.1 585 279 585.2 282.1 585.6 285.1 586 288.2 586.6 291.4 587.2 294.6 587.8 297.8 588.6 301 589.4 304.1 590.3 307.1 591.2 310 592.2 312.9 593.3 315.8 594.4 318.6 595.7 321.4 597.1 324.2 598.5 326.9 600.1 329.6 601.7 332.2 603.4 334.8 605.2 337.2 607.1 339.6 609.1 342 611.3 344.2 613.4 346.4 615.6 348.2 617.8 349.8 620 351 622.2 352 624.4 352.7 626.6 353.2 628.8 353.5 631 353.6 633.2 353.5 635.4 353.2 637.6 352.7 639.8 352 642 351 644.2 349.8 646.4 348.2 648.6 346.4 650.7 344.2 652.9 342 654.9 339.6 656.8 337.2 658.6 334.8 660.3 332.2 661.9 329.6 663.5 326.9 664.9 324.2 666.3 321.4 667.6 318.6 668.7 315.8 669.8 312.9 670.8 310 671.7 307.1 672.6 304.1 673.4 301 674.2 297.8 674.8 294.6 675.4 291.4 676 288.2 676.4 285.1 676.8 282.1 677 279 677.2 276.1 677.3 273.2 677.4 270.4 677.3 267.8 677.2 265.4 676.9 263.3 676.6 261.2 676.2 259.2 675.7 257.2 675.1 255.2 674.4 253.1 673.6 250.9 672.8 248.8 671.8 246.7 670.7 244.6 669.5 242.6 668.2 240.6 666.7 238.7 665.2 236.8 663.5 234.9 661.8 233.1 660 231.5 658.1 230 656.2 228.5 654.1 227.1 652 225.8 649.8 224.7 647.4 223.7 644.9 222.9 642.2 222.3 639.4 221.8 636.6 221.4 633.8 221 631 220.5ZM631 271.9 629.6 272.2 628.2 272.4 626.8 272.6 625.5 272.9 624.2 273.3 623 274 621.9 275 620.8 276.1 619.9 277.4 619 278.9 618.2 280.4 617.5 282 616.9 283.7 616.5 285.4 616.2 287.3 615.9 289.2 615.7 291.1 615.6 293 615.6 294.9 615.6 296.8 615.7 298.7 615.9 300.6 616.2 302.3 616.5 304 616.9 305.5 617.4 307 618 308.3 618.6 309.6 619.3 310.8 620 312 620.7 313.1 621.5 314.2 622.3 315.2 623.2 316.1 624.1 316.9 625 317.5 625.9 318 626.9 318.3 627.9 318.5 629 318.6 630 318.6 631 318.6 632 318.6 633 318.6 634.1 318.5 635.1 318.3 636.1 318 637 317.5 637.9 316.9 638.8 316.1 639.7 315.2 640.5 314.2 641.3 313.1 642 312 642.7 310.8 643.4 309.6 644 308.3 644.6 307 645.1 305.5 645.5 304 645.8 302.3 646.1 300.6 646.3 298.7 646.4 296.8 646.4 294.9 646.4 293 646.3 291.1 646.1 289.2 645.8 287.3 645.5 285.4 645.1 283.7 644.5 282 643.8 280.4 643 278.9 642.1 277.4 641.2 276.1 640.1 275 639 274 637.8 273.3 636.5 272.9 635.2 272.6 633.8 272.4 632.4 272.2 631 271.9ZM498.3 347.1 500.5 347.5 502.7 347.9 504.9 348.2 507.1 348.6 509.3 349.1 511.5 349.8 513.8 350.6 516.1 351.5 518.4 352.6 520.7 353.7 523 354.9 525.3 356.2 527.6 357.5 529.9 359 532.2 360.4 534.5 362.1 536.8 363.8 539.1 365.8 541.4 368 543.8 370.4 546.2 373 548.5 375.6 550.8 378.3 552.9 381 555 383.7 557 386.5 558.9 389.3 560.7 392.1 562.4 394.8 563.9 397.5 565.2 400.2 566.3 402.8 567.3 405.5 568.1 408 568.8 410.4 569.4 412.6 569.8 414.5 570.1 416.2 570.3 417.7 570.3 419.2 570.2 420.7 569.9 422.3 569.5 424.1 569 426 568.3 427.9 567.4 429.8 566.4 431.6 565.2 433.3 563.8 434.9 562.3 436.3 560.5 437.7 558.6 439 556.5 440.3 554.2 441.6 551.6 442.9 548.8 444.1 545.8 445.4 542.6 446.5 539.4 447.6 536.3 448.5 533.2 449.3 529.9 449.9 526.7 450.5 523.4 451 520.2 451.4 517 451.8 513.8 452.1 510.7 452.4 507.6 452.6 504.5 452.7 501.4 452.9 498.3 453.1M763.7 453.1 760.6 452.9 757.5 452.7 754.4 452.6 751.3 452.4 748.2 452.1 745 451.8 741.8 451.4 738.6 451 735.3 450.5 732.1 449.9 728.8 449.3 725.7 448.5 722.6 447.6 719.4 446.5 716.2 445.4 713.2 444.1 710.4 442.9 707.8 441.6 705.5 440.3 703.4 439 701.5 437.7 699.7 436.3 698.2 434.9 696.8 433.3 695.6 431.6 694.6 429.8 693.7 427.9 693 426 692.5 424.1 692.1 422.3 691.8 420.7 691.7 419.2 691.7 417.7 691.9 416.2 692.2 414.5 692.6 412.6 693.2 410.4 693.9 408 694.7 405.5 695.7 402.8 696.8 400.2 698.1 397.5 699.6 394.8 701.3 392.1 703.1 389.3 705 386.5 707 383.7 709.1 381 711.2 378.3 713.5 375.6 715.8 373 718.2 370.4 720.6 368 722.9 365.8 725.2 363.8 727.5 362.1 729.8 360.5 732.1 359 734.4 357.6 736.7 356.2 739 354.9 741.3 353.7 743.6 352.6 745.9 351.5 748.2 350.6 750.5 349.8 752.7 349.1 754.9 348.6 757.1 348.2 759.3 347.9 761.5 347.5 763.7 347.1M498.3 388.7 500 389 501.8 389.1 503.5 389.3 505.3 389.6 507 390 508.8 390.6 510.7 391.4 512.6 392.5 514.5 393.7 516.4 394.9 518.2 396.2 519.8 397.5 521.2 398.8 522.6 400.2 523.8 401.7 524.9 403.1 525.9 404.5 526.7 405.8 527.4 407 527.9 408.1 528.4 409.2 528.7 410.3 528.8 411.4 528.9 412.6 528.8 413.9 528.7 415.3 528.4 416.7 527.9 418.2 527.4 419.6 526.7 420.9 525.9 422.2 524.9 423.4 523.8 424.6 522.6 425.7 521.2 426.8 519.8 427.8 518.2 428.7 516.4 429.6 514.5 430.5 512.6 431.2 510.7 431.9 508.8 432.5 507 432.9 505.3 433.3 503.5 433.5 501.8 433.7 500 433.9 498.3 434.1M763.7 434.1 762 433.9 760.2 433.7 758.5 433.5 756.7 433.3 755 432.9 753.2 432.5 751.3 431.9 749.4 431.2 747.5 430.5 745.6 429.6 743.8 428.7 742.2 427.8 740.8 426.8 739.4 425.7 738.2 424.6 737.1 423.4 736.1 422.2 735.3 420.9 734.6 419.6 734.1 418.2 733.6 416.7 733.3 415.3 733.2 413.9 733.1 412.6 733.2 411.4 733.3 410.3 733.6 409.2 734.1 408.1 734.6 407 735.3 405.8 736.1 404.5 737.1 403.1 738.2 401.7 739.4 400.2 740.8 398.8 742.2 397.5 743.8 396.2 745.6 394.9 747.5 393.6 749.4 392.5 751.3 391.4 753.2 390.6 755 390 756.7 389.6 758.5 389.3 760.2 389.1 762 389 763.7 388.7M560.8 466.7 562.4 466.3 563.9 466 565.4 465.6 567 465.3 568.8 464.9 570.9 464.5 573.3 464.1 576 463.7 578.9 463.2 581.8 462.8 584.8 462.4 587.7 462 590.5 461.6 593.3 461.3 596.1 460.9 599 460.6 601.8 460.3 604.6 460 607.5 459.7 610.5 459.4 613.5 459.2 616.4 459 619.1 458.8 621.5 458.6 623.5 458.5 625.2 458.4 626.7 458.3 628.1 458.3 629.5 458.3 631 458.3 632.5 458.3 633.9 458.3 635.3 458.3 636.8 458.4 638.5 458.5 640.5 458.6 642.9 458.8 645.6 459 648.5 459.2 651.5 459.4 654.5 459.7 657.4 460 660.2 460.3 663 460.6 665.9 460.9 668.7 461.3 671.5 461.6 674.3 462 677.2 462.4 680.2 462.8 683.1 463.2 686 463.7 688.7 464.1 691.1 464.5 693.2 464.9 695 465.3 696.6 465.6 698.1 466 699.6 466.3 701.2 466.7M582.7 466.9 584.9 466.6 587.1 466.3 589.2 465.9 591.5 465.6 593.8 465.3 596.2 465 598.8 464.7 601.5 464.4 604.3 464.1 607.2 463.8 610.1 463.5 613 463.3 615.9 463.1 618.9 462.9 621.9 462.7 625 462.6 628 462.5 631 462.5 634 462.5 637 462.6 640.1 462.7 643.1 462.9 646.1 463.1 649 463.3 651.9 463.5 654.8 463.8 657.7 464.1 660.5 464.4 663.2 464.7 665.8 465 668.2 465.3 670.5 465.6 672.8 465.9 674.9 466.3 677.1 466.6 679.3 466.9M498.3 304.1 500 304.5 501.7 304.9 503.3 305.3 505.1 305.7 506.9 306.2 508.8 306.9 510.9 307.7 513.1 308.5 515.4 309.5 517.8 310.5 520.2 311.6 522.5 312.9 524.9 314.3 527.3 315.9 529.8 317.7 532.2 319.4 534.4 321.1 536.3 322.6 537.8 323.9 539.1 325.2 540.1 326.3 541.1 327.5 542 328.7 543.2 330 544.5 331.5 545.9 333 547.4 334.6 548.8 336.2 550.2 337.9 551.5 339.5 552.6 340.9 553.4 342.2 554.3 343.4 555.2 344.9 556.6 346.8 558.4 349.3 560.9 352.6 563.9 356.5 567.2 360.8 570.7 365.3 574.3 369.8 577.6 374.1 580.8 378.3 584.1 382.6 587.4 386.9 590.7 391.1 593.8 395.2 596.9 398.9 599.9 402.4 602.9 405.7 605.8 408.9 608.6 411.8 611.2 414.5 613.5 416.8 615.6 418.8 617.4 420.5 619.1 421.9 620.6 423.1 621.9 424.1 623.1 425 624.1 425.7 624.8 426.2 625.4 426.5 625.9 426.7 626.4 426.9 627 427.2L635 427.2L635 427.2 635.6 426.9 636.1 426.7 636.6 426.5 637.2 426.2 637.9 425.7 638.9 425 640.1 424.1 641.4 423.1 642.9 421.9 644.6 420.5 646.4 418.8 648.5 416.8 650.8 414.5 653.4 411.8 656.2 408.9 659.1 405.7 662.1 402.4 665.1 398.9 668.2 395.2 671.3 391.1 674.6 386.9 677.9 382.6 681.2 378.3 684.4 374.1 687.7 369.8 691.3 365.3 694.8 360.8 698.1 356.5 701.1 352.6 703.6 349.3 705.4 346.8 706.8 344.9 707.7 343.4 708.6 342.2 709.4 340.9 710.5 339.5 711.8 337.9 713.2 336.2 714.6 334.6 716.1 333 717.5 331.5 718.8 330 720 328.7 720.9 327.5 721.9 326.3 722.9 325.2 724.2 323.9 725.7 322.6 727.6 321.1 729.8 319.4 732.2 317.7 734.7 315.9 737.1 314.3 739.5 312.9 741.8 311.6 744.2 310.5 746.6 309.5 748.9 308.5 751.1 307.7 753.2 306.9 755.1 306.2 756.9 305.7 758.7 305.3 760.3 304.9 762 304.5 763.7 304.1M763.7 463.2 758.5 463 753.3 462.8 748 462.7 742.8 462.5 737.9 462.3 733.3 462 729 461.7 724.9 461.3 721 460.8 717.5 460.4 714.2 459.9 711.4 459.5 709.2 459.1 707.6 458.8 706.3 458.5 705.1 458.1 703.8 457.7 702 457.2 699.8 456.6 697.3 455.9 694.7 455.1 691.9 454.3 689.2 453.4 686.6 452.6 684 451.8 681.5 451 679 450.2 676.4 449.3 673.9 448.4 671.3 447.5 668.7 446.5 666.1 445.5 663.4 444.4 660.8 443.3 658.3 442.2 655.9 441.1 653.6 440 651.3 438.9 649 437.8 646.9 436.7 644.9 435.7 643.1 434.7 641.5 433.8 640.1 433 638.8 432.3 637.5 431.6 636.3 430.8 635 430.1L627 430.1L627 430.1 625.7 430.8 624.5 431.6 623.2 432.3 621.9 433 620.5 433.8 618.9 434.7 617.1 435.7 615.1 436.7 613 437.8 610.7 438.9 608.4 440 606.1 441.1 603.7 442.2 601.2 443.3 598.6 444.4 595.9 445.5 593.3 446.5 590.7 447.5 588.1 448.4 585.6 449.3 583.1 450.2 580.5 451 578 451.8 575.4 452.6 572.8 453.4 570.1 454.3 567.3 455.1 564.7 455.9 562.2 456.6 560 457.2 558.2 457.7 556.9 458.1 555.7 458.5 554.4 458.8 552.8 459.1 550.6 459.5 547.8 459.9 544.5 460.4 541 460.8 537.1 461.3 533 461.7 528.7 462 524.1 462.3 519.2 462.5 514 462.7 508.7 462.8 503.5 463 498.3 463.2"/>
</g>
<g id="ring">
<path d="M661 195.8h0M661.8 191.4h0M662.2 188h0M663.4 183.8h0M662.5 180.1h0M662.6 178.4h0M663.7 174.9h0M662.2 177.9h0M662.5 181.2h0M663.7 186.6h0M664.5 189.9h0M662.9 193.4h0M663.1 197.5h0M664.7 200.8h0M665.9 200.9h0M666.5 197h0M666.8 193.9h0M666.9 189.1h0M668.2 186.7h0M667.6 182.5h0M667.5 176.8h0M667.8 176.5h0M668.5 179.6h0M667.8 181.8h0M669.2 186.8h0M668 190.6h0M668.9 194h0M668.1 198.3h0M669.6 200.4h0M670.6 201.6h0M671 197h0M671.6 193.7h0M672.1 189.7h0M672.2 187.3h0M672.5 183.2h0M672.8 181.4h0M672.9 175.1h0M672.1 179.8h0M672.5 183.4h0M672.3 189.2h0M673.5 191.4h0M674.4 195.4h0M674.2 197.8h0M675 203h0M675.4 204.3h0M676.5 198.2h0M676.7 196.2h0M676.6 192.6h0M678.2 187.5h0M678.9 186.9h0M678 181.8h0M677.6 177.1h0M677.7 181.4h0M678.3 186.8h0M677.2 190.2h0M678.1 193.3h0M678.3 197.4h0M677.6 199.6h0M679.3 204.9h0M680.5 204.3h0M681.1 201.4h0M681.4 196.7h0M681.3 194.5h0M682.4 191.2h0M682.4 186.2h0M682.6 183.1h0M683.1 179.7h0M682 182.1h0M682.5 186.3h0M682.3 189.2h0M683.7 195.2h0M682.9 198.5h0M684.6 201.1h0M683.3 205.2h0M683.9 207.3h0M685.5 203.2h0M685.8 198.4h0M687 196.5h0M687 191.9h0M687.1 189.1h0M686.1 186.8h0M686.4 180.4h0M686.7 185h0M685.8 188.7h0M686.1 191.5h0M686.9 196.7h0M686.6 200.3h0M687.3 203.8h0M688.5 207h0M688.7 208.8h0M688.4 205h0M689.8 202h0M690.2 199.5h0M690.6 195.1h0M691.7 191.7h0M690.9 187.1h0M690.2 186.8h0M689.5 188.9h0M690.2 192.1h0M689.8 194.1h0M690.5 197.5h0M690.3 200.3h0M691.1 207.1h0M690.7 209.4h0M691.7 212h0M692.5 206.4h0M692.5 204.1h0M693.6 199.5h0M693.3 197.4h0M693.4 192.7h0M693 189.8h0M693.1 188.6h0M691.9 188.3h0M693.1 193.1h0M692.7 198.5h0M692.9 200.1h0M693.5 204.7h0M693.4 206.6h0M693.6 210.5h0M695.1 212.8h0M694.7 209.3h0M695.5 207.4h0M694.6 204.1h0M695.6 200.4h0M695.9 194.7h0M696 193.2h0M695.7 190.6h0M695.6 193.5h0M694.4 195.5h0M694.2 198.4h0M694.7 202.3h0M694.3 205.8h0M694.9 209.1h0M695.7 213.4h0M695.1 216.7h0M695.9 213.3h0M697.6 208.5h0M697.3 205.1h0M698.3 204h0M697.5 198.7h0M697 197.1h0M697.6 192.2h0M696.7 192.7h0M696.7 199.2h0M695.9 201.1h0M695.8 204.6h0M696.3 209.1h0M696.4 210.4h0M697.3 216.3h0M697.4 218.1h0M698.8 215.2h0M699.6 211h0M699.8 208.1h0M699 204.2h0M700.4 202.4h0M698.4 199.3h0M699.2 194.8h0M698.7 196.1h0M698.7 199.5h0M697.6 201.7h0M697.7 205.9h0M698.9 211.6h0M699.2 214.8h0M698.5 218.1h0M699.6 220.2h0M699.9 217.6h0M699.4 212.9h0M702.1 210.7h0M701.1 207.9h0M701.5 205.2h0M701.4 202.5h0M700 197.6h0M700.9 199.5h0M699.5 201.1h0M698.7 206.3h0M699.8 210.4h0M699.8 211h0M699.8 216.7h0M700.6 218.5h0M702.5 222.5h0M702.5 219.4h0M702.7 216.3h0M702.9 214.2h0M704.4 213.5h0M703 209.1h0M701.8 206.8h0M703.5 201.6h0M701.9 200.6h0M700.2 202.4h0M700.3 207.6h0M700.1 209.6h0M699.7 214.2h0M701 217.7h0M701.7 220.6h0M704 224.1h0M703.6 219.1h0M703.9 219h0M704.6 215.8h0M705 211.9h0M705.5 209.9h0M705.3 207.2h0M702.5 202.7h0M702.2 206.1h0M702.7 210.1h0M703.8 213.4h0M702.1 215.3h0M703.5 218h0M703 221.5h0M703.7 222.8h0M704.7 223.7h0M706.6 220.9h0M705.8 218.9h0M706.4 217.2h0M706.5 212.1h0M706.6 210.7h0M705.4 207.6h0M705.3 208.6h0M705.4 212.7h0M704.3 215h0M703.4 217.2h0M703.8 220.5h0M704.7 222.8h0M705 225.6h0M705.2 225.5h0M706.1 223.6h0M707 221.2h0M706.3 219.1h0M709.8 217h0M707.9 215.6h0M706.3 209.9h0M705.5 209.5h0M706.3 214.2h0M703.9 217h0M704 219.6h0M705.7 221.3h0M705.4 224.2h0M706.7 226.9h0M707.1 228.4h0M707.8 227.5h0M708 224.3h0M709.2 221.7h0M709 218.6h0M708.7 217.5h0M707.6 214.9h0M708.2 211.9h0M706.6 212.7h0M706.4 218.6h0M704.8 218.9h0M704.5 224.2h0M706.8 226.4h0M706.4 230.1h0M707.1 230.5h0M708.9 228.9h0M710.4 226.5h0M709.6 223.6h0M709.6 221.2h0M709.9 220.9h0M709.4 218.1h0M708.3 216.2h0M706.1 216.7h0M707.5 222.4h0M705.9 221h0M708.1 225.8h0M706.3 229.8h0M707.7 230.7h0M708.3 233.5h0M709.4 231.9h0M712 229.8h0M710.3 226.6h0M711.5 227.1h0M710.4 223.2h0M709.6 220.4h0M709.7 220.4h0M708.6 219.2h0M707.4 221.8h0M706.3 225.7h0M707.3 229.4h0M710 229.9h0M707.7 232.9h0M709.2 233.3h0M709.1 235.1h0M713.3 232.1h0M709.8 230.7h0M710.7 228.7h0M709.5 227.8h0M711.1 225.2h0M709.9 222.5h0M709.3 222.5h0M708.1 225.2h0M708.8 227h0M708.4 230h0M708.4 231.8h0M705.7 234.6h0M708 236.9h0M709.8 238.6h0M711.3 237.4h0M708.9 233.2h0M712.9 231.4h0M711.7 229.7h0M712.3 229.3h0M709.2 225.6h0M708.6 226.1h0M707.5 227.9h0M707.2 230.7h0M706.7 233h0M706 235.5h0M709 236.9h0M709.1 239.8h0M708.9 240.7h0M708.7 240h0M712.2 238.8h0M709.6 235.7h0M710.6 233.9h0M710 232h0M709.7 233.1h0M709.8 228.2h0M709.2 231.1h0M708 233.9h0M706.2 233.6h0M708.3 237.5h0M708.6 238.9h0M708.9 241.7h0M711.2 245.7h0M709.1 241.7h0M710.1 242h0M710.5 238.3h0M710.7 237.8h0M711.5 236.9h0M710.3 236.3h0M708.8 232.7h0M709.2 234.8h0M707.3 236h0M706.3 239.3h0M706.1 239.7h0M705.7 242.8h0M707.3 245.3h0M707.6 245.4h0M709.1 246h0M710.4 245.4h0M710.9 242.8h0M710.2 242.9h0M712 240.4h0M708.6 238.2h0M709.3 237.3h0M707.7 238h0M707 238.5h0M705.5 242h0M705.1 244.2h0M706.5 246.1h0M704.9 248.4h0M707.4 249.1h0M706.9 249.8h0M707.3 250.3h0M709.6 246h0M709.2 244.6h0M711.2 244.2h0M707.3 243h0M708 240.5h0M707 240.5h0M706 242h0M704.7 244.7h0M703.3 245.7h0M705.4 250.5h0M705.9 252h0M706.3 252.8h0M707.1 254.8h0M708.7 253.5h0M709.1 252.7h0M709.1 248.3h0M707.8 248.5h0M708.7 246.1h0M706.1 246.1h0M706.2 244.8h0M703.9 246h0M703.8 247h0M704.2 249.5h0M703.1 251h0M704.6 253.7h0M704 255.9h0M706.7 260.2h0M706 258.4h0M709 255.1h0M707.7 255.3h0M707 252.7h0M705.5 252.2h0M705.3 251.4h0M706.3 248.4h0M702.5 251.4h0M701.3 253h0M702.3 254h0M703 257.2h0M701.8 258.6h0M702 262.2h0M703.3 263.2h0M704.2 263.7h0M706 260.3h0M707.1 261.7h0M705.3 258.1h0M704.3 256.3h0M703.2 257.4h0M701.7 254.8h0M702.1 255.9h0M699.8 256.9h0M701.1 259.4h0M700 261.9h0M699.8 263.2h0M702.1 264.1h0M700.1 269h0M703.2 268.5h0M703.3 267.3h0M703.9 264.6h0M703.7 265.8h0M702.4 263.8h0M703.2 261.7h0M702.7 260.6h0M698.8 258.9h0M699.7 262.3h0M698.8 265.9h0M698.2 267.1h0M698.9 270.2h0M698.8 271.9h0M699.3 273.4h0M701.5 275.1h0M700.3 272h0M701.3 269.3h0M701.5 269.3h0M700.9 269.6h0M700.5 265.1h0M701.2 262.9h0M698.2 264.2h0M700.1 266.6h0M695.8 268.1h0M694.6 271.3h0M696 272.6h0M695.8 275.8h0M698.6 279.5h0M698.7 281.2h0M698.2 279.6h0M699.5 278h0M699.6 274.7h0M702 273.9h0M699.3 272.7h0M698.5 270.3h0M697.7 269.2h0M696.4 270.6h0M695.4 272.6h0M694.1 276.6h0M694.7 279.7h0M695.1 282.6h0M694.3 282.4h0M696.3 286h0M695.9 285.9h0M696.2 283.8h0M697.8 283.1h0M698.3 279.4h0M698.1 278.6h0M696.1 277.7h0M694.3 276.7h0M693.7 275.5h0M693.4 279.6h0M692.9 284.3h0M693.1 285.2h0M692.7 287.3h0M694.2 289.9h0M693.5 293.9h0M695.2 290.7h0M696 289.7h0M696.1 288.8h0M696.3 287.8h0M694.5 286.9h0M695.4 284.3h0M693.3 282.3h0M692.5 284.4h0M690.8 285.4h0M691.2 287.3h0M690.2 291.2h0M690 294h0M691.6 296h0M691 297.1h0M692.6 298.3h0M693.1 299.4h0M693.8 296.7h0M693.4 292.3h0M692 293.1h0M692.5 289.7h0M691.7 288.9h0M691.8 287.9h0M690.8 292h0M689.2 294.4h0M688.9 297.1h0M685.9 300.5h0M687.8 303.6h0M687.9 305h0M689.9 308.9h0M690.4 304.8h0M690.8 305h0M690.9 303h0M690.5 300.4h0M689.5 298.8h0M688.2 296.7h0M688.2 295.2h0M686.6 298.9h0M686.6 302.3h0M684.9 306.1h0M684.8 308.3h0M684.5 309.9h0M686.1 313.8h0M685.5 317.4h0M684.8 314.7h0M686.4 314h0M686.6 310.9h0M686.9 309.8h0M686.1 306.2h0M686.5 307h0M684.8 304h0M684.3 306.5h0M683.7 309.5h0M682.8 312.7h0M682.4 313.9h0M681.4 318.9h0M682.4 322h0M682.5 326.4h0M683.6 326.3h0M683 323.2h0M684 321.5h0M683 317.6h0M683.4 316.5h0M683 314.3h0M682 311.1h0M679.9 313.2h0M680.2 317.7h0M677.4 320.4h0M678.3 322.9h0M677.1 326.8h0M678.3 330.6h0M677.9 332.2h0M679.1 333.6h0M679 331.4h0M680.5 327.7h0M681 327.7h0M679.7 323.6h0M679.1 321.9h0M677.8 319.9h0M676.4 321.3h0M675.4 323.8h0M674.1 326.6h0M673.9 330.5h0M674.8 332.9h0M674.1 338.4h0M674.9 340.6h0M674.4 344h0M676.9 341.4h0M676.4 338.5h0M675.3 335.4h0M676.3 331.2h0M674.7 329.1h0M674.2 328.2h0M672.4 327h0M671.3 329.6h0M671.7 334.1h0M670.7 335.2h0M670.5 340.3h0M670.6 344.9h0M670.2 349.7h0M670.1 352.1h0M670.9 349.3h0M669.6 348.7h0M670.7 343.9h0M671 341.1h0M669.4 336.6h0M669.9 336.8h0M667.5 331.8h0M666.1 336.3h0M666.2 339.5h0M665.1 344.4h0M665.2 347.1h0M664.2 350.1h0M665.1 353.3h0M665 359.9h0M665.2 356.2h0M665.8 354.1h0M664.6 351.7h0M664.6 348.5h0M664.7 345.7h0M664 342.5h0M662.6 341.6h0M660.4 342.9h0M660.3 347.7h0M659.2 350.3h0M658.8 353h0M657.7 358.6h0M657.4 362.2h0M659.4 364.6h0M659.5 364.4h0M658.1 362.2h0M658.7 359.4h0M658.6 356h0M657.6 354.7h0M657.4 350.8h0M655.9 347.5h0M654.2 349.6h0M653.8 353.7h0M653.5 356.2h0M652.1 360h0M652.8 363.9h0M652.9 367.9h0M652.6 373.2h0M652.7 371.2h0M652.4 368.9h0M652.7 366.6h0M651.6 365h0M650 361.6h0M650.2 359.5h0M650.6 356.1h0M649.2 354.6h0M646.9 359.4h0M646.6 362.6h0M645.6 366.7h0M644.9 369.2h0M645.3 375.4h0M646 376.7h0M645.6 380.5h0M645.5 377.4h0M644.2 375.9h0M646.6 370h0M644.1 367.5h0M644 366.9h0M643.5 361.6h0M642.1 360.8h0M641.5 363.3h0M638.6 368.4h0M638.8 372h0M638.5 376.9h0M637.8 379.9h0M637.7 383.5h0M639.2 389h0M638 384.7h0M639.4 381.2h0M639.1 377.4h0M637.8 374.8h0M636.5 369.7h0M636.1 368.5h0M635 364.8h0M634 366.1h0M633 372.1h0M632.8 374.2h0M632.1 379h0M631.9 383.2h0M631.9 384.8h0M632.7 389.3h0M633.3 388.3h0M632.1 383.7h0M631.9 380.6h0M631.4 378h0M631.5 372.6h0M630.5 372h0M629.1 368.8h0M628 368.5h0M627.5 372.9h0M627 377.1h0M625.6 380.4h0M625.8 385.1h0M624.4 386.6h0M625.2 392.6h0M626 389.3h0M624.8 387.2h0M624.7 384.3h0M625.5 380.8h0M623.6 377.5h0M623.8 373h0M624.4 369h0M622.4 368.6h0M622.3 373h0M621.4 375.3h0M619.5 380.5h0M619.5 383.7h0M619.8 385.4h0M620.3 390.1h0M620.6 391.5h0M620.4 387.6h0M620.1 383.9h0M619.1 380.1h0M619.9 376.2h0M618.2 371h0M618.3 370.8h0M617.6 368.6h0M615.1 370.5h0M616.4 375.4h0M614.5 377.3h0M614.9 381.7h0M614.7 384.1h0M615.3 385.8h0M615.1 391.3h0M615.5 386.5h0M615.1 381.3h0M613.9 379h0M613.9 374.4h0M613.8 371h0M613.1 367.9h0M611.8 362.1h0M610.4 366.4h0M609.2 368.6h0M609.4 372.1h0M610.7 376.5h0M608.7 379.2h0M608.5 381.2h0M609.3 386h0M609.5 380h0M609.2 378.7h0M607.9 373h0M608.3 371.6h0M607.7 366.7h0M607.7 361.7h0M606.1 359.4h0M605.4 359.1h0M604.1 364.3h0M603.7 367.4h0M604.9 369.9h0M603.9 372.8h0M603.6 376.1h0M603 378.7h0M602.9 378.7h0M604.3 375.1h0M603.6 368.1h0M603.7 363.2h0M603 360.6h0M602.1 357.3h0M599.8 354.4h0M600.8 353.4h0M600.5 356h0M598.8 360.2h0M598.1 362.7h0M598.1 365h0M597.8 368.1h0M597 371.4h0M598 372.4h0M598.3 369.2h0M598.9 363.9h0M597.5 360h0M597.4 356.5h0M596.9 352.4h0M596.3 347.9h0M596.3 345.2h0M594.6 352h0M593.9 354.2h0M592.3 355.2h0M593.6 358.8h0M591.6 361.7h0M593.5 366h0M593.4 366.8h0M593.1 363.1h0M592.4 358.8h0M593.2 355.7h0M592.2 351.5h0M592.6 347.1h0M589.3 343.1h0M590.2 338.8h0M587.7 344.1h0M588.6 346h0M587.8 347.9h0M588.1 352.9h0M586.8 354.9h0M587 356.5h0M586.5 362.8h0M587.6 357.2h0M588.1 351.8h0M587.7 350.1h0M587 346.5h0M586.8 339.9h0M586.6 337.5h0M585.5 332h0M583.3 334.5h0M583.4 336.9h0M582.6 341.2h0M581.1 343h0M583 346.4h0M582.9 349.4h0M582.2 352.2h0M583.4 350.8h0M583.3 346.1h0M582.9 339.5h0M583.1 340h0M582.3 335.4h0M581.3 330.8h0M581.5 325.7h0M579.1 326.2h0M580.4 330.1h0M578.8 330.6h0M578 335.9h0M578.3 339.6h0M577.6 341.2h0M578.1 345.7h0M579.8 343.8h0M579 339.1h0M578.7 335.1h0M578.5 330.1h0M578.8 327.7h0M578.1 322.5h0M576.6 318.1h0M576.7 318.6h0M575.2 321.9h0M574.5 323.7h0M574.6 327.8h0M573.5 328.8h0M573.1 331.8h0M574.1 334.9h0M575 334.4h0M574.6 330.9h0M575.4 330h0M575.5 323.4h0M574.3 319.5h0M573.9 315.5h0M573.1 311.9h0M572.8 308.1h0M571.9 314h0M571.1 316h0M571.4 317.4h0M570.6 320.8h0M570.5 323.1h0M570.2 327.3h0M571 330h0M572.1 323.4h0M571.9 320.7h0M571.5 318.4h0M571.2 312h0M570.2 310h0M569.7 303.7h0M570 300.9h0M568.6 302.8h0M568 305.3h0M568.3 310.3h0M567 311.8h0M567 315h0M568.4 318.9h0M568.3 321.5h0M567.3 317.9h0M568.6 314.2h0M568.2 309.9h0M568.3 306.6h0M568.1 301.3h0M566.6 297.8h0M566.5 295.1h0M567.3 295.7h0M565.4 298.5h0M564.7 302.9h0M565.4 304.1h0M563.9 307.4h0M564.9 310.3h0M566.2 314h0M565.8 311.8h0M566.4 307.9h0M566.2 305.8h0M566.5 299.9h0M566.4 295.7h0M565.3 291.5h0M564.8 286.7h0M564.1 288.2h0M562 289.7h0M563.3 293.2h0M563.5 297.5h0M562.9 300.3h0M562.7 301.7h0M562.7 304.7h0M563.6 307.6h0M565 302.5h0M564.9 296.8h0M563.6 293.9h0M564.7 291.9h0M562.8 286.5h0M562.1 281.9h0M561.7 281.4h0M561.4 284h0M560.3 287h0M560.7 290h0M560.2 292.6h0M561.1 294.6h0M559.6 295.1h0M561.1 297.4h0M561.9 295.4h0M562.7 293.3h0M560.5 288.1h0M561.5 284.7h0M559.9 281.4h0M560.8 278.5h0M559.3 273.7h0M559.1 277.6h0M558.9 279.2h0M558.4 283.6h0M557.5 284.6h0M558.2 288.7h0M560.3 290.5h0M558.4 292.7h0M559.6 289.9h0M559.3 285.8h0M560.4 282.3h0M559.1 279h0M559.7 275.5h0M557.6 271.5h0M557.9 267.9h0M558.7 268.4h0M555.4 271.3h0M555.3 275.4h0M556.2 278.5h0M554.9 278.5h0M554.4 281.6h0M555.4 283.7h0M557.3 280.9h0M558.4 280.4h0M558 276.1h0M557.9 272.2h0M558.3 268.1h0M556.9 266.2h0M557 262.4h0M556.3 263.2h0M554.2 265.4h0M554.8 267.6h0M554.1 270.5h0M553.6 272.8h0M554 275.1h0M555.4 276.6h0M554.4 275.2h0M554.7 272.7h0M557.1 269.7h0M557.7 265.4h0M556.2 262.9h0M556.2 259.7h0M553.4 257.4h0M552.8 257.1h0M552.5 258.2h0M552 260.8h0M552.1 261.9h0M551.7 266.1h0M552.3 266.7h0M552.8 269.8h0M554.1 270.3h0M555.1 266.8h0M555.4 264.8h0M556 261h0M554.6 257.9h0M553.9 252.1h0M552.1 252.9h0M551.3 249.8h0M552.4 252.5h0M551.5 253.9h0M550.8 256.5h0M550.5 259h0M550.1 258.9h0M550 261.3h0M551.9 265.6h0M552.9 261.6h0M551.6 258.4h0M554.9 256.6h0M553.3 252.1h0M553.7 248.7h0M553.7 246.8h0M553 243.2h0M550.8 244.3h0M551.1 248.2h0M550.6 248.7h0M549.9 249.9h0M550.4 256.5h0M550 256.3h0M551.7 256.7h0M551.7 255h0M552.7 253.1h0M553.3 248.7h0M554 246.3h0M552.8 245.7h0M552.1 240.3h0M551.2 239h0M552.8 239.8h0M549.6 242.4h0M549.9 243.1h0M548.2 245.5h0M549.7 248.8h0M549.2 250.2h0M550.5 250.1h0M552.4 249.5h0M553.9 249.1h0M553.1 244.8h0M553.6 242.6h0M553.1 240.2h0M552.1 236.3h0M551.7 233.3h0M551.6 233.1h0M550.3 236.9h0M549.3 238.2h0M549 239.7h0M550 241.1h0M549.9 244.4h0M551.7 246.3h0M550.7 245.8h0M553.2 243h0M552.6 242.2h0M553.4 236.8h0M555.1 235.2h0M553.8 233h0M551.8 231.3h0M551.1 229.1h0M551.4 229.2h0M550.9 233.4h0M549.9 236.5h0M550.7 236.8h0M550.2 239.3h0M549.1 240.9h0M553.1 243h0M552.7 239.3h0M554.3 236.3h0M554 238.2h0M553.9 231.7h0M553.1 228.6h0M553.8 227.4h0M553.1 227h0M552.7 226.5h0M551.7 226.8h0M551.2 230.3h0M550.5 230.7h0M551.4 234.3h0M552.5 236.7h0M551 240h0M553 235.4h0M554.6 235.3h0M555.8 231.7h0M556.4 229h0M556.4 225.6h0M553.9 223.5h0M553.8 222.5h0M552.6 223.9h0M551.7 223.2h0M551.8 226.6h0M552.2 228.8h0M553.2 231h0M552 233h0M554 235.4h0M554.3 232.4h0M557 230.3h0M557.8 228.3h0M556.2 225h0M555.9 223.1h0M556.5 220.6h0M556.1 216.6h0M553.8 218.8h0M553.7 221.4h0M553.9 221.3h0M552.8 225.2h0M555.1 226.9h0M554.6 228.3h0M555.5 233.1h0M555.5 231.3h0M558.2 227.7h0M556.8 226.5h0M557.6 223.7h0M557.6 220.6h0M557.6 218.1h0M556 214.8h0M555.9 214.1h0M556.3 216.9h0M555.4 217.5h0M555.5 221.3h0M556.4 222.5h0M556.6 226.5h0M557.8 227h0M558 229.7h0M558.2 225.8h0M560.8 223.6h0M558.6 219.6h0M558.9 218.8h0M558.8 215.5h0M560.9 211.9h0M558.5 211.5h0M558.7 212.3h0M556.3 215.7h0M556.5 217.7h0M557.8 219.9h0M557.7 222.7h0M558.9 226h0M560.2 228.9h0M560.6 226.8h0M561.3 222.9h0M561.9 219.6h0M561.7 216.7h0M561.9 212.6h0M561.9 211h0M560 209.2h0M560.8 206.8h0M560.7 207.6h0M559.5 213.1h0M559.4 214.7h0M560.9 217.1h0M560.7 218.6h0M562.1 221.6h0M562.6 225.4h0M561.8 223.8h0M562.3 221.6h0M563.2 218.3h0M564.4 214.4h0M561.4 215h0M563.7 211.8h0M564.1 208.2h0M562.8 205h0M562.5 206.1h0M561.7 209.1h0M560.5 210.1h0M562.4 213.1h0M561.8 216.6h0M562.9 220.3h0M563.3 221.3h0M565.4 222h0M565.2 220h0M565.7 215.9h0M565.7 214.3h0M565.3 210.9h0M566 208.1h0M566.1 204.7h0M564.9 202.9h0M563 203.8h0M563.5 206.7h0M565.1 210.2h0M563.5 210.4h0M564.3 213.3h0M563.5 215.8h0M565 219.8h0M565.6 221.1h0M567.4 218.8h0M567.8 216.1h0M568.1 213.3h0M568.5 208.9h0M567.4 206.7h0M568.5 202.1h0M566.9 197.8h0M567.2 200.5h0M567.6 204.5h0M565.7 206.4h0M566.3 209h0M566.3 212.6h0M566.9 214.3h0M567.7 219.1h0M568.2 219.8h0M568.9 216.9h0M569.9 213h0M569 209.7h0M569.5 205.9h0M569.6 203.6h0M568.8 197.7h0M569.5 197.2h0M568.6 197.8h0M568.1 201h0M567.6 205.2h0M568 208.5h0M569.1 210.1h0M568.5 212.5h0M570.5 216h0M571 218.3h0M571.5 214.6h0M570.9 212.2h0M571.8 208.3h0M573.1 204h0M572.2 200.4h0M571.8 197h0M571.5 194.9h0M571.8 194.5h0M570.3 197.3h0M571.8 203.5h0M571.4 204.6h0M571 208.5h0M572.4 211.1h0M571.1 215.5h0M572.7 217.6h0M574.3 213.1h0M575.6 210.4h0M574.4 206.5h0M574.5 203.3h0M575.3 198.7h0M575.2 194.8h0M574.5 192.6h0M574.2 191.8h0M575.3 196.2h0M573.8 198.7h0M573.4 201.5h0M574.4 205.7h0M575.9 209.6h0M576.2 213.7h0M576.4 213h0M576.4 210.2h0M577.7 209.7h0M579.8 203.8h0M578.7 200.8h0M579 198.3h0M577.4 192.4h0M577.9 189.7h0M577.5 188.8h0M578.6 194.4h0M577.4 197.5h0M577.6 201.5h0M577.7 203.3h0M576.8 208.1h0M579.6 210.5h0M578.6 213h0M580 209.8h0M580.1 205.2h0M581.1 202.1h0M581.4 197.9h0M581.4 194.6h0M582.4 191.7h0M580.8 186.6h0M581 187.7h0M581.3 191h0M580.7 194.9h0M580.7 196.6h0M582.4 202.4h0M582.2 205.3h0M581.9 207.4h0M583.1 210h0M583.2 207.8h0M584.5 205.4h0M583.9 199.2h0M585.4 196.5h0M585.2 193.7h0M585.1 187.9h0M584.8 185.3h0M584.7 186.5h0M583.9 190.4h0M584.3 191.6h0M584.7 195.5h0M584.9 198.3h0M584.6 201.4h0M586 206.1h0M585.6 209.2h0M586.5 205.2h0M587 202.2h0M587.6 197.5h0M588.1 193.9h0M588.7 190.6h0M588.8 185.5h0M588.3 184.1h0M587.5 183.2h0M588.1 185.8h0M588.1 189.8h0M587.3 190.9h0M587.3 195.8h0M588.2 198.6h0M589.9 202h0M589.3 204.7h0M590 201.3h0M591 200.4h0M590.5 194.4h0M590.8 192.2h0M591.4 188.2h0M591.9 184.1h0M591.1 180.3h0M590.7 178.1h0M590 182.4h0M591.6 184.9h0M590.2 191.5h0M591.8 194.4h0M591.1 198.3h0M592.6 200h0M593.5 204.6h0M592.8 201.7h0M594.1 195.8h0M594.7 193.6h0M595.2 190.8h0M594.5 185.3h0M595.3 180.6h0M594.6 176.8h0M593.8 176.2h0M594.7 179h0M594.7 183.4h0M594.1 186.5h0M594.3 190.7h0M595.1 194.5h0M596.1 195.8h0M595.2 200.9h0M597 199.3h0M598.1 196.1h0M597.1 192.2h0M598.1 188.4h0M598 184.8h0M598.1 179.3h0M598.4 176.6h0M596.8 173h0M597.2 177.5h0M596.6 181.8h0M597.2 184.8h0M598.6 190.1h0M597.5 191.4h0M598.3 195.7h0M598.8 196.7h0M599.9 198.3h0M600.1 193.2h0M600.4 190.2h0M600.7 183.6h0M601.1 181.4h0M600.6 177h0M599.9 173.8h0M601.5 171h0M600.8 174.9h0M600.4 179.3h0M600.6 182.3h0M601.3 186.7h0M600.9 188.6h0M601.8 192.9h0M602.1 196.8h0M603.6 195.6h0M602.4 192.2h0M603.3 187.7h0M605.1 183.2h0M603.9 180.8h0M604.1 175.8h0M603.8 171.5h0M603.1 168.7h0M604.1 172h0M604.4 177.6h0M604.2 180.5h0M603.6 183.2h0M604.4 186.5h0M606 192.4h0M605.6 195.2h0M605.9 195.4h0M607.4 190.7h0M607.2 184.4h0M606.8 181.8h0M607.5 179.4h0M608.4 175h0M607.7 169.7h0M607.6 168.4h0M607.8 170.8h0M607 174.1h0M606.7 179.8h0M607.6 182h0M607.7 185.7h0M608.5 190h0M608.7 193.3h0M609.3 192.4h0M609.6 189.4h0M610.9 185.9h0M612.1 180.7h0M610.7 177.9h0M611.9 173.2h0M611.6 169.7h0M610.7 166.6h0M610.4 171.3h0M611.1 172.7h0M610.7 176.8h0M610.9 180.8h0M611.2 184.2h0M612.8 189h0M611.6 193h0M613.3 192.1h0M614.6 191h0M614.2 185.6h0M615.6 181.3h0M614.7 177.3h0M614.8 174h0M615.1 169.2h0M614.2 166.2h0M614.4 168.5h0M614.6 172h0M614 175.6h0M614.7 179.7h0M615.4 182.5h0M614.7 185.9h0M615.8 191.3h0M616.7 192.8h0M616.7 188.9h0M618.1 185h0M618.6 180h0M617.9 176.6h0M618.4 173.1h0M617.8 170.5h0M618 166.7h0M618.1 168.8h0M617.7 172.1h0M617.9 178.6h0M617.7 179.7h0M618.9 183.1h0M619.2 188.6h0M619 189.4h0M620.3 191.3h0M621.9 187.6h0M620.9 186h0M622.2 180.4h0M623 177.2h0M621.6 173.1h0M622.1 171.1h0M620.4 166.4h0M622.1 169.1h0M621.6 173.1h0M621.7 175h0M621.6 181.1h0M622.3 183.5h0M622.8 187.3h0M623.2 190.2h0M623.3 193.1h0M624 187.7h0M624.6 186.2h0M624.9 183.1h0M624.8 177.9h0M624.7 173.2h0M625.2 170.4h0M624.6 165.9h0M624.8 168h0M624.2 172.6h0M624.2 176.6h0M624.8 180.6h0M625.2 185.4h0M626.9 188.1h0M626.3 192.6h0M627.5 194.9h0M627.9 193.3h0M628.3 186.9h0M628.4 183.8h0M629.1 178.8h0M629.1 176.5h0M628.1 171.9h0M629 169h0M628.4 169.3h0M627.6 173.1h0M628.1 177.1h0M629 183h0M629.4 184.6h0M629.3 188.4h0M630.6 192.9h0M631 198.1h0M630.4 190.5h0M631.2 188.5h0M632.3 183h0M631.9 181.1h0M632.2 177.3h0M632.6 172.8h0M632.2 171.1h0M631.8 170.8h0M631.4 174.9h0M633.1 180.6h0M631.5 183.2h0M632.3 185.9h0M633.6 190.2h0M633.5 192.5h0M633.7 197.5h0M634.3 195.4h0M636 189.2h0M636.2 185.6h0M635.1 182h0M635.5 179.7h0M636.5 172.8h0M636.9 168.5h0M635.7 170.7h0M636.4 176.4h0M635.1 180.7h0M635.2 184.3h0M635.7 186.2h0M637.1 192.7h0M637.5 194.4h0M638.4 197.5h0M637.8 194.9h0M640.1 190.2h0M639.5 185.2h0M641.3 182.8h0M640.2 179.5h0M639.2 174.9h0M640 171.7h0M639.5 172.5h0M640.6 175.9h0M639.9 181h0M640.6 183.9h0M639.9 189.5h0M640.3 190.6h0M641.4 195.4h0M642 200.1h0M642.1 195.7h0M643.5 192.1h0M644.3 188.3h0M643.8 186h0M643.9 181.8h0M643.9 175.9h0M644.3 172.2h0M643.9 172.6h0M644.1 176.7h0M644.4 180.3h0M643.8 185.6h0M644.1 187.6h0M644.6 193.5h0M646.1 195.7h0M645.9 201.5h0M646.7 197.9h0M647.1 193.9h0M648.2 190.4h0M648.2 185.9h0M647.6 180.3h0M648.7 177.8h0M648.3 174.4h0M648.6 173.4h0M648.2 178h0M647.9 180h0M647.5 184.5h0M648.9 189.5h0M649.4 193h0M648.9 196.7h0M650 202.1h0M650.9 198.4h0M651.2 194.4h0M652 191h0M651.9 186.4h0M652 181.7h0M653 178.5h0M651.4 175h0M652.5 172.6h0M651.6 178h0M652 180.5h0M651.8 186.1h0M652.5 190.4h0M652.6 192.9h0M653.6 196.4h0M653.4 201.7h0M654.2 197.6h0M655.3 194h0M656.2 191.7h0M655.8 187.2h0M657.4 183h0M656.2 180.5h0M656.8 175.8h0M655.3 174.7h0M655.6 179.9h0M655.6 180.8h0M655.6 186.1h0M655.7 190h0M656.7 193.8h0M657 197.4h0M659 199h0M658.8 198.3h0M659.5 194.1h0M658.8 190.5h0M661 185.7h0M661.2 186h0M659.9 179.1h0M659.8 176.1h0M659.9 174.7h0M660.9 176.5h0M659.4 181.6h0M659.7 187.1h0M659.6 189.4h0M661 193.8h0M661.9 197h0M661.6 202.9h0M663.3 199.3h0M663.4 195.1h0M663.4 191.6h0M664.5 187.8h0M665.1 186.4h0M665.1 179.7h0M664.6 176.6h0M664.9 175.5h0M664.1 178.1h0M664.2 182.5h0M665 184.3h0M664.3 188.7h0M664.3 194.3h0M664.7 196h0M665.6 201.4h0M665.6 200.6h0M666.7 197.1h0M667.1 192h0M667.9 189.5h0M667.5 184.9h0M668.2 182.8h0M668.2 177.5h0M668.4 176.7h0M668.4 179.1h0M668.6 182.5h0M667.7 187h0M667.3 188.9h0M668.9 194.5h0M669.2 195.9h0M669.4 201h0M670.7 200.4h0M671.9 196.9h0M671.5 193.1h0M671.5 187.4h0M672 185.4h0M671.4 182.3h0M672.8 177.9h0M671 174.2h0M670.9 178.7h0M671.9 183.2h0M671.3 186.9h0M671 189.5h0M672.5 194.2h0M673.1 196.8h0M672.2 202.9h0M674 202.3h0M674.8 197.8h0M675.8 192.7h0M675.4 188.9h0M675.7 186.6h0M675.4 182.3h0M675.6 179.8h0M675.9 177.5h0M675.2 178.5h0M674.4 184.7h0M674.7 184.2h0M675.9 189.8h0M674.6 193.3h0M675.4 198.8h0" stroke="#ff0000" stroke-width="3.6" stroke-linecap="round" fill="none"/>
</g>
<path d="M564.5 467.3v-4.5M564.5 90.4v4.5M631.0 467.3v-4.5M631.0 90.4v4.5M697.5 467.3v-4.5M697.5 90.4v4.5M498.0 165.8h4.5M764.0 165.8h-4.5M498.0 241.2h4.5M764.0 241.2h-4.5M498.0 316.5h4.5M764.0 316.5h-4.5M498.0 391.9h4.5M764.0 391.9h-4.5" stroke="#000" stroke-width="0.9" fill="none"/>
<rect x="498.0" y="90.4" width="266.0" height="376.9" fill="none" stroke="#000" stroke-width="1.1"/>
<path d="M464.2 291.5v-4.2" stroke="#000" stroke-width="0.6"/>
<path d="M800.3 293.5v-4.6" stroke="#000" stroke-width="0.6"/>
<g filter="url(#idf)">
<text x="43.2" y="81.5" text-anchor="end" font-size="10.3">160</text>
<text x="43.2" y="67.1" text-anchor="end" font-size="10.3">180</text>
<text x="43.2" y="52.8" text-anchor="end" font-size="10.3">200</text>
<text x="43.2" y="38.4" text-anchor="end" font-size="10.3">220</text>
<text x="43.2" y="24.1" text-anchor="end" font-size="10.3">240</text>
<text transform="translate(16.9,49.4) rotate(-90)" text-anchor="middle" font-size="11.9"><tspan font-style="italic">a</tspan> (AU)</text>
<text x="43.2" y="159.3" text-anchor="end" font-size="10.3">20</text>
<text x="43.2" y="140.2" text-anchor="end" font-size="10.3">40</text>
<text x="43.2" y="121.0" text-anchor="end" font-size="10.3">60</text>
<text x="43.2" y="101.9" text-anchor="end" font-size="10.3">80</text>
<text transform="translate(23.9,127.2) rotate(-90)" text-anchor="middle" font-size="11.9"><tspan font-style="italic">q</tspan> (AU)</text>
<text x="43.2" y="237.1" text-anchor="end" font-size="10.3">20</text>
<text x="43.2" y="225.6" text-anchor="end" font-size="10.3">30</text>
<text x="43.2" y="214.1" text-anchor="end" font-size="10.3">40</text>
<text x="43.2" y="202.6" text-anchor="end" font-size="10.3">50</text>
<text x="43.2" y="191.2" text-anchor="end" font-size="10.3">60</text>
<text x="43.2" y="179.7" text-anchor="end" font-size="10.3">70</text>
<text transform="translate(23.9,205.0) rotate(-90)" text-anchor="middle" font-size="11.9"><tspan font-style="italic">I</tspan> (deg)</text>
<text x="43.2" y="314.9" text-anchor="end" font-size="10.3">0</text>
<text x="43.2" y="286.2" text-anchor="end" font-size="10.3"><tspan font-style="italic">π</tspan></text>
<text x="43.2" y="257.5" text-anchor="end" font-size="10.3">2<tspan font-style="italic">π</tspan></text>
<text transform="translate(28.4,282.8) rotate(-90)" text-anchor="middle" font-size="11.9"><tspan font-style="italic">ω</tspan> (rad)</text>
<text x="43.2" y="392.7" text-anchor="end" font-size="10.3">0</text>
<text x="43.2" y="364.0" text-anchor="end" font-size="10.3"><tspan font-style="italic">π</tspan></text>
<text x="43.2" y="335.3" text-anchor="end" font-size="10.3">2<tspan font-style="italic">π</tspan></text>
<text transform="translate(28.4,360.6) rotate(-90)" text-anchor="middle" font-size="11.9">Ω (rad)</text>
<text x="43.2" y="470.4" text-anchor="end" font-size="10.3">0</text>
<text x="43.2" y="441.8" text-anchor="end" font-size="10.3"><tspan font-style="italic">π</tspan></text>
<text x="43.2" y="413.1" text-anchor="end" font-size="10.3">2<tspan font-style="italic">π</tspan></text>
<text transform="translate(28.4,438.4) rotate(-90)" text-anchor="middle" font-size="11.9"><tspan font-style="italic">σ</tspan> (rad)</text>
<text x="68.2" y="480.3" text-anchor="middle" font-size="10.3">−4</text>
<text x="114.6" y="480.3" text-anchor="middle" font-size="10.3">−3.5</text>
<text x="161.1" y="480.3" text-anchor="middle" font-size="10.3">−3</text>
<text x="207.5" y="480.3" text-anchor="middle" font-size="10.3">−2.5</text>
<text x="253.9" y="480.3" text-anchor="middle" font-size="10.3">−2</text>
<text x="300.3" y="480.3" text-anchor="middle" font-size="10.3">−1.5</text>
<text x="346.8" y="480.3" text-anchor="middle" font-size="10.3">−1</text>
<text x="393.2" y="480.3" text-anchor="middle" font-size="10.3">−0.5</text>
<text x="440.1" y="480.3" text-anchor="middle" font-size="10.3">0</text>
<text x="245" y="495.8" text-anchor="middle" font-size="11.9">time (Gyrs)</text>
<text x="489.9" y="93.8" text-anchor="end" font-size="10.3">80</text>
<text x="489.9" y="169.2" text-anchor="end" font-size="10.3">70</text>
<text x="489.9" y="244.6" text-anchor="end" font-size="10.3">60</text>
<text x="489.9" y="319.9" text-anchor="end" font-size="10.3">50</text>
<text x="489.9" y="395.3" text-anchor="end" font-size="10.3">40</text>
<text x="489.9" y="470.7" text-anchor="end" font-size="10.3">30</text>
<text x="770.3" y="93.5" font-size="10.3">55.6 <tspan font-size="7.5" dy="-3.2">○</tspan></text>
<text x="770.3" y="168.9" font-size="10.3">53.5 <tspan font-size="7.5" dy="-3.2">○</tspan></text>
<text x="770.3" y="244.3" font-size="10.3">50.6 <tspan font-size="7.5" dy="-3.2">○</tspan></text>
<text x="770.3" y="319.6" font-size="10.3">46.7 <tspan font-size="7.5" dy="-3.2">○</tspan></text>
<text x="770.3" y="395.0" font-size="10.3">40.9 <tspan font-size="7.5" dy="-3.2">○</tspan></text>
<text x="770.3" y="470.4" font-size="10.3">30.5 <tspan font-size="7.5" dy="-3.2">○</tspan></text>
<text x="498.0" y="483" text-anchor="middle" font-size="10.3">0</text>
<text x="564.5" y="483" text-anchor="middle" font-size="11.3" letter-spacing="0.6"><tspan font-style="italic">π</tspan>/4</text>
<text x="631.0" y="483" text-anchor="middle" font-size="11.3" letter-spacing="0.6"><tspan font-style="italic">π</tspan>/2</text>
<text x="697.5" y="483" text-anchor="middle" font-size="11.3" letter-spacing="0.6">3<tspan font-style="italic">π</tspan>/4</text>
<text x="764.0" y="483" text-anchor="middle" font-size="11.3" letter-spacing="0.6"><tspan font-style="italic">π</tspan></text>
<text x="630.5" y="499" text-anchor="middle" font-size="11.9"><tspan font-style="italic">ω</tspan> (rad)</text>
<text transform="translate(471.5,279) rotate(-90)" text-anchor="middle" font-size="11.9"><tspan font-style="italic">q</tspan> (AU)</text>
<text transform="translate(809.5,279.5) rotate(-90)" text-anchor="middle" font-size="11.9"><tspan font-style="italic">I</tspan> (deg)</text>
<text x="631" y="42" text-anchor="middle" font-size="15" textLength="220" lengthAdjust="spacing">Neptune 2:37 (<tspan font-style="italic">a</tspan><tspan font-size="10" dy="2.5">0</tspan><tspan dy="-2.5" font-size="1">​</tspan> = 210.9944 AU)</text>
<text x="631" y="61.8" text-anchor="middle" font-size="15" textLength="289.5" lengthAdjust="spacing" xml:space="preserve"><tspan font-style="italic">η</tspan><tspan font-size="10" dy="2.5">0</tspan><tspan dy="-2.5" font-size="1">​</tspan> = 0.4430  ;  2<tspan font-style="italic">π</tspan><tspan font-style="italic">J</tspan> = −0.00012 AU<tspan font-size="10" dy="-5.5">2</tspan><tspan dy="5.5" font-size="1">​</tspan>rad<tspan font-size="10" dy="-5.5">2</tspan><tspan dy="5.5" font-size="1">​</tspan>/yr</text>
</g>
</svg>
</body></html>
